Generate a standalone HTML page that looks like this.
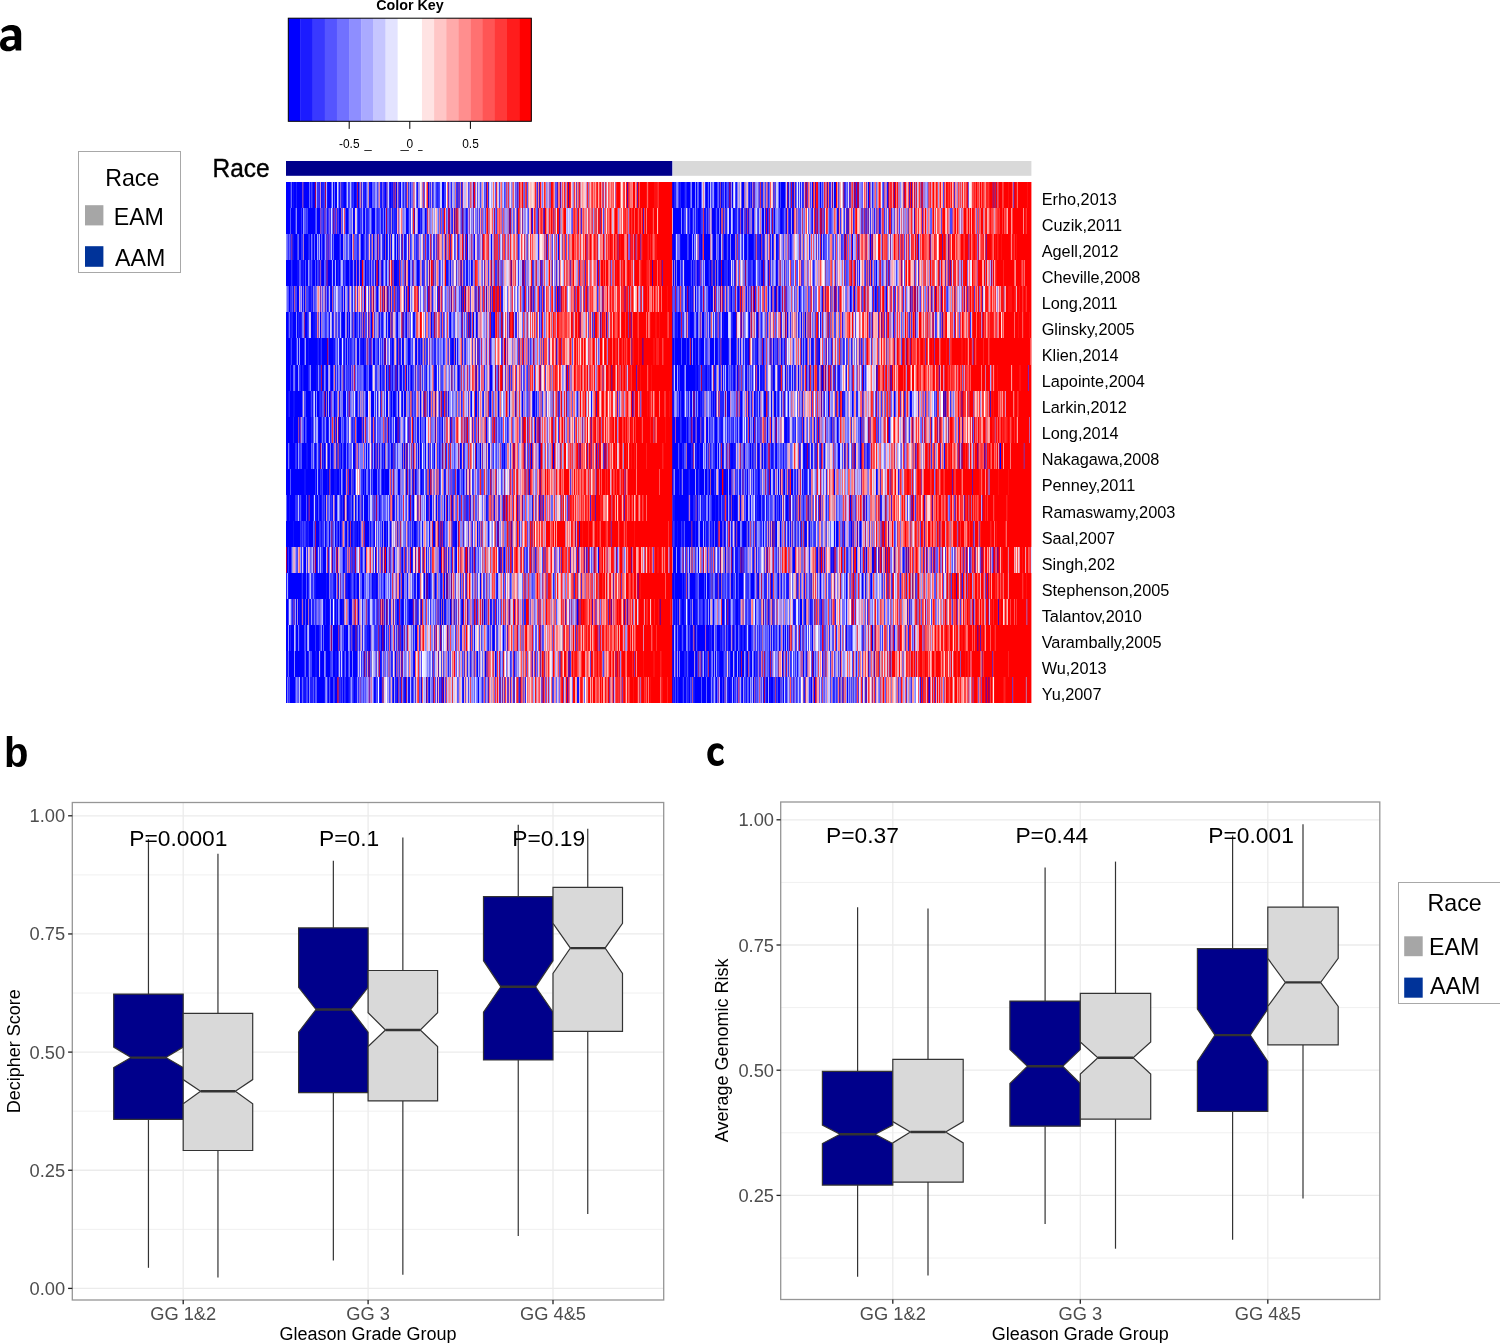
<!DOCTYPE html>
<html><head><meta charset="utf-8"><title>Figure</title>
<style>html,body{margin:0;padding:0;background:#fff;}body{width:1500px;height:1343px;overflow:hidden;}svg{display:block;will-change:transform;}</style>
</head><body>
<svg width="1500" height="1343" viewBox="0 0 1500 1343" font-family='"Liberation Sans", sans-serif'>
<rect width="1500" height="1343" fill="#fff"/>
<path fill-rule="evenodd" d="M1.3 29.6C4 26.5 7.5 25 11 25C17.5 25 21.2 27.5 21.2 33.5L21.2 50.4L15.7 50.4L15.3 48.2C13.6 50.2 11 51.3 8 51.3C3 51.3 0 48.5 0 44.2C0 38.6 5 36.3 11 36.3L14.6 36.3L14.6 35.2C14.6 31.7 13 30.3 10 30.3C7.2 30.3 4.6 31.3 2.4 32.9ZM14.6 40.1L11.3 40.1C7.9 40.1 6.1 41.5 6.1 43.6C6.1 45.6 7.4 46.7 9.5 46.7C12.1 46.7 14.6 45.2 14.6 42.9Z"/>
<text transform="translate(4.1 766.6) scale(0.94 1)" font-size="42.6" font-weight="bold">b</text>
<path d="M723.8 747.2C722 744.5 720 743.2 717.3 743.2C711 743.2 707.3 748 707.3 754.5C707.3 761.5 711 765.9 717 765.9C720.3 765.9 722.6 764.6 724 762.5L722.8 758.6C721.5 760 719.8 760.9 717.8 760.9C715 760.9 713.1 758.5 713.1 754.5C713.1 750.5 715 748.2 717.6 748.2C719.7 748.2 721.3 749 722.5 750.2Z"/>
<text x="410" y="9.8" font-size="14.3" text-anchor="middle" font-weight="bold" fill="#000">Color Key</text>
<rect x="288.30" y="18.20" width="12.45" height="103.10" fill="#0000ff"/>
<rect x="300.45" y="18.20" width="12.45" height="103.10" fill="#1c1cff"/>
<rect x="312.60" y="18.20" width="12.45" height="103.10" fill="#3939ff"/>
<rect x="324.75" y="18.20" width="12.45" height="103.10" fill="#5555ff"/>
<rect x="336.90" y="18.20" width="12.45" height="103.10" fill="#7171ff"/>
<rect x="349.05" y="18.20" width="12.45" height="103.10" fill="#8e8eff"/>
<rect x="361.20" y="18.20" width="12.45" height="103.10" fill="#aaaaff"/>
<rect x="373.35" y="18.20" width="12.45" height="103.10" fill="#c6c6ff"/>
<rect x="385.50" y="18.20" width="12.45" height="103.10" fill="#e3e3ff"/>
<rect x="397.65" y="18.20" width="12.45" height="103.10" fill="#ffffff"/>
<rect x="409.80" y="18.20" width="12.45" height="103.10" fill="#ffffff"/>
<rect x="421.95" y="18.20" width="12.45" height="103.10" fill="#ffe3e3"/>
<rect x="434.10" y="18.20" width="12.45" height="103.10" fill="#ffc6c6"/>
<rect x="446.25" y="18.20" width="12.45" height="103.10" fill="#ffaaaa"/>
<rect x="458.40" y="18.20" width="12.45" height="103.10" fill="#ff8e8e"/>
<rect x="470.55" y="18.20" width="12.45" height="103.10" fill="#ff7171"/>
<rect x="482.70" y="18.20" width="12.45" height="103.10" fill="#ff5555"/>
<rect x="494.85" y="18.20" width="12.45" height="103.10" fill="#ff3939"/>
<rect x="507.00" y="18.20" width="12.45" height="103.10" fill="#ff1c1c"/>
<rect x="519.15" y="18.20" width="12.45" height="103.10" fill="#ff0000"/>
<rect x="288.30" y="18.20" width="243.00" height="103.10" fill="none" stroke="#000" stroke-width="1"/>
<line x1="349.2" y1="121.3" x2="349.2" y2="128.9" stroke="#000" stroke-width="1"/>
<line x1="409.8" y1="121.3" x2="409.8" y2="128.9" stroke="#000" stroke-width="1"/>
<line x1="470.4" y1="121.3" x2="470.4" y2="128.9" stroke="#000" stroke-width="1"/>
<text x="349.3" y="147.6" font-size="11.9" text-anchor="middle" font-weight="normal" fill="#000">-0.5</text>
<text x="409.8" y="147.6" font-size="11.9" text-anchor="middle" font-weight="normal" fill="#000">0</text>
<text x="470.5" y="147.6" font-size="11.9" text-anchor="middle" font-weight="normal" fill="#000">0.5</text>
<line x1="364.3" y1="150.5" x2="371.8" y2="150.5" stroke="#000" stroke-width="0.8"/>
<line x1="400.4" y1="150.5" x2="408.9" y2="150.5" stroke="#000" stroke-width="0.8"/>
<line x1="418" y1="150.5" x2="422.6" y2="150.5" stroke="#000" stroke-width="0.8"/>
<rect x="78.5" y="151.5" width="102" height="121" fill="#fff" stroke="#a8a8a8" stroke-width="1"/>
<text x="105.2" y="186.1" font-size="23.2" text-anchor="start" font-weight="normal" fill="#000">Race</text>
<rect x="85" y="205.2" width="18.4" height="20.2" fill="#a6a6a6"/>
<text x="113.7" y="224.5" font-size="23.2" text-anchor="start" font-weight="normal" fill="#000">EAM</text>
<rect x="85" y="246.2" width="18.4" height="20.6" fill="#003399"/>
<text x="115.0" y="265.7" font-size="23.2" text-anchor="start" font-weight="normal" fill="#000">AAM</text>
<text transform="translate(212.6 177) scale(0.93 1)" font-size="26.3" stroke="#000" stroke-width="0.4">Race</text>
<rect x="286" y="161" width="386.3" height="14.8" fill="#00008b"/>
<rect x="673.0" y="161" width="358.4" height="14.8" fill="#d9d9d9"/>
<g shape-rendering="crispEdges"><path fill="#00f" d="M286 182.0h4v26.07h-4zM292 182.0h1v26.07h-1zM294 182.0h2v26.07h-2zM297 182.0h5v26.07h-5zM304 182.0h5v26.07h-5zM313 182.0h1v26.07h-1zM328 182.0h3v26.07h-3zM333 182.0h1v26.07h-1zM335 182.0h2v26.07h-2zM344 182.0h2v26.07h-2zM354 182.0h2v26.07h-2zM358 182.0h1v26.07h-1zM371 182.0h1v26.07h-1zM385 182.0h1v26.07h-1zM390 182.0h1v26.07h-1zM396 182.0h1v26.07h-1zM400 182.0h1v26.07h-1zM442 182.0h2v26.07h-2zM673 182.0h1v26.07h-1zM681 182.0h3v26.07h-3zM687 182.0h3v26.07h-3zM692 182.0h3v26.07h-3zM696 182.0h1v26.07h-1zM699 182.0h2v26.07h-2zM706 182.0h1v26.07h-1zM709 182.0h1v26.07h-1zM715 182.0h2v26.07h-2zM721 182.0h1v26.07h-1zM725 182.0h1v26.07h-1zM732 182.0h1v26.07h-1zM742 182.0h2v26.07h-2zM779 182.0h1v26.07h-1zM781 182.0h4v26.07h-4zM812 182.0h1v26.07h-1zM820 182.0h1v26.07h-1zM834 182.0h1v26.07h-1zM868 182.0h1v26.07h-1zM286 208.07h4v26.07h-4zM291 208.07h4v26.07h-4zM297 208.07h4v26.07h-4zM302 208.07h1v26.07h-1zM308 208.07h7v26.07h-7zM317 208.07h3v26.07h-3zM339 208.07h2v26.07h-2zM346 208.07h2v26.07h-2zM353 208.07h1v26.07h-1zM364 208.07h1v26.07h-1zM372 208.07h3v26.07h-3zM384 208.07h1v26.07h-1zM406 208.07h2v26.07h-2zM418 208.07h2v26.07h-2zM425 208.07h1v26.07h-1zM673 208.07h8v26.07h-8zM682 208.07h1v26.07h-1zM691 208.07h1v26.07h-1zM698 208.07h2v26.07h-2zM712 208.07h3v26.07h-3zM718 208.07h1v26.07h-1zM720 208.07h1v26.07h-1zM729 208.07h1v26.07h-1zM733 208.07h1v26.07h-1zM742 208.07h1v26.07h-1zM753 208.07h1v26.07h-1zM762 208.07h2v26.07h-2zM767 208.07h1v26.07h-1zM774 208.07h1v26.07h-1zM781 208.07h1v26.07h-1zM792 208.07h1v26.07h-1zM294 234.15h3v26.07h-3zM299 234.15h2v26.07h-2zM304 234.15h4v26.07h-4zM310 234.15h1v26.07h-1zM313 234.15h1v26.07h-1zM315 234.15h2v26.07h-2zM320 234.15h1v26.07h-1zM323 234.15h1v26.07h-1zM334 234.15h5v26.07h-5zM341 234.15h2v26.07h-2zM351 234.15h1v26.07h-1zM361 234.15h2v26.07h-2zM373 234.15h1v26.07h-1zM384 234.15h1v26.07h-1zM386 234.15h1v26.07h-1zM391 234.15h1v26.07h-1zM395 234.15h1v26.07h-1zM397 234.15h1v26.07h-1zM467 234.15h1v26.07h-1zM491 234.15h1v26.07h-1zM558 234.15h1v26.07h-1zM673 234.15h2v26.07h-2zM681 234.15h6v26.07h-6zM689 234.15h3v26.07h-3zM693 234.15h1v26.07h-1zM701 234.15h1v26.07h-1zM704 234.15h6v26.07h-6zM713 234.15h3v26.07h-3zM719 234.15h2v26.07h-2zM724 234.15h2v26.07h-2zM729 234.15h1v26.07h-1zM731 234.15h4v26.07h-4zM745 234.15h2v26.07h-2zM749 234.15h4v26.07h-4zM760 234.15h1v26.07h-1zM772 234.15h1v26.07h-1zM776 234.15h1v26.07h-1zM852 234.15h1v26.07h-1zM870 234.15h1v26.07h-1zM286 260.23h5v26.07h-5zM293 260.23h4v26.07h-4zM304 260.23h1v26.07h-1zM306 260.23h2v26.07h-2zM313 260.23h2v26.07h-2zM316 260.23h1v26.07h-1zM322 260.23h2v26.07h-2zM328 260.23h3v26.07h-3zM333 260.23h1v26.07h-1zM336 260.23h1v26.07h-1zM339 260.23h1v26.07h-1zM346 260.23h3v26.07h-3zM351 260.23h1v26.07h-1zM355 260.23h1v26.07h-1zM357 260.23h1v26.07h-1zM360 260.23h1v26.07h-1zM365 260.23h1v26.07h-1zM375 260.23h1v26.07h-1zM378 260.23h1v26.07h-1zM382 260.23h1v26.07h-1zM394 260.23h3v26.07h-3zM409 260.23h1v26.07h-1zM417 260.23h2v26.07h-2zM471 260.23h1v26.07h-1zM673 260.23h1v26.07h-1zM675 260.23h1v26.07h-1zM677 260.23h3v26.07h-3zM685 260.23h5v26.07h-5zM692 260.23h1v26.07h-1zM697 260.23h1v26.07h-1zM705 260.23h3v26.07h-3zM710 260.23h1v26.07h-1zM716 260.23h1v26.07h-1zM719 260.23h2v26.07h-2zM722 260.23h2v26.07h-2zM728 260.23h1v26.07h-1zM753 260.23h1v26.07h-1zM762 260.23h1v26.07h-1zM776 260.23h1v26.07h-1zM876 260.23h1v26.07h-1zM289 286.3h1v26.07h-1zM297 286.3h2v26.07h-2zM304 286.3h1v26.07h-1zM331 286.3h1v26.07h-1zM344 286.3h1v26.07h-1zM364 286.3h1v26.07h-1zM377 286.3h1v26.07h-1zM409 286.3h1v26.07h-1zM557 286.3h1v26.07h-1zM685 286.3h1v26.07h-1zM695 286.3h1v26.07h-1zM709 286.3h1v26.07h-1zM711 286.3h1v26.07h-1zM731 286.3h1v26.07h-1zM738 286.3h1v26.07h-1zM754 286.3h1v26.07h-1zM771 286.3h1v26.07h-1zM775 286.3h1v26.07h-1zM779 286.3h1v26.07h-1zM799 286.3h1v26.07h-1zM850 286.3h1v26.07h-1zM854 286.3h1v26.07h-1zM875 286.3h1v26.07h-1zM886 286.3h1v26.07h-1zM286 312.38h2v26.07h-2zM293 312.38h3v26.07h-3zM297 312.38h1v26.07h-1zM305 312.38h2v26.07h-2zM311 312.38h2v26.07h-2zM320 312.38h1v26.07h-1zM342 312.38h3v26.07h-3zM347 312.38h1v26.07h-1zM349 312.38h1v26.07h-1zM355 312.38h1v26.07h-1zM371 312.38h1v26.07h-1zM389 312.38h1v26.07h-1zM397 312.38h1v26.07h-1zM406 312.38h1v26.07h-1zM431 312.38h1v26.07h-1zM450 312.38h1v26.07h-1zM473 312.38h1v26.07h-1zM476 312.38h1v26.07h-1zM678 312.38h2v26.07h-2zM690 312.38h3v26.07h-3zM697 312.38h1v26.07h-1zM702 312.38h2v26.07h-2zM722 312.38h1v26.07h-1zM724 312.38h4v26.07h-4zM733 312.38h3v26.07h-3zM749 312.38h1v26.07h-1zM757 312.38h1v26.07h-1zM787 312.38h1v26.07h-1zM801 312.38h1v26.07h-1zM805 312.38h1v26.07h-1zM286 338.45h4v26.07h-4zM292 338.45h4v26.07h-4zM298 338.45h1v26.07h-1zM300 338.45h4v26.07h-4zM306 338.45h2v26.07h-2zM309 338.45h8v26.07h-8zM319 338.45h1v26.07h-1zM322 338.45h5v26.07h-5zM329 338.45h4v26.07h-4zM340 338.45h1v26.07h-1zM346 338.45h1v26.07h-1zM357 338.45h2v26.07h-2zM363 338.45h1v26.07h-1zM373 338.45h2v26.07h-2zM392 338.45h1v26.07h-1zM397 338.45h1v26.07h-1zM402 338.45h1v26.07h-1zM408 338.45h2v26.07h-2zM416 338.45h1v26.07h-1zM452 338.45h1v26.07h-1zM455 338.45h1v26.07h-1zM673 338.45h1v26.07h-1zM675 338.45h6v26.07h-6zM682 338.45h4v26.07h-4zM687 338.45h2v26.07h-2zM691 338.45h1v26.07h-1zM693 338.45h2v26.07h-2zM696 338.45h2v26.07h-2zM701 338.45h3v26.07h-3zM710 338.45h4v26.07h-4zM715 338.45h2v26.07h-2zM722 338.45h6v26.07h-6zM731 338.45h5v26.07h-5zM748 338.45h1v26.07h-1zM757 338.45h1v26.07h-1zM763 338.45h1v26.07h-1zM773 338.45h1v26.07h-1zM781 338.45h1v26.07h-1zM806 338.45h1v26.07h-1zM819 338.45h1v26.07h-1zM286 364.52h4v26.07h-4zM291 364.52h2v26.07h-2zM296 364.52h2v26.07h-2zM301 364.52h1v26.07h-1zM304 364.52h4v26.07h-4zM311 364.52h5v26.07h-5zM322 364.52h1v26.07h-1zM326 364.52h2v26.07h-2zM331 364.52h2v26.07h-2zM364 364.52h2v26.07h-2zM369 364.52h3v26.07h-3zM380 364.52h1v26.07h-1zM386 364.52h1v26.07h-1zM397 364.52h1v26.07h-1zM400 364.52h1v26.07h-1zM406 364.52h1v26.07h-1zM411 364.52h1v26.07h-1zM435 364.52h1v26.07h-1zM458 364.52h1v26.07h-1zM490 364.52h2v26.07h-2zM675 364.52h2v26.07h-2zM680 364.52h4v26.07h-4zM686 364.52h9v26.07h-9zM697 364.52h1v26.07h-1zM706 364.52h1v26.07h-1zM710 364.52h1v26.07h-1zM722 364.52h1v26.07h-1zM727 364.52h1v26.07h-1zM734 364.52h1v26.07h-1zM737 364.52h1v26.07h-1zM746 364.52h1v26.07h-1zM758 364.52h1v26.07h-1zM773 364.52h1v26.07h-1zM785 364.52h1v26.07h-1zM798 364.52h1v26.07h-1zM822 364.52h1v26.07h-1zM863 364.52h1v26.07h-1zM286 390.6h2v26.07h-2zM290 390.6h3v26.07h-3zM295 390.6h7v26.07h-7zM306 390.6h4v26.07h-4zM315 390.6h1v26.07h-1zM317 390.6h2v26.07h-2zM325 390.6h1v26.07h-1zM327 390.6h1v26.07h-1zM329 390.6h1v26.07h-1zM334 390.6h1v26.07h-1zM343 390.6h3v26.07h-3zM356 390.6h1v26.07h-1zM366 390.6h2v26.07h-2zM371 390.6h3v26.07h-3zM386 390.6h2v26.07h-2zM391 390.6h1v26.07h-1zM393 390.6h2v26.07h-2zM398 390.6h1v26.07h-1zM402 390.6h1v26.07h-1zM404 390.6h2v26.07h-2zM420 390.6h1v26.07h-1zM429 390.6h1v26.07h-1zM471 390.6h1v26.07h-1zM475 390.6h2v26.07h-2zM490 390.6h1v26.07h-1zM498 390.6h1v26.07h-1zM522 390.6h1v26.07h-1zM533 390.6h2v26.07h-2zM679 390.6h1v26.07h-1zM682 390.6h2v26.07h-2zM691 390.6h1v26.07h-1zM699 390.6h1v26.07h-1zM713 390.6h1v26.07h-1zM715 390.6h1v26.07h-1zM727 390.6h1v26.07h-1zM729 390.6h1v26.07h-1zM741 390.6h1v26.07h-1zM754 390.6h1v26.07h-1zM764 390.6h2v26.07h-2zM771 390.6h1v26.07h-1zM774 390.6h2v26.07h-2zM828 390.6h1v26.07h-1zM852 390.6h1v26.07h-1zM894 390.6h1v26.07h-1zM910 390.6h1v26.07h-1zM286 416.67h7v26.07h-7zM294 416.67h4v26.07h-4zM304 416.67h1v26.07h-1zM307 416.67h4v26.07h-4zM319 416.67h2v26.07h-2zM327 416.67h1v26.07h-1zM339 416.67h2v26.07h-2zM357 416.67h4v26.07h-4zM395 416.67h2v26.07h-2zM420 416.67h1v26.07h-1zM425 416.67h1v26.07h-1zM442 416.67h1v26.07h-1zM486 416.67h1v26.07h-1zM535 416.67h1v26.07h-1zM673 416.67h1v26.07h-1zM676 416.67h4v26.07h-4zM682 416.67h4v26.07h-4zM687 416.67h1v26.07h-1zM693 416.67h2v26.07h-2zM697 416.67h3v26.07h-3zM707 416.67h1v26.07h-1zM715 416.67h2v26.07h-2zM740 416.67h2v26.07h-2zM749 416.67h1v26.07h-1zM753 416.67h1v26.07h-1zM767 416.67h1v26.07h-1zM771 416.67h1v26.07h-1zM785 416.67h2v26.07h-2zM803 416.67h1v26.07h-1zM837 416.67h1v26.07h-1zM860 416.67h1v26.07h-1zM286 442.75h2v26.07h-2zM290 442.75h5v26.07h-5zM297 442.75h1v26.07h-1zM302 442.75h4v26.07h-4zM308 442.75h3v26.07h-3zM315 442.75h1v26.07h-1zM324 442.75h1v26.07h-1zM328 442.75h1v26.07h-1zM331 442.75h1v26.07h-1zM341 442.75h1v26.07h-1zM344 442.75h2v26.07h-2zM353 442.75h2v26.07h-2zM366 442.75h1v26.07h-1zM374 442.75h1v26.07h-1zM384 442.75h1v26.07h-1zM391 442.75h1v26.07h-1zM404 442.75h1v26.07h-1zM418 442.75h1v26.07h-1zM420 442.75h1v26.07h-1zM425 442.75h1v26.07h-1zM434 442.75h1v26.07h-1zM460 442.75h1v26.07h-1zM476 442.75h1v26.07h-1zM480 442.75h1v26.07h-1zM504 442.75h1v26.07h-1zM531 442.75h1v26.07h-1zM539 442.75h1v26.07h-1zM553 442.75h1v26.07h-1zM673 442.75h5v26.07h-5zM680 442.75h2v26.07h-2zM687 442.75h4v26.07h-4zM697 442.75h2v26.07h-2zM700 442.75h3v26.07h-3zM715 442.75h2v26.07h-2zM718 442.75h1v26.07h-1zM722 442.75h1v26.07h-1zM731 442.75h2v26.07h-2zM744 442.75h1v26.07h-1zM750 442.75h1v26.07h-1zM758 442.75h1v26.07h-1zM762 442.75h1v26.07h-1zM776 442.75h1v26.07h-1zM804 442.75h1v26.07h-1zM838 442.75h2v26.07h-2zM860 442.75h1v26.07h-1zM1000 442.75h1v26.07h-1zM286 468.82h4v26.07h-4zM291 468.82h13v26.07h-13zM306 468.82h9v26.07h-9zM316 468.82h1v26.07h-1zM319 468.82h1v26.07h-1zM323 468.82h4v26.07h-4zM328 468.82h1v26.07h-1zM331 468.82h3v26.07h-3zM337 468.82h2v26.07h-2zM340 468.82h1v26.07h-1zM343 468.82h2v26.07h-2zM349 468.82h2v26.07h-2zM354 468.82h1v26.07h-1zM363 468.82h1v26.07h-1zM365 468.82h1v26.07h-1zM373 468.82h4v26.07h-4zM382 468.82h2v26.07h-2zM385 468.82h4v26.07h-4zM398 468.82h2v26.07h-2zM406 468.82h1v26.07h-1zM415 468.82h1v26.07h-1zM421 468.82h1v26.07h-1zM457 468.82h2v26.07h-2zM463 468.82h1v26.07h-1zM675 468.82h4v26.07h-4zM680 468.82h1v26.07h-1zM683 468.82h5v26.07h-5zM690 468.82h5v26.07h-5zM696 468.82h2v26.07h-2zM700 468.82h4v26.07h-4zM705 468.82h2v26.07h-2zM709 468.82h1v26.07h-1zM711 468.82h3v26.07h-3zM719 468.82h2v26.07h-2zM724 468.82h2v26.07h-2zM727 468.82h1v26.07h-1zM729 468.82h2v26.07h-2zM747 468.82h1v26.07h-1zM758 468.82h1v26.07h-1zM770 468.82h1v26.07h-1zM778 468.82h1v26.07h-1zM784 468.82h1v26.07h-1zM791 468.82h2v26.07h-2zM834 468.82h1v26.07h-1zM876 468.82h1v26.07h-1zM287 494.9h2v26.07h-2zM290 494.9h5v26.07h-5zM302 494.9h4v26.07h-4zM307 494.9h1v26.07h-1zM310 494.9h3v26.07h-3zM317 494.9h1v26.07h-1zM320 494.9h1v26.07h-1zM325 494.9h1v26.07h-1zM335 494.9h2v26.07h-2zM343 494.9h1v26.07h-1zM347 494.9h1v26.07h-1zM352 494.9h1v26.07h-1zM355 494.9h1v26.07h-1zM358 494.9h1v26.07h-1zM364 494.9h4v26.07h-4zM393 494.9h1v26.07h-1zM409 494.9h1v26.07h-1zM413 494.9h1v26.07h-1zM426 494.9h1v26.07h-1zM430 494.9h2v26.07h-2zM436 494.9h1v26.07h-1zM444 494.9h1v26.07h-1zM447 494.9h1v26.07h-1zM675 494.9h13v26.07h-13zM691 494.9h2v26.07h-2zM697 494.9h1v26.07h-1zM708 494.9h1v26.07h-1zM712 494.9h3v26.07h-3zM716 494.9h2v26.07h-2zM720 494.9h1v26.07h-1zM727 494.9h1v26.07h-1zM732 494.9h1v26.07h-1zM734 494.9h3v26.07h-3zM740 494.9h1v26.07h-1zM746 494.9h2v26.07h-2zM759 494.9h2v26.07h-2zM775 494.9h1v26.07h-1zM779 494.9h1v26.07h-1zM786 494.9h2v26.07h-2zM850 494.9h1v26.07h-1zM286 520.97h7v26.07h-7zM294 520.97h6v26.07h-6zM309 520.97h4v26.07h-4zM316 520.97h3v26.07h-3zM325 520.97h1v26.07h-1zM329 520.97h1v26.07h-1zM335 520.97h1v26.07h-1zM338 520.97h1v26.07h-1zM340 520.97h1v26.07h-1zM346 520.97h1v26.07h-1zM349 520.97h1v26.07h-1zM351 520.97h1v26.07h-1zM357 520.97h1v26.07h-1zM359 520.97h1v26.07h-1zM365 520.97h4v26.07h-4zM382 520.97h1v26.07h-1zM384 520.97h2v26.07h-2zM387 520.97h1v26.07h-1zM414 520.97h2v26.07h-2zM433 520.97h2v26.07h-2zM455 520.97h2v26.07h-2zM477 520.97h1v26.07h-1zM675 520.97h2v26.07h-2zM678 520.97h3v26.07h-3zM685 520.97h6v26.07h-6zM693 520.97h2v26.07h-2zM696 520.97h2v26.07h-2zM700 520.97h3v26.07h-3zM704 520.97h1v26.07h-1zM713 520.97h1v26.07h-1zM715 520.97h2v26.07h-2zM720 520.97h2v26.07h-2zM724 520.97h1v26.07h-1zM735 520.97h1v26.07h-1zM738 520.97h2v26.07h-2zM743 520.97h3v26.07h-3zM763 520.97h1v26.07h-1zM776 520.97h1v26.07h-1zM780 520.97h1v26.07h-1zM805 520.97h1v26.07h-1zM809 520.97h1v26.07h-1zM834 520.97h1v26.07h-1zM836 520.97h2v26.07h-2zM851 520.97h1v26.07h-1zM860 520.97h1v26.07h-1zM287 547.05h1v26.07h-1zM289 547.05h2v26.07h-2zM304 547.05h2v26.07h-2zM316 547.05h1v26.07h-1zM323 547.05h3v26.07h-3zM343 547.05h1v26.07h-1zM365 547.05h1v26.07h-1zM375 547.05h1v26.07h-1zM386 547.05h1v26.07h-1zM402 547.05h1v26.07h-1zM411 547.05h1v26.07h-1zM440 547.05h1v26.07h-1zM456 547.05h1v26.07h-1zM504 547.05h1v26.07h-1zM598 547.05h1v26.07h-1zM673 547.05h3v26.07h-3zM677 547.05h3v26.07h-3zM698 547.05h1v26.07h-1zM725 547.05h1v26.07h-1zM732 547.05h1v26.07h-1zM793 547.05h2v26.07h-2zM817 547.05h1v26.07h-1zM856 547.05h1v26.07h-1zM866 547.05h1v26.07h-1zM872 547.05h1v26.07h-1zM289 573.12h12v26.07h-12zM303 573.12h3v26.07h-3zM307 573.12h1v26.07h-1zM316 573.12h10v26.07h-10zM327 573.12h2v26.07h-2zM335 573.12h1v26.07h-1zM348 573.12h2v26.07h-2zM354 573.12h1v26.07h-1zM357 573.12h2v26.07h-2zM362 573.12h2v26.07h-2zM372 573.12h1v26.07h-1zM376 573.12h1v26.07h-1zM384 573.12h1v26.07h-1zM402 573.12h2v26.07h-2zM417 573.12h2v26.07h-2zM424 573.12h1v26.07h-1zM429 573.12h1v26.07h-1zM435 573.12h1v26.07h-1zM444 573.12h1v26.07h-1zM480 573.12h1v26.07h-1zM673 573.12h1v26.07h-1zM675 573.12h7v26.07h-7zM683 573.12h1v26.07h-1zM690 573.12h5v26.07h-5zM699 573.12h5v26.07h-5zM705 573.12h1v26.07h-1zM707 573.12h2v26.07h-2zM720 573.12h1v26.07h-1zM731 573.12h2v26.07h-2zM736 573.12h1v26.07h-1zM739 573.12h4v26.07h-4zM751 573.12h3v26.07h-3zM758 573.12h1v26.07h-1zM771 573.12h1v26.07h-1zM778 573.12h1v26.07h-1zM820 573.12h1v26.07h-1zM846 573.12h1v26.07h-1zM862 573.12h1v26.07h-1zM871 573.12h1v26.07h-1zM286 599.2h2v26.07h-2zM296 599.2h1v26.07h-1zM298 599.2h1v26.07h-1zM300 599.2h1v26.07h-1zM304 599.2h1v26.07h-1zM306 599.2h2v26.07h-2zM324 599.2h1v26.07h-1zM326 599.2h3v26.07h-3zM331 599.2h1v26.07h-1zM335 599.2h1v26.07h-1zM337 599.2h1v26.07h-1zM340 599.2h2v26.07h-2zM349 599.2h2v26.07h-2zM358 599.2h1v26.07h-1zM397 599.2h1v26.07h-1zM402 599.2h1v26.07h-1zM409 599.2h3v26.07h-3zM440 599.2h1v26.07h-1zM442 599.2h1v26.07h-1zM450 599.2h1v26.07h-1zM462 599.2h1v26.07h-1zM484 599.2h1v26.07h-1zM577 599.2h1v26.07h-1zM676 599.2h1v26.07h-1zM678 599.2h1v26.07h-1zM682 599.2h2v26.07h-2zM688 599.2h2v26.07h-2zM693 599.2h2v26.07h-2zM703 599.2h1v26.07h-1zM709 599.2h1v26.07h-1zM713 599.2h1v26.07h-1zM722 599.2h2v26.07h-2zM729 599.2h1v26.07h-1zM736 599.2h2v26.07h-2zM800 599.2h2v26.07h-2zM805 599.2h1v26.07h-1zM286 625.27h2v26.07h-2zM289 625.27h1v26.07h-1zM291 625.27h3v26.07h-3zM296 625.27h2v26.07h-2zM300 625.27h4v26.07h-4zM306 625.27h1v26.07h-1zM310 625.27h5v26.07h-5zM316 625.27h3v26.07h-3zM322 625.27h1v26.07h-1zM324 625.27h5v26.07h-5zM333 625.27h5v26.07h-5zM344 625.27h1v26.07h-1zM346 625.27h2v26.07h-2zM353 625.27h2v26.07h-2zM369 625.27h1v26.07h-1zM381 625.27h1v26.07h-1zM384 625.27h1v26.07h-1zM402 625.27h1v26.07h-1zM415 625.27h2v26.07h-2zM493 625.27h1v26.07h-1zM503 625.27h1v26.07h-1zM673 625.27h1v26.07h-1zM676 625.27h1v26.07h-1zM680 625.27h1v26.07h-1zM684 625.27h2v26.07h-2zM691 625.27h1v26.07h-1zM695 625.27h1v26.07h-1zM698 625.27h7v26.07h-7zM707 625.27h2v26.07h-2zM712 625.27h2v26.07h-2zM717 625.27h3v26.07h-3zM729 625.27h1v26.07h-1zM733 625.27h1v26.07h-1zM736 625.27h2v26.07h-2zM741 625.27h1v26.07h-1zM744 625.27h1v26.07h-1zM749 625.27h2v26.07h-2zM779 625.27h1v26.07h-1zM783 625.27h1v26.07h-1zM785 625.27h1v26.07h-1zM812 625.27h1v26.07h-1zM846 625.27h1v26.07h-1zM872 625.27h1v26.07h-1zM289 651.35h5v26.07h-5zM295 651.35h9v26.07h-9zM306 651.35h2v26.07h-2zM312 651.35h3v26.07h-3zM317 651.35h2v26.07h-2zM321 651.35h3v26.07h-3zM326 651.35h4v26.07h-4zM333 651.35h2v26.07h-2zM337 651.35h1v26.07h-1zM343 651.35h1v26.07h-1zM346 651.35h2v26.07h-2zM350 651.35h2v26.07h-2zM353 651.35h4v26.07h-4zM395 651.35h1v26.07h-1zM477 651.35h1v26.07h-1zM485 651.35h1v26.07h-1zM495 651.35h1v26.07h-1zM673 651.35h1v26.07h-1zM678 651.35h1v26.07h-1zM680 651.35h4v26.07h-4zM689 651.35h5v26.07h-5zM696 651.35h1v26.07h-1zM704 651.35h1v26.07h-1zM709 651.35h1v26.07h-1zM713 651.35h1v26.07h-1zM715 651.35h1v26.07h-1zM720 651.35h3v26.07h-3zM731 651.35h2v26.07h-2zM735 651.35h2v26.07h-2zM738 651.35h1v26.07h-1zM740 651.35h1v26.07h-1zM742 651.35h2v26.07h-2zM747 651.35h1v26.07h-1zM751 651.35h1v26.07h-1zM754 651.35h1v26.07h-1zM782 651.35h1v26.07h-1zM803 651.35h1v26.07h-1zM286 677.42h1v26.07h-1zM290 677.42h5v26.07h-5zM300 677.42h1v26.07h-1zM308 677.42h1v26.07h-1zM317 677.42h7v26.07h-7zM328 677.42h1v26.07h-1zM331 677.42h2v26.07h-2zM335 677.42h2v26.07h-2zM343 677.42h1v26.07h-1zM346 677.42h2v26.07h-2zM354 677.42h1v26.07h-1zM374 677.42h1v26.07h-1zM380 677.42h1v26.07h-1zM393 677.42h1v26.07h-1zM397 677.42h1v26.07h-1zM405 677.42h1v26.07h-1zM429 677.42h1v26.07h-1zM478 677.42h1v26.07h-1zM676 677.42h1v26.07h-1zM679 677.42h3v26.07h-3zM684 677.42h2v26.07h-2zM689 677.42h1v26.07h-1zM695 677.42h6v26.07h-6zM702 677.42h4v26.07h-4zM707 677.42h3v26.07h-3zM716 677.42h1v26.07h-1zM720 677.42h2v26.07h-2zM723 677.42h1v26.07h-1zM729 677.42h1v26.07h-1zM733 677.42h1v26.07h-1zM742 677.42h1v26.07h-1zM749 677.42h1v26.07h-1zM753 677.42h1v26.07h-1zM767 677.42h1v26.07h-1zM769 677.42h1v26.07h-1zM771 677.42h2v26.07h-2zM778 677.42h2v26.07h-2zM783 677.42h1v26.07h-1zM811 677.42h1v26.07h-1zM814 677.42h1v26.07h-1zM847 677.42h1v26.07h-1z"/><path fill="#22f" d="M290 182.0h1v26.07h-1zM296 182.0h1v26.07h-1zM312 182.0h1v26.07h-1zM322 182.0h2v26.07h-2zM342 182.0h1v26.07h-1zM352 182.0h1v26.07h-1zM356 182.0h1v26.07h-1zM363 182.0h2v26.07h-2zM380 182.0h1v26.07h-1zM384 182.0h1v26.07h-1zM389 182.0h1v26.07h-1zM391 182.0h1v26.07h-1zM399 182.0h1v26.07h-1zM403 182.0h1v26.07h-1zM410 182.0h1v26.07h-1zM437 182.0h1v26.07h-1zM451 182.0h1v26.07h-1zM461 182.0h1v26.07h-1zM674 182.0h2v26.07h-2zM680 182.0h1v26.07h-1zM686 182.0h1v26.07h-1zM705 182.0h1v26.07h-1zM723 182.0h1v26.07h-1zM761 182.0h2v26.07h-2zM768 182.0h1v26.07h-1zM795 182.0h1v26.07h-1zM800 182.0h1v26.07h-1zM802 182.0h1v26.07h-1zM829 182.0h1v26.07h-1zM856 182.0h1v26.07h-1zM872 182.0h1v26.07h-1zM323 208.07h1v26.07h-1zM337 208.07h1v26.07h-1zM366 208.07h2v26.07h-2zM377 208.07h1v26.07h-1zM382 208.07h1v26.07h-1zM394 208.07h2v26.07h-2zM408 208.07h1v26.07h-1zM452 208.07h1v26.07h-1zM692 208.07h1v26.07h-1zM694 208.07h1v26.07h-1zM697 208.07h1v26.07h-1zM723 208.07h1v26.07h-1zM726 208.07h1v26.07h-1zM735 208.07h2v26.07h-2zM783 208.07h1v26.07h-1zM874 208.07h1v26.07h-1zM308 234.15h1v26.07h-1zM322 234.15h1v26.07h-1zM332 234.15h1v26.07h-1zM339 234.15h1v26.07h-1zM357 234.15h1v26.07h-1zM366 234.15h1v26.07h-1zM370 234.15h1v26.07h-1zM379 234.15h1v26.07h-1zM383 234.15h1v26.07h-1zM387 234.15h1v26.07h-1zM416 234.15h1v26.07h-1zM427 234.15h2v26.07h-2zM458 234.15h1v26.07h-1zM465 234.15h1v26.07h-1zM518 234.15h1v26.07h-1zM538 234.15h1v26.07h-1zM675 234.15h1v26.07h-1zM742 234.15h1v26.07h-1zM748 234.15h1v26.07h-1zM757 234.15h3v26.07h-3zM770 234.15h1v26.07h-1zM809 234.15h1v26.07h-1zM823 234.15h1v26.07h-1zM303 260.23h1v26.07h-1zM310 260.23h1v26.07h-1zM338 260.23h1v26.07h-1zM343 260.23h1v26.07h-1zM367 260.23h2v26.07h-2zM422 260.23h1v26.07h-1zM439 260.23h1v26.07h-1zM472 260.23h1v26.07h-1zM681 260.23h1v26.07h-1zM694 260.23h1v26.07h-1zM724 260.23h3v26.07h-3zM734 260.23h1v26.07h-1zM748 260.23h3v26.07h-3zM813 260.23h1v26.07h-1zM352 286.3h1v26.07h-1zM376 286.3h1v26.07h-1zM397 286.3h1v26.07h-1zM427 286.3h1v26.07h-1zM432 286.3h1v26.07h-1zM437 286.3h1v26.07h-1zM502 286.3h1v26.07h-1zM533 286.3h1v26.07h-1zM686 286.3h1v26.07h-1zM691 286.3h1v26.07h-1zM701 286.3h1v26.07h-1zM723 286.3h1v26.07h-1zM737 286.3h1v26.07h-1zM774 286.3h1v26.07h-1zM876 286.3h1v26.07h-1zM288 312.38h1v26.07h-1zM291 312.38h2v26.07h-2zM298 312.38h1v26.07h-1zM301 312.38h1v26.07h-1zM307 312.38h1v26.07h-1zM315 312.38h2v26.07h-2zM341 312.38h1v26.07h-1zM381 312.38h1v26.07h-1zM396 312.38h1v26.07h-1zM449 312.38h1v26.07h-1zM492 312.38h1v26.07h-1zM515 312.38h2v26.07h-2zM677 312.38h1v26.07h-1zM688 312.38h2v26.07h-2zM696 312.38h1v26.07h-1zM715 312.38h1v26.07h-1zM719 312.38h1v26.07h-1zM732 312.38h1v26.07h-1zM756 312.38h1v26.07h-1zM761 312.38h1v26.07h-1zM767 312.38h1v26.07h-1zM781 312.38h1v26.07h-1zM798 312.38h1v26.07h-1zM318 338.45h1v26.07h-1zM341 338.45h1v26.07h-1zM350 338.45h1v26.07h-1zM354 338.45h1v26.07h-1zM360 338.45h1v26.07h-1zM364 338.45h2v26.07h-2zM369 338.45h1v26.07h-1zM382 338.45h1v26.07h-1zM390 338.45h1v26.07h-1zM393 338.45h1v26.07h-1zM400 338.45h1v26.07h-1zM418 338.45h1v26.07h-1zM434 338.45h2v26.07h-2zM443 338.45h1v26.07h-1zM450 338.45h1v26.07h-1zM462 338.45h1v26.07h-1zM465 338.45h1v26.07h-1zM695 338.45h1v26.07h-1zM699 338.45h1v26.07h-1zM719 338.45h1v26.07h-1zM728 338.45h1v26.07h-1zM738 338.45h1v26.07h-1zM743 338.45h1v26.07h-1zM747 338.45h1v26.07h-1zM755 338.45h2v26.07h-2zM813 338.45h1v26.07h-1zM831 338.45h1v26.07h-1zM843 338.45h1v26.07h-1zM851 338.45h1v26.07h-1zM861 338.45h1v26.07h-1zM300 364.52h1v26.07h-1zM302 364.52h1v26.07h-1zM308 364.52h1v26.07h-1zM319 364.52h2v26.07h-2zM330 364.52h1v26.07h-1zM335 364.52h1v26.07h-1zM337 364.52h1v26.07h-1zM383 364.52h1v26.07h-1zM388 364.52h1v26.07h-1zM436 364.52h1v26.07h-1zM479 364.52h1v26.07h-1zM484 364.52h1v26.07h-1zM509 364.52h1v26.07h-1zM698 364.52h2v26.07h-2zM702 364.52h3v26.07h-3zM708 364.52h1v26.07h-1zM731 364.52h1v26.07h-1zM752 364.52h1v26.07h-1zM762 364.52h1v26.07h-1zM789 364.52h2v26.07h-2zM794 364.52h1v26.07h-1zM818 364.52h1v26.07h-1zM835 364.52h1v26.07h-1zM289 390.6h1v26.07h-1zM319 390.6h1v26.07h-1zM321 390.6h1v26.07h-1zM335 390.6h2v26.07h-2zM380 390.6h1v26.07h-1zM412 390.6h1v26.07h-1zM442 390.6h1v26.07h-1zM483 390.6h1v26.07h-1zM489 390.6h1v26.07h-1zM577 390.6h1v26.07h-1zM688 390.6h1v26.07h-1zM696 390.6h1v26.07h-1zM700 390.6h1v26.07h-1zM720 390.6h4v26.07h-4zM751 390.6h1v26.07h-1zM755 390.6h1v26.07h-1zM757 390.6h1v26.07h-1zM781 390.6h1v26.07h-1zM824 390.6h1v26.07h-1zM843 390.6h2v26.07h-2zM856 390.6h2v26.07h-2zM293 416.67h1v26.07h-1zM311 416.67h1v26.07h-1zM321 416.67h1v26.07h-1zM323 416.67h1v26.07h-1zM328 416.67h1v26.07h-1zM330 416.67h1v26.07h-1zM352 416.67h1v26.07h-1zM371 416.67h1v26.07h-1zM390 416.67h1v26.07h-1zM399 416.67h1v26.07h-1zM404 416.67h1v26.07h-1zM413 416.67h1v26.07h-1zM439 416.67h1v26.07h-1zM507 416.67h1v26.07h-1zM681 416.67h1v26.07h-1zM709 416.67h1v26.07h-1zM720 416.67h1v26.07h-1zM727 416.67h1v26.07h-1zM733 416.67h1v26.07h-1zM746 416.67h1v26.07h-1zM787 416.67h1v26.07h-1zM795 416.67h1v26.07h-1zM289 442.75h1v26.07h-1zM314 442.75h1v26.07h-1zM336 442.75h1v26.07h-1zM339 442.75h1v26.07h-1zM343 442.75h1v26.07h-1zM372 442.75h1v26.07h-1zM388 442.75h1v26.07h-1zM421 442.75h1v26.07h-1zM446 442.75h1v26.07h-1zM461 442.75h1v26.07h-1zM682 442.75h1v26.07h-1zM691 442.75h1v26.07h-1zM696 442.75h1v26.07h-1zM699 442.75h1v26.07h-1zM710 442.75h1v26.07h-1zM723 442.75h1v26.07h-1zM735 442.75h1v26.07h-1zM759 442.75h1v26.07h-1zM799 442.75h1v26.07h-1zM812 442.75h1v26.07h-1zM816 442.75h1v26.07h-1zM820 442.75h1v26.07h-1zM848 442.75h1v26.07h-1zM868 442.75h1v26.07h-1zM321 468.82h1v26.07h-1zM368 468.82h1v26.07h-1zM371 468.82h1v26.07h-1zM378 468.82h1v26.07h-1zM409 468.82h1v26.07h-1zM412 468.82h1v26.07h-1zM422 468.82h2v26.07h-2zM445 468.82h1v26.07h-1zM679 468.82h1v26.07h-1zM681 468.82h1v26.07h-1zM689 468.82h1v26.07h-1zM739 468.82h1v26.07h-1zM745 468.82h1v26.07h-1zM773 468.82h1v26.07h-1zM783 468.82h1v26.07h-1zM795 468.82h1v26.07h-1zM809 468.82h2v26.07h-2zM299 494.9h1v26.07h-1zM313 494.9h1v26.07h-1zM323 494.9h1v26.07h-1zM330 494.9h1v26.07h-1zM340 494.9h1v26.07h-1zM349 494.9h1v26.07h-1zM394 494.9h1v26.07h-1zM412 494.9h1v26.07h-1zM438 494.9h1v26.07h-1zM459 494.9h1v26.07h-1zM466 494.9h2v26.07h-2zM487 494.9h1v26.07h-1zM543 494.9h1v26.07h-1zM693 494.9h2v26.07h-2zM703 494.9h2v26.07h-2zM722 494.9h2v26.07h-2zM737 494.9h1v26.07h-1zM762 494.9h1v26.07h-1zM777 494.9h1v26.07h-1zM788 494.9h1v26.07h-1zM795 494.9h1v26.07h-1zM803 494.9h1v26.07h-1zM826 494.9h1v26.07h-1zM881 494.9h1v26.07h-1zM301 520.97h1v26.07h-1zM303 520.97h1v26.07h-1zM308 520.97h1v26.07h-1zM341 520.97h1v26.07h-1zM354 520.97h1v26.07h-1zM358 520.97h1v26.07h-1zM373 520.97h1v26.07h-1zM416 520.97h1v26.07h-1zM472 520.97h1v26.07h-1zM674 520.97h1v26.07h-1zM695 520.97h1v26.07h-1zM712 520.97h1v26.07h-1zM725 520.97h1v26.07h-1zM785 520.97h1v26.07h-1zM800 520.97h1v26.07h-1zM317 547.05h1v26.07h-1zM381 547.05h1v26.07h-1zM405 547.05h1v26.07h-1zM412 547.05h1v26.07h-1zM448 547.05h1v26.07h-1zM451 547.05h1v26.07h-1zM475 547.05h1v26.07h-1zM535 547.05h1v26.07h-1zM707 547.05h1v26.07h-1zM809 547.05h1v26.07h-1zM816 547.05h1v26.07h-1zM832 547.05h1v26.07h-1zM847 547.05h1v26.07h-1zM860 547.05h1v26.07h-1zM286 573.12h1v26.07h-1zM308 573.12h1v26.07h-1zM314 573.12h1v26.07h-1zM333 573.12h1v26.07h-1zM419 573.12h1v26.07h-1zM428 573.12h1v26.07h-1zM430 573.12h1v26.07h-1zM440 573.12h1v26.07h-1zM460 573.12h1v26.07h-1zM496 573.12h1v26.07h-1zM553 573.12h1v26.07h-1zM674 573.12h1v26.07h-1zM682 573.12h1v26.07h-1zM684 573.12h2v26.07h-2zM695 573.12h1v26.07h-1zM709 573.12h1v26.07h-1zM728 573.12h1v26.07h-1zM764 573.12h2v26.07h-2zM772 573.12h1v26.07h-1zM786 573.12h1v26.07h-1zM797 573.12h1v26.07h-1zM900 573.12h1v26.07h-1zM962 573.12h1v26.07h-1zM292 599.2h1v26.07h-1zM312 599.2h2v26.07h-2zM325 599.2h1v26.07h-1zM332 599.2h1v26.07h-1zM362 599.2h1v26.07h-1zM384 599.2h1v26.07h-1zM389 599.2h1v26.07h-1zM408 599.2h1v26.07h-1zM417 599.2h1v26.07h-1zM461 599.2h1v26.07h-1zM476 599.2h1v26.07h-1zM491 599.2h1v26.07h-1zM496 599.2h1v26.07h-1zM524 599.2h2v26.07h-2zM675 599.2h1v26.07h-1zM684 599.2h2v26.07h-2zM691 599.2h1v26.07h-1zM699 599.2h1v26.07h-1zM704 599.2h1v26.07h-1zM735 599.2h1v26.07h-1zM738 599.2h1v26.07h-1zM795 599.2h1v26.07h-1zM804 599.2h1v26.07h-1zM811 599.2h1v26.07h-1zM835 599.2h1v26.07h-1zM846 599.2h1v26.07h-1zM909 599.2h1v26.07h-1zM290 625.27h1v26.07h-1zM319 625.27h1v26.07h-1zM329 625.27h1v26.07h-1zM350 625.27h1v26.07h-1zM359 625.27h1v26.07h-1zM362 625.27h1v26.07h-1zM386 625.27h1v26.07h-1zM401 625.27h1v26.07h-1zM413 625.27h1v26.07h-1zM460 625.27h2v26.07h-2zM488 625.27h1v26.07h-1zM492 625.27h1v26.07h-1zM720 625.27h1v26.07h-1zM724 625.27h1v26.07h-1zM742 625.27h2v26.07h-2zM748 625.27h1v26.07h-1zM759 625.27h1v26.07h-1zM776 625.27h1v26.07h-1zM800 625.27h1v26.07h-1zM829 625.27h1v26.07h-1zM836 625.27h1v26.07h-1zM851 625.27h1v26.07h-1zM889 625.27h1v26.07h-1zM908 625.27h1v26.07h-1zM308 651.35h1v26.07h-1zM340 651.35h1v26.07h-1zM381 651.35h1v26.07h-1zM391 651.35h1v26.07h-1zM448 651.35h1v26.07h-1zM467 651.35h1v26.07h-1zM470 651.35h1v26.07h-1zM535 651.35h1v26.07h-1zM684 651.35h2v26.07h-2zM706 651.35h1v26.07h-1zM717 651.35h1v26.07h-1zM723 651.35h1v26.07h-1zM756 651.35h1v26.07h-1zM856 651.35h1v26.07h-1zM303 677.42h1v26.07h-1zM310 677.42h3v26.07h-3zM345 677.42h1v26.07h-1zM349 677.42h1v26.07h-1zM353 677.42h1v26.07h-1zM379 677.42h1v26.07h-1zM395 677.42h2v26.07h-2zM400 677.42h1v26.07h-1zM439 677.42h1v26.07h-1zM462 677.42h1v26.07h-1zM482 677.42h1v26.07h-1zM519 677.42h1v26.07h-1zM525 677.42h1v26.07h-1zM673 677.42h1v26.07h-1zM687 677.42h2v26.07h-2zM693 677.42h1v26.07h-1zM712 677.42h1v26.07h-1zM727 677.42h1v26.07h-1zM737 677.42h1v26.07h-1zM741 677.42h1v26.07h-1zM776 677.42h1v26.07h-1zM786 677.42h1v26.07h-1zM804 677.42h1v26.07h-1zM833 677.42h1v26.07h-1z"/><path fill="#66f" d="M291 182.0h1v26.07h-1zM309 182.0h1v26.07h-1zM334 182.0h1v26.07h-1zM372 182.0h2v26.07h-2zM402 182.0h1v26.07h-1zM485 182.0h1v26.07h-1zM505 182.0h1v26.07h-1zM697 182.0h1v26.07h-1zM708 182.0h1v26.07h-1zM718 182.0h1v26.07h-1zM769 182.0h1v26.07h-1zM818 182.0h2v26.07h-2zM876 182.0h1v26.07h-1zM882 182.0h1v26.07h-1zM316 208.07h1v26.07h-1zM326 208.07h1v26.07h-1zM332 208.07h1v26.07h-1zM351 208.07h1v26.07h-1zM369 208.07h1v26.07h-1zM388 208.07h1v26.07h-1zM438 208.07h1v26.07h-1zM502 208.07h1v26.07h-1zM536 208.07h1v26.07h-1zM778 208.07h1v26.07h-1zM784 208.07h1v26.07h-1zM818 208.07h1v26.07h-1zM930 208.07h1v26.07h-1zM287 234.15h1v26.07h-1zM289 234.15h1v26.07h-1zM314 234.15h1v26.07h-1zM321 234.15h1v26.07h-1zM333 234.15h1v26.07h-1zM411 234.15h1v26.07h-1zM415 234.15h1v26.07h-1zM426 234.15h1v26.07h-1zM479 234.15h1v26.07h-1zM677 234.15h3v26.07h-3zM718 234.15h1v26.07h-1zM741 234.15h1v26.07h-1zM747 234.15h1v26.07h-1zM789 234.15h1v26.07h-1zM843 234.15h1v26.07h-1zM324 260.23h1v26.07h-1zM364 260.23h1v26.07h-1zM369 260.23h1v26.07h-1zM383 260.23h1v26.07h-1zM403 260.23h1v26.07h-1zM440 260.23h1v26.07h-1zM744 260.23h1v26.07h-1zM792 260.23h1v26.07h-1zM829 260.23h1v26.07h-1zM875 260.23h1v26.07h-1zM887 260.23h1v26.07h-1zM287 286.3h1v26.07h-1zM339 286.3h1v26.07h-1zM347 286.3h1v26.07h-1zM351 286.3h1v26.07h-1zM378 286.3h1v26.07h-1zM420 286.3h1v26.07h-1zM507 286.3h1v26.07h-1zM522 286.3h1v26.07h-1zM540 286.3h1v26.07h-1zM677 286.3h1v26.07h-1zM698 286.3h1v26.07h-1zM704 286.3h1v26.07h-1zM706 286.3h2v26.07h-2zM732 286.3h1v26.07h-1zM745 286.3h1v26.07h-1zM756 286.3h1v26.07h-1zM809 286.3h1v26.07h-1zM815 286.3h2v26.07h-2zM821 286.3h1v26.07h-1zM846 286.3h1v26.07h-1zM289 312.38h1v26.07h-1zM324 312.38h1v26.07h-1zM328 312.38h1v26.07h-1zM383 312.38h1v26.07h-1zM522 312.38h1v26.07h-1zM544 312.38h1v26.07h-1zM673 312.38h1v26.07h-1zM704 312.38h2v26.07h-2zM720 312.38h1v26.07h-1zM760 312.38h1v26.07h-1zM774 312.38h1v26.07h-1zM776 312.38h1v26.07h-1zM799 312.38h1v26.07h-1zM812 312.38h1v26.07h-1zM871 312.38h1v26.07h-1zM895 312.38h1v26.07h-1zM345 338.45h1v26.07h-1zM353 338.45h1v26.07h-1zM375 338.45h1v26.07h-1zM387 338.45h1v26.07h-1zM406 338.45h1v26.07h-1zM433 338.45h1v26.07h-1zM437 338.45h1v26.07h-1zM440 338.45h1v26.07h-1zM517 338.45h1v26.07h-1zM539 338.45h1v26.07h-1zM698 338.45h1v26.07h-1zM754 338.45h1v26.07h-1zM765 338.45h1v26.07h-1zM779 338.45h1v26.07h-1zM783 338.45h1v26.07h-1zM824 338.45h1v26.07h-1zM865 338.45h1v26.07h-1zM293 364.52h1v26.07h-1zM333 364.52h1v26.07h-1zM358 364.52h2v26.07h-2zM361 364.52h1v26.07h-1zM393 364.52h1v26.07h-1zM449 364.52h1v26.07h-1zM492 364.52h1v26.07h-1zM526 364.52h1v26.07h-1zM728 364.52h1v26.07h-1zM730 364.52h1v26.07h-1zM807 364.52h1v26.07h-1zM812 364.52h1v26.07h-1zM851 364.52h1v26.07h-1zM861 364.52h1v26.07h-1zM350 390.6h1v26.07h-1zM353 390.6h1v26.07h-1zM413 390.6h1v26.07h-1zM452 390.6h1v26.07h-1zM458 390.6h1v26.07h-1zM462 390.6h1v26.07h-1zM567 390.6h2v26.07h-2zM678 390.6h1v26.07h-1zM687 390.6h1v26.07h-1zM706 390.6h1v26.07h-1zM709 390.6h1v26.07h-1zM734 390.6h1v26.07h-1zM763 390.6h1v26.07h-1zM816 390.6h1v26.07h-1zM838 390.6h1v26.07h-1zM891 390.6h1v26.07h-1zM302 416.67h1v26.07h-1zM343 416.67h1v26.07h-1zM346 416.67h1v26.07h-1zM367 416.67h1v26.07h-1zM378 416.67h1v26.07h-1zM386 416.67h1v26.07h-1zM389 416.67h1v26.07h-1zM403 416.67h1v26.07h-1zM407 416.67h1v26.07h-1zM421 416.67h1v26.07h-1zM423 416.67h1v26.07h-1zM431 416.67h1v26.07h-1zM438 416.67h1v26.07h-1zM453 416.67h1v26.07h-1zM728 416.67h1v26.07h-1zM736 416.67h1v26.07h-1zM744 416.67h1v26.07h-1zM747 416.67h1v26.07h-1zM798 416.67h1v26.07h-1zM810 416.67h1v26.07h-1zM827 416.67h1v26.07h-1zM848 416.67h1v26.07h-1zM859 416.67h1v26.07h-1zM880 416.67h1v26.07h-1zM921 416.67h1v26.07h-1zM311 442.75h1v26.07h-1zM351 442.75h1v26.07h-1zM381 442.75h1v26.07h-1zM412 442.75h1v26.07h-1zM438 442.75h1v26.07h-1zM478 442.75h2v26.07h-2zM492 442.75h1v26.07h-1zM498 442.75h1v26.07h-1zM501 442.75h1v26.07h-1zM518 442.75h1v26.07h-1zM704 442.75h1v26.07h-1zM707 442.75h1v26.07h-1zM748 442.75h1v26.07h-1zM777 442.75h1v26.07h-1zM782 442.75h1v26.07h-1zM784 442.75h1v26.07h-1zM790 442.75h2v26.07h-2zM823 442.75h1v26.07h-1zM859 442.75h1v26.07h-1zM394 468.82h1v26.07h-1zM417 468.82h1v26.07h-1zM425 468.82h1v26.07h-1zM464 468.82h1v26.07h-1zM718 468.82h1v26.07h-1zM746 468.82h1v26.07h-1zM760 468.82h1v26.07h-1zM823 468.82h1v26.07h-1zM286 494.9h1v26.07h-1zM372 494.9h1v26.07h-1zM378 494.9h1v26.07h-1zM385 494.9h1v26.07h-1zM482 494.9h1v26.07h-1zM524 494.9h1v26.07h-1zM551 494.9h1v26.07h-1zM698 494.9h1v26.07h-1zM721 494.9h1v26.07h-1zM745 494.9h1v26.07h-1zM761 494.9h1v26.07h-1zM772 494.9h1v26.07h-1zM792 494.9h1v26.07h-1zM801 494.9h1v26.07h-1zM805 494.9h1v26.07h-1zM313 520.97h1v26.07h-1zM327 520.97h1v26.07h-1zM399 520.97h1v26.07h-1zM409 520.97h1v26.07h-1zM505 520.97h1v26.07h-1zM714 520.97h1v26.07h-1zM749 520.97h1v26.07h-1zM751 520.97h1v26.07h-1zM781 520.97h1v26.07h-1zM810 520.97h1v26.07h-1zM822 520.97h1v26.07h-1zM830 520.97h1v26.07h-1zM895 520.97h1v26.07h-1zM310 547.05h1v26.07h-1zM333 547.05h1v26.07h-1zM342 547.05h1v26.07h-1zM464 547.05h1v26.07h-1zM505 547.05h1v26.07h-1zM509 547.05h1v26.07h-1zM702 547.05h1v26.07h-1zM745 547.05h1v26.07h-1zM759 547.05h1v26.07h-1zM843 547.05h1v26.07h-1zM902 547.05h1v26.07h-1zM342 573.12h1v26.07h-1zM360 573.12h2v26.07h-2zM364 573.12h1v26.07h-1zM370 573.12h1v26.07h-1zM379 573.12h1v26.07h-1zM388 573.12h1v26.07h-1zM400 573.12h1v26.07h-1zM413 573.12h1v26.07h-1zM423 573.12h1v26.07h-1zM462 573.12h1v26.07h-1zM489 573.12h1v26.07h-1zM522 573.12h1v26.07h-1zM533 573.12h2v26.07h-2zM689 573.12h1v26.07h-1zM698 573.12h1v26.07h-1zM780 573.12h1v26.07h-1zM783 573.12h1v26.07h-1zM792 573.12h1v26.07h-1zM844 573.12h1v26.07h-1zM339 599.2h1v26.07h-1zM348 599.2h1v26.07h-1zM428 599.2h1v26.07h-1zM433 599.2h1v26.07h-1zM446 599.2h1v26.07h-1zM448 599.2h1v26.07h-1zM705 599.2h1v26.07h-1zM789 599.2h1v26.07h-1zM803 599.2h1v26.07h-1zM809 599.2h1v26.07h-1zM826 599.2h1v26.07h-1zM829 599.2h1v26.07h-1zM854 599.2h1v26.07h-1zM888 599.2h1v26.07h-1zM323 625.27h1v26.07h-1zM364 625.27h1v26.07h-1zM406 625.27h1v26.07h-1zM504 625.27h2v26.07h-2zM513 625.27h1v26.07h-1zM735 625.27h1v26.07h-1zM738 625.27h1v26.07h-1zM766 625.27h1v26.07h-1zM788 625.27h1v26.07h-1zM798 625.27h1v26.07h-1zM811 625.27h1v26.07h-1zM847 625.27h1v26.07h-1zM865 625.27h1v26.07h-1zM288 651.35h1v26.07h-1zM305 651.35h1v26.07h-1zM325 651.35h1v26.07h-1zM345 651.35h1v26.07h-1zM370 651.35h1v26.07h-1zM385 651.35h1v26.07h-1zM387 651.35h1v26.07h-1zM429 651.35h1v26.07h-1zM482 651.35h1v26.07h-1zM502 651.35h1v26.07h-1zM711 651.35h1v26.07h-1zM729 651.35h1v26.07h-1zM753 651.35h1v26.07h-1zM763 651.35h1v26.07h-1zM768 651.35h1v26.07h-1zM805 651.35h1v26.07h-1zM869 651.35h1v26.07h-1zM297 677.42h1v26.07h-1zM302 677.42h1v26.07h-1zM361 677.42h1v26.07h-1zM373 677.42h1v26.07h-1zM432 677.42h1v26.07h-1zM458 677.42h1v26.07h-1zM474 677.42h1v26.07h-1zM477 677.42h1v26.07h-1zM556 677.42h1v26.07h-1zM584 677.42h1v26.07h-1zM706 677.42h1v26.07h-1zM717 677.42h1v26.07h-1zM747 677.42h1v26.07h-1zM782 677.42h1v26.07h-1zM800 677.42h1v26.07h-1zM879 677.42h1v26.07h-1z"/><path fill="#11f" d="M293 182.0h1v26.07h-1zM310 182.0h1v26.07h-1zM321 182.0h1v26.07h-1zM327 182.0h1v26.07h-1zM339 182.0h1v26.07h-1zM343 182.0h1v26.07h-1zM365 182.0h1v26.07h-1zM369 182.0h2v26.07h-2zM381 182.0h1v26.07h-1zM392 182.0h1v26.07h-1zM417 182.0h1v26.07h-1zM679 182.0h1v26.07h-1zM684 182.0h1v26.07h-1zM707 182.0h1v26.07h-1zM714 182.0h1v26.07h-1zM736 182.0h1v26.07h-1zM749 182.0h1v26.07h-1zM751 182.0h1v26.07h-1zM788 182.0h1v26.07h-1zM792 182.0h1v26.07h-1zM887 182.0h1v26.07h-1zM327 208.07h1v26.07h-1zM358 208.07h2v26.07h-2zM363 208.07h1v26.07h-1zM381 208.07h1v26.07h-1zM392 208.07h1v26.07h-1zM396 208.07h1v26.07h-1zM421 208.07h1v26.07h-1zM466 208.07h1v26.07h-1zM683 208.07h1v26.07h-1zM688 208.07h1v26.07h-1zM690 208.07h1v26.07h-1zM696 208.07h1v26.07h-1zM700 208.07h1v26.07h-1zM704 208.07h2v26.07h-2zM707 208.07h1v26.07h-1zM715 208.07h1v26.07h-1zM717 208.07h1v26.07h-1zM730 208.07h1v26.07h-1zM734 208.07h1v26.07h-1zM741 208.07h1v26.07h-1zM746 208.07h1v26.07h-1zM752 208.07h1v26.07h-1zM765 208.07h1v26.07h-1zM780 208.07h1v26.07h-1zM782 208.07h1v26.07h-1zM789 208.07h2v26.07h-2zM812 208.07h1v26.07h-1zM837 208.07h1v26.07h-1zM879 208.07h1v26.07h-1zM293 234.15h1v26.07h-1zM363 234.15h1v26.07h-1zM389 234.15h1v26.07h-1zM404 234.15h2v26.07h-2zM680 234.15h1v26.07h-1zM699 234.15h2v26.07h-2zM726 234.15h1v26.07h-1zM728 234.15h1v26.07h-1zM744 234.15h1v26.07h-1zM753 234.15h1v26.07h-1zM763 234.15h1v26.07h-1zM777 234.15h1v26.07h-1zM790 234.15h1v26.07h-1zM821 234.15h1v26.07h-1zM292 260.23h1v26.07h-1zM297 260.23h2v26.07h-2zM301 260.23h2v26.07h-2zM312 260.23h1v26.07h-1zM321 260.23h1v26.07h-1zM331 260.23h1v26.07h-1zM334 260.23h1v26.07h-1zM337 260.23h1v26.07h-1zM350 260.23h1v26.07h-1zM354 260.23h1v26.07h-1zM358 260.23h1v26.07h-1zM370 260.23h1v26.07h-1zM386 260.23h1v26.07h-1zM397 260.23h2v26.07h-2zM408 260.23h1v26.07h-1zM446 260.23h2v26.07h-2zM450 260.23h1v26.07h-1zM466 260.23h2v26.07h-2zM684 260.23h1v26.07h-1zM690 260.23h1v26.07h-1zM698 260.23h1v26.07h-1zM708 260.23h1v26.07h-1zM713 260.23h2v26.07h-2zM729 260.23h2v26.07h-2zM754 260.23h1v26.07h-1zM761 260.23h1v26.07h-1zM859 260.23h1v26.07h-1zM293 286.3h1v26.07h-1zM302 286.3h1v26.07h-1zM309 286.3h2v26.07h-2zM312 286.3h1v26.07h-1zM327 286.3h1v26.07h-1zM330 286.3h1v26.07h-1zM342 286.3h1v26.07h-1zM348 286.3h1v26.07h-1zM404 286.3h1v26.07h-1zM406 286.3h1v26.07h-1zM690 286.3h1v26.07h-1zM692 286.3h1v26.07h-1zM708 286.3h1v26.07h-1zM710 286.3h1v26.07h-1zM712 286.3h1v26.07h-1zM746 286.3h1v26.07h-1zM768 286.3h1v26.07h-1zM290 312.38h1v26.07h-1zM299 312.38h2v26.07h-2zM313 312.38h2v26.07h-2zM329 312.38h1v26.07h-1zM332 312.38h1v26.07h-1zM359 312.38h1v26.07h-1zM379 312.38h1v26.07h-1zM382 312.38h1v26.07h-1zM386 312.38h1v26.07h-1zM388 312.38h1v26.07h-1zM413 312.38h2v26.07h-2zM491 312.38h1v26.07h-1zM493 312.38h1v26.07h-1zM675 312.38h2v26.07h-2zM693 312.38h1v26.07h-1zM709 312.38h1v26.07h-1zM723 312.38h1v26.07h-1zM820 312.38h1v26.07h-1zM290 338.45h1v26.07h-1zM308 338.45h1v26.07h-1zM317 338.45h1v26.07h-1zM320 338.45h1v26.07h-1zM333 338.45h2v26.07h-2zM339 338.45h1v26.07h-1zM344 338.45h1v26.07h-1zM348 338.45h1v26.07h-1zM361 338.45h2v26.07h-2zM378 338.45h1v26.07h-1zM403 338.45h1v26.07h-1zM415 338.45h1v26.07h-1zM419 338.45h1v26.07h-1zM421 338.45h1v26.07h-1zM451 338.45h1v26.07h-1zM453 338.45h1v26.07h-1zM457 338.45h1v26.07h-1zM700 338.45h1v26.07h-1zM717 338.45h1v26.07h-1zM740 338.45h1v26.07h-1zM745 338.45h2v26.07h-2zM784 338.45h1v26.07h-1zM801 338.45h1v26.07h-1zM803 338.45h1v26.07h-1zM811 338.45h2v26.07h-2zM818 338.45h1v26.07h-1zM295 364.52h1v26.07h-1zM303 364.52h1v26.07h-1zM316 364.52h2v26.07h-2zM323 364.52h1v26.07h-1zM340 364.52h1v26.07h-1zM344 364.52h1v26.07h-1zM350 364.52h1v26.07h-1zM392 364.52h1v26.07h-1zM401 364.52h1v26.07h-1zM403 364.52h1v26.07h-1zM408 364.52h1v26.07h-1zM426 364.52h1v26.07h-1zM434 364.52h1v26.07h-1zM678 364.52h1v26.07h-1zM695 364.52h2v26.07h-2zM705 364.52h1v26.07h-1zM714 364.52h2v26.07h-2zM719 364.52h1v26.07h-1zM726 364.52h1v26.07h-1zM733 364.52h1v26.07h-1zM745 364.52h1v26.07h-1zM757 364.52h1v26.07h-1zM760 364.52h2v26.07h-2zM763 364.52h1v26.07h-1zM774 364.52h1v26.07h-1zM778 364.52h2v26.07h-2zM792 364.52h1v26.07h-1zM838 364.52h2v26.07h-2zM846 364.52h1v26.07h-1zM288 390.6h1v26.07h-1zM293 390.6h2v26.07h-2zM310 390.6h1v26.07h-1zM312 390.6h1v26.07h-1zM377 390.6h1v26.07h-1zM395 390.6h1v26.07h-1zM448 390.6h1v26.07h-1zM509 390.6h1v26.07h-1zM536 390.6h1v26.07h-1zM591 390.6h1v26.07h-1zM673 390.6h1v26.07h-1zM681 390.6h1v26.07h-1zM690 390.6h1v26.07h-1zM698 390.6h1v26.07h-1zM701 390.6h1v26.07h-1zM711 390.6h1v26.07h-1zM728 390.6h1v26.07h-1zM740 390.6h1v26.07h-1zM759 390.6h1v26.07h-1zM778 390.6h1v26.07h-1zM788 390.6h1v26.07h-1zM839 390.6h1v26.07h-1zM911 390.6h1v26.07h-1zM312 416.67h1v26.07h-1zM318 416.67h1v26.07h-1zM326 416.67h1v26.07h-1zM334 416.67h1v26.07h-1zM336 416.67h1v26.07h-1zM344 416.67h2v26.07h-2zM363 416.67h1v26.07h-1zM417 416.67h2v26.07h-2zM702 416.67h2v26.07h-2zM721 416.67h2v26.07h-2zM737 416.67h1v26.07h-1zM788 416.67h1v26.07h-1zM814 416.67h1v26.07h-1zM818 416.67h1v26.07h-1zM831 416.67h1v26.07h-1zM889 416.67h1v26.07h-1zM306 442.75h2v26.07h-2zM319 442.75h1v26.07h-1zM322 442.75h1v26.07h-1zM329 442.75h1v26.07h-1zM332 442.75h1v26.07h-1zM347 442.75h1v26.07h-1zM368 442.75h1v26.07h-1zM377 442.75h1v26.07h-1zM382 442.75h1v26.07h-1zM392 442.75h1v26.07h-1zM402 442.75h1v26.07h-1zM428 442.75h1v26.07h-1zM439 442.75h1v26.07h-1zM488 442.75h2v26.07h-2zM502 442.75h1v26.07h-1zM679 442.75h1v26.07h-1zM683 442.75h1v26.07h-1zM695 442.75h1v26.07h-1zM706 442.75h1v26.07h-1zM730 442.75h1v26.07h-1zM733 442.75h2v26.07h-2zM752 442.75h1v26.07h-1zM764 442.75h2v26.07h-2zM771 442.75h2v26.07h-2zM775 442.75h1v26.07h-1zM783 442.75h1v26.07h-1zM803 442.75h1v26.07h-1zM805 442.75h1v26.07h-1zM808 442.75h1v26.07h-1zM811 442.75h1v26.07h-1zM824 442.75h1v26.07h-1zM855 442.75h1v26.07h-1zM867 442.75h1v26.07h-1zM944 442.75h1v26.07h-1zM304 468.82h2v26.07h-2zM318 468.82h1v26.07h-1zM327 468.82h1v26.07h-1zM334 468.82h3v26.07h-3zM345 468.82h1v26.07h-1zM369 468.82h1v26.07h-1zM384 468.82h1v26.07h-1zM429 468.82h1v26.07h-1zM444 468.82h1v26.07h-1zM529 468.82h1v26.07h-1zM688 468.82h1v26.07h-1zM699 468.82h1v26.07h-1zM715 468.82h1v26.07h-1zM726 468.82h1v26.07h-1zM740 468.82h1v26.07h-1zM753 468.82h1v26.07h-1zM759 468.82h1v26.07h-1zM774 468.82h1v26.07h-1zM797 468.82h1v26.07h-1zM802 468.82h1v26.07h-1zM804 468.82h3v26.07h-3zM289 494.9h1v26.07h-1zM301 494.9h1v26.07h-1zM315 494.9h2v26.07h-2zM319 494.9h1v26.07h-1zM321 494.9h1v26.07h-1zM332 494.9h1v26.07h-1zM341 494.9h1v26.07h-1zM348 494.9h1v26.07h-1zM362 494.9h1v26.07h-1zM379 494.9h1v26.07h-1zM427 494.9h1v26.07h-1zM452 494.9h1v26.07h-1zM486 494.9h1v26.07h-1zM494 494.9h1v26.07h-1zM673 494.9h2v26.07h-2zM690 494.9h1v26.07h-1zM701 494.9h1v26.07h-1zM705 494.9h1v26.07h-1zM715 494.9h1v26.07h-1zM719 494.9h1v26.07h-1zM733 494.9h1v26.07h-1zM750 494.9h1v26.07h-1zM755 494.9h1v26.07h-1zM757 494.9h2v26.07h-2zM763 494.9h1v26.07h-1zM766 494.9h1v26.07h-1zM781 494.9h1v26.07h-1zM866 494.9h1v26.07h-1zM293 520.97h1v26.07h-1zM306 520.97h2v26.07h-2zM321 520.97h1v26.07h-1zM345 520.97h1v26.07h-1zM352 520.97h1v26.07h-1zM355 520.97h2v26.07h-2zM370 520.97h1v26.07h-1zM390 520.97h1v26.07h-1zM412 520.97h1v26.07h-1zM422 520.97h1v26.07h-1zM429 520.97h1v26.07h-1zM443 520.97h1v26.07h-1zM453 520.97h2v26.07h-2zM488 520.97h1v26.07h-1zM677 520.97h1v26.07h-1zM682 520.97h2v26.07h-2zM706 520.97h2v26.07h-2zM710 520.97h1v26.07h-1zM717 520.97h1v26.07h-1zM731 520.97h1v26.07h-1zM742 520.97h1v26.07h-1zM748 520.97h1v26.07h-1zM775 520.97h1v26.07h-1zM788 520.97h1v26.07h-1zM790 520.97h1v26.07h-1zM806 520.97h1v26.07h-1zM844 520.97h1v26.07h-1zM344 547.05h1v26.07h-1zM361 547.05h1v26.07h-1zM394 547.05h1v26.07h-1zM426 547.05h1v26.07h-1zM455 547.05h1v26.07h-1zM689 547.05h1v26.07h-1zM735 547.05h3v26.07h-3zM753 547.05h1v26.07h-1zM756 547.05h1v26.07h-1zM831 547.05h1v26.07h-1zM903 547.05h1v26.07h-1zM288 573.12h1v26.07h-1zM301 573.12h1v26.07h-1zM315 573.12h1v26.07h-1zM326 573.12h1v26.07h-1zM334 573.12h1v26.07h-1zM338 573.12h1v26.07h-1zM346 573.12h2v26.07h-2zM350 573.12h1v26.07h-1zM373 573.12h3v26.07h-3zM377 573.12h1v26.07h-1zM407 573.12h1v26.07h-1zM414 573.12h2v26.07h-2zM441 573.12h1v26.07h-1zM497 573.12h1v26.07h-1zM687 573.12h1v26.07h-1zM715 573.12h2v26.07h-2zM719 573.12h1v26.07h-1zM737 573.12h1v26.07h-1zM781 573.12h1v26.07h-1zM787 573.12h1v26.07h-1zM865 573.12h1v26.07h-1zM299 599.2h1v26.07h-1zM303 599.2h1v26.07h-1zM309 599.2h2v26.07h-2zM323 599.2h1v26.07h-1zM329 599.2h1v26.07h-1zM342 599.2h1v26.07h-1zM351 599.2h1v26.07h-1zM368 599.2h1v26.07h-1zM398 599.2h1v26.07h-1zM401 599.2h1v26.07h-1zM403 599.2h1v26.07h-1zM444 599.2h2v26.07h-2zM490 599.2h1v26.07h-1zM673 599.2h2v26.07h-2zM681 599.2h1v26.07h-1zM695 599.2h2v26.07h-2zM707 599.2h1v26.07h-1zM726 599.2h1v26.07h-1zM739 599.2h1v26.07h-1zM755 599.2h1v26.07h-1zM768 599.2h1v26.07h-1zM794 599.2h1v26.07h-1zM810 599.2h1v26.07h-1zM821 599.2h1v26.07h-1zM299 625.27h1v26.07h-1zM309 625.27h1v26.07h-1zM345 625.27h1v26.07h-1zM367 625.27h2v26.07h-2zM474 625.27h1v26.07h-1zM494 625.27h1v26.07h-1zM678 625.27h2v26.07h-2zM681 625.27h1v26.07h-1zM683 625.27h1v26.07h-1zM688 625.27h1v26.07h-1zM690 625.27h1v26.07h-1zM692 625.27h1v26.07h-1zM697 625.27h1v26.07h-1zM709 625.27h2v26.07h-2zM721 625.27h1v26.07h-1zM726 625.27h1v26.07h-1zM728 625.27h1v26.07h-1zM730 625.27h1v26.07h-1zM740 625.27h1v26.07h-1zM745 625.27h1v26.07h-1zM769 625.27h1v26.07h-1zM771 625.27h1v26.07h-1zM773 625.27h1v26.07h-1zM787 625.27h1v26.07h-1zM894 625.27h1v26.07h-1zM286 651.35h2v26.07h-2zM315 651.35h2v26.07h-2zM320 651.35h1v26.07h-1zM335 651.35h2v26.07h-2zM380 651.35h1v26.07h-1zM413 651.35h1v26.07h-1zM514 651.35h1v26.07h-1zM676 651.35h1v26.07h-1zM686 651.35h1v26.07h-1zM688 651.35h1v26.07h-1zM695 651.35h1v26.07h-1zM710 651.35h1v26.07h-1zM719 651.35h1v26.07h-1zM730 651.35h1v26.07h-1zM746 651.35h1v26.07h-1zM750 651.35h1v26.07h-1zM769 651.35h1v26.07h-1zM797 651.35h1v26.07h-1zM806 651.35h1v26.07h-1zM301 677.42h1v26.07h-1zM304 677.42h2v26.07h-2zM314 677.42h1v26.07h-1zM324 677.42h1v26.07h-1zM330 677.42h1v26.07h-1zM341 677.42h1v26.07h-1zM348 677.42h1v26.07h-1zM355 677.42h2v26.07h-2zM375 677.42h1v26.07h-1zM381 677.42h1v26.07h-1zM404 677.42h1v26.07h-1zM408 677.42h2v26.07h-2zM412 677.42h1v26.07h-1zM463 677.42h1v26.07h-1zM577 677.42h2v26.07h-2zM674 677.42h1v26.07h-1zM678 677.42h1v26.07h-1zM682 677.42h1v26.07h-1zM694 677.42h1v26.07h-1zM710 677.42h1v26.07h-1zM728 677.42h1v26.07h-1zM730 677.42h2v26.07h-2zM746 677.42h1v26.07h-1zM763 677.42h1v26.07h-1zM766 677.42h1v26.07h-1zM770 677.42h1v26.07h-1z"/><path fill="#74c" d="M302 182.0h1v26.07h-1zM774 182.0h1v26.07h-1zM325 208.07h1v26.07h-1zM709 208.07h1v26.07h-1zM431 234.15h1v26.07h-1zM482 286.3h1v26.07h-1zM693 286.3h1v26.07h-1zM794 286.3h1v26.07h-1zM911 286.3h1v26.07h-1zM743 312.38h1v26.07h-1zM878 338.45h1v26.07h-1zM348 390.6h1v26.07h-1zM823 390.6h1v26.07h-1zM495 416.67h1v26.07h-1zM512 416.67h1v26.07h-1zM700 416.67h1v26.07h-1zM376 442.75h1v26.07h-1zM486 442.75h1v26.07h-1zM373 494.9h1v26.07h-1zM488 494.9h1v26.07h-1zM406 547.05h1v26.07h-1zM954 547.05h1v26.07h-1zM396 573.12h1v26.07h-1zM798 573.12h1v26.07h-1zM351 625.27h1v26.07h-1zM796 625.27h1v26.07h-1zM825 625.27h1v26.07h-1zM590 651.35h1v26.07h-1zM360 677.42h1v26.07h-1zM725 677.42h1v26.07h-1zM803 677.42h1v26.07h-1z"/><path fill="#42d" d="M303 182.0h1v26.07h-1zM361 182.0h1v26.07h-1zM457 182.0h1v26.07h-1zM517 182.0h1v26.07h-1zM537 182.0h1v26.07h-1zM581 208.07h1v26.07h-1zM846 208.07h1v26.07h-1zM891 208.07h1v26.07h-1zM401 234.15h1v26.07h-1zM532 260.23h1v26.07h-1zM784 260.23h1v26.07h-1zM869 260.23h1v26.07h-1zM492 286.3h1v26.07h-1zM441 312.38h1v26.07h-1zM461 312.38h1v26.07h-1zM477 312.38h1v26.07h-1zM541 312.38h1v26.07h-1zM869 312.38h1v26.07h-1zM721 338.45h1v26.07h-1zM343 364.52h1v26.07h-1zM833 364.52h1v26.07h-1zM936 390.6h1v26.07h-1zM374 416.67h1v26.07h-1zM708 442.75h1v26.07h-1zM726 442.75h1v26.07h-1zM452 520.97h1v26.07h-1zM463 520.97h1v26.07h-1zM768 520.97h1v26.07h-1zM842 520.97h1v26.07h-1zM352 547.05h1v26.07h-1zM501 547.05h1v26.07h-1zM811 573.12h1v26.07h-1zM377 599.2h1v26.07h-1zM399 625.27h1v26.07h-1zM470 625.27h1v26.07h-1zM732 625.27h1v26.07h-1zM842 677.42h1v26.07h-1z"/><path fill="#44f" d="M311 182.0h1v26.07h-1zM324 182.0h1v26.07h-1zM349 182.0h1v26.07h-1zM377 182.0h1v26.07h-1zM439 182.0h1v26.07h-1zM444 182.0h2v26.07h-2zM480 182.0h1v26.07h-1zM499 182.0h1v26.07h-1zM504 182.0h1v26.07h-1zM678 182.0h1v26.07h-1zM711 182.0h1v26.07h-1zM717 182.0h1v26.07h-1zM735 182.0h1v26.07h-1zM748 182.0h1v26.07h-1zM750 182.0h1v26.07h-1zM765 182.0h1v26.07h-1zM775 182.0h1v26.07h-1zM780 182.0h1v26.07h-1zM790 182.0h1v26.07h-1zM810 182.0h1v26.07h-1zM943 182.0h1v26.07h-1zM307 208.07h1v26.07h-1zM315 208.07h1v26.07h-1zM322 208.07h1v26.07h-1zM338 208.07h1v26.07h-1zM345 208.07h1v26.07h-1zM357 208.07h1v26.07h-1zM360 208.07h1v26.07h-1zM371 208.07h1v26.07h-1zM379 208.07h1v26.07h-1zM393 208.07h1v26.07h-1zM410 208.07h1v26.07h-1zM440 208.07h1v26.07h-1zM451 208.07h1v26.07h-1zM485 208.07h1v26.07h-1zM528 208.07h1v26.07h-1zM537 208.07h1v26.07h-1zM603 208.07h1v26.07h-1zM684 208.07h2v26.07h-2zM702 208.07h1v26.07h-1zM771 208.07h1v26.07h-1zM785 208.07h1v26.07h-1zM811 208.07h1v26.07h-1zM829 208.07h1v26.07h-1zM899 208.07h1v26.07h-1zM950 208.07h2v26.07h-2zM297 234.15h1v26.07h-1zM318 234.15h1v26.07h-1zM346 234.15h1v26.07h-1zM349 234.15h1v26.07h-1zM364 234.15h1v26.07h-1zM406 234.15h1v26.07h-1zM414 234.15h1v26.07h-1zM454 234.15h1v26.07h-1zM687 234.15h1v26.07h-1zM736 234.15h1v26.07h-1zM738 234.15h2v26.07h-2zM754 234.15h1v26.07h-1zM783 234.15h1v26.07h-1zM803 234.15h1v26.07h-1zM818 234.15h1v26.07h-1zM824 234.15h1v26.07h-1zM833 234.15h1v26.07h-1zM842 234.15h1v26.07h-1zM317 260.23h1v26.07h-1zM344 260.23h1v26.07h-1zM349 260.23h1v26.07h-1zM400 260.23h1v26.07h-1zM427 260.23h1v26.07h-1zM448 260.23h1v26.07h-1zM469 260.23h1v26.07h-1zM525 260.23h1v26.07h-1zM533 260.23h1v26.07h-1zM682 260.23h1v26.07h-1zM693 260.23h1v26.07h-1zM751 260.23h2v26.07h-2zM797 260.23h1v26.07h-1zM802 260.23h2v26.07h-2zM846 260.23h1v26.07h-1zM874 260.23h1v26.07h-1zM882 260.23h1v26.07h-1zM896 260.23h1v26.07h-1zM295 286.3h2v26.07h-2zM306 286.3h2v26.07h-2zM314 286.3h1v26.07h-1zM333 286.3h1v26.07h-1zM368 286.3h1v26.07h-1zM459 286.3h1v26.07h-1zM682 286.3h1v26.07h-1zM716 286.3h1v26.07h-1zM729 286.3h1v26.07h-1zM733 286.3h2v26.07h-2zM803 286.3h1v26.07h-1zM808 286.3h1v26.07h-1zM862 286.3h1v26.07h-1zM879 286.3h1v26.07h-1zM308 312.38h1v26.07h-1zM326 312.38h1v26.07h-1zM365 312.38h2v26.07h-2zM433 312.38h1v26.07h-1zM454 312.38h1v26.07h-1zM682 312.38h1v26.07h-1zM707 312.38h1v26.07h-1zM803 312.38h1v26.07h-1zM829 312.38h1v26.07h-1zM834 312.38h1v26.07h-1zM936 312.38h1v26.07h-1zM940 312.38h1v26.07h-1zM291 338.45h1v26.07h-1zM304 338.45h1v26.07h-1zM337 338.45h1v26.07h-1zM349 338.45h1v26.07h-1zM377 338.45h1v26.07h-1zM412 338.45h1v26.07h-1zM420 338.45h1v26.07h-1zM438 338.45h1v26.07h-1zM444 338.45h1v26.07h-1zM464 338.45h1v26.07h-1zM689 338.45h1v26.07h-1zM705 338.45h1v26.07h-1zM736 338.45h1v26.07h-1zM753 338.45h1v26.07h-1zM775 338.45h2v26.07h-2zM782 338.45h1v26.07h-1zM793 338.45h1v26.07h-1zM844 338.45h1v26.07h-1zM309 364.52h1v26.07h-1zM347 364.52h1v26.07h-1zM349 364.52h1v26.07h-1zM357 364.52h1v26.07h-1zM363 364.52h1v26.07h-1zM366 364.52h2v26.07h-2zM384 364.52h1v26.07h-1zM391 364.52h1v26.07h-1zM413 364.52h1v26.07h-1zM418 364.52h1v26.07h-1zM424 364.52h2v26.07h-2zM441 364.52h2v26.07h-2zM454 364.52h1v26.07h-1zM457 364.52h1v26.07h-1zM469 364.52h1v26.07h-1zM523 364.52h1v26.07h-1zM729 364.52h1v26.07h-1zM742 364.52h1v26.07h-1zM750 364.52h1v26.07h-1zM837 364.52h1v26.07h-1zM304 390.6h2v26.07h-2zM311 390.6h1v26.07h-1zM365 390.6h1v26.07h-1zM384 390.6h1v26.07h-1zM409 390.6h1v26.07h-1zM414 390.6h1v26.07h-1zM427 390.6h1v26.07h-1zM482 390.6h1v26.07h-1zM527 390.6h1v26.07h-1zM677 390.6h1v26.07h-1zM680 390.6h1v26.07h-1zM702 390.6h1v26.07h-1zM712 390.6h1v26.07h-1zM749 390.6h1v26.07h-1zM756 390.6h1v26.07h-1zM768 390.6h1v26.07h-1zM853 390.6h1v26.07h-1zM934 390.6h1v26.07h-1zM324 416.67h1v26.07h-1zM342 416.67h1v26.07h-1zM348 416.67h1v26.07h-1zM351 416.67h1v26.07h-1zM353 416.67h1v26.07h-1zM377 416.67h1v26.07h-1zM410 416.67h1v26.07h-1zM415 416.67h1v26.07h-1zM440 416.67h1v26.07h-1zM474 416.67h2v26.07h-2zM499 416.67h1v26.07h-1zM712 416.67h1v26.07h-1zM732 416.67h1v26.07h-1zM735 416.67h1v26.07h-1zM811 416.67h1v26.07h-1zM830 416.67h1v26.07h-1zM876 416.67h1v26.07h-1zM300 442.75h1v26.07h-1zM312 442.75h1v26.07h-1zM333 442.75h1v26.07h-1zM348 442.75h1v26.07h-1zM358 442.75h1v26.07h-1zM364 442.75h1v26.07h-1zM383 442.75h1v26.07h-1zM389 442.75h1v26.07h-1zM397 442.75h1v26.07h-1zM432 442.75h1v26.07h-1zM440 442.75h1v26.07h-1zM449 442.75h1v26.07h-1zM454 442.75h1v26.07h-1zM496 442.75h1v26.07h-1zM510 442.75h1v26.07h-1zM527 442.75h1v26.07h-1zM720 442.75h1v26.07h-1zM749 442.75h1v26.07h-1zM766 442.75h1v26.07h-1zM780 442.75h2v26.07h-2zM785 442.75h2v26.07h-2zM842 442.75h1v26.07h-1zM322 468.82h1v26.07h-1zM347 468.82h1v26.07h-1zM379 468.82h1v26.07h-1zM391 468.82h1v26.07h-1zM440 468.82h1v26.07h-1zM452 468.82h1v26.07h-1zM461 468.82h1v26.07h-1zM473 468.82h1v26.07h-1zM478 468.82h1v26.07h-1zM482 468.82h1v26.07h-1zM501 468.82h1v26.07h-1zM673 468.82h1v26.07h-1zM707 468.82h1v26.07h-1zM751 468.82h1v26.07h-1zM767 468.82h1v26.07h-1zM322 494.9h1v26.07h-1zM324 494.9h1v26.07h-1zM327 494.9h1v26.07h-1zM406 494.9h1v26.07h-1zM460 494.9h1v26.07h-1zM468 494.9h1v26.07h-1zM502 494.9h1v26.07h-1zM567 494.9h1v26.07h-1zM699 494.9h1v26.07h-1zM744 494.9h1v26.07h-1zM767 494.9h1v26.07h-1zM770 494.9h2v26.07h-2zM778 494.9h1v26.07h-1zM785 494.9h1v26.07h-1zM828 494.9h1v26.07h-1zM836 494.9h1v26.07h-1zM907 494.9h1v26.07h-1zM302 520.97h1v26.07h-1zM304 520.97h1v26.07h-1zM314 520.97h1v26.07h-1zM336 520.97h1v26.07h-1zM348 520.97h1v26.07h-1zM378 520.97h1v26.07h-1zM380 520.97h1v26.07h-1zM413 520.97h1v26.07h-1zM417 520.97h1v26.07h-1zM727 520.97h1v26.07h-1zM787 520.97h1v26.07h-1zM811 520.97h1v26.07h-1zM813 520.97h1v26.07h-1zM850 520.97h1v26.07h-1zM861 520.97h1v26.07h-1zM291 547.05h1v26.07h-1zM297 547.05h1v26.07h-1zM303 547.05h1v26.07h-1zM322 547.05h1v26.07h-1zM334 547.05h1v26.07h-1zM345 547.05h1v26.07h-1zM360 547.05h1v26.07h-1zM362 547.05h1v26.07h-1zM373 547.05h1v26.07h-1zM378 547.05h1v26.07h-1zM420 547.05h1v26.07h-1zM428 547.05h1v26.07h-1zM478 547.05h1v26.07h-1zM542 547.05h1v26.07h-1zM680 547.05h1v26.07h-1zM738 547.05h1v26.07h-1zM744 547.05h1v26.07h-1zM746 547.05h1v26.07h-1zM752 547.05h1v26.07h-1zM758 547.05h1v26.07h-1zM792 547.05h1v26.07h-1zM850 547.05h1v26.07h-1zM904 547.05h1v26.07h-1zM330 573.12h2v26.07h-2zM343 573.12h1v26.07h-1zM383 573.12h1v26.07h-1zM412 573.12h1v26.07h-1zM436 573.12h1v26.07h-1zM472 573.12h1v26.07h-1zM477 573.12h1v26.07h-1zM484 573.12h1v26.07h-1zM505 573.12h1v26.07h-1zM532 573.12h1v26.07h-1zM697 573.12h1v26.07h-1zM704 573.12h1v26.07h-1zM710 573.12h1v26.07h-1zM723 573.12h1v26.07h-1zM738 573.12h1v26.07h-1zM750 573.12h1v26.07h-1zM754 573.12h1v26.07h-1zM784 573.12h1v26.07h-1zM829 573.12h1v26.07h-1zM854 573.12h1v26.07h-1zM884 573.12h1v26.07h-1zM891 573.12h1v26.07h-1zM916 573.12h1v26.07h-1zM288 599.2h1v26.07h-1zM334 599.2h1v26.07h-1zM376 599.2h1v26.07h-1zM395 599.2h2v26.07h-2zM400 599.2h1v26.07h-1zM405 599.2h1v26.07h-1zM418 599.2h1v26.07h-1zM473 599.2h1v26.07h-1zM498 599.2h1v26.07h-1zM522 599.2h1v26.07h-1zM690 599.2h1v26.07h-1zM701 599.2h1v26.07h-1zM706 599.2h1v26.07h-1zM724 599.2h1v26.07h-1zM730 599.2h1v26.07h-1zM734 599.2h1v26.07h-1zM745 599.2h1v26.07h-1zM748 599.2h1v26.07h-1zM759 599.2h2v26.07h-2zM798 599.2h1v26.07h-1zM884 599.2h1v26.07h-1zM931 599.2h1v26.07h-1zM304 625.27h2v26.07h-2zM320 625.27h1v26.07h-1zM342 625.27h1v26.07h-1zM374 625.27h1v26.07h-1zM377 625.27h1v26.07h-1zM380 625.27h1v26.07h-1zM487 625.27h1v26.07h-1zM497 625.27h1v26.07h-1zM542 625.27h1v26.07h-1zM675 625.27h1v26.07h-1zM689 625.27h1v26.07h-1zM715 625.27h1v26.07h-1zM722 625.27h1v26.07h-1zM727 625.27h1v26.07h-1zM752 625.27h1v26.07h-1zM761 625.27h1v26.07h-1zM808 625.27h1v26.07h-1zM820 625.27h1v26.07h-1zM824 625.27h1v26.07h-1zM849 625.27h2v26.07h-2zM310 651.35h2v26.07h-2zM331 651.35h1v26.07h-1zM338 651.35h1v26.07h-1zM348 651.35h1v26.07h-1zM357 651.35h1v26.07h-1zM363 651.35h1v26.07h-1zM462 651.35h1v26.07h-1zM476 651.35h1v26.07h-1zM496 651.35h1v26.07h-1zM603 651.35h1v26.07h-1zM675 651.35h1v26.07h-1zM707 651.35h1v26.07h-1zM725 651.35h2v26.07h-2zM785 651.35h1v26.07h-1zM791 651.35h1v26.07h-1zM793 651.35h1v26.07h-1zM815 651.35h1v26.07h-1zM834 651.35h1v26.07h-1zM852 651.35h1v26.07h-1zM289 677.42h1v26.07h-1zM295 677.42h1v26.07h-1zM306 677.42h2v26.07h-2zM333 677.42h1v26.07h-1zM342 677.42h1v26.07h-1zM352 677.42h1v26.07h-1zM363 677.42h1v26.07h-1zM377 677.42h1v26.07h-1zM389 677.42h1v26.07h-1zM440 677.42h1v26.07h-1zM445 677.42h1v26.07h-1zM468 677.42h1v26.07h-1zM485 677.42h1v26.07h-1zM553 677.42h1v26.07h-1zM675 677.42h1v26.07h-1zM683 677.42h1v26.07h-1zM686 677.42h1v26.07h-1zM734 677.42h1v26.07h-1zM745 677.42h1v26.07h-1zM757 677.42h1v26.07h-1zM765 677.42h1v26.07h-1zM777 677.42h1v26.07h-1zM799 677.42h1v26.07h-1zM810 677.42h1v26.07h-1zM830 677.42h1v26.07h-1zM849 677.42h1v26.07h-1zM851 677.42h1v26.07h-1z"/><path fill="#10e" d="M314 182.0h1v26.07h-1zM428 182.0h1v26.07h-1zM835 182.0h1v26.07h-1zM768 260.23h1v26.07h-1zM688 286.3h1v26.07h-1zM388 416.67h1v26.07h-1zM721 468.82h1v26.07h-1zM873 547.05h1v26.07h-1zM443 677.42h1v26.07h-1z"/><path fill="#a05" d="M315 182.0h1v26.07h-1zM325 182.0h1v26.07h-1zM806 182.0h1v26.07h-1zM857 182.0h1v26.07h-1zM386 208.07h1v26.07h-1zM510 208.07h1v26.07h-1zM772 208.07h1v26.07h-1zM466 234.15h1v26.07h-1zM546 234.15h1v26.07h-1zM844 234.15h1v26.07h-1zM858 234.15h1v26.07h-1zM991 260.23h1v26.07h-1zM365 286.3h1v26.07h-1zM428 286.3h1v26.07h-1zM914 286.3h2v26.07h-2zM495 364.52h1v26.07h-1zM701 364.52h1v26.07h-1zM828 364.52h1v26.07h-1zM862 364.52h1v26.07h-1zM566 390.6h1v26.07h-1zM876 390.6h1v26.07h-1zM962 390.6h1v26.07h-1zM605 442.75h1v26.07h-1zM962 442.75h1v26.07h-1zM376 494.9h1v26.07h-1zM410 494.9h1v26.07h-1zM503 494.9h1v26.07h-1zM819 494.9h1v26.07h-1zM575 520.97h1v26.07h-1zM286 547.05h1v26.07h-1zM315 547.05h1v26.07h-1zM355 547.05h1v26.07h-1zM465 547.05h1v26.07h-1zM474 547.05h1v26.07h-1zM616 547.05h1v26.07h-1zM875 547.05h1v26.07h-1zM934 547.05h1v26.07h-1zM981 547.05h2v26.07h-2zM799 625.27h1v26.07h-1zM914 625.27h1v26.07h-1zM764 677.42h1v26.07h-1z"/><path fill="#aaf" d="M316 182.0h1v26.07h-1zM326 182.0h1v26.07h-1zM362 182.0h1v26.07h-1zM434 182.0h1v26.07h-1zM453 182.0h1v26.07h-1zM472 182.0h1v26.07h-1zM479 182.0h1v26.07h-1zM491 182.0h1v26.07h-1zM757 182.0h1v26.07h-1zM833 182.0h1v26.07h-1zM926 182.0h1v26.07h-1zM437 208.07h1v26.07h-1zM567 208.07h1v26.07h-1zM727 208.07h1v26.07h-1zM755 208.07h1v26.07h-1zM770 208.07h1v26.07h-1zM317 234.15h1v26.07h-1zM319 234.15h1v26.07h-1zM348 234.15h1v26.07h-1zM429 234.15h1v26.07h-1zM490 234.15h1v26.07h-1zM500 234.15h1v26.07h-1zM814 234.15h1v26.07h-1zM819 234.15h1v26.07h-1zM854 234.15h1v26.07h-1zM919 234.15h1v26.07h-1zM332 260.23h1v26.07h-1zM335 260.23h1v26.07h-1zM342 260.23h1v26.07h-1zM387 260.23h1v26.07h-1zM457 260.23h1v26.07h-1zM470 260.23h1v26.07h-1zM520 260.23h1v26.07h-1zM547 260.23h1v26.07h-1zM704 260.23h1v26.07h-1zM740 260.23h1v26.07h-1zM781 260.23h1v26.07h-1zM841 260.23h1v26.07h-1zM877 260.23h1v26.07h-1zM990 260.23h1v26.07h-1zM286 286.3h1v26.07h-1zM334 286.3h1v26.07h-1zM345 286.3h1v26.07h-1zM426 286.3h1v26.07h-1zM435 286.3h1v26.07h-1zM458 286.3h1v26.07h-1zM485 286.3h1v26.07h-1zM639 286.3h1v26.07h-1zM684 286.3h1v26.07h-1zM699 286.3h1v26.07h-1zM769 286.3h1v26.07h-1zM790 286.3h1v26.07h-1zM933 286.3h1v26.07h-1zM331 312.38h1v26.07h-1zM412 312.38h1v26.07h-1zM459 312.38h1v26.07h-1zM463 312.38h1v26.07h-1zM483 312.38h1v26.07h-1zM514 312.38h1v26.07h-1zM525 312.38h1v26.07h-1zM545 312.38h1v26.07h-1zM684 312.38h1v26.07h-1zM708 312.38h1v26.07h-1zM405 338.45h1v26.07h-1zM430 338.45h1v26.07h-1zM456 338.45h1v26.07h-1zM482 338.45h1v26.07h-1zM484 338.45h1v26.07h-1zM704 338.45h1v26.07h-1zM739 338.45h1v26.07h-1zM742 338.45h1v26.07h-1zM794 338.45h1v26.07h-1zM814 338.45h1v26.07h-1zM864 338.45h1v26.07h-1zM356 364.52h1v26.07h-1zM455 364.52h1v26.07h-1zM462 364.52h1v26.07h-1zM485 364.52h1v26.07h-1zM533 364.52h1v26.07h-1zM563 364.52h1v26.07h-1zM595 364.52h1v26.07h-1zM677 364.52h1v26.07h-1zM723 364.52h1v26.07h-1zM759 364.52h1v26.07h-1zM791 364.52h1v26.07h-1zM832 364.52h1v26.07h-1zM990 364.52h1v26.07h-1zM328 390.6h1v26.07h-1zM374 390.6h1v26.07h-1zM454 390.6h1v26.07h-1zM675 390.6h1v26.07h-1zM692 390.6h1v26.07h-1zM772 390.6h1v26.07h-1zM830 390.6h1v26.07h-1zM939 390.6h1v26.07h-1zM316 416.67h2v26.07h-2zM402 416.67h1v26.07h-1zM419 416.67h1v26.07h-1zM490 416.67h1v26.07h-1zM704 416.67h1v26.07h-1zM723 416.67h1v26.07h-1zM726 416.67h1v26.07h-1zM756 416.67h1v26.07h-1zM772 416.67h1v26.07h-1zM823 416.67h1v26.07h-1zM839 416.67h1v26.07h-1zM857 416.67h1v26.07h-1zM867 416.67h1v26.07h-1zM879 416.67h1v26.07h-1zM900 416.67h1v26.07h-1zM923 416.67h1v26.07h-1zM932 416.67h1v26.07h-1zM396 442.75h1v26.07h-1zM398 442.75h2v26.07h-2zM456 442.75h1v26.07h-1zM549 442.75h1v26.07h-1zM562 442.75h1v26.07h-1zM705 442.75h1v26.07h-1zM719 442.75h1v26.07h-1zM738 442.75h1v26.07h-1zM827 442.75h1v26.07h-1zM832 442.75h1v26.07h-1zM836 442.75h1v26.07h-1zM878 442.75h1v26.07h-1zM972 442.75h1v26.07h-1zM317 468.82h1v26.07h-1zM370 468.82h1v26.07h-1zM395 468.82h1v26.07h-1zM447 468.82h1v26.07h-1zM465 468.82h1v26.07h-1zM474 468.82h1v26.07h-1zM505 468.82h1v26.07h-1zM716 468.82h1v26.07h-1zM728 468.82h1v26.07h-1zM738 468.82h1v26.07h-1zM772 468.82h1v26.07h-1zM779 468.82h1v26.07h-1zM841 468.82h1v26.07h-1zM855 468.82h1v26.07h-1zM363 494.9h1v26.07h-1zM386 494.9h1v26.07h-1zM395 494.9h1v26.07h-1zM421 494.9h1v26.07h-1zM432 494.9h1v26.07h-1zM555 494.9h1v26.07h-1zM700 494.9h1v26.07h-1zM728 494.9h1v26.07h-1zM981 494.9h1v26.07h-1zM464 520.97h1v26.07h-1zM499 520.97h1v26.07h-1zM703 520.97h1v26.07h-1zM730 520.97h1v26.07h-1zM764 520.97h1v26.07h-1zM799 520.97h1v26.07h-1zM835 520.97h1v26.07h-1zM320 547.05h1v26.07h-1zM326 547.05h1v26.07h-1zM363 547.05h1v26.07h-1zM395 547.05h1v26.07h-1zM427 547.05h1v26.07h-1zM615 547.05h1v26.07h-1zM697 547.05h1v26.07h-1zM287 573.12h1v26.07h-1zM366 573.12h1v26.07h-1zM408 573.12h1v26.07h-1zM485 573.12h1v26.07h-1zM518 573.12h1v26.07h-1zM593 573.12h1v26.07h-1zM706 573.12h1v26.07h-1zM760 573.12h1v26.07h-1zM785 573.12h1v26.07h-1zM842 573.12h1v26.07h-1zM875 573.12h1v26.07h-1zM877 573.12h1v26.07h-1zM895 573.12h1v26.07h-1zM330 599.2h1v26.07h-1zM427 599.2h1v26.07h-1zM432 599.2h1v26.07h-1zM434 599.2h1v26.07h-1zM464 599.2h1v26.07h-1zM502 599.2h1v26.07h-1zM542 599.2h1v26.07h-1zM570 599.2h1v26.07h-1zM716 599.2h1v26.07h-1zM731 599.2h1v26.07h-1zM764 599.2h1v26.07h-1zM813 599.2h1v26.07h-1zM871 599.2h1v26.07h-1zM885 599.2h1v26.07h-1zM348 625.27h1v26.07h-1zM373 625.27h1v26.07h-1zM385 625.27h1v26.07h-1zM395 625.27h1v26.07h-1zM405 625.27h1v26.07h-1zM473 625.27h1v26.07h-1zM483 625.27h1v26.07h-1zM498 625.27h1v26.07h-1zM756 625.27h1v26.07h-1zM786 625.27h1v26.07h-1zM794 625.27h1v26.07h-1zM819 625.27h1v26.07h-1zM895 625.27h2v26.07h-2zM915 625.27h1v26.07h-1zM374 651.35h1v26.07h-1zM386 651.35h1v26.07h-1zM428 651.35h1v26.07h-1zM458 651.35h1v26.07h-1zM460 651.35h1v26.07h-1zM478 651.35h1v26.07h-1zM501 651.35h1v26.07h-1zM517 651.35h1v26.07h-1zM555 651.35h1v26.07h-1zM703 651.35h1v26.07h-1zM737 651.35h1v26.07h-1zM752 651.35h1v26.07h-1zM773 651.35h1v26.07h-1zM799 651.35h1v26.07h-1zM414 677.42h1v26.07h-1zM424 677.42h1v26.07h-1zM473 677.42h1v26.07h-1zM479 677.42h2v26.07h-2zM501 677.42h1v26.07h-1zM512 677.42h1v26.07h-1zM714 677.42h1v26.07h-1zM726 677.42h1v26.07h-1zM732 677.42h1v26.07h-1zM740 677.42h1v26.07h-1zM762 677.42h1v26.07h-1zM768 677.42h1v26.07h-1zM808 677.42h1v26.07h-1zM914 677.42h1v26.07h-1zM919 677.42h1v26.07h-1z"/><path fill="#33f" d="M317 182.0h2v26.07h-2zM348 182.0h1v26.07h-1zM353 182.0h1v26.07h-1zM405 182.0h1v26.07h-1zM430 182.0h1v26.07h-1zM436 182.0h1v26.07h-1zM438 182.0h1v26.07h-1zM456 182.0h1v26.07h-1zM685 182.0h1v26.07h-1zM722 182.0h1v26.07h-1zM726 182.0h1v26.07h-1zM728 182.0h1v26.07h-1zM798 182.0h1v26.07h-1zM803 182.0h1v26.07h-1zM822 182.0h1v26.07h-1zM830 182.0h1v26.07h-1zM845 182.0h1v26.07h-1zM883 182.0h1v26.07h-1zM295 208.07h1v26.07h-1zM301 208.07h1v26.07h-1zM306 208.07h1v26.07h-1zM330 208.07h1v26.07h-1zM335 208.07h1v26.07h-1zM348 208.07h1v26.07h-1zM361 208.07h1v26.07h-1zM368 208.07h1v26.07h-1zM378 208.07h1v26.07h-1zM389 208.07h1v26.07h-1zM420 208.07h1v26.07h-1zM426 208.07h1v26.07h-1zM467 208.07h1v26.07h-1zM496 208.07h1v26.07h-1zM701 208.07h1v26.07h-1zM725 208.07h1v26.07h-1zM738 208.07h1v26.07h-1zM758 208.07h1v26.07h-1zM824 208.07h1v26.07h-1zM830 208.07h1v26.07h-1zM840 208.07h1v26.07h-1zM844 208.07h1v26.07h-1zM870 208.07h1v26.07h-1zM884 208.07h1v26.07h-1zM288 234.15h1v26.07h-1zM290 234.15h1v26.07h-1zM301 234.15h2v26.07h-2zM309 234.15h1v26.07h-1zM312 234.15h1v26.07h-1zM324 234.15h1v26.07h-1zM350 234.15h1v26.07h-1zM358 234.15h1v26.07h-1zM367 234.15h1v26.07h-1zM382 234.15h1v26.07h-1zM410 234.15h1v26.07h-1zM433 234.15h2v26.07h-2zM547 234.15h1v26.07h-1zM688 234.15h1v26.07h-1zM723 234.15h1v26.07h-1zM762 234.15h1v26.07h-1zM778 234.15h1v26.07h-1zM791 234.15h1v26.07h-1zM841 234.15h1v26.07h-1zM291 260.23h1v26.07h-1zM318 260.23h1v26.07h-1zM345 260.23h1v26.07h-1zM366 260.23h1v26.07h-1zM373 260.23h1v26.07h-1zM419 260.23h1v26.07h-1zM423 260.23h1v26.07h-1zM463 260.23h2v26.07h-2zM488 260.23h1v26.07h-1zM495 260.23h2v26.07h-2zM518 260.23h1v26.07h-1zM709 260.23h1v26.07h-1zM718 260.23h1v26.07h-1zM727 260.23h1v26.07h-1zM755 260.23h1v26.07h-1zM759 260.23h1v26.07h-1zM770 260.23h1v26.07h-1zM857 260.23h1v26.07h-1zM865 260.23h1v26.07h-1zM290 286.3h2v26.07h-2zM308 286.3h1v26.07h-1zM311 286.3h1v26.07h-1zM392 286.3h1v26.07h-1zM398 286.3h1v26.07h-1zM523 286.3h1v26.07h-1zM597 286.3h1v26.07h-1zM676 286.3h1v26.07h-1zM689 286.3h1v26.07h-1zM697 286.3h1v26.07h-1zM700 286.3h1v26.07h-1zM730 286.3h1v26.07h-1zM778 286.3h1v26.07h-1zM780 286.3h1v26.07h-1zM800 286.3h1v26.07h-1zM838 286.3h1v26.07h-1zM851 286.3h1v26.07h-1zM872 286.3h1v26.07h-1zM895 286.3h1v26.07h-1zM903 286.3h1v26.07h-1zM947 286.3h1v26.07h-1zM325 312.38h1v26.07h-1zM333 312.38h1v26.07h-1zM338 312.38h2v26.07h-2zM354 312.38h1v26.07h-1zM356 312.38h2v26.07h-2zM405 312.38h1v26.07h-1zM680 312.38h1v26.07h-1zM683 312.38h1v26.07h-1zM713 312.38h1v26.07h-1zM716 312.38h1v26.07h-1zM731 312.38h1v26.07h-1zM748 312.38h1v26.07h-1zM790 312.38h1v26.07h-1zM935 312.38h1v26.07h-1zM970 312.38h1v26.07h-1zM296 338.45h1v26.07h-1zM321 338.45h1v26.07h-1zM343 338.45h1v26.07h-1zM351 338.45h1v26.07h-1zM380 338.45h1v26.07h-1zM391 338.45h1v26.07h-1zM410 338.45h1v26.07h-1zM424 338.45h1v26.07h-1zM426 338.45h2v26.07h-2zM479 338.45h1v26.07h-1zM501 338.45h1v26.07h-1zM530 338.45h1v26.07h-1zM674 338.45h1v26.07h-1zM686 338.45h1v26.07h-1zM706 338.45h1v26.07h-1zM805 338.45h1v26.07h-1zM290 364.52h1v26.07h-1zM299 364.52h1v26.07h-1zM346 364.52h1v26.07h-1zM348 364.52h1v26.07h-1zM375 364.52h2v26.07h-2zM382 364.52h1v26.07h-1zM404 364.52h1v26.07h-1zM410 364.52h1v26.07h-1zM412 364.52h1v26.07h-1zM422 364.52h1v26.07h-1zM429 364.52h1v26.07h-1zM438 364.52h1v26.07h-1zM511 364.52h1v26.07h-1zM527 364.52h1v26.07h-1zM673 364.52h1v26.07h-1zM679 364.52h1v26.07h-1zM707 364.52h1v26.07h-1zM709 364.52h1v26.07h-1zM720 364.52h1v26.07h-1zM724 364.52h1v26.07h-1zM787 364.52h1v26.07h-1zM803 364.52h1v26.07h-1zM865 364.52h1v26.07h-1zM320 390.6h1v26.07h-1zM347 390.6h1v26.07h-1zM355 390.6h1v26.07h-1zM357 390.6h1v26.07h-1zM359 390.6h1v26.07h-1zM375 390.6h1v26.07h-1zM390 390.6h1v26.07h-1zM401 390.6h1v26.07h-1zM415 390.6h1v26.07h-1zM478 390.6h1v26.07h-1zM532 390.6h1v26.07h-1zM542 390.6h1v26.07h-1zM559 390.6h1v26.07h-1zM703 390.6h1v26.07h-1zM714 390.6h1v26.07h-1zM777 390.6h1v26.07h-1zM835 390.6h1v26.07h-1zM881 390.6h1v26.07h-1zM925 390.6h1v26.07h-1zM950 390.6h1v26.07h-1zM306 416.67h1v26.07h-1zM375 416.67h1v26.07h-1zM391 416.67h1v26.07h-1zM393 416.67h1v26.07h-1zM501 416.67h1v26.07h-1zM558 416.67h1v26.07h-1zM680 416.67h1v26.07h-1zM686 416.67h1v26.07h-1zM688 416.67h1v26.07h-1zM690 416.67h1v26.07h-1zM714 416.67h1v26.07h-1zM719 416.67h1v26.07h-1zM729 416.67h1v26.07h-1zM731 416.67h1v26.07h-1zM739 416.67h1v26.07h-1zM757 416.67h1v26.07h-1zM793 416.67h1v26.07h-1zM801 416.67h1v26.07h-1zM838 416.67h1v26.07h-1zM878 416.67h1v26.07h-1zM909 416.67h1v26.07h-1zM295 442.75h2v26.07h-2zM299 442.75h1v26.07h-1zM316 442.75h1v26.07h-1zM318 442.75h1v26.07h-1zM323 442.75h1v26.07h-1zM325 442.75h1v26.07h-1zM340 442.75h1v26.07h-1zM416 442.75h1v26.07h-1zM437 442.75h1v26.07h-1zM464 442.75h1v26.07h-1zM493 442.75h1v26.07h-1zM503 442.75h1v26.07h-1zM713 442.75h2v26.07h-2zM755 442.75h1v26.07h-1zM773 442.75h1v26.07h-1zM809 442.75h1v26.07h-1zM315 468.82h1v26.07h-1zM320 468.82h1v26.07h-1zM339 468.82h1v26.07h-1zM353 468.82h1v26.07h-1zM361 468.82h2v26.07h-2zM364 468.82h1v26.07h-1zM381 468.82h1v26.07h-1zM416 468.82h1v26.07h-1zM420 468.82h1v26.07h-1zM426 468.82h1v26.07h-1zM453 468.82h1v26.07h-1zM459 468.82h1v26.07h-1zM472 468.82h1v26.07h-1zM488 468.82h1v26.07h-1zM698 468.82h1v26.07h-1zM708 468.82h1v26.07h-1zM714 468.82h1v26.07h-1zM735 468.82h1v26.07h-1zM737 468.82h1v26.07h-1zM755 468.82h3v26.07h-3zM794 468.82h1v26.07h-1zM877 468.82h1v26.07h-1zM295 494.9h3v26.07h-3zM331 494.9h1v26.07h-1zM342 494.9h1v26.07h-1zM350 494.9h1v26.07h-1zM359 494.9h1v26.07h-1zM369 494.9h1v26.07h-1zM380 494.9h1v26.07h-1zM389 494.9h1v26.07h-1zM396 494.9h1v26.07h-1zM399 494.9h1v26.07h-1zM439 494.9h1v26.07h-1zM499 494.9h1v26.07h-1zM702 494.9h1v26.07h-1zM711 494.9h1v26.07h-1zM718 494.9h1v26.07h-1zM729 494.9h1v26.07h-1zM756 494.9h1v26.07h-1zM764 494.9h1v26.07h-1zM768 494.9h1v26.07h-1zM793 494.9h1v26.07h-1zM818 494.9h1v26.07h-1zM915 494.9h1v26.07h-1zM300 520.97h1v26.07h-1zM305 520.97h1v26.07h-1zM319 520.97h2v26.07h-2zM322 520.97h2v26.07h-2zM326 520.97h1v26.07h-1zM337 520.97h1v26.07h-1zM353 520.97h1v26.07h-1zM360 520.97h1v26.07h-1zM386 520.97h1v26.07h-1zM408 520.97h1v26.07h-1zM410 520.97h1v26.07h-1zM419 520.97h1v26.07h-1zM439 520.97h1v26.07h-1zM444 520.97h1v26.07h-1zM479 520.97h1v26.07h-1zM673 520.97h1v26.07h-1zM681 520.97h1v26.07h-1zM708 520.97h1v26.07h-1zM711 520.97h1v26.07h-1zM753 520.97h1v26.07h-1zM756 520.97h1v26.07h-1zM760 520.97h2v26.07h-2zM766 520.97h1v26.07h-1zM798 520.97h1v26.07h-1zM814 520.97h2v26.07h-2zM849 520.97h1v26.07h-1zM859 520.97h1v26.07h-1zM894 520.97h1v26.07h-1zM288 547.05h1v26.07h-1zM301 547.05h1v26.07h-1zM307 547.05h1v26.07h-1zM319 547.05h1v26.07h-1zM321 547.05h1v26.07h-1zM346 547.05h1v26.07h-1zM350 547.05h1v26.07h-1zM353 547.05h1v26.07h-1zM401 547.05h1v26.07h-1zM470 547.05h1v26.07h-1zM524 547.05h1v26.07h-1zM526 547.05h2v26.07h-2zM685 547.05h1v26.07h-1zM695 547.05h1v26.07h-1zM718 547.05h1v26.07h-1zM739 547.05h1v26.07h-1zM776 547.05h1v26.07h-1zM846 547.05h1v26.07h-1zM969 547.05h1v26.07h-1zM302 573.12h1v26.07h-1zM311 573.12h2v26.07h-2zM351 573.12h1v26.07h-1zM353 573.12h1v26.07h-1zM355 573.12h2v26.07h-2zM369 573.12h1v26.07h-1zM381 573.12h1v26.07h-1zM390 573.12h1v26.07h-1zM510 573.12h1v26.07h-1zM696 573.12h1v26.07h-1zM722 573.12h1v26.07h-1zM725 573.12h1v26.07h-1zM727 573.12h1v26.07h-1zM733 573.12h2v26.07h-2zM746 573.12h3v26.07h-3zM777 573.12h1v26.07h-1zM800 573.12h1v26.07h-1zM870 573.12h1v26.07h-1zM315 599.2h1v26.07h-1zM336 599.2h1v26.07h-1zM369 599.2h1v26.07h-1zM373 599.2h2v26.07h-2zM407 599.2h1v26.07h-1zM430 599.2h1v26.07h-1zM493 599.2h1v26.07h-1zM677 599.2h1v26.07h-1zM680 599.2h1v26.07h-1zM697 599.2h1v26.07h-1zM700 599.2h1v26.07h-1zM702 599.2h1v26.07h-1zM733 599.2h1v26.07h-1zM746 599.2h1v26.07h-1zM749 599.2h1v26.07h-1zM765 599.2h1v26.07h-1zM812 599.2h1v26.07h-1zM820 599.2h1v26.07h-1zM867 599.2h1v26.07h-1zM315 625.27h1v26.07h-1zM357 625.27h1v26.07h-1zM365 625.27h2v26.07h-2zM375 625.27h2v26.07h-2zM388 625.27h1v26.07h-1zM396 625.27h1v26.07h-1zM419 625.27h1v26.07h-1zM455 625.27h1v26.07h-1zM711 625.27h1v26.07h-1zM723 625.27h1v26.07h-1zM734 625.27h1v26.07h-1zM739 625.27h1v26.07h-1zM746 625.27h1v26.07h-1zM751 625.27h1v26.07h-1zM757 625.27h1v26.07h-1zM774 625.27h1v26.07h-1zM795 625.27h1v26.07h-1zM806 625.27h1v26.07h-1zM862 625.27h1v26.07h-1zM882 625.27h1v26.07h-1zM304 651.35h1v26.07h-1zM330 651.35h1v26.07h-1zM342 651.35h1v26.07h-1zM344 651.35h1v26.07h-1zM361 651.35h1v26.07h-1zM366 651.35h1v26.07h-1zM392 651.35h1v26.07h-1zM510 651.35h1v26.07h-1zM697 651.35h1v26.07h-1zM705 651.35h1v26.07h-1zM718 651.35h1v26.07h-1zM734 651.35h1v26.07h-1zM739 651.35h1v26.07h-1zM755 651.35h1v26.07h-1zM757 651.35h1v26.07h-1zM760 651.35h1v26.07h-1zM771 651.35h1v26.07h-1zM788 651.35h1v26.07h-1zM790 651.35h1v26.07h-1zM795 651.35h1v26.07h-1zM830 651.35h1v26.07h-1zM288 677.42h1v26.07h-1zM327 677.42h1v26.07h-1zM334 677.42h1v26.07h-1zM340 677.42h1v26.07h-1zM344 677.42h1v26.07h-1zM358 677.42h1v26.07h-1zM392 677.42h1v26.07h-1zM411 677.42h1v26.07h-1zM428 677.42h1v26.07h-1zM677 677.42h1v26.07h-1zM691 677.42h1v26.07h-1zM715 677.42h1v26.07h-1zM722 677.42h1v26.07h-1zM735 677.42h1v26.07h-1zM744 677.42h1v26.07h-1zM773 677.42h2v26.07h-2zM785 677.42h1v26.07h-1zM796 677.42h1v26.07h-1zM809 677.42h1v26.07h-1zM834 677.42h1v26.07h-1zM836 677.42h1v26.07h-1z"/><path fill="#32e" d="M319 182.0h1v26.07h-1zM341 182.0h1v26.07h-1zM432 182.0h1v26.07h-1zM488 182.0h1v26.07h-1zM390 208.07h1v26.07h-1zM853 208.07h1v26.07h-1zM880 208.07h1v26.07h-1zM412 260.23h1v26.07h-1zM764 260.23h1v26.07h-1zM726 286.3h1v26.07h-1zM748 286.3h1v26.07h-1zM352 312.38h1v26.07h-1zM594 312.38h1v26.07h-1zM459 364.52h1v26.07h-1zM534 364.52h1v26.07h-1zM795 364.52h1v26.07h-1zM701 416.67h1v26.07h-1zM815 442.75h1v26.07h-1zM768 468.82h1v26.07h-1zM826 468.82h1v26.07h-1zM688 494.9h1v26.07h-1zM519 520.97h1v26.07h-1zM746 520.97h1v26.07h-1zM354 547.05h1v26.07h-1zM766 573.12h1v26.07h-1zM390 599.2h1v26.07h-1zM494 599.2h1v26.07h-1zM339 625.27h1v26.07h-1zM352 625.27h1v26.07h-1zM370 625.27h1v26.07h-1zM379 625.27h1v26.07h-1zM840 625.27h1v26.07h-1zM339 677.42h1v26.07h-1z"/><path fill="#c8c" d="M320 182.0h1v26.07h-1zM586 182.0h1v26.07h-1zM881 208.07h1v26.07h-1zM962 208.07h1v26.07h-1zM480 234.15h1v26.07h-1zM596 260.23h1v26.07h-1zM730 390.6h1v26.07h-1zM820 416.67h1v26.07h-1zM335 442.75h1v26.07h-1zM459 442.75h1v26.07h-1zM535 442.75h1v26.07h-1zM520 468.82h1v26.07h-1zM799 468.82h1v26.07h-1zM430 520.97h1v26.07h-1zM991 547.05h1v26.07h-1zM395 573.12h1v26.07h-1zM352 599.2h1v26.07h-1zM471 599.2h1v26.07h-1zM898 599.2h1v26.07h-1zM891 625.27h1v26.07h-1zM496 677.42h1v26.07h-1z"/><path fill="#55f" d="M331 182.0h1v26.07h-1zM346 182.0h1v26.07h-1zM351 182.0h1v26.07h-1zM359 182.0h1v26.07h-1zM366 182.0h1v26.07h-1zM374 182.0h1v26.07h-1zM416 182.0h1v26.07h-1zM433 182.0h1v26.07h-1zM477 182.0h1v26.07h-1zM484 182.0h1v26.07h-1zM495 182.0h1v26.07h-1zM527 182.0h1v26.07h-1zM555 182.0h2v26.07h-2zM690 182.0h1v26.07h-1zM698 182.0h1v26.07h-1zM701 182.0h1v26.07h-1zM727 182.0h1v26.07h-1zM785 182.0h1v26.07h-1zM847 182.0h1v26.07h-1zM290 208.07h1v26.07h-1zM304 208.07h2v26.07h-2zM342 208.07h1v26.07h-1zM376 208.07h1v26.07h-1zM387 208.07h1v26.07h-1zM442 208.07h1v26.07h-1zM446 208.07h1v26.07h-1zM465 208.07h1v26.07h-1zM513 208.07h1v26.07h-1zM687 208.07h1v26.07h-1zM689 208.07h1v26.07h-1zM706 208.07h1v26.07h-1zM708 208.07h1v26.07h-1zM716 208.07h1v26.07h-1zM757 208.07h1v26.07h-1zM779 208.07h1v26.07h-1zM798 208.07h2v26.07h-2zM808 208.07h1v26.07h-1zM831 208.07h1v26.07h-1zM330 234.15h1v26.07h-1zM340 234.15h1v26.07h-1zM347 234.15h1v26.07h-1zM354 234.15h3v26.07h-3zM374 234.15h1v26.07h-1zM394 234.15h1v26.07h-1zM424 234.15h1v26.07h-1zM442 234.15h1v26.07h-1zM473 234.15h1v26.07h-1zM695 234.15h1v26.07h-1zM717 234.15h1v26.07h-1zM727 234.15h1v26.07h-1zM767 234.15h1v26.07h-1zM825 234.15h2v26.07h-2zM828 234.15h1v26.07h-1zM847 234.15h1v26.07h-1zM299 260.23h2v26.07h-2zM305 260.23h1v26.07h-1zM309 260.23h1v26.07h-1zM311 260.23h1v26.07h-1zM315 260.23h1v26.07h-1zM325 260.23h1v26.07h-1zM340 260.23h1v26.07h-1zM385 260.23h1v26.07h-1zM416 260.23h1v26.07h-1zM442 260.23h1v26.07h-1zM691 260.23h1v26.07h-1zM701 260.23h1v26.07h-1zM732 260.23h1v26.07h-1zM738 260.23h1v26.07h-1zM758 260.23h1v26.07h-1zM760 260.23h1v26.07h-1zM786 260.23h1v26.07h-1zM788 260.23h1v26.07h-1zM793 260.23h1v26.07h-1zM796 260.23h1v26.07h-1zM814 260.23h1v26.07h-1zM847 260.23h1v26.07h-1zM904 260.23h1v26.07h-1zM915 260.23h1v26.07h-1zM288 286.3h1v26.07h-1zM292 286.3h1v26.07h-1zM315 286.3h1v26.07h-1zM322 286.3h1v26.07h-1zM341 286.3h1v26.07h-1zM445 286.3h1v26.07h-1zM517 286.3h1v26.07h-1zM673 286.3h1v26.07h-1zM724 286.3h1v26.07h-1zM760 286.3h1v26.07h-1zM874 286.3h1v26.07h-1zM885 286.3h1v26.07h-1zM946 286.3h1v26.07h-1zM348 312.38h1v26.07h-1zM370 312.38h1v26.07h-1zM410 312.38h1v26.07h-1zM425 312.38h1v26.07h-1zM432 312.38h1v26.07h-1zM453 312.38h1v26.07h-1zM464 312.38h1v26.07h-1zM466 312.38h1v26.07h-1zM500 312.38h1v26.07h-1zM674 312.38h1v26.07h-1zM765 312.38h1v26.07h-1zM839 312.38h1v26.07h-1zM901 312.38h1v26.07h-1zM959 312.38h1v26.07h-1zM335 338.45h1v26.07h-1zM352 338.45h1v26.07h-1zM376 338.45h1v26.07h-1zM396 338.45h1v26.07h-1zM407 338.45h1v26.07h-1zM572 338.45h1v26.07h-1zM598 338.45h1v26.07h-1zM681 338.45h1v26.07h-1zM707 338.45h1v26.07h-1zM718 338.45h1v26.07h-1zM764 338.45h1v26.07h-1zM774 338.45h1v26.07h-1zM809 338.45h1v26.07h-1zM847 338.45h1v26.07h-1zM901 338.45h1v26.07h-1zM325 364.52h1v26.07h-1zM355 364.52h1v26.07h-1zM360 364.52h1v26.07h-1zM381 364.52h1v26.07h-1zM387 364.52h1v26.07h-1zM394 364.52h1v26.07h-1zM399 364.52h1v26.07h-1zM417 364.52h1v26.07h-1zM464 364.52h1v26.07h-1zM497 364.52h1v26.07h-1zM684 364.52h1v26.07h-1zM700 364.52h1v26.07h-1zM711 364.52h1v26.07h-1zM732 364.52h1v26.07h-1zM740 364.52h1v26.07h-1zM302 390.6h1v26.07h-1zM322 390.6h1v26.07h-1zM392 390.6h1v26.07h-1zM396 390.6h1v26.07h-1zM470 390.6h1v26.07h-1zM493 390.6h1v26.07h-1zM535 390.6h1v26.07h-1zM538 390.6h1v26.07h-1zM684 390.6h1v26.07h-1zM686 390.6h1v26.07h-1zM742 390.6h1v26.07h-1zM797 390.6h1v26.07h-1zM895 390.6h1v26.07h-1zM303 416.67h1v26.07h-1zM305 416.67h1v26.07h-1zM315 416.67h1v26.07h-1zM356 416.67h1v26.07h-1zM366 416.67h1v26.07h-1zM379 416.67h2v26.07h-2zM422 416.67h1v26.07h-1zM424 416.67h1v26.07h-1zM437 416.67h1v26.07h-1zM441 416.67h1v26.07h-1zM454 416.67h1v26.07h-1zM498 416.67h1v26.07h-1zM505 416.67h1v26.07h-1zM508 416.67h1v26.07h-1zM689 416.67h1v26.07h-1zM710 416.67h2v26.07h-2zM717 416.67h1v26.07h-1zM725 416.67h1v26.07h-1zM742 416.67h1v26.07h-1zM751 416.67h1v26.07h-1zM758 416.67h2v26.07h-2zM792 416.67h1v26.07h-1zM794 416.67h1v26.07h-1zM799 416.67h2v26.07h-2zM807 416.67h1v26.07h-1zM816 416.67h1v26.07h-1zM858 416.67h1v26.07h-1zM973 416.67h1v26.07h-1zM301 442.75h1v26.07h-1zM342 442.75h1v26.07h-1zM350 442.75h1v26.07h-1zM395 442.75h1v26.07h-1zM409 442.75h1v26.07h-1zM423 442.75h1v26.07h-1zM433 442.75h1v26.07h-1zM505 442.75h2v26.07h-2zM529 442.75h1v26.07h-1zM678 442.75h1v26.07h-1zM684 442.75h2v26.07h-2zM711 442.75h1v26.07h-1zM751 442.75h1v26.07h-1zM767 442.75h1v26.07h-1zM770 442.75h1v26.07h-1zM778 442.75h1v26.07h-1zM819 442.75h1v26.07h-1zM851 442.75h1v26.07h-1zM290 468.82h1v26.07h-1zM342 468.82h1v26.07h-1zM355 468.82h1v26.07h-1zM372 468.82h1v26.07h-1zM462 468.82h1v26.07h-1zM477 468.82h1v26.07h-1zM736 468.82h1v26.07h-1zM761 468.82h1v26.07h-1zM803 468.82h1v26.07h-1zM807 468.82h1v26.07h-1zM300 494.9h1v26.07h-1zM306 494.9h1v26.07h-1zM318 494.9h1v26.07h-1zM328 494.9h1v26.07h-1zM351 494.9h1v26.07h-1zM356 494.9h1v26.07h-1zM375 494.9h1v26.07h-1zM381 494.9h1v26.07h-1zM383 494.9h2v26.07h-2zM387 494.9h1v26.07h-1zM401 494.9h1v26.07h-1zM411 494.9h1v26.07h-1zM449 494.9h1v26.07h-1zM456 494.9h1v26.07h-1zM463 494.9h1v26.07h-1zM475 494.9h2v26.07h-2zM710 494.9h1v26.07h-1zM776 494.9h1v26.07h-1zM780 494.9h1v26.07h-1zM802 494.9h1v26.07h-1zM804 494.9h1v26.07h-1zM813 494.9h1v26.07h-1zM839 494.9h1v26.07h-1zM333 520.97h1v26.07h-1zM339 520.97h1v26.07h-1zM369 520.97h1v26.07h-1zM371 520.97h2v26.07h-2zM405 520.97h1v26.07h-1zM446 520.97h1v26.07h-1zM684 520.97h1v26.07h-1zM705 520.97h1v26.07h-1zM732 520.97h1v26.07h-1zM765 520.97h1v26.07h-1zM794 520.97h1v26.07h-1zM797 520.97h1v26.07h-1zM818 520.97h1v26.07h-1zM296 547.05h1v26.07h-1zM498 547.05h1v26.07h-1zM591 547.05h1v26.07h-1zM687 547.05h1v26.07h-1zM712 547.05h1v26.07h-1zM717 547.05h1v26.07h-1zM733 547.05h1v26.07h-1zM775 547.05h1v26.07h-1zM876 547.05h1v26.07h-1zM937 547.05h1v26.07h-1zM952 547.05h1v26.07h-1zM992 547.05h1v26.07h-1zM306 573.12h1v26.07h-1zM332 573.12h1v26.07h-1zM352 573.12h1v26.07h-1zM365 573.12h1v26.07h-1zM371 573.12h1v26.07h-1zM431 573.12h1v26.07h-1zM724 573.12h1v26.07h-1zM729 573.12h1v26.07h-1zM743 573.12h1v26.07h-1zM828 573.12h1v26.07h-1zM830 573.12h1v26.07h-1zM847 573.12h1v26.07h-1zM850 573.12h1v26.07h-1zM863 573.12h1v26.07h-1zM934 573.12h2v26.07h-2zM291 599.2h1v26.07h-1zM305 599.2h1v26.07h-1zM316 599.2h1v26.07h-1zM319 599.2h1v26.07h-1zM367 599.2h1v26.07h-1zM379 599.2h1v26.07h-1zM425 599.2h1v26.07h-1zM435 599.2h1v26.07h-1zM439 599.2h1v26.07h-1zM468 599.2h1v26.07h-1zM472 599.2h1v26.07h-1zM485 599.2h1v26.07h-1zM500 599.2h1v26.07h-1zM556 599.2h1v26.07h-1zM687 599.2h1v26.07h-1zM877 599.2h1v26.07h-1zM343 625.27h1v26.07h-1zM535 625.27h2v26.07h-2zM543 625.27h1v26.07h-1zM682 625.27h1v26.07h-1zM696 625.27h1v26.07h-1zM716 625.27h1v26.07h-1zM760 625.27h1v26.07h-1zM765 625.27h1v26.07h-1zM767 625.27h1v26.07h-1zM775 625.27h1v26.07h-1zM780 625.27h1v26.07h-1zM810 625.27h1v26.07h-1zM821 625.27h1v26.07h-1zM832 625.27h1v26.07h-1zM848 625.27h1v26.07h-1zM880 625.27h1v26.07h-1zM912 625.27h1v26.07h-1zM332 651.35h1v26.07h-1zM359 651.35h1v26.07h-1zM383 651.35h1v26.07h-1zM397 651.35h1v26.07h-1zM434 651.35h1v26.07h-1zM500 651.35h1v26.07h-1zM511 651.35h1v26.07h-1zM687 651.35h1v26.07h-1zM702 651.35h1v26.07h-1zM724 651.35h1v26.07h-1zM745 651.35h1v26.07h-1zM749 651.35h1v26.07h-1zM765 651.35h1v26.07h-1zM767 651.35h1v26.07h-1zM811 651.35h1v26.07h-1zM298 677.42h1v26.07h-1zM313 677.42h1v26.07h-1zM315 677.42h2v26.07h-2zM329 677.42h1v26.07h-1zM350 677.42h1v26.07h-1zM365 677.42h1v26.07h-1zM376 677.42h1v26.07h-1zM413 677.42h1v26.07h-1zM435 677.42h1v26.07h-1zM457 677.42h1v26.07h-1zM690 677.42h1v26.07h-1zM701 677.42h1v26.07h-1zM713 677.42h1v26.07h-1zM748 677.42h1v26.07h-1zM751 677.42h1v26.07h-1zM756 677.42h1v26.07h-1zM797 677.42h1v26.07h-1zM821 677.42h1v26.07h-1zM837 677.42h1v26.07h-1zM855 677.42h1v26.07h-1zM885 677.42h1v26.07h-1z"/><path fill="#bbf" d="M332 182.0h1v26.07h-1zM347 182.0h1v26.07h-1zM350 182.0h1v26.07h-1zM401 182.0h1v26.07h-1zM464 182.0h2v26.07h-2zM710 182.0h1v26.07h-1zM733 182.0h1v26.07h-1zM801 182.0h1v26.07h-1zM917 182.0h1v26.07h-1zM566 208.07h1v26.07h-1zM569 208.07h1v26.07h-1zM331 234.15h1v26.07h-1zM388 234.15h1v26.07h-1zM489 234.15h1v26.07h-1zM561 234.15h1v26.07h-1zM598 234.15h1v26.07h-1zM797 234.15h1v26.07h-1zM815 234.15h1v26.07h-1zM834 234.15h1v26.07h-1zM853 234.15h1v26.07h-1zM341 260.23h1v26.07h-1zM384 260.23h1v26.07h-1zM521 260.23h1v26.07h-1zM733 260.23h1v26.07h-1zM774 260.23h1v26.07h-1zM783 260.23h1v26.07h-1zM884 260.23h1v26.07h-1zM444 286.3h1v26.07h-1zM457 286.3h1v26.07h-1zM536 286.3h1v26.07h-1zM642 286.3h1v26.07h-1zM717 286.3h1v26.07h-1zM319 312.38h1v26.07h-1zM340 312.38h1v26.07h-1zM350 312.38h1v26.07h-1zM385 312.38h1v26.07h-1zM474 312.38h1v26.07h-1zM488 312.38h1v26.07h-1zM584 312.38h1v26.07h-1zM685 312.38h1v26.07h-1zM730 312.38h1v26.07h-1zM892 312.38h1v26.07h-1zM379 338.45h1v26.07h-1zM488 338.45h1v26.07h-1zM492 338.45h2v26.07h-2zM768 338.45h1v26.07h-1zM834 338.45h1v26.07h-1zM873 338.45h1v26.07h-1zM428 364.52h1v26.07h-1zM431 364.52h1v26.07h-1zM627 364.52h1v26.07h-1zM725 364.52h1v26.07h-1zM744 364.52h1v26.07h-1zM770 364.52h1v26.07h-1zM775 364.52h1v26.07h-1zM784 364.52h1v26.07h-1zM346 390.6h1v26.07h-1zM428 390.6h1v26.07h-1zM543 390.6h1v26.07h-1zM708 390.6h1v26.07h-1zM743 390.6h1v26.07h-1zM769 390.6h1v26.07h-1zM858 390.6h1v26.07h-1zM867 390.6h1v26.07h-1zM883 390.6h1v26.07h-1zM932 390.6h1v26.07h-1zM329 416.67h1v26.07h-1zM443 416.67h1v26.07h-1zM514 416.67h1v26.07h-1zM526 416.67h1v26.07h-1zM577 416.67h1v26.07h-1zM777 416.67h1v26.07h-1zM435 442.75h1v26.07h-1zM457 442.75h1v26.07h-1zM483 442.75h1v26.07h-1zM543 442.75h1v26.07h-1zM694 442.75h1v26.07h-1zM703 442.75h1v26.07h-1zM724 442.75h1v26.07h-1zM802 442.75h1v26.07h-1zM813 442.75h1v26.07h-1zM849 442.75h1v26.07h-1zM881 442.75h1v26.07h-1zM476 468.82h1v26.07h-1zM771 468.82h1v26.07h-1zM777 468.82h1v26.07h-1zM801 468.82h1v26.07h-1zM814 468.82h1v26.07h-1zM846 468.82h1v26.07h-1zM856 468.82h1v26.07h-1zM860 468.82h1v26.07h-1zM298 494.9h1v26.07h-1zM388 494.9h1v26.07h-1zM423 494.9h1v26.07h-1zM527 494.9h1v26.07h-1zM738 494.9h1v26.07h-1zM748 494.9h1v26.07h-1zM751 494.9h1v26.07h-1zM377 520.97h1v26.07h-1zM388 520.97h1v26.07h-1zM421 520.97h1v26.07h-1zM428 520.97h1v26.07h-1zM483 520.97h1v26.07h-1zM520 520.97h1v26.07h-1zM726 520.97h1v26.07h-1zM312 547.05h1v26.07h-1zM318 547.05h1v26.07h-1zM339 547.05h1v26.07h-1zM357 547.05h1v26.07h-1zM479 547.05h1v26.07h-1zM597 547.05h1v26.07h-1zM618 547.05h1v26.07h-1zM688 547.05h1v26.07h-1zM734 547.05h1v26.07h-1zM763 547.05h1v26.07h-1zM810 547.05h1v26.07h-1zM310 573.12h1v26.07h-1zM387 573.12h1v26.07h-1zM389 573.12h1v26.07h-1zM479 573.12h1v26.07h-1zM541 573.12h1v26.07h-1zM552 573.12h1v26.07h-1zM818 573.12h1v26.07h-1zM290 599.2h1v26.07h-1zM322 599.2h1v26.07h-1zM345 599.2h1v26.07h-1zM388 599.2h1v26.07h-1zM404 599.2h1v26.07h-1zM497 599.2h1v26.07h-1zM499 599.2h1v26.07h-1zM536 599.2h1v26.07h-1zM557 599.2h1v26.07h-1zM574 599.2h1v26.07h-1zM753 599.2h1v26.07h-1zM847 599.2h1v26.07h-1zM912 599.2h1v26.07h-1zM942 599.2h1v26.07h-1zM294 625.27h1v26.07h-1zM308 625.27h1v26.07h-1zM372 625.27h1v26.07h-1zM410 625.27h1v26.07h-1zM674 625.27h1v26.07h-1zM830 625.27h2v26.07h-2zM837 625.27h1v26.07h-1zM841 625.27h1v26.07h-1zM855 625.27h1v26.07h-1zM867 625.27h1v26.07h-1zM881 625.27h1v26.07h-1zM339 651.35h1v26.07h-1zM373 651.35h1v26.07h-1zM403 651.35h1v26.07h-1zM426 651.35h1v26.07h-1zM435 651.35h1v26.07h-1zM837 651.35h1v26.07h-1zM842 651.35h1v26.07h-1zM848 651.35h1v26.07h-1zM299 677.42h1v26.07h-1zM372 677.42h1v26.07h-1zM410 677.42h1v26.07h-1zM425 677.42h1v26.07h-1zM447 677.42h1v26.07h-1zM451 677.42h1v26.07h-1zM547 677.42h1v26.07h-1zM752 677.42h1v26.07h-1zM788 677.42h1v26.07h-1zM798 677.42h1v26.07h-1zM907 677.42h1v26.07h-1z"/><path fill="#ddf" d="M337 182.0h1v26.07h-1zM331 208.07h1v26.07h-1zM470 208.07h1v26.07h-1zM526 208.07h1v26.07h-1zM568 208.07h1v26.07h-1zM728 208.07h1v26.07h-1zM756 208.07h1v26.07h-1zM400 234.15h1v26.07h-1zM421 234.15h1v26.07h-1zM501 234.15h1v26.07h-1zM805 234.15h1v26.07h-1zM838 234.15h1v26.07h-1zM507 260.23h1v26.07h-1zM516 260.23h1v26.07h-1zM562 260.23h1v26.07h-1zM756 260.23h1v26.07h-1zM860 260.23h1v26.07h-1zM970 260.23h1v26.07h-1zM336 286.3h1v26.07h-1zM419 286.3h1v26.07h-1zM421 286.3h2v26.07h-2zM870 286.3h1v26.07h-1zM424 312.38h1v26.07h-1zM456 312.38h1v26.07h-1zM482 312.38h1v26.07h-1zM521 312.38h1v26.07h-1zM531 312.38h1v26.07h-1zM729 312.38h1v26.07h-1zM777 312.38h1v26.07h-1zM389 338.45h1v26.07h-1zM587 338.45h1v26.07h-1zM789 338.45h1v26.07h-1zM821 338.45h1v26.07h-1zM437 364.52h1v26.07h-1zM536 364.52h1v26.07h-1zM860 364.52h1v26.07h-1zM872 364.52h1v26.07h-1zM875 364.52h1v26.07h-1zM379 390.6h1v26.07h-1zM400 390.6h1v26.07h-1zM451 390.6h1v26.07h-1zM473 390.6h1v26.07h-1zM549 390.6h1v26.07h-1zM590 390.6h1v26.07h-1zM685 390.6h1v26.07h-1zM825 390.6h1v26.07h-1zM874 390.6h1v26.07h-1zM915 390.6h1v26.07h-1zM426 416.67h2v26.07h-2zM504 416.67h1v26.07h-1zM557 416.67h1v26.07h-1zM743 416.67h1v26.07h-1zM808 416.67h1v26.07h-1zM886 416.67h1v26.07h-1zM899 416.67h1v26.07h-1zM944 416.67h1v26.07h-1zM352 442.75h1v26.07h-1zM431 442.75h1v26.07h-1zM796 442.75h1v26.07h-1zM441 468.82h1v26.07h-1zM497 468.82h1v26.07h-1zM499 468.82h1v26.07h-1zM813 468.82h1v26.07h-1zM819 468.82h1v26.07h-1zM843 468.82h1v26.07h-1zM872 468.82h1v26.07h-1zM480 494.9h1v26.07h-1zM559 494.9h1v26.07h-1zM754 494.9h1v26.07h-1zM831 520.97h2v26.07h-2zM374 547.05h1v26.07h-1zM377 547.05h1v26.07h-1zM421 547.05h1v26.07h-1zM481 547.05h1v26.07h-1zM489 547.05h1v26.07h-1zM684 547.05h1v26.07h-1zM699 547.05h1v26.07h-1zM704 547.05h1v26.07h-1zM892 547.05h1v26.07h-1zM953 547.05h1v26.07h-1zM1031 547.05h1v26.07h-1zM478 573.12h1v26.07h-1zM519 573.12h1v26.07h-1zM521 573.12h1v26.07h-1zM843 573.12h1v26.07h-1zM860 573.12h1v26.07h-1zM945 573.12h1v26.07h-1zM289 599.2h1v26.07h-1zM567 599.2h1v26.07h-1zM637 599.2h1v26.07h-1zM725 599.2h1v26.07h-1zM791 599.2h1v26.07h-1zM796 599.2h1v26.07h-1zM838 599.2h1v26.07h-1zM873 599.2h1v26.07h-1zM445 625.27h1v26.07h-1zM534 625.27h1v26.07h-1zM546 625.27h1v26.07h-1zM853 625.27h2v26.07h-2zM858 625.27h1v26.07h-1zM860 625.27h1v26.07h-1zM360 651.35h1v26.07h-1zM425 651.35h1v26.07h-1zM431 651.35h1v26.07h-1zM481 651.35h1v26.07h-1zM774 651.35h1v26.07h-1zM829 651.35h1v26.07h-1zM851 651.35h1v26.07h-1zM883 651.35h1v26.07h-1zM385 677.42h1v26.07h-1zM475 677.42h1v26.07h-1zM571 677.42h1v26.07h-1z"/><path fill="#77f" d="M338 182.0h1v26.07h-1zM404 182.0h1v26.07h-1zM411 182.0h1v26.07h-1zM435 182.0h1v26.07h-1zM542 182.0h1v26.07h-1zM676 182.0h1v26.07h-1zM712 182.0h1v26.07h-1zM724 182.0h1v26.07h-1zM737 182.0h1v26.07h-1zM778 182.0h1v26.07h-1zM796 182.0h1v26.07h-1zM821 182.0h1v26.07h-1zM846 182.0h1v26.07h-1zM861 182.0h1v26.07h-1zM873 182.0h1v26.07h-1zM927 182.0h1v26.07h-1zM350 208.07h1v26.07h-1zM380 208.07h1v26.07h-1zM383 208.07h1v26.07h-1zM385 208.07h1v26.07h-1zM403 208.07h1v26.07h-1zM409 208.07h1v26.07h-1zM422 208.07h1v26.07h-1zM424 208.07h1v26.07h-1zM464 208.07h1v26.07h-1zM475 208.07h1v26.07h-1zM483 208.07h1v26.07h-1zM495 208.07h1v26.07h-1zM514 208.07h1v26.07h-1zM571 208.07h1v26.07h-1zM693 208.07h1v26.07h-1zM695 208.07h1v26.07h-1zM719 208.07h1v26.07h-1zM775 208.07h1v26.07h-1zM832 208.07h1v26.07h-1zM311 234.15h1v26.07h-1zM344 234.15h1v26.07h-1zM360 234.15h1v26.07h-1zM365 234.15h1v26.07h-1zM459 234.15h1v26.07h-1zM519 234.15h1v26.07h-1zM792 234.15h1v26.07h-1zM837 234.15h1v26.07h-1zM849 234.15h1v26.07h-1zM379 260.23h1v26.07h-1zM426 260.23h1v26.07h-1zM449 260.23h1v26.07h-1zM611 260.23h1v26.07h-1zM676 260.23h1v26.07h-1zM680 260.23h1v26.07h-1zM717 260.23h1v26.07h-1zM747 260.23h1v26.07h-1zM757 260.23h1v26.07h-1zM782 260.23h1v26.07h-1zM826 260.23h1v26.07h-1zM828 260.23h1v26.07h-1zM848 260.23h1v26.07h-1zM872 260.23h1v26.07h-1zM300 286.3h1v26.07h-1zM303 286.3h1v26.07h-1zM316 286.3h1v26.07h-1zM326 286.3h1v26.07h-1zM335 286.3h1v26.07h-1zM340 286.3h1v26.07h-1zM362 286.3h1v26.07h-1zM411 286.3h1v26.07h-1zM460 286.3h1v26.07h-1zM526 286.3h1v26.07h-1zM554 286.3h1v26.07h-1zM678 286.3h1v26.07h-1zM702 286.3h1v26.07h-1zM727 286.3h1v26.07h-1zM749 286.3h1v26.07h-1zM781 286.3h1v26.07h-1zM801 286.3h1v26.07h-1zM804 286.3h1v26.07h-1zM845 286.3h1v26.07h-1zM906 286.3h1v26.07h-1zM925 286.3h1v26.07h-1zM302 312.38h1v26.07h-1zM322 312.38h2v26.07h-2zM351 312.38h1v26.07h-1zM380 312.38h1v26.07h-1zM404 312.38h1v26.07h-1zM415 312.38h1v26.07h-1zM440 312.38h1v26.07h-1zM451 312.38h1v26.07h-1zM471 312.38h1v26.07h-1zM540 312.38h1v26.07h-1zM694 312.38h1v26.07h-1zM744 312.38h1v26.07h-1zM762 312.38h1v26.07h-1zM903 312.38h1v26.07h-1zM908 312.38h1v26.07h-1zM336 338.45h1v26.07h-1zM347 338.45h1v26.07h-1zM383 338.45h1v26.07h-1zM388 338.45h1v26.07h-1zM411 338.45h1v26.07h-1zM531 338.45h1v26.07h-1zM823 338.45h1v26.07h-1zM829 338.45h2v26.07h-2zM842 338.45h1v26.07h-1zM294 364.52h1v26.07h-1zM339 364.52h1v26.07h-1zM341 364.52h1v26.07h-1zM345 364.52h1v26.07h-1zM362 364.52h1v26.07h-1zM368 364.52h1v26.07h-1zM372 364.52h1v26.07h-1zM377 364.52h1v26.07h-1zM379 364.52h1v26.07h-1zM409 364.52h1v26.07h-1zM486 364.52h1v26.07h-1zM496 364.52h1v26.07h-1zM716 364.52h1v26.07h-1zM743 364.52h1v26.07h-1zM751 364.52h1v26.07h-1zM808 364.52h1v26.07h-1zM840 364.52h1v26.07h-1zM856 364.52h1v26.07h-1zM864 364.52h1v26.07h-1zM333 390.6h1v26.07h-1zM341 390.6h1v26.07h-1zM491 390.6h1v26.07h-1zM521 390.6h1v26.07h-1zM524 390.6h1v26.07h-1zM526 390.6h1v26.07h-1zM576 390.6h1v26.07h-1zM710 390.6h1v26.07h-1zM735 390.6h1v26.07h-1zM776 390.6h1v26.07h-1zM779 390.6h1v26.07h-1zM785 390.6h1v26.07h-1zM801 390.6h1v26.07h-1zM847 390.6h1v26.07h-1zM935 390.6h1v26.07h-1zM953 390.6h1v26.07h-1zM322 416.67h1v26.07h-1zM341 416.67h1v26.07h-1zM382 416.67h1v26.07h-1zM414 416.67h1v26.07h-1zM432 416.67h1v26.07h-1zM500 416.67h1v26.07h-1zM502 416.67h1v26.07h-1zM513 416.67h1v26.07h-1zM532 416.67h1v26.07h-1zM566 416.67h1v26.07h-1zM730 416.67h1v26.07h-1zM774 416.67h1v26.07h-1zM778 416.67h1v26.07h-1zM826 416.67h1v26.07h-1zM829 416.67h1v26.07h-1zM845 416.67h1v26.07h-1zM847 416.67h1v26.07h-1zM920 416.67h1v26.07h-1zM955 416.67h1v26.07h-1zM288 442.75h1v26.07h-1zM330 442.75h1v26.07h-1zM346 442.75h1v26.07h-1zM349 442.75h1v26.07h-1zM360 442.75h3v26.07h-3zM369 442.75h1v26.07h-1zM390 442.75h1v26.07h-1zM441 442.75h1v26.07h-1zM452 442.75h1v26.07h-1zM467 442.75h1v26.07h-1zM473 442.75h1v26.07h-1zM477 442.75h1v26.07h-1zM495 442.75h1v26.07h-1zM712 442.75h1v26.07h-1zM737 442.75h1v26.07h-1zM741 442.75h1v26.07h-1zM746 442.75h1v26.07h-1zM837 442.75h1v26.07h-1zM858 442.75h1v26.07h-1zM884 442.75h1v26.07h-1zM366 468.82h2v26.07h-2zM377 468.82h1v26.07h-1zM397 468.82h1v26.07h-1zM402 468.82h1v26.07h-1zM434 468.82h1v26.07h-1zM449 468.82h1v26.07h-1zM456 468.82h1v26.07h-1zM487 468.82h1v26.07h-1zM489 468.82h1v26.07h-1zM536 468.82h1v26.07h-1zM744 468.82h1v26.07h-1zM763 468.82h1v26.07h-1zM868 468.82h1v26.07h-1zM934 468.82h1v26.07h-1zM339 494.9h1v26.07h-1zM368 494.9h1v26.07h-1zM405 494.9h1v26.07h-1zM424 494.9h1v26.07h-1zM440 494.9h1v26.07h-1zM442 494.9h1v26.07h-1zM455 494.9h1v26.07h-1zM526 494.9h1v26.07h-1zM529 494.9h1v26.07h-1zM709 494.9h1v26.07h-1zM752 494.9h1v26.07h-1zM840 494.9h2v26.07h-2zM869 494.9h1v26.07h-1zM328 520.97h1v26.07h-1zM330 520.97h1v26.07h-1zM344 520.97h1v26.07h-1zM381 520.97h1v26.07h-1zM389 520.97h1v26.07h-1zM403 520.97h2v26.07h-2zM426 520.97h1v26.07h-1zM447 520.97h1v26.07h-1zM496 520.97h1v26.07h-1zM504 520.97h1v26.07h-1zM698 520.97h1v26.07h-1zM741 520.97h1v26.07h-1zM759 520.97h1v26.07h-1zM817 520.97h1v26.07h-1zM841 520.97h1v26.07h-1zM329 547.05h1v26.07h-1zM364 547.05h1v26.07h-1zM471 547.05h1v26.07h-1zM525 547.05h1v26.07h-1zM624 547.05h1v26.07h-1zM693 547.05h1v26.07h-1zM709 547.05h1v26.07h-1zM760 547.05h1v26.07h-1zM774 547.05h1v26.07h-1zM848 547.05h1v26.07h-1zM309 573.12h1v26.07h-1zM313 573.12h1v26.07h-1zM382 573.12h1v26.07h-1zM385 573.12h1v26.07h-1zM438 573.12h1v26.07h-1zM511 573.12h1v26.07h-1zM531 573.12h1v26.07h-1zM713 573.12h2v26.07h-2zM726 573.12h1v26.07h-1zM749 573.12h1v26.07h-1zM803 573.12h1v26.07h-1zM819 573.12h1v26.07h-1zM823 573.12h1v26.07h-1zM841 573.12h1v26.07h-1zM856 573.12h1v26.07h-1zM861 573.12h1v26.07h-1zM876 573.12h1v26.07h-1zM881 573.12h1v26.07h-1zM314 599.2h1v26.07h-1zM372 599.2h1v26.07h-1zM460 599.2h1v26.07h-1zM469 599.2h1v26.07h-1zM600 599.2h1v26.07h-1zM712 599.2h1v26.07h-1zM714 599.2h1v26.07h-1zM718 599.2h1v26.07h-1zM747 599.2h1v26.07h-1zM758 599.2h1v26.07h-1zM783 599.2h1v26.07h-1zM785 599.2h1v26.07h-1zM799 599.2h1v26.07h-1zM825 599.2h1v26.07h-1zM843 599.2h2v26.07h-2zM872 599.2h1v26.07h-1zM295 625.27h1v26.07h-1zM298 625.27h1v26.07h-1zM332 625.27h1v26.07h-1zM387 625.27h1v26.07h-1zM391 625.27h1v26.07h-1zM449 625.27h1v26.07h-1zM533 625.27h1v26.07h-1zM677 625.27h1v26.07h-1zM687 625.27h1v26.07h-1zM758 625.27h1v26.07h-1zM763 625.27h1v26.07h-1zM768 625.27h1v26.07h-1zM777 625.27h1v26.07h-1zM784 625.27h1v26.07h-1zM792 625.27h1v26.07h-1zM804 625.27h2v26.07h-2zM827 625.27h1v26.07h-1zM852 625.27h1v26.07h-1zM349 651.35h1v26.07h-1zM352 651.35h1v26.07h-1zM404 651.35h2v26.07h-2zM408 651.35h1v26.07h-1zM411 651.35h1v26.07h-1zM463 651.35h1v26.07h-1zM506 651.35h1v26.07h-1zM679 651.35h1v26.07h-1zM712 651.35h1v26.07h-1zM766 651.35h1v26.07h-1zM775 651.35h1v26.07h-1zM798 651.35h1v26.07h-1zM287 677.42h1v26.07h-1zM325 677.42h1v26.07h-1zM362 677.42h1v26.07h-1zM364 677.42h1v26.07h-1zM420 677.42h1v26.07h-1zM431 677.42h1v26.07h-1zM481 677.42h1v26.07h-1zM736 677.42h1v26.07h-1zM758 677.42h1v26.07h-1zM787 677.42h1v26.07h-1zM792 677.42h1v26.07h-1zM823 677.42h1v26.07h-1zM832 677.42h1v26.07h-1zM835 677.42h1v26.07h-1zM943 677.42h1v26.07h-1z"/><path fill="#86d" d="M340 182.0h1v26.07h-1zM387 182.0h1v26.07h-1zM429 182.0h1v26.07h-1zM863 208.07h1v26.07h-1zM872 208.07h1v26.07h-1zM976 208.07h1v26.07h-1zM628 234.15h1v26.07h-1zM899 234.15h1v26.07h-1zM977 234.15h1v26.07h-1zM474 260.23h1v26.07h-1zM852 260.23h1v26.07h-1zM967 260.23h1v26.07h-1zM442 286.3h1v26.07h-1zM718 286.3h1v26.07h-1zM832 286.3h1v26.07h-1zM512 338.45h1v26.07h-1zM837 338.45h1v26.07h-1zM747 364.52h1v26.07h-1zM459 390.6h1v26.07h-1zM813 390.6h1v26.07h-1zM928 390.6h1v26.07h-1zM538 442.75h1v26.07h-1zM400 468.82h1v26.07h-1zM360 494.9h1v26.07h-1zM853 494.9h1v26.07h-1zM521 520.97h1v26.07h-1zM825 520.97h1v26.07h-1zM900 520.97h1v26.07h-1zM862 547.05h1v26.07h-1zM455 599.2h1v26.07h-1zM534 599.2h1v26.07h-1zM766 599.2h1v26.07h-1zM824 599.2h1v26.07h-1zM891 599.2h1v26.07h-1zM902 651.35h1v26.07h-1zM572 677.42h1v26.07h-1zM789 677.42h1v26.07h-1z"/><path fill="#a16" d="M357 182.0h1v26.07h-1zM921 182.0h1v26.07h-1zM993 182.0h1v26.07h-1zM769 208.07h1v26.07h-1zM721 260.23h1v26.07h-1zM888 260.23h1v26.07h-1zM496 286.3h1v26.07h-1zM675 286.3h1v26.07h-1zM780 312.38h1v26.07h-1zM828 312.38h1v26.07h-1zM762 338.45h1v26.07h-1zM973 338.45h1v26.07h-1zM321 364.52h1v26.07h-1zM633 390.6h1v26.07h-1zM527 416.67h1v26.07h-1zM538 416.67h1v26.07h-1zM564 416.67h1v26.07h-1zM924 416.67h1v26.07h-1zM475 442.75h1v26.07h-1zM446 494.9h1v26.07h-1zM911 494.9h1v26.07h-1zM955 494.9h1v26.07h-1zM982 494.9h1v26.07h-1zM315 520.97h1v26.07h-1zM418 547.05h1v26.07h-1zM961 573.12h1v26.07h-1zM988 599.2h1v26.07h-1zM407 625.27h1v26.07h-1zM436 625.27h1v26.07h-1zM741 651.35h1v26.07h-1zM337 677.42h1v26.07h-1zM406 677.42h1v26.07h-1z"/><path fill="#c7a" d="M360 182.0h1v26.07h-1zM512 182.0h1v26.07h-1zM763 182.0h1v26.07h-1zM458 208.07h1v26.07h-1zM906 208.07h1v26.07h-1zM912 208.07h1v26.07h-1zM983 208.07h1v26.07h-1zM545 234.15h1v26.07h-1zM710 234.15h1v26.07h-1zM614 260.23h1v26.07h-1zM902 260.23h1v26.07h-1zM931 260.23h1v26.07h-1zM992 260.23h1v26.07h-1zM386 286.3h1v26.07h-1zM630 286.3h1v26.07h-1zM1004 286.3h1v26.07h-1zM526 312.38h1v26.07h-1zM868 312.38h1v26.07h-1zM887 338.45h1v26.07h-1zM445 364.52h1v26.07h-1zM721 364.52h1v26.07h-1zM985 364.52h1v26.07h-1zM486 390.6h1v26.07h-1zM780 416.67h1v26.07h-1zM359 468.82h1v26.07h-1zM555 468.82h1v26.07h-1zM836 468.82h1v26.07h-1zM437 494.9h1v26.07h-1zM496 494.9h1v26.07h-1zM821 494.9h1v26.07h-1zM480 520.97h1v26.07h-1zM502 520.97h1v26.07h-1zM565 520.97h1v26.07h-1zM537 547.05h1v26.07h-1zM790 547.05h1v26.07h-1zM867 547.05h1v26.07h-1zM584 573.12h1v26.07h-1zM344 599.2h1v26.07h-1zM806 599.2h1v26.07h-1zM941 599.2h1v26.07h-1zM971 599.2h1v26.07h-1zM524 677.42h1v26.07h-1zM536 677.42h1v26.07h-1zM831 677.42h1v26.07h-1zM844 677.42h1v26.07h-1zM940 677.42h1v26.07h-1z"/><path fill="#99f" d="M367 182.0h1v26.07h-1zM375 182.0h2v26.07h-2zM419 182.0h1v26.07h-1zM502 182.0h1v26.07h-1zM509 182.0h1v26.07h-1zM713 182.0h1v26.07h-1zM756 182.0h1v26.07h-1zM859 182.0h1v26.07h-1zM925 182.0h1v26.07h-1zM303 208.07h1v26.07h-1zM362 208.07h1v26.07h-1zM370 208.07h1v26.07h-1zM404 208.07h2v26.07h-2zM423 208.07h1v26.07h-1zM431 208.07h1v26.07h-1zM434 208.07h1v26.07h-1zM472 208.07h1v26.07h-1zM484 208.07h1v26.07h-1zM493 208.07h1v26.07h-1zM506 208.07h1v26.07h-1zM593 208.07h1v26.07h-1zM732 208.07h1v26.07h-1zM777 208.07h1v26.07h-1zM860 208.07h1v26.07h-1zM875 208.07h1v26.07h-1zM892 208.07h2v26.07h-2zM325 234.15h1v26.07h-1zM345 234.15h1v26.07h-1zM396 234.15h1v26.07h-1zM403 234.15h1v26.07h-1zM509 234.15h1v26.07h-1zM692 234.15h1v26.07h-1zM694 234.15h1v26.07h-1zM771 234.15h1v26.07h-1zM798 234.15h1v26.07h-1zM810 234.15h1v26.07h-1zM850 234.15h1v26.07h-1zM888 234.15h1v26.07h-1zM308 260.23h1v26.07h-1zM374 260.23h1v26.07h-1zM411 260.23h1v26.07h-1zM465 260.23h1v26.07h-1zM468 260.23h1v26.07h-1zM538 260.23h1v26.07h-1zM546 260.23h1v26.07h-1zM557 260.23h1v26.07h-1zM765 260.23h1v26.07h-1zM836 260.23h1v26.07h-1zM878 260.23h1v26.07h-1zM897 260.23h1v26.07h-1zM959 260.23h1v26.07h-1zM962 260.23h1v26.07h-1zM433 286.3h1v26.07h-1zM518 286.3h1v26.07h-1zM567 286.3h1v26.07h-1zM683 286.3h1v26.07h-1zM696 286.3h1v26.07h-1zM783 286.3h1v26.07h-1zM789 286.3h1v26.07h-1zM798 286.3h1v26.07h-1zM820 286.3h1v26.07h-1zM852 286.3h1v26.07h-1zM959 286.3h1v26.07h-1zM345 312.38h1v26.07h-1zM375 312.38h1v26.07h-1zM452 312.38h1v26.07h-1zM460 312.38h1v26.07h-1zM503 312.38h1v26.07h-1zM508 312.38h1v26.07h-1zM745 312.38h1v26.07h-1zM844 312.38h1v26.07h-1zM297 338.45h1v26.07h-1zM299 338.45h1v26.07h-1zM305 338.45h1v26.07h-1zM439 338.45h1v26.07h-1zM442 338.45h1v26.07h-1zM445 338.45h1v26.07h-1zM469 338.45h1v26.07h-1zM480 338.45h1v26.07h-1zM535 338.45h2v26.07h-2zM714 338.45h1v26.07h-1zM744 338.45h1v26.07h-1zM298 364.52h1v26.07h-1zM328 364.52h1v26.07h-1zM407 364.52h1v26.07h-1zM430 364.52h1v26.07h-1zM685 364.52h1v26.07h-1zM753 364.52h1v26.07h-1zM788 364.52h1v26.07h-1zM819 364.52h1v26.07h-1zM827 364.52h1v26.07h-1zM850 364.52h1v26.07h-1zM866 364.52h1v26.07h-1zM364 390.6h1v26.07h-1zM397 390.6h1v26.07h-1zM450 390.6h1v26.07h-1zM466 390.6h1v26.07h-1zM504 390.6h1v26.07h-1zM562 390.6h1v26.07h-1zM689 390.6h1v26.07h-1zM724 390.6h1v26.07h-1zM731 390.6h1v26.07h-1zM744 390.6h1v26.07h-1zM758 390.6h1v26.07h-1zM790 390.6h1v26.07h-1zM794 390.6h1v26.07h-1zM827 390.6h1v26.07h-1zM850 390.6h2v26.07h-2zM913 390.6h1v26.07h-1zM392 416.67h1v26.07h-1zM488 416.67h1v26.07h-1zM497 416.67h1v26.07h-1zM708 416.67h1v26.07h-1zM713 416.67h1v26.07h-1zM734 416.67h1v26.07h-1zM738 416.67h1v26.07h-1zM750 416.67h1v26.07h-1zM752 416.67h1v26.07h-1zM846 416.67h1v26.07h-1zM298 442.75h1v26.07h-1zM313 442.75h1v26.07h-1zM317 442.75h1v26.07h-1zM365 442.75h1v26.07h-1zM367 442.75h1v26.07h-1zM373 442.75h1v26.07h-1zM400 442.75h2v26.07h-2zM417 442.75h1v26.07h-1zM447 442.75h1v26.07h-1zM453 442.75h1v26.07h-1zM465 442.75h2v26.07h-2zM497 442.75h1v26.07h-1zM725 442.75h1v26.07h-1zM792 442.75h1v26.07h-1zM341 468.82h1v26.07h-1zM380 468.82h1v26.07h-1zM498 468.82h1v26.07h-1zM741 468.82h1v26.07h-1zM850 468.82h1v26.07h-1zM859 468.82h1v26.07h-1zM357 494.9h1v26.07h-1zM382 494.9h1v26.07h-1zM398 494.9h1v26.07h-1zM402 494.9h1v26.07h-1zM435 494.9h1v26.07h-1zM445 494.9h1v26.07h-1zM448 494.9h1v26.07h-1zM472 494.9h1v26.07h-1zM531 494.9h1v26.07h-1zM753 494.9h1v26.07h-1zM838 494.9h1v26.07h-1zM867 494.9h2v26.07h-2zM334 520.97h1v26.07h-1zM379 520.97h1v26.07h-1zM457 520.97h1v26.07h-1zM699 520.97h1v26.07h-1zM752 520.97h1v26.07h-1zM757 520.97h1v26.07h-1zM762 520.97h1v26.07h-1zM783 520.97h1v26.07h-1zM789 520.97h1v26.07h-1zM793 520.97h1v26.07h-1zM845 520.97h1v26.07h-1zM848 520.97h1v26.07h-1zM295 547.05h1v26.07h-1zM300 547.05h1v26.07h-1zM387 547.05h1v26.07h-1zM676 547.05h1v26.07h-1zM715 547.05h1v26.07h-1zM719 547.05h1v26.07h-1zM749 547.05h1v26.07h-1zM777 547.05h1v26.07h-1zM787 547.05h1v26.07h-1zM849 547.05h1v26.07h-1zM857 547.05h1v26.07h-1zM861 547.05h1v26.07h-1zM951 547.05h1v26.07h-1zM368 573.12h1v26.07h-1zM445 573.12h1v26.07h-1zM473 573.12h1v26.07h-1zM495 573.12h1v26.07h-1zM564 573.12h1v26.07h-1zM688 573.12h1v26.07h-1zM755 573.12h1v26.07h-1zM769 573.12h1v26.07h-1zM808 573.12h1v26.07h-1zM845 573.12h1v26.07h-1zM857 573.12h1v26.07h-1zM867 573.12h1v26.07h-1zM879 573.12h1v26.07h-1zM972 573.12h1v26.07h-1zM295 599.2h1v26.07h-1zM311 599.2h1v26.07h-1zM321 599.2h1v26.07h-1zM363 599.2h1v26.07h-1zM375 599.2h1v26.07h-1zM406 599.2h1v26.07h-1zM424 599.2h1v26.07h-1zM535 599.2h1v26.07h-1zM708 599.2h1v26.07h-1zM715 599.2h1v26.07h-1zM719 599.2h1v26.07h-1zM757 599.2h1v26.07h-1zM787 599.2h1v26.07h-1zM830 599.2h1v26.07h-1zM863 599.2h1v26.07h-1zM870 599.2h1v26.07h-1zM892 599.2h1v26.07h-1zM926 599.2h1v26.07h-1zM288 625.27h1v26.07h-1zM307 625.27h1v26.07h-1zM341 625.27h1v26.07h-1zM443 625.27h1v26.07h-1zM452 625.27h2v26.07h-2zM486 625.27h1v26.07h-1zM626 625.27h1v26.07h-1zM772 625.27h1v26.07h-1zM801 625.27h1v26.07h-1zM469 651.35h1v26.07h-1zM716 651.35h1v26.07h-1zM744 651.35h1v26.07h-1zM787 651.35h1v26.07h-1zM816 651.35h1v26.07h-1zM844 651.35h1v26.07h-1zM857 651.35h1v26.07h-1zM326 677.42h1v26.07h-1zM351 677.42h1v26.07h-1zM367 677.42h1v26.07h-1zM387 677.42h1v26.07h-1zM407 677.42h1v26.07h-1zM430 677.42h1v26.07h-1zM471 677.42h1v26.07h-1zM486 677.42h1v26.07h-1zM533 677.42h1v26.07h-1zM549 677.42h1v26.07h-1zM750 677.42h1v26.07h-1zM846 677.42h1v26.07h-1zM848 677.42h1v26.07h-1z"/><path fill="#c8a" d="M368 182.0h1v26.07h-1zM432 208.07h1v26.07h-1zM930 312.38h1v26.07h-1zM406 390.6h1v26.07h-1zM880 390.6h1v26.07h-1zM563 442.75h1v26.07h-1zM840 468.82h1v26.07h-1zM441 494.9h1v26.07h-1zM871 547.05h1v26.07h-1zM510 599.2h1v26.07h-1zM466 651.35h1v26.07h-1z"/><path fill="#97d" d="M378 182.0h1v26.07h-1zM422 182.0h1v26.07h-1zM460 208.07h1v26.07h-1zM504 208.07h1v26.07h-1zM711 208.07h1v26.07h-1zM697 234.15h1v26.07h-1zM785 234.15h1v26.07h-1zM453 260.23h1v26.07h-1zM527 260.23h1v26.07h-1zM827 260.23h1v26.07h-1zM883 260.23h1v26.07h-1zM929 260.23h1v26.07h-1zM488 286.3h1v26.07h-1zM805 286.3h2v26.07h-2zM407 312.38h1v26.07h-1zM431 338.45h1v26.07h-1zM351 364.52h1v26.07h-1zM378 364.52h1v26.07h-1zM552 364.52h1v26.07h-1zM570 364.52h1v26.07h-1zM845 364.52h1v26.07h-1zM554 416.67h1v26.07h-1zM806 416.67h1v26.07h-1zM728 442.75h1v26.07h-1zM745 442.75h1v26.07h-1zM885 442.75h1v26.07h-1zM418 468.82h1v26.07h-1zM443 468.82h1v26.07h-1zM766 468.82h1v26.07h-1zM478 520.97h1v26.07h-1zM796 520.97h1v26.07h-1zM871 520.97h1v26.07h-1zM438 547.05h1v26.07h-1zM579 547.05h1v26.07h-1zM487 573.12h1v26.07h-1zM527 573.12h1v26.07h-1zM447 599.2h1v26.07h-1zM633 599.2h1v26.07h-1zM974 599.2h1v26.07h-1zM725 625.27h1v26.07h-1zM864 625.27h1v26.07h-1zM484 651.35h1v26.07h-1zM402 677.42h1v26.07h-1zM487 677.42h1v26.07h-1z"/><path fill="#d8a" d="M379 182.0h1v26.07h-1zM414 182.0h1v26.07h-1zM566 182.0h1v26.07h-1zM585 208.07h1v26.07h-1zM841 208.07h1v26.07h-1zM804 260.23h1v26.07h-1zM818 260.23h1v26.07h-1zM833 286.3h1v26.07h-1zM866 286.3h1v26.07h-1zM795 312.38h1v26.07h-1zM485 338.45h1v26.07h-1zM514 338.45h1v26.07h-1zM896 338.45h1v26.07h-1zM436 390.6h1v26.07h-1zM505 390.6h1v26.07h-1zM866 390.6h1v26.07h-1zM868 390.6h1v26.07h-1zM870 390.6h1v26.07h-1zM893 390.6h1v26.07h-1zM469 416.67h1v26.07h-1zM482 416.67h1v26.07h-1zM533 442.75h1v26.07h-1zM574 442.75h1v26.07h-1zM470 468.82h1v26.07h-1zM518 468.82h1v26.07h-1zM571 468.82h1v26.07h-1zM495 494.9h1v26.07h-1zM510 494.9h1v26.07h-1zM742 494.9h1v26.07h-1zM799 547.05h1v26.07h-1zM1019 547.05h1v26.07h-1zM458 573.12h1v26.07h-1zM513 573.12h1v26.07h-1zM535 573.12h1v26.07h-1zM589 573.12h1v26.07h-1zM520 599.2h1v26.07h-1zM643 625.27h1v26.07h-1zM879 625.27h1v26.07h-1zM545 651.35h1v26.07h-1zM969 677.42h1v26.07h-1z"/><path fill="#76e" d="M382 182.0h1v26.07h-1zM412 182.0h1v26.07h-1zM516 182.0h1v26.07h-1zM758 182.0h1v26.07h-1zM329 208.07h1v26.07h-1zM749 208.07h1v26.07h-1zM804 208.07h1v26.07h-1zM455 234.15h1v26.07h-1zM452 260.23h1v26.07h-1zM514 286.3h1v26.07h-1zM550 286.3h1v26.07h-1zM796 286.3h1v26.07h-1zM368 338.45h1v26.07h-1zM491 338.45h1v26.07h-1zM760 338.45h1v26.07h-1zM389 390.6h1v26.07h-1zM491 416.67h1v26.07h-1zM835 442.75h1v26.07h-1zM410 468.82h1v26.07h-1zM794 494.9h1v26.07h-1zM840 520.97h1v26.07h-1zM403 547.05h1v26.07h-1zM431 547.05h1v26.07h-1zM801 547.05h1v26.07h-1zM442 573.12h1v26.07h-1zM907 573.12h1v26.07h-1zM740 599.2h1v26.07h-1zM403 625.27h1v26.07h-1zM515 651.35h2v26.07h-2zM859 651.35h1v26.07h-1zM483 677.42h1v26.07h-1zM494 677.42h1v26.07h-1z"/><path fill="#43f" d="M383 182.0h1v26.07h-1zM328 208.07h1v26.07h-1zM788 208.07h1v26.07h-1zM372 260.23h1v26.07h-1zM328 286.3h1v26.07h-1zM443 312.38h1v26.07h-1zM750 599.2h1v26.07h-1zM755 625.27h1v26.07h-1z"/><path fill="#53d" d="M386 182.0h1v26.07h-1zM459 182.0h1v26.07h-1zM773 182.0h1v26.07h-1zM862 208.07h1v26.07h-1zM326 234.15h1v26.07h-1zM423 234.15h1v26.07h-1zM436 234.15h1v26.07h-1zM764 234.15h1v26.07h-1zM800 234.15h1v26.07h-1zM857 234.15h1v26.07h-1zM456 260.23h1v26.07h-1zM395 286.3h1v26.07h-1zM479 286.3h1v26.07h-1zM528 286.3h1v26.07h-1zM555 286.3h1v26.07h-1zM739 286.3h1v26.07h-1zM974 286.3h1v26.07h-1zM815 312.38h1v26.07h-1zM448 338.45h1v26.07h-1zM472 338.45h1v26.07h-1zM475 338.45h1v26.07h-1zM486 338.45h1v26.07h-1zM771 338.45h1v26.07h-1zM828 338.45h1v26.07h-1zM505 364.52h1v26.07h-1zM516 364.52h1v26.07h-1zM521 364.52h1v26.07h-1zM545 364.52h1v26.07h-1zM771 364.52h1v26.07h-1zM430 390.6h1v26.07h-1zM468 390.6h1v26.07h-1zM385 416.67h1v26.07h-1zM574 416.67h1v26.07h-1zM695 416.67h1v26.07h-1zM603 442.75h1v26.07h-1zM743 442.75h1v26.07h-1zM800 442.75h1v26.07h-1zM570 468.82h1v26.07h-1zM695 494.9h1v26.07h-1zM468 520.97h1v26.07h-1zM869 520.97h1v26.07h-1zM390 547.05h1v26.07h-1zM576 547.05h1v26.07h-1zM842 547.05h1v26.07h-1zM945 547.05h1v26.07h-1zM809 573.12h1v26.07h-1zM294 599.2h1v26.07h-1zM456 599.2h1v26.07h-1zM486 599.2h1v26.07h-1zM952 599.2h1v26.07h-1zM960 599.2h1v26.07h-1zM802 625.27h1v26.07h-1zM415 677.42h1v26.07h-1zM875 677.42h1v26.07h-1z"/><path fill="#ccf" d="M388 182.0h1v26.07h-1zM440 182.0h2v26.07h-2zM478 182.0h1v26.07h-1zM483 182.0h1v26.07h-1zM489 182.0h1v26.07h-1zM498 182.0h1v26.07h-1zM503 182.0h1v26.07h-1zM514 182.0h1v26.07h-1zM604 182.0h1v26.07h-1zM702 182.0h1v26.07h-1zM704 182.0h1v26.07h-1zM777 182.0h1v26.07h-1zM799 182.0h1v26.07h-1zM901 182.0h1v26.07h-1zM356 208.07h1v26.07h-1zM416 208.07h1v26.07h-1zM433 208.07h1v26.07h-1zM731 208.07h1v26.07h-1zM869 208.07h1v26.07h-1zM902 208.07h1v26.07h-1zM913 208.07h1v26.07h-1zM392 234.15h1v26.07h-1zM468 234.15h1v26.07h-1zM536 234.15h1v26.07h-1zM676 234.15h1v26.07h-1zM740 234.15h1v26.07h-1zM743 234.15h1v26.07h-1zM812 234.15h1v26.07h-1zM827 234.15h1v26.07h-1zM891 234.15h1v26.07h-1zM441 260.23h1v26.07h-1zM517 260.23h1v26.07h-1zM519 260.23h1v26.07h-1zM633 260.23h1v26.07h-1zM737 260.23h1v26.07h-1zM794 260.23h1v26.07h-1zM840 260.23h1v26.07h-1zM843 260.23h1v26.07h-1zM895 260.23h1v26.07h-1zM952 260.23h1v26.07h-1zM353 286.3h1v26.07h-1zM366 286.3h1v26.07h-1zM503 286.3h1v26.07h-1zM527 286.3h1v26.07h-1zM761 286.3h1v26.07h-1zM802 286.3h1v26.07h-1zM960 286.3h1v26.07h-1zM309 312.38h1v26.07h-1zM400 312.38h1v26.07h-1zM712 312.38h1v26.07h-1zM728 312.38h1v26.07h-1zM747 312.38h1v26.07h-1zM755 312.38h1v26.07h-1zM763 312.38h1v26.07h-1zM338 338.45h1v26.07h-1zM413 338.45h1v26.07h-1zM468 338.45h1v26.07h-1zM509 338.45h2v26.07h-2zM595 338.45h1v26.07h-1zM799 338.45h1v26.07h-1zM870 338.45h1v26.07h-1zM447 364.52h1v26.07h-1zM480 364.52h1v26.07h-1zM493 364.52h1v26.07h-1zM503 364.52h1v26.07h-1zM522 364.52h1v26.07h-1zM674 364.52h1v26.07h-1zM783 364.52h1v26.07h-1zM855 364.52h1v26.07h-1zM314 390.6h1v26.07h-1zM376 390.6h1v26.07h-1zM385 390.6h1v26.07h-1zM467 390.6h1v26.07h-1zM472 390.6h1v26.07h-1zM479 390.6h1v26.07h-1zM554 390.6h1v26.07h-1zM575 390.6h1v26.07h-1zM762 390.6h1v26.07h-1zM780 390.6h1v26.07h-1zM789 390.6h1v26.07h-1zM859 390.6h1v26.07h-1zM892 390.6h1v26.07h-1zM314 416.67h1v26.07h-1zM368 416.67h1v26.07h-1zM376 416.67h1v26.07h-1zM394 416.67h1v26.07h-1zM460 416.67h1v26.07h-1zM548 416.67h1v26.07h-1zM724 416.67h1v26.07h-1zM849 416.67h1v26.07h-1zM947 416.67h1v26.07h-1zM408 442.75h1v26.07h-1zM494 442.75h1v26.07h-1zM509 442.75h1v26.07h-1zM520 442.75h1v26.07h-1zM558 442.75h1v26.07h-1zM567 442.75h1v26.07h-1zM840 442.75h2v26.07h-2zM883 442.75h1v26.07h-1zM888 442.75h1v26.07h-1zM895 442.75h1v26.07h-1zM898 442.75h1v26.07h-1zM419 468.82h1v26.07h-1zM424 468.82h1v26.07h-1zM500 468.82h1v26.07h-1zM507 468.82h1v26.07h-1zM534 468.82h1v26.07h-1zM808 468.82h1v26.07h-1zM822 468.82h1v26.07h-1zM825 468.82h1v26.07h-1zM874 468.82h1v26.07h-1zM314 494.9h1v26.07h-1zM338 494.9h1v26.07h-1zM370 494.9h2v26.07h-2zM404 494.9h1v26.07h-1zM481 494.9h1v26.07h-1zM765 494.9h1v26.07h-1zM784 494.9h1v26.07h-1zM847 494.9h1v26.07h-1zM402 520.97h1v26.07h-1zM777 520.97h1v26.07h-1zM829 520.97h1v26.07h-1zM833 520.97h1v26.07h-1zM866 520.97h1v26.07h-1zM896 520.97h1v26.07h-1zM417 547.05h1v26.07h-1zM528 547.05h1v26.07h-1zM590 547.05h1v26.07h-1zM625 547.05h1v26.07h-1zM643 547.05h1v26.07h-1zM761 547.05h1v26.07h-1zM771 547.05h1v26.07h-1zM882 547.05h1v26.07h-1zM411 573.12h1v26.07h-1zM432 573.12h1v26.07h-1zM471 573.12h1v26.07h-1zM490 573.12h1v26.07h-1zM499 573.12h1v26.07h-1zM502 573.12h1v26.07h-1zM556 573.12h1v26.07h-1zM880 573.12h1v26.07h-1zM361 599.2h1v26.07h-1zM370 599.2h2v26.07h-2zM457 599.2h1v26.07h-1zM511 599.2h1v26.07h-1zM778 599.2h1v26.07h-1zM845 599.2h1v26.07h-1zM856 599.2h1v26.07h-1zM889 599.2h1v26.07h-1zM913 599.2h1v26.07h-1zM363 625.27h1v26.07h-1zM409 625.27h1v26.07h-1zM469 625.27h1v26.07h-1zM476 625.27h1v26.07h-1zM747 625.27h1v26.07h-1zM341 651.35h1v26.07h-1zM509 651.35h1v26.07h-1zM538 651.35h1v26.07h-1zM819 651.35h1v26.07h-1zM828 651.35h1v26.07h-1zM904 651.35h1v26.07h-1zM423 677.42h1v26.07h-1zM436 677.42h1v26.07h-1zM454 677.42h1v26.07h-1zM461 677.42h1v26.07h-1zM557 677.42h1v26.07h-1zM784 677.42h1v26.07h-1zM820 677.42h1v26.07h-1zM828 677.42h2v26.07h-2zM970 677.42h1v26.07h-1z"/><path fill="#73b" d="M393 182.0h1v26.07h-1zM576 182.0h1v26.07h-1zM291 234.15h1v26.07h-1zM320 286.3h1v26.07h-1zM560 286.3h1v26.07h-1zM686 312.38h1v26.07h-1zM720 338.45h1v26.07h-1zM718 390.6h1v26.07h-1zM569 416.67h1v26.07h-1zM598 442.75h1v26.07h-1zM491 468.82h1v26.07h-1zM464 494.9h1v26.07h-1zM796 494.9h1v26.07h-1zM481 520.97h1v26.07h-1zM351 547.05h1v26.07h-1zM340 573.12h1v26.07h-1zM621 573.12h1v26.07h-1zM985 573.12h1v26.07h-1zM420 599.2h1v26.07h-1zM569 625.27h1v26.07h-1zM599 625.27h1v26.07h-1zM803 625.27h1v26.07h-1zM563 677.42h1v26.07h-1zM1012 677.42h1v26.07h-1z"/><path fill="#52c" d="M394 182.0h1v26.07h-1zM406 182.0h1v26.07h-1zM753 182.0h1v26.07h-1zM954 182.0h1v26.07h-1zM866 208.07h1v26.07h-1zM755 234.15h1v26.07h-1zM552 260.23h1v26.07h-1zM556 260.23h1v26.07h-1zM579 260.23h1v26.07h-1zM585 260.23h1v26.07h-1zM835 260.23h1v26.07h-1zM918 260.23h1v26.07h-1zM325 286.3h1v26.07h-1zM475 286.3h1v26.07h-1zM477 338.45h1v26.07h-1zM519 338.45h1v26.07h-1zM543 338.45h1v26.07h-1zM415 364.52h1v26.07h-1zM446 390.6h1v26.07h-1zM737 390.6h1v26.07h-1zM918 390.6h1v26.07h-1zM496 416.67h1v26.07h-1zM958 416.67h1v26.07h-1zM355 442.75h1v26.07h-1zM375 442.75h1v26.07h-1zM742 468.82h1v26.07h-1zM880 468.82h1v26.07h-1zM392 494.9h1v26.07h-1zM672 494.9h1v26.07h-1zM724 494.9h1v26.07h-1zM773 520.97h1v26.07h-1zM853 520.97h1v26.07h-1zM446 547.05h1v26.07h-1zM683 547.05h1v26.07h-1zM714 547.05h1v26.07h-1zM742 547.05h2v26.07h-2zM766 547.05h1v26.07h-1zM933 547.05h1v26.07h-1zM345 573.12h1v26.07h-1zM581 573.12h1v26.07h-1zM416 599.2h1v26.07h-1zM434 625.27h1v26.07h-1zM575 625.27h1v26.07h-1zM510 677.42h1v26.07h-1zM514 677.42h1v26.07h-1z"/><path fill="#a38" d="M395 182.0h1v26.07h-1zM747 208.07h1v26.07h-1zM471 234.15h1v26.07h-1zM761 234.15h1v26.07h-1zM799 234.15h1v26.07h-1zM364 312.38h1v26.07h-1zM741 364.52h1v26.07h-1zM765 416.67h1v26.07h-1zM411 442.75h1v26.07h-1zM693 442.75h1v26.07h-1zM624 468.82h1v26.07h-1zM854 468.82h1v26.07h-1zM350 520.97h1v26.07h-1zM536 547.05h1v26.07h-1zM686 547.05h1v26.07h-1zM486 573.12h1v26.07h-1zM525 573.12h1v26.07h-1zM542 573.12h1v26.07h-1zM546 573.12h1v26.07h-1zM366 599.2h1v26.07h-1zM762 651.35h1v26.07h-1zM775 677.42h1v26.07h-1zM805 677.42h1v26.07h-1z"/><path fill="#b9d" d="M397 182.0h1v26.07h-1zM449 182.0h1v26.07h-1zM547 182.0h1v26.07h-1zM789 182.0h1v26.07h-1zM877 182.0h1v26.07h-1zM833 208.07h1v26.07h-1zM343 234.15h1v26.07h-1zM892 234.15h1v26.07h-1zM414 260.23h1v26.07h-1zM421 260.23h1v26.07h-1zM451 260.23h1v26.07h-1zM534 260.23h1v26.07h-1zM890 260.23h1v26.07h-1zM323 286.3h1v26.07h-1zM346 286.3h1v26.07h-1zM916 286.3h1v26.07h-1zM939 286.3h1v26.07h-1zM957 286.3h1v26.07h-1zM377 312.38h1v26.07h-1zM752 312.38h1v26.07h-1zM764 312.38h1v26.07h-1zM532 338.45h1v26.07h-1zM448 364.52h1v26.07h-1zM468 364.52h1v26.07h-1zM565 364.52h1v26.07h-1zM508 390.6h1v26.07h-1zM514 390.6h1v26.07h-1zM583 416.67h1v26.07h-1zM881 416.67h1v26.07h-1zM787 442.75h1v26.07h-1zM578 573.12h1v26.07h-1zM824 573.12h1v26.07h-1zM904 625.27h1v26.07h-1zM491 677.42h1v26.07h-1zM825 677.42h1v26.07h-1z"/><path fill="#63c" d="M398 182.0h1v26.07h-1zM458 182.0h1v26.07h-1zM807 182.0h1v26.07h-1zM850 182.0h1v26.07h-1zM324 208.07h1v26.07h-1zM473 208.07h1v26.07h-1zM865 208.07h1v26.07h-1zM327 234.15h1v26.07h-1zM702 234.15h1v26.07h-1zM424 260.23h1v26.07h-1zM476 286.3h1v26.07h-1zM584 286.3h1v26.07h-1zM672 286.3h1v26.07h-1zM830 286.3h1v26.07h-1zM392 312.38h1v26.07h-1zM840 338.45h1v26.07h-1zM445 390.6h1v26.07h-1zM760 416.67h1v26.07h-1zM393 442.75h1v26.07h-1zM845 442.75h1v26.07h-1zM731 468.82h1v26.07h-1zM743 468.82h1v26.07h-1zM465 494.9h1v26.07h-1zM498 494.9h1v26.07h-1zM696 494.9h1v26.07h-1zM293 599.2h1v26.07h-1zM378 599.2h1v26.07h-1zM415 599.2h1v26.07h-1zM438 599.2h1v26.07h-1zM769 599.2h1v26.07h-1zM831 599.2h1v26.07h-1zM905 625.27h1v26.07h-1zM474 651.35h1v26.07h-1zM504 677.42h1v26.07h-1zM508 677.42h1v26.07h-1z"/><path fill="#f77" d="M407 182.0h1v26.07h-1zM521 182.0h1v26.07h-1zM558 182.0h1v26.07h-1zM589 182.0h1v26.07h-1zM609 182.0h1v26.07h-1zM612 182.0h1v26.07h-1zM630 182.0h2v26.07h-2zM878 182.0h1v26.07h-1zM896 182.0h1v26.07h-1zM939 182.0h1v26.07h-1zM979 182.0h1v26.07h-1zM401 208.07h1v26.07h-1zM498 208.07h1v26.07h-1zM546 208.07h1v26.07h-1zM586 208.07h1v26.07h-1zM608 208.07h1v26.07h-1zM646 208.07h1v26.07h-1zM787 208.07h1v26.07h-1zM928 208.07h1v26.07h-1zM939 208.07h1v26.07h-1zM953 208.07h1v26.07h-1zM967 208.07h1v26.07h-1zM969 208.07h1v26.07h-1zM439 234.15h1v26.07h-1zM444 234.15h1v26.07h-1zM447 234.15h1v26.07h-1zM513 234.15h1v26.07h-1zM563 234.15h1v26.07h-1zM588 234.15h1v26.07h-1zM600 234.15h1v26.07h-1zM607 234.15h1v26.07h-1zM626 234.15h1v26.07h-1zM831 234.15h1v26.07h-1zM864 234.15h1v26.07h-1zM880 234.15h1v26.07h-1zM897 234.15h1v26.07h-1zM927 234.15h1v26.07h-1zM959 234.15h1v26.07h-1zM971 234.15h1v26.07h-1zM437 260.23h1v26.07h-1zM591 260.23h1v26.07h-1zM626 260.23h1v26.07h-1zM810 260.23h1v26.07h-1zM834 260.23h1v26.07h-1zM862 260.23h1v26.07h-1zM900 260.23h1v26.07h-1zM919 260.23h1v26.07h-1zM942 260.23h1v26.07h-1zM391 286.3h1v26.07h-1zM480 286.3h1v26.07h-1zM537 286.3h1v26.07h-1zM564 286.3h1v26.07h-1zM572 286.3h1v26.07h-1zM589 286.3h1v26.07h-1zM596 286.3h1v26.07h-1zM605 286.3h1v26.07h-1zM615 286.3h1v26.07h-1zM649 286.3h2v26.07h-2zM653 286.3h1v26.07h-1zM656 286.3h1v26.07h-1zM765 286.3h1v26.07h-1zM807 286.3h1v26.07h-1zM930 286.3h1v26.07h-1zM937 286.3h1v26.07h-1zM956 286.3h1v26.07h-1zM994 286.3h1v26.07h-1zM426 312.38h1v26.07h-1zM567 312.38h1v26.07h-1zM569 312.38h1v26.07h-1zM648 312.38h1v26.07h-1zM769 312.38h1v26.07h-1zM832 312.38h1v26.07h-1zM957 312.38h1v26.07h-1zM1003 312.38h1v26.07h-1zM520 338.45h1v26.07h-1zM524 338.45h1v26.07h-1zM540 338.45h1v26.07h-1zM542 338.45h1v26.07h-1zM602 338.45h1v26.07h-1zM916 338.45h1v26.07h-1zM531 364.52h1v26.07h-1zM576 364.52h1v26.07h-1zM880 364.52h2v26.07h-2zM893 364.52h1v26.07h-1zM922 364.52h1v26.07h-1zM931 364.52h1v26.07h-1zM981 364.52h1v26.07h-1zM417 390.6h1v26.07h-1zM431 390.6h1v26.07h-1zM480 390.6h1v26.07h-1zM513 390.6h1v26.07h-1zM555 390.6h1v26.07h-1zM560 390.6h1v26.07h-1zM582 390.6h1v26.07h-1zM605 390.6h1v26.07h-1zM618 390.6h1v26.07h-1zM628 390.6h1v26.07h-1zM659 390.6h1v26.07h-1zM747 390.6h1v26.07h-1zM906 390.6h1v26.07h-1zM921 390.6h1v26.07h-1zM924 390.6h1v26.07h-1zM927 390.6h1v26.07h-1zM956 390.6h2v26.07h-2zM1000 390.6h1v26.07h-1zM1013 390.6h1v26.07h-1zM545 416.67h1v26.07h-1zM572 416.67h1v26.07h-1zM629 416.67h1v26.07h-1zM656 416.67h1v26.07h-1zM934 416.67h1v26.07h-1zM987 416.67h1v26.07h-1zM471 442.75h1v26.07h-1zM583 442.75h1v26.07h-1zM872 442.75h1v26.07h-1zM879 442.75h1v26.07h-1zM889 442.75h1v26.07h-1zM908 442.75h1v26.07h-1zM914 442.75h1v26.07h-1zM955 442.75h1v26.07h-1zM996 442.75h1v26.07h-1zM1010 442.75h1v26.07h-1zM522 468.82h1v26.07h-1zM537 468.82h1v26.07h-1zM546 468.82h1v26.07h-1zM563 468.82h1v26.07h-1zM577 468.82h1v26.07h-1zM580 468.82h1v26.07h-1zM636 468.82h1v26.07h-1zM787 468.82h1v26.07h-1zM832 468.82h1v26.07h-1zM844 468.82h1v26.07h-1zM852 468.82h1v26.07h-1zM862 468.82h1v26.07h-1zM923 468.82h1v26.07h-1zM939 468.82h1v26.07h-1zM962 468.82h1v26.07h-1zM391 494.9h1v26.07h-1zM511 494.9h1v26.07h-1zM544 494.9h1v26.07h-1zM580 494.9h1v26.07h-1zM605 494.9h2v26.07h-2zM627 494.9h1v26.07h-1zM892 494.9h1v26.07h-1zM922 494.9h1v26.07h-1zM930 494.9h1v26.07h-1zM956 494.9h1v26.07h-1zM362 520.97h1v26.07h-1zM449 520.97h1v26.07h-1zM494 520.97h1v26.07h-1zM522 520.97h1v26.07h-1zM544 520.97h1v26.07h-1zM550 520.97h1v26.07h-1zM573 520.97h2v26.07h-2zM819 520.97h1v26.07h-1zM908 520.97h1v26.07h-1zM914 520.97h1v26.07h-1zM919 520.97h1v26.07h-1zM933 520.97h1v26.07h-1zM964 520.97h1v26.07h-1zM582 547.05h1v26.07h-1zM605 547.05h1v26.07h-1zM642 547.05h1v26.07h-1zM664 547.05h1v26.07h-1zM700 547.05h1v26.07h-1zM914 547.05h1v26.07h-1zM948 547.05h1v26.07h-1zM1015 547.05h1v26.07h-1zM538 573.12h1v26.07h-1zM582 573.12h1v26.07h-1zM908 573.12h1v26.07h-1zM929 573.12h1v26.07h-1zM346 599.2h1v26.07h-1zM381 599.2h1v26.07h-1zM603 599.2h1v26.07h-1zM621 599.2h1v26.07h-1zM752 599.2h1v26.07h-1zM818 599.2h1v26.07h-1zM895 599.2h1v26.07h-1zM940 599.2h1v26.07h-1zM959 599.2h1v26.07h-1zM393 625.27h1v26.07h-1zM556 625.27h2v26.07h-2zM612 625.27h2v26.07h-2zM634 625.27h1v26.07h-1zM878 625.27h1v26.07h-1zM966 625.27h1v26.07h-1zM409 651.35h1v26.07h-1zM490 651.35h1v26.07h-1zM539 651.35h1v26.07h-1zM586 651.35h1v26.07h-1zM588 651.35h1v26.07h-1zM608 651.35h1v26.07h-1zM611 651.35h1v26.07h-1zM626 651.35h1v26.07h-1zM841 651.35h1v26.07h-1zM895 651.35h1v26.07h-1zM928 651.35h1v26.07h-1zM493 677.42h1v26.07h-1zM511 677.42h1v26.07h-1zM531 677.42h1v26.07h-1zM538 677.42h1v26.07h-1zM551 677.42h1v26.07h-1zM648 677.42h1v26.07h-1zM838 677.42h1v26.07h-1zM869 677.42h1v26.07h-1zM882 677.42h1v26.07h-1zM890 677.42h1v26.07h-1zM902 677.42h1v26.07h-1zM979 677.42h1v26.07h-1z"/><path fill="#33e" d="M408 182.0h1v26.07h-1zM878 286.3h1v26.07h-1zM748 364.52h1v26.07h-1zM354 416.67h1v26.07h-1zM931 442.75h1v26.07h-1zM454 468.82h1v26.07h-1zM574 573.12h1v26.07h-1zM728 651.35h1v26.07h-1z"/><path fill="#88f" d="M409 182.0h1v26.07h-1zM450 182.0h1v26.07h-1zM454 182.0h1v26.07h-1zM511 182.0h1v26.07h-1zM546 182.0h1v26.07h-1zM677 182.0h1v26.07h-1zM691 182.0h1v26.07h-1zM695 182.0h1v26.07h-1zM755 182.0h1v26.07h-1zM823 182.0h1v26.07h-1zM860 182.0h1v26.07h-1zM900 182.0h1v26.07h-1zM296 208.07h1v26.07h-1zM349 208.07h1v26.07h-1zM365 208.07h1v26.07h-1zM375 208.07h1v26.07h-1zM447 208.07h1v26.07h-1zM476 208.07h1v26.07h-1zM524 208.07h1v26.07h-1zM527 208.07h1v26.07h-1zM681 208.07h1v26.07h-1zM737 208.07h1v26.07h-1zM743 208.07h1v26.07h-1zM761 208.07h1v26.07h-1zM776 208.07h1v26.07h-1zM803 208.07h1v26.07h-1zM810 208.07h1v26.07h-1zM843 208.07h1v26.07h-1zM905 208.07h1v26.07h-1zM286 234.15h1v26.07h-1zM376 234.15h1v26.07h-1zM420 234.15h1v26.07h-1zM555 234.15h1v26.07h-1zM730 234.15h1v26.07h-1zM782 234.15h1v26.07h-1zM786 234.15h1v26.07h-1zM881 234.15h1v26.07h-1zM388 260.23h1v26.07h-1zM402 260.23h1v26.07h-1zM410 260.23h1v26.07h-1zM478 260.23h1v26.07h-1zM481 260.23h1v26.07h-1zM503 260.23h1v26.07h-1zM528 260.23h1v26.07h-1zM554 260.23h1v26.07h-1zM773 260.23h1v26.07h-1zM775 260.23h1v26.07h-1zM787 260.23h1v26.07h-1zM881 260.23h1v26.07h-1zM446 286.3h1v26.07h-1zM535 286.3h1v26.07h-1zM767 286.3h1v26.07h-1zM770 286.3h1v26.07h-1zM788 286.3h1v26.07h-1zM792 286.3h1v26.07h-1zM795 286.3h1v26.07h-1zM856 286.3h1v26.07h-1zM919 286.3h1v26.07h-1zM948 286.3h1v26.07h-1zM296 312.38h1v26.07h-1zM327 312.38h1v26.07h-1zM358 312.38h1v26.07h-1zM376 312.38h1v26.07h-1zM395 312.38h1v26.07h-1zM398 312.38h2v26.07h-2zM429 312.38h1v26.07h-1zM695 312.38h1v26.07h-1zM698 312.38h1v26.07h-1zM788 312.38h1v26.07h-1zM821 312.38h1v26.07h-1zM823 312.38h1v26.07h-1zM916 312.38h2v26.07h-2zM359 338.45h1v26.07h-1zM372 338.45h1v26.07h-1zM381 338.45h1v26.07h-1zM441 338.45h1v26.07h-1zM458 338.45h1v26.07h-1zM467 338.45h1v26.07h-1zM692 338.45h1v26.07h-1zM729 338.45h1v26.07h-1zM767 338.45h1v26.07h-1zM802 338.45h1v26.07h-1zM804 338.45h1v26.07h-1zM310 364.52h1v26.07h-1zM318 364.52h1v26.07h-1zM324 364.52h1v26.07h-1zM336 364.52h1v26.07h-1zM338 364.52h1v26.07h-1zM402 364.52h1v26.07h-1zM443 364.52h1v26.07h-1zM446 364.52h1v26.07h-1zM562 364.52h1v26.07h-1zM767 364.52h1v26.07h-1zM841 364.52h1v26.07h-1zM313 390.6h1v26.07h-1zM316 390.6h1v26.07h-1zM332 390.6h1v26.07h-1zM337 390.6h1v26.07h-1zM340 390.6h1v26.07h-1zM351 390.6h1v26.07h-1zM407 390.6h2v26.07h-2zM438 390.6h1v26.07h-1zM449 390.6h1v26.07h-1zM497 390.6h1v26.07h-1zM503 390.6h1v26.07h-1zM537 390.6h1v26.07h-1zM674 390.6h1v26.07h-1zM676 390.6h1v26.07h-1zM695 390.6h1v26.07h-1zM697 390.6h1v26.07h-1zM707 390.6h1v26.07h-1zM732 390.6h2v26.07h-2zM750 390.6h1v26.07h-1zM787 390.6h1v26.07h-1zM800 390.6h1v26.07h-1zM804 390.6h1v26.07h-1zM826 390.6h1v26.07h-1zM831 390.6h2v26.07h-2zM845 390.6h1v26.07h-1zM909 390.6h1v26.07h-1zM325 416.67h1v26.07h-1zM347 416.67h1v26.07h-1zM381 416.67h1v26.07h-1zM400 416.67h1v26.07h-1zM433 416.67h1v26.07h-1zM477 416.67h1v26.07h-1zM506 416.67h1v26.07h-1zM520 416.67h1v26.07h-1zM718 416.67h1v26.07h-1zM766 416.67h1v26.07h-1zM768 416.67h1v26.07h-1zM804 416.67h1v26.07h-1zM822 416.67h1v26.07h-1zM836 416.67h1v26.07h-1zM856 416.67h1v26.07h-1zM890 416.67h1v26.07h-1zM943 416.67h1v26.07h-1zM380 442.75h1v26.07h-1zM424 442.75h1v26.07h-1zM455 442.75h1v26.07h-1zM717 442.75h1v26.07h-1zM747 442.75h1v26.07h-1zM774 442.75h1v26.07h-1zM779 442.75h1v26.07h-1zM900 442.75h1v26.07h-1zM905 442.75h1v26.07h-1zM360 468.82h1v26.07h-1zM389 468.82h1v26.07h-1zM403 468.82h1v26.07h-1zM460 468.82h1v26.07h-1zM674 468.82h1v26.07h-1zM704 468.82h1v26.07h-1zM733 468.82h1v26.07h-1zM748 468.82h1v26.07h-1zM752 468.82h1v26.07h-1zM754 468.82h1v26.07h-1zM764 468.82h1v26.07h-1zM785 468.82h1v26.07h-1zM793 468.82h1v26.07h-1zM815 468.82h1v26.07h-1zM839 468.82h1v26.07h-1zM329 494.9h1v26.07h-1zM337 494.9h1v26.07h-1zM422 494.9h1v26.07h-1zM462 494.9h1v26.07h-1zM523 494.9h1v26.07h-1zM530 494.9h1v26.07h-1zM546 494.9h1v26.07h-1zM706 494.9h2v26.07h-2zM749 494.9h1v26.07h-1zM769 494.9h1v26.07h-1zM825 494.9h1v26.07h-1zM827 494.9h1v26.07h-1zM837 494.9h1v26.07h-1zM948 494.9h1v26.07h-1zM324 520.97h1v26.07h-1zM427 520.97h1v26.07h-1zM445 520.97h1v26.07h-1zM460 520.97h2v26.07h-2zM474 520.97h1v26.07h-1zM487 520.97h1v26.07h-1zM489 520.97h1v26.07h-1zM492 520.97h1v26.07h-1zM500 520.97h1v26.07h-1zM740 520.97h1v26.07h-1zM758 520.97h1v26.07h-1zM855 520.97h1v26.07h-1zM311 547.05h1v26.07h-1zM335 547.05h1v26.07h-1zM340 547.05h2v26.07h-2zM356 547.05h1v26.07h-1zM388 547.05h1v26.07h-1zM391 547.05h1v26.07h-1zM396 547.05h1v26.07h-1zM476 547.05h2v26.07h-2zM480 547.05h1v26.07h-1zM681 547.05h1v26.07h-1zM696 547.05h1v26.07h-1zM336 573.12h1v26.07h-1zM341 573.12h1v26.07h-1zM367 573.12h1v26.07h-1zM380 573.12h1v26.07h-1zM386 573.12h1v26.07h-1zM391 573.12h1v26.07h-1zM406 573.12h1v26.07h-1zM439 573.12h1v26.07h-1zM566 573.12h1v26.07h-1zM735 573.12h1v26.07h-1zM762 573.12h1v26.07h-1zM774 573.12h2v26.07h-2zM807 573.12h1v26.07h-1zM872 573.12h1v26.07h-1zM926 573.12h1v26.07h-1zM338 599.2h1v26.07h-1zM364 599.2h1v26.07h-1zM385 599.2h1v26.07h-1zM449 599.2h1v26.07h-1zM478 599.2h1v26.07h-1zM698 599.2h1v26.07h-1zM732 599.2h1v26.07h-1zM756 599.2h1v26.07h-1zM786 599.2h1v26.07h-1zM878 599.2h1v26.07h-1zM936 599.2h1v26.07h-1zM321 625.27h1v26.07h-1zM349 625.27h1v26.07h-1zM358 625.27h1v26.07h-1zM414 625.27h1v26.07h-1zM425 625.27h1v26.07h-1zM431 625.27h2v26.07h-2zM451 625.27h1v26.07h-1zM482 625.27h1v26.07h-1zM489 625.27h1v26.07h-1zM502 625.27h1v26.07h-1zM518 625.27h1v26.07h-1zM686 625.27h1v26.07h-1zM753 625.27h1v26.07h-1zM764 625.27h1v26.07h-1zM778 625.27h1v26.07h-1zM861 625.27h1v26.07h-1zM294 651.35h1v26.07h-1zM309 651.35h1v26.07h-1zM324 651.35h1v26.07h-1zM362 651.35h1v26.07h-1zM412 651.35h1v26.07h-1zM427 651.35h1v26.07h-1zM430 651.35h1v26.07h-1zM447 651.35h1v26.07h-1zM776 651.35h2v26.07h-2zM794 651.35h1v26.07h-1zM796 651.35h1v26.07h-1zM804 651.35h1v26.07h-1zM814 651.35h1v26.07h-1zM835 651.35h1v26.07h-1zM843 651.35h1v26.07h-1zM296 677.42h1v26.07h-1zM309 677.42h1v26.07h-1zM357 677.42h1v26.07h-1zM366 677.42h1v26.07h-1zM472 677.42h1v26.07h-1zM476 677.42h1v26.07h-1zM711 677.42h1v26.07h-1zM795 677.42h1v26.07h-1zM812 677.42h1v26.07h-1zM826 677.42h1v26.07h-1zM854 677.42h1v26.07h-1zM878 677.42h1v26.07h-1zM915 677.42h1v26.07h-1z"/><path fill="#c69" d="M413 182.0h1v26.07h-1zM560 208.07h1v26.07h-1zM604 208.07h1v26.07h-1zM378 234.15h1v26.07h-1zM947 260.23h1v26.07h-1zM511 286.3h1v26.07h-1zM581 286.3h1v26.07h-1zM792 312.38h1v26.07h-1zM912 312.38h1v26.07h-1zM928 312.38h1v26.07h-1zM512 364.52h1v26.07h-1zM477 390.6h1v26.07h-1zM791 390.6h1v26.07h-1zM484 416.67h1v26.07h-1zM584 416.67h1v26.07h-1zM813 416.67h1v26.07h-1zM834 494.9h1v26.07h-1zM754 520.97h1v26.07h-1zM782 520.97h1v26.07h-1zM872 520.97h1v26.07h-1zM917 520.97h1v26.07h-1zM573 547.05h1v26.07h-1zM632 547.05h1v26.07h-1zM798 547.05h1v26.07h-1zM461 573.12h1v26.07h-1zM481 573.12h1v26.07h-1zM517 573.12h1v26.07h-1zM594 573.12h1v26.07h-1zM353 599.2h1v26.07h-1zM874 599.2h1v26.07h-1zM870 625.27h1v26.07h-1zM536 651.35h1v26.07h-1zM873 651.35h1v26.07h-1zM950 651.35h1v26.07h-1z"/><path fill="#eef" d="M415 182.0h1v26.07h-1zM490 182.0h1v26.07h-1zM607 182.0h1v26.07h-1zM734 182.0h1v26.07h-1zM797 182.0h1v26.07h-1zM881 182.0h1v26.07h-1zM453 234.15h1v26.07h-1zM529 234.15h1v26.07h-1zM553 234.15h1v26.07h-1zM795 234.15h1v26.07h-1zM876 234.15h2v26.07h-2zM798 260.23h1v26.07h-1zM917 260.23h1v26.07h-1zM360 286.3h1v26.07h-1zM505 286.3h2v26.07h-2zM984 286.3h1v26.07h-1zM739 312.38h1v26.07h-1zM746 312.38h1v26.07h-1zM857 312.38h1v26.07h-1zM861 312.38h1v26.07h-1zM342 338.45h1v26.07h-1zM496 338.45h1v26.07h-1zM500 338.45h1v26.07h-1zM855 338.45h1v26.07h-1zM769 364.52h1v26.07h-1zM354 390.6h1v26.07h-1zM368 390.6h1v26.07h-1zM589 390.6h1v26.07h-1zM786 390.6h1v26.07h-1zM914 390.6h1v26.07h-1zM933 390.6h1v26.07h-1zM745 416.67h1v26.07h-1zM933 416.67h1v26.07h-1zM422 442.75h1v26.07h-1zM472 442.75h1v26.07h-1zM850 442.75h1v26.07h-1zM471 468.82h1v26.07h-1zM883 468.82h1v26.07h-1zM564 494.9h1v26.07h-1zM791 494.9h1v26.07h-1zM908 494.9h1v26.07h-1zM465 520.97h1v26.07h-1zM490 520.97h1v26.07h-1zM330 547.05h1v26.07h-1zM358 547.05h1v26.07h-1zM497 547.05h1v26.07h-1zM716 547.05h1v26.07h-1zM506 573.12h1v26.07h-1zM894 573.12h1v26.07h-1zM429 599.2h1v26.07h-1zM686 599.2h1v26.07h-1zM754 599.2h1v26.07h-1zM797 599.2h1v26.07h-1zM857 599.2h1v26.07h-1zM930 599.2h1v26.07h-1zM442 625.27h1v26.07h-1zM444 625.27h1v26.07h-1zM501 625.27h1v26.07h-1zM807 625.27h1v26.07h-1zM816 625.27h1v26.07h-1zM423 651.35h2v26.07h-2zM792 651.35h1v26.07h-1zM515 677.42h1v26.07h-1zM526 677.42h1v26.07h-1z"/><path fill="#a8d" d="M418 182.0h1v26.07h-1zM839 182.0h1v26.07h-1zM402 208.07h1v26.07h-1zM450 208.07h1v26.07h-1zM507 208.07h1v26.07h-1zM525 208.07h1v26.07h-1zM375 234.15h1v26.07h-1zM499 260.23h1v26.07h-1zM526 260.23h1v26.07h-1zM577 260.23h1v26.07h-1zM589 260.23h1v26.07h-1zM477 286.3h1v26.07h-1zM997 286.3h1v26.07h-1zM701 312.38h1v26.07h-1zM355 338.45h1v26.07h-1zM466 338.45h1v26.07h-1zM525 338.45h1v26.07h-1zM792 338.45h1v26.07h-1zM353 364.52h1v26.07h-1zM906 364.52h1v26.07h-1zM358 390.6h1v26.07h-1zM485 390.6h1v26.07h-1zM782 390.6h1v26.07h-1zM818 390.6h1v26.07h-1zM980 390.6h1v26.07h-1zM434 416.67h1v26.07h-1zM481 416.67h1v26.07h-1zM853 416.67h1v26.07h-1zM864 416.67h1v26.07h-1zM906 416.67h1v26.07h-1zM929 416.67h1v26.07h-1zM419 442.75h1v26.07h-1zM829 442.75h1v26.07h-1zM533 468.82h1v26.07h-1zM821 468.82h1v26.07h-1zM485 494.9h1v26.07h-1zM361 520.97h1v26.07h-1zM383 520.97h1v26.07h-1zM436 547.05h1v26.07h-1zM491 547.05h1v26.07h-1zM378 573.12h1v26.07h-1zM393 573.12h1v26.07h-1zM425 573.12h1v26.07h-1zM509 573.12h1v26.07h-1zM297 599.2h1v26.07h-1zM365 599.2h1v26.07h-1zM692 599.2h1v26.07h-1zM770 599.2h1v26.07h-1zM780 599.2h2v26.07h-2zM371 625.27h1v26.07h-1zM770 625.27h1v26.07h-1zM826 625.27h1v26.07h-1zM552 651.35h1v26.07h-1zM694 651.35h1v26.07h-1zM855 651.35h1v26.07h-1zM370 677.42h1v26.07h-1zM899 677.42h1v26.07h-1z"/><path fill="#fee" d="M420 182.0h1v26.07h-1zM425 182.0h1v26.07h-1zM614 182.0h1v26.07h-1zM621 182.0h1v26.07h-1zM969 182.0h2v26.07h-2zM411 208.07h1v26.07h-1zM622 208.07h1v26.07h-1zM523 234.15h1v26.07h-1zM540 234.15h2v26.07h-2zM696 234.15h1v26.07h-1zM454 260.23h1v26.07h-1zM561 260.23h1v26.07h-1zM741 260.23h1v26.07h-1zM811 260.23h1v26.07h-1zM822 260.23h1v26.07h-1zM935 260.23h1v26.07h-1zM971 260.23h1v26.07h-1zM402 286.3h1v26.07h-1zM436 286.3h1v26.07h-1zM443 286.3h1v26.07h-1zM513 286.3h1v26.07h-1zM516 286.3h1v26.07h-1zM504 312.38h1v26.07h-1zM529 312.38h1v26.07h-1zM819 312.38h1v26.07h-1zM586 338.45h1v26.07h-1zM603 338.45h1v26.07h-1zM751 338.45h1v26.07h-1zM787 338.45h1v26.07h-1zM845 338.45h1v26.07h-1zM542 364.52h1v26.07h-1zM844 364.52h1v26.07h-1zM867 364.52h1v26.07h-1zM869 364.52h1v26.07h-1zM547 390.6h1v26.07h-1zM608 390.6h1v26.07h-1zM349 416.67h1v26.07h-1zM459 416.67h1v26.07h-1zM470 416.67h1v26.07h-1zM588 416.67h1v26.07h-1zM782 416.67h1v26.07h-1zM370 442.75h1v26.07h-1zM566 442.75h1v26.07h-1zM506 468.82h1v26.07h-1zM914 468.82h1v26.07h-1zM479 494.9h1v26.07h-1zM607 494.9h1v26.07h-1zM535 520.97h1v26.07h-1zM762 547.05h1v26.07h-1zM877 547.05h1v26.07h-1zM978 547.05h1v26.07h-1zM468 625.27h1v26.07h-1zM477 625.27h1v26.07h-1zM809 625.27h1v26.07h-1zM844 625.27h1v26.07h-1zM529 651.35h1v26.07h-1zM550 651.35h1v26.07h-1zM810 651.35h1v26.07h-1zM550 677.42h1v26.07h-1zM870 677.42h1v26.07h-1zM993 677.42h1v26.07h-1z"/><path fill="#fcc" d="M421 182.0h1v26.07h-1zM533 182.0h1v26.07h-1zM571 182.0h1v26.07h-1zM584 182.0h1v26.07h-1zM622 182.0h1v26.07h-1zM971 182.0h1v26.07h-1zM355 208.07h1v26.07h-1zM490 208.07h1v26.07h-1zM515 208.07h1v26.07h-1zM825 208.07h1v26.07h-1zM858 208.07h1v26.07h-1zM887 208.07h1v26.07h-1zM946 208.07h1v26.07h-1zM475 234.15h1v26.07h-1zM542 234.15h1v26.07h-1zM582 234.15h1v26.07h-1zM809 260.23h1v26.07h-1zM861 260.23h1v26.07h-1zM893 260.23h1v26.07h-1zM907 260.23h1v26.07h-1zM911 260.23h1v26.07h-1zM920 260.23h1v26.07h-1zM968 260.23h1v26.07h-1zM471 286.3h1v26.07h-1zM519 286.3h1v26.07h-1zM569 286.3h1v26.07h-1zM620 286.3h1v26.07h-1zM635 286.3h1v26.07h-1zM896 286.3h1v26.07h-1zM900 286.3h1v26.07h-1zM998 286.3h1v26.07h-1zM506 312.38h1v26.07h-1zM520 312.38h1v26.07h-1zM620 312.38h1v26.07h-1zM771 312.38h1v26.07h-1zM793 312.38h1v26.07h-1zM386 338.45h1v26.07h-1zM547 338.45h1v26.07h-1zM550 338.45h1v26.07h-1zM836 338.45h1v26.07h-1zM880 338.45h1v26.07h-1zM488 364.52h1v26.07h-1zM514 364.52h1v26.07h-1zM546 364.52h1v26.07h-1zM561 364.52h1v26.07h-1zM564 364.52h1v26.07h-1zM847 364.52h1v26.07h-1zM895 364.52h1v26.07h-1zM902 390.6h1v26.07h-1zM917 390.6h1v26.07h-1zM931 390.6h1v26.07h-1zM975 390.6h1v26.07h-1zM479 416.67h1v26.07h-1zM571 416.67h1v26.07h-1zM573 416.67h1v26.07h-1zM896 416.67h1v26.07h-1zM901 416.67h1v26.07h-1zM971 416.67h1v26.07h-1zM534 442.75h1v26.07h-1zM818 442.75h1v26.07h-1zM830 442.75h2v26.07h-2zM404 468.82h1v26.07h-1zM896 468.82h1v26.07h-1zM416 494.9h1v26.07h-1zM434 494.9h1v26.07h-1zM557 494.9h2v26.07h-2zM617 494.9h1v26.07h-1zM921 494.9h1v26.07h-1zM927 494.9h1v26.07h-1zM501 520.97h1v26.07h-1zM514 520.97h1v26.07h-1zM807 520.97h1v26.07h-1zM827 520.97h1v26.07h-1zM413 547.05h1v26.07h-1zM457 547.05h1v26.07h-1zM552 547.05h2v26.07h-2zM646 547.05h1v26.07h-1zM722 547.05h1v26.07h-1zM797 547.05h1v26.07h-1zM828 547.05h1v26.07h-1zM859 547.05h1v26.07h-1zM1018 547.05h1v26.07h-1zM421 573.12h1v26.07h-1zM515 573.12h1v26.07h-1zM848 573.12h1v26.07h-1zM941 573.12h1v26.07h-1zM622 599.2h1v26.07h-1zM836 599.2h1v26.07h-1zM849 599.2h1v26.07h-1zM906 599.2h1v26.07h-1zM924 599.2h1v26.07h-1zM510 625.27h1v26.07h-1zM537 625.27h1v26.07h-1zM888 625.27h1v26.07h-1zM902 625.27h1v26.07h-1zM437 651.35h1v26.07h-1zM563 651.35h1v26.07h-1zM727 651.35h1v26.07h-1zM781 651.35h1v26.07h-1zM861 651.35h1v26.07h-1zM900 651.35h1v26.07h-1zM905 651.35h1v26.07h-1zM944 651.35h1v26.07h-1zM948 651.35h1v26.07h-1zM384 677.42h1v26.07h-1zM530 677.42h1v26.07h-1zM877 677.42h1v26.07h-1z"/><path fill="#b37" d="M423 182.0h1v26.07h-1zM802 208.07h1v26.07h-1zM737 234.15h1v26.07h-1zM534 286.3h1v26.07h-1zM640 286.3h1v26.07h-1zM839 286.3h1v26.07h-1zM467 312.38h1v26.07h-1zM527 312.38h1v26.07h-1zM800 338.45h1v26.07h-1zM602 364.52h1v26.07h-1zM381 390.6h1v26.07h-1zM335 416.67h1v26.07h-1zM802 416.67h1v26.07h-1zM819 416.67h1v26.07h-1zM528 442.75h1v26.07h-1zM833 442.75h1v26.07h-1zM852 442.75h1v26.07h-1zM910 520.97h1v26.07h-1zM460 547.05h1v26.07h-1zM520 547.05h1v26.07h-1zM529 547.05h1v26.07h-1zM337 573.12h1v26.07h-1zM852 573.12h1v26.07h-1zM910 573.12h1v26.07h-1zM458 599.2h1v26.07h-1zM540 599.2h1v26.07h-1zM822 599.2h1v26.07h-1zM420 625.27h1v26.07h-1zM924 625.27h1v26.07h-1z"/><path fill="#64e" d="M424 182.0h1v26.07h-1zM572 208.07h1v26.07h-1zM477 234.15h1v26.07h-1zM501 260.23h1v26.07h-1zM696 260.23h1v26.07h-1zM544 286.3h1v26.07h-1zM524 364.52h1v26.07h-1zM789 416.67h1v26.07h-1zM450 468.82h1v26.07h-1zM527 520.97h1v26.07h-1zM722 520.97h1v26.07h-1zM559 651.35h1v26.07h-1z"/><path fill="#f88" d="M426 182.0h1v26.07h-1zM538 182.0h1v26.07h-1zM577 182.0h1v26.07h-1zM593 182.0h1v26.07h-1zM632 182.0h1v26.07h-1zM934 182.0h2v26.07h-2zM945 182.0h1v26.07h-1zM955 182.0h1v26.07h-1zM985 182.0h1v26.07h-1zM539 208.07h1v26.07h-1zM562 208.07h1v26.07h-1zM584 208.07h1v26.07h-1zM835 208.07h1v26.07h-1zM839 208.07h1v26.07h-1zM909 208.07h2v26.07h-2zM975 208.07h1v26.07h-1zM984 208.07h1v26.07h-1zM1023 208.07h1v26.07h-1zM409 234.15h1v26.07h-1zM460 234.15h1v26.07h-1zM570 234.15h1v26.07h-1zM576 234.15h1v26.07h-1zM601 234.15h2v26.07h-2zM613 234.15h1v26.07h-1zM625 234.15h1v26.07h-1zM807 234.15h1v26.07h-1zM830 234.15h1v26.07h-1zM875 234.15h1v26.07h-1zM893 234.15h1v26.07h-1zM921 234.15h1v26.07h-1zM932 234.15h1v26.07h-1zM955 234.15h1v26.07h-1zM958 234.15h1v26.07h-1zM1011 234.15h1v26.07h-1zM407 260.23h1v26.07h-1zM485 260.23h1v26.07h-1zM487 260.23h1v26.07h-1zM514 260.23h1v26.07h-1zM548 260.23h1v26.07h-1zM560 260.23h1v26.07h-1zM609 260.23h1v26.07h-1zM899 260.23h1v26.07h-1zM921 260.23h1v26.07h-1zM928 260.23h1v26.07h-1zM937 260.23h1v26.07h-1zM946 260.23h1v26.07h-1zM1015 260.23h1v26.07h-1zM318 286.3h1v26.07h-1zM359 286.3h1v26.07h-1zM372 286.3h1v26.07h-1zM400 286.3h1v26.07h-1zM430 286.3h1v26.07h-1zM606 286.3h1v26.07h-1zM651 286.3h1v26.07h-1zM721 286.3h1v26.07h-1zM725 286.3h1v26.07h-1zM797 286.3h1v26.07h-1zM899 286.3h1v26.07h-1zM921 286.3h1v26.07h-1zM950 286.3h1v26.07h-1zM977 286.3h1v26.07h-1zM373 312.38h1v26.07h-1zM427 312.38h1v26.07h-1zM535 312.38h1v26.07h-1zM581 312.38h1v26.07h-1zM687 312.38h1v26.07h-1zM779 312.38h1v26.07h-1zM794 312.38h1v26.07h-1zM841 312.38h1v26.07h-1zM865 312.38h1v26.07h-1zM906 312.38h1v26.07h-1zM964 312.38h1v26.07h-1zM994 312.38h1v26.07h-1zM998 312.38h1v26.07h-1zM446 338.45h1v26.07h-1zM566 338.45h1v26.07h-1zM750 338.45h1v26.07h-1zM790 338.45h1v26.07h-1zM890 338.45h1v26.07h-1zM892 338.45h1v26.07h-1zM968 338.45h1v26.07h-1zM432 364.52h1v26.07h-1zM513 364.52h1v26.07h-1zM801 364.52h1v26.07h-1zM921 364.52h1v26.07h-1zM993 364.52h1v26.07h-1zM433 390.6h1v26.07h-1zM457 390.6h1v26.07h-1zM573 390.6h1v26.07h-1zM593 390.6h1v26.07h-1zM803 390.6h1v26.07h-1zM809 390.6h1v26.07h-1zM854 390.6h1v26.07h-1zM901 390.6h1v26.07h-1zM919 390.6h1v26.07h-1zM985 390.6h1v26.07h-1zM516 416.67h1v26.07h-1zM563 416.67h1v26.07h-1zM580 416.67h1v26.07h-1zM596 416.67h1v26.07h-1zM614 416.67h1v26.07h-1zM762 416.67h1v26.07h-1zM872 416.67h1v26.07h-1zM960 416.67h2v26.07h-2zM964 416.67h2v26.07h-2zM436 442.75h1v26.07h-1zM507 442.75h1v26.07h-1zM515 442.75h1v26.07h-1zM610 442.75h1v26.07h-1zM893 442.75h1v26.07h-1zM896 442.75h1v26.07h-1zM935 442.75h1v26.07h-1zM952 442.75h1v26.07h-1zM971 442.75h1v26.07h-1zM523 468.82h1v26.07h-1zM532 468.82h1v26.07h-1zM543 468.82h1v26.07h-1zM557 468.82h1v26.07h-1zM569 468.82h1v26.07h-1zM575 468.82h1v26.07h-1zM586 468.82h1v26.07h-1zM592 468.82h1v26.07h-1zM626 468.82h1v26.07h-1zM864 468.82h1v26.07h-1zM985 468.82h1v26.07h-1zM521 494.9h1v26.07h-1zM584 494.9h1v26.07h-1zM603 494.9h1v26.07h-1zM890 494.9h1v26.07h-1zM933 494.9h1v26.07h-1zM343 520.97h1v26.07h-1zM424 520.97h1v26.07h-1zM475 520.97h1v26.07h-1zM524 520.97h1v26.07h-1zM593 520.97h1v26.07h-1zM901 520.97h1v26.07h-1zM966 520.97h1v26.07h-1zM369 547.05h1v26.07h-1zM462 547.05h1v26.07h-1zM495 547.05h1v26.07h-1zM627 547.05h1v26.07h-1zM662 547.05h1v26.07h-1zM705 547.05h1v26.07h-1zM783 547.05h1v26.07h-1zM800 547.05h1v26.07h-1zM812 547.05h1v26.07h-1zM870 547.05h1v26.07h-1zM918 547.05h1v26.07h-1zM946 547.05h1v26.07h-1zM959 547.05h1v26.07h-1zM398 573.12h1v26.07h-1zM470 573.12h1v26.07h-1zM514 573.12h1v26.07h-1zM583 573.12h1v26.07h-1zM636 573.12h1v26.07h-1zM799 573.12h1v26.07h-1zM507 599.2h1v26.07h-1zM553 599.2h1v26.07h-1zM588 599.2h1v26.07h-1zM593 599.2h1v26.07h-1zM604 599.2h1v26.07h-1zM631 599.2h1v26.07h-1zM771 599.2h1v26.07h-1zM882 599.2h2v26.07h-2zM932 599.2h1v26.07h-1zM979 599.2h1v26.07h-1zM1004 599.2h1v26.07h-1zM509 625.27h1v26.07h-1zM545 625.27h1v26.07h-1zM551 625.27h1v26.07h-1zM609 625.27h1v26.07h-1zM838 625.27h2v26.07h-2zM876 625.27h1v26.07h-1zM453 651.35h1v26.07h-1zM567 651.35h1v26.07h-1zM580 651.35h1v26.07h-1zM593 651.35h1v26.07h-1zM636 651.35h1v26.07h-1zM780 651.35h1v26.07h-1zM820 651.35h1v26.07h-1zM863 651.35h1v26.07h-1zM931 651.35h1v26.07h-1zM941 651.35h1v26.07h-1zM529 677.42h1v26.07h-1zM586 677.42h1v26.07h-1zM599 677.42h1v26.07h-1zM638 677.42h1v26.07h-1zM892 677.42h1v26.07h-1zM942 677.42h1v26.07h-1zM945 677.42h1v26.07h-1zM957 677.42h1v26.07h-1zM961 677.42h1v26.07h-1z"/><path fill="#f22" d="M427 182.0h1v26.07h-1zM535 182.0h1v26.07h-1zM544 182.0h1v26.07h-1zM564 182.0h1v26.07h-1zM570 182.0h1v26.07h-1zM587 182.0h1v26.07h-1zM616 182.0h1v26.07h-1zM657 182.0h1v26.07h-1zM890 182.0h1v26.07h-1zM930 182.0h1v26.07h-1zM962 182.0h1v26.07h-1zM974 182.0h1v26.07h-1zM986 182.0h2v26.07h-2zM413 208.07h1v26.07h-1zM534 208.07h1v26.07h-1zM541 208.07h1v26.07h-1zM549 208.07h1v26.07h-1zM574 208.07h1v26.07h-1zM625 208.07h1v26.07h-1zM814 208.07h1v26.07h-1zM826 208.07h1v26.07h-1zM890 208.07h1v26.07h-1zM911 208.07h1v26.07h-1zM974 208.07h1v26.07h-1zM985 208.07h1v26.07h-1zM998 208.07h1v26.07h-1zM608 234.15h1v26.07h-1zM612 234.15h1v26.07h-1zM631 234.15h1v26.07h-1zM637 234.15h1v26.07h-1zM648 234.15h1v26.07h-1zM650 234.15h1v26.07h-1zM934 234.15h1v26.07h-1zM945 234.15h1v26.07h-1zM963 234.15h1v26.07h-1zM975 234.15h2v26.07h-2zM983 234.15h1v26.07h-1zM997 234.15h1v26.07h-1zM391 260.23h1v26.07h-1zM531 260.23h1v26.07h-1zM647 260.23h2v26.07h-2zM660 260.23h1v26.07h-1zM951 260.23h1v26.07h-1zM954 260.23h2v26.07h-2zM1003 260.23h1v26.07h-1zM1023 260.23h1v26.07h-1zM417 286.3h1v26.07h-1zM464 286.3h1v26.07h-1zM500 286.3h1v26.07h-1zM525 286.3h1v26.07h-1zM575 286.3h1v26.07h-1zM612 286.3h2v26.07h-2zM617 286.3h3v26.07h-3zM621 286.3h1v26.07h-1zM623 286.3h1v26.07h-1zM626 286.3h1v26.07h-1zM641 286.3h1v26.07h-1zM827 286.3h2v26.07h-2zM858 286.3h1v26.07h-1zM882 286.3h1v26.07h-1zM934 286.3h1v26.07h-1zM944 286.3h1v26.07h-1zM966 286.3h1v26.07h-1zM972 286.3h1v26.07h-1zM981 286.3h1v26.07h-1zM985 286.3h1v26.07h-1zM1015 286.3h1v26.07h-1zM421 312.38h1v26.07h-1zM511 312.38h1v26.07h-1zM603 312.38h1v26.07h-1zM610 312.38h2v26.07h-2zM614 312.38h1v26.07h-1zM637 312.38h1v26.07h-1zM816 312.38h1v26.07h-1zM863 312.38h1v26.07h-1zM972 312.38h1v26.07h-1zM985 312.38h1v26.07h-1zM988 312.38h1v26.07h-1zM993 312.38h1v26.07h-1zM522 338.45h1v26.07h-1zM552 338.45h1v26.07h-1zM574 338.45h1v26.07h-1zM594 338.45h1v26.07h-1zM615 338.45h2v26.07h-2zM638 338.45h1v26.07h-1zM656 338.45h3v26.07h-3zM663 338.45h1v26.07h-1zM839 338.45h1v26.07h-1zM898 338.45h1v26.07h-1zM904 338.45h1v26.07h-1zM923 338.45h2v26.07h-2zM929 338.45h1v26.07h-1zM951 338.45h1v26.07h-1zM967 338.45h1v26.07h-1zM983 338.45h1v26.07h-1zM989 338.45h1v26.07h-1zM532 364.52h1v26.07h-1zM556 364.52h1v26.07h-1zM575 364.52h1v26.07h-1zM590 364.52h1v26.07h-1zM608 364.52h1v26.07h-1zM623 364.52h1v26.07h-1zM781 364.52h1v26.07h-1zM805 364.52h1v26.07h-1zM810 364.52h1v26.07h-1zM815 364.52h1v26.07h-1zM829 364.52h1v26.07h-1zM853 364.52h1v26.07h-1zM885 364.52h1v26.07h-1zM894 364.52h1v26.07h-1zM918 364.52h1v26.07h-1zM920 364.52h1v26.07h-1zM937 364.52h1v26.07h-1zM951 364.52h1v26.07h-1zM956 364.52h1v26.07h-1zM961 364.52h1v26.07h-1zM444 390.6h1v26.07h-1zM564 390.6h1v26.07h-1zM611 390.6h2v26.07h-2zM650 390.6h1v26.07h-1zM871 390.6h1v26.07h-1zM887 390.6h1v26.07h-1zM899 390.6h1v26.07h-1zM907 390.6h1v26.07h-1zM967 390.6h1v26.07h-1zM1004 390.6h1v26.07h-1zM1014 390.6h1v26.07h-1zM1018 390.6h1v26.07h-1zM457 416.67h1v26.07h-1zM551 416.67h1v26.07h-1zM555 416.67h1v26.07h-1zM576 416.67h1v26.07h-1zM593 416.67h1v26.07h-1zM603 416.67h1v26.07h-1zM610 416.67h2v26.07h-2zM623 416.67h1v26.07h-1zM650 416.67h1v26.07h-1zM840 416.67h1v26.07h-1zM874 416.67h1v26.07h-1zM952 416.67h1v26.07h-1zM1002 416.67h1v26.07h-1zM1004 416.67h1v26.07h-1zM1006 416.67h1v26.07h-1zM1011 416.67h1v26.07h-1zM1014 416.67h1v26.07h-1zM1016 416.67h1v26.07h-1zM576 442.75h1v26.07h-1zM608 442.75h1v26.07h-1zM615 442.75h1v26.07h-1zM619 442.75h1v26.07h-1zM646 442.75h1v26.07h-1zM662 442.75h1v26.07h-1zM876 442.75h1v26.07h-1zM918 442.75h1v26.07h-1zM948 442.75h1v26.07h-1zM950 442.75h1v26.07h-1zM965 442.75h1v26.07h-1zM967 442.75h1v26.07h-1zM988 442.75h1v26.07h-1zM480 468.82h1v26.07h-1zM578 468.82h1v26.07h-1zM581 468.82h1v26.07h-1zM588 468.82h1v26.07h-1zM605 468.82h1v26.07h-1zM607 468.82h1v26.07h-1zM790 468.82h1v26.07h-1zM817 468.82h1v26.07h-1zM900 468.82h1v26.07h-1zM905 468.82h2v26.07h-2zM909 468.82h2v26.07h-2zM931 468.82h1v26.07h-1zM937 468.82h2v26.07h-2zM943 468.82h1v26.07h-1zM509 494.9h1v26.07h-1zM571 494.9h1v26.07h-1zM575 494.9h1v26.07h-1zM581 494.9h1v26.07h-1zM600 494.9h2v26.07h-2zM618 494.9h1v26.07h-1zM621 494.9h1v26.07h-1zM631 494.9h1v26.07h-1zM640 494.9h1v26.07h-1zM643 494.9h1v26.07h-1zM917 494.9h1v26.07h-1zM919 494.9h2v26.07h-2zM943 494.9h1v26.07h-1zM958 494.9h1v26.07h-1zM960 494.9h1v26.07h-1zM966 494.9h1v26.07h-1zM976 494.9h1v26.07h-1zM985 494.9h1v26.07h-1zM1006 494.9h1v26.07h-1zM525 520.97h1v26.07h-1zM539 520.97h1v26.07h-1zM572 520.97h1v26.07h-1zM588 520.97h1v26.07h-1zM599 520.97h1v26.07h-1zM885 520.97h1v26.07h-1zM967 520.97h1v26.07h-1zM980 520.97h1v26.07h-1zM990 520.97h1v26.07h-1zM1005 520.97h1v26.07h-1zM458 547.05h1v26.07h-1zM494 547.05h1v26.07h-1zM496 547.05h1v26.07h-1zM521 547.05h1v26.07h-1zM563 547.05h1v26.07h-1zM566 547.05h1v26.07h-1zM569 547.05h1v26.07h-1zM613 547.05h1v26.07h-1zM645 547.05h1v26.07h-1zM647 547.05h1v26.07h-1zM651 547.05h1v26.07h-1zM661 547.05h1v26.07h-1zM782 547.05h1v26.07h-1zM910 547.05h1v26.07h-1zM912 547.05h1v26.07h-1zM924 547.05h1v26.07h-1zM972 547.05h1v26.07h-1zM550 573.12h1v26.07h-1zM561 573.12h1v26.07h-1zM602 573.12h1v26.07h-1zM609 573.12h1v26.07h-1zM628 573.12h1v26.07h-1zM858 573.12h1v26.07h-1zM886 573.12h1v26.07h-1zM953 573.12h1v26.07h-1zM958 573.12h1v26.07h-1zM969 573.12h1v26.07h-1zM978 573.12h1v26.07h-1zM995 573.12h1v26.07h-1zM1002 573.12h1v26.07h-1zM355 599.2h1v26.07h-1zM480 599.2h1v26.07h-1zM561 599.2h1v26.07h-1zM585 599.2h1v26.07h-1zM618 599.2h1v26.07h-1zM625 599.2h1v26.07h-1zM646 599.2h2v26.07h-2zM654 599.2h1v26.07h-1zM670 599.2h1v26.07h-1zM897 599.2h1v26.07h-1zM950 599.2h1v26.07h-1zM968 599.2h1v26.07h-1zM978 599.2h1v26.07h-1zM982 599.2h1v26.07h-1zM993 599.2h1v26.07h-1zM553 625.27h1v26.07h-1zM576 625.27h1v26.07h-1zM579 625.27h1v26.07h-1zM594 625.27h1v26.07h-1zM622 625.27h1v26.07h-1zM633 625.27h1v26.07h-1zM652 625.27h1v26.07h-1zM901 625.27h1v26.07h-1zM910 625.27h1v26.07h-1zM947 625.27h1v26.07h-1zM548 651.35h1v26.07h-1zM574 651.35h1v26.07h-1zM595 651.35h2v26.07h-2zM599 651.35h1v26.07h-1zM601 651.35h1v26.07h-1zM609 651.35h1v26.07h-1zM632 651.35h1v26.07h-1zM660 651.35h1v26.07h-1zM878 651.35h1v26.07h-1zM906 651.35h1v26.07h-1zM918 651.35h1v26.07h-1zM923 651.35h2v26.07h-2zM940 651.35h1v26.07h-1zM942 651.35h1v26.07h-1zM947 651.35h1v26.07h-1zM957 651.35h1v26.07h-1zM968 651.35h1v26.07h-1zM993 651.35h1v26.07h-1zM1008 651.35h1v26.07h-1zM517 677.42h1v26.07h-1zM561 677.42h1v26.07h-1zM580 677.42h1v26.07h-1zM591 677.42h1v26.07h-1zM616 677.42h2v26.07h-2zM637 677.42h1v26.07h-1zM645 677.42h1v26.07h-1zM661 677.42h1v26.07h-1zM667 677.42h1v26.07h-1zM861 677.42h1v26.07h-1zM923 677.42h1v26.07h-1zM948 677.42h1v26.07h-1zM960 677.42h1v26.07h-1zM1004 677.42h1v26.07h-1z"/><path fill="#cad" d="M431 182.0h1v26.07h-1zM452 182.0h1v26.07h-1zM738 182.0h1v26.07h-1zM746 182.0h1v26.07h-1zM710 208.07h1v26.07h-1zM352 234.15h1v26.07h-1zM464 234.15h1v26.07h-1zM766 234.15h1v26.07h-1zM801 234.15h1v26.07h-1zM905 234.15h1v26.07h-1zM489 260.23h1v26.07h-1zM550 260.23h1v26.07h-1zM742 260.23h1v26.07h-1zM805 260.23h1v26.07h-1zM936 260.23h1v26.07h-1zM949 286.3h1v26.07h-1zM515 338.45h1v26.07h-1zM874 338.45h1v26.07h-1zM329 364.52h1v26.07h-1zM423 364.52h1v26.07h-1zM453 364.52h1v26.07h-1zM465 364.52h2v26.07h-2zM797 364.52h1v26.07h-1zM525 390.6h1v26.07h-1zM541 416.67h1v26.07h-1zM581 416.67h1v26.07h-1zM410 442.75h1v26.07h-1zM484 442.75h1v26.07h-1zM519 442.75h1v26.07h-1zM890 442.75h1v26.07h-1zM431 520.97h1v26.07h-1zM466 520.97h1v26.07h-1zM779 520.97h1v26.07h-1zM864 520.97h1v26.07h-1zM306 547.05h1v26.07h-1zM539 547.05h1v26.07h-1zM491 573.12h1v26.07h-1zM838 573.12h1v26.07h-1zM519 599.2h1v26.07h-1zM521 599.2h1v26.07h-1zM792 599.2h1v26.07h-1zM879 599.2h1v26.07h-1zM491 625.27h1v26.07h-1zM813 625.27h1v26.07h-1zM480 651.35h1v26.07h-1zM494 651.35h1v26.07h-1zM528 651.35h1v26.07h-1zM872 651.35h1v26.07h-1z"/><path fill="#fff" d="M446 182.0h1v26.07h-1zM841 182.0h1v26.07h-1zM807 208.07h1v26.07h-1zM937 234.15h1v26.07h-1zM553 260.23h1v26.07h-1zM823 260.23h1v26.07h-1zM903 260.23h1v26.07h-1zM367 286.3h1v26.07h-1zM568 286.3h1v26.07h-1zM634 286.3h1v26.07h-1zM411 312.38h1v26.07h-1zM422 312.38h1v26.07h-1zM754 364.52h1v26.07h-1zM502 390.6h1v26.07h-1zM796 390.6h1v26.07h-1zM814 390.6h1v26.07h-1zM941 390.6h2v26.07h-2zM984 390.6h1v26.07h-1zM406 416.67h1v26.07h-1zM489 416.67h1v26.07h-1zM892 416.67h1v26.07h-1zM899 442.75h1v26.07h-1zM356 468.82h1v26.07h-1zM358 468.82h1v26.07h-1zM415 494.9h1v26.07h-1zM814 494.9h1v26.07h-1zM899 494.9h1v26.07h-1zM493 520.97h1v26.07h-1zM944 547.05h1v26.07h-1zM968 547.05h1v26.07h-1zM422 573.12h1v26.07h-1zM791 573.12h1v26.07h-1zM333 599.2h1v26.07h-1zM850 599.2h1v26.07h-1zM817 625.27h1v26.07h-1zM422 651.35h1v26.07h-1zM505 651.35h1v26.07h-1zM378 677.42h1v26.07h-1zM386 677.42h1v26.07h-1zM585 677.42h1v26.07h-1zM801 677.42h1v26.07h-1zM916 677.42h2v26.07h-2z"/><path fill="#f66" d="M447 182.0h1v26.07h-1zM493 182.0h1v26.07h-1zM501 182.0h1v26.07h-1zM520 182.0h1v26.07h-1zM545 182.0h1v26.07h-1zM559 182.0h1v26.07h-1zM620 182.0h1v26.07h-1zM647 182.0h1v26.07h-1zM808 182.0h1v26.07h-1zM814 182.0h1v26.07h-1zM828 182.0h1v26.07h-1zM875 182.0h1v26.07h-1zM950 182.0h1v26.07h-1zM953 182.0h1v26.07h-1zM965 182.0h1v26.07h-1zM981 182.0h1v26.07h-1zM984 182.0h1v26.07h-1zM1017 182.0h1v26.07h-1zM550 208.07h1v26.07h-1zM611 208.07h1v26.07h-1zM621 208.07h1v26.07h-1zM794 208.07h1v26.07h-1zM958 208.07h1v26.07h-1zM980 208.07h1v26.07h-1zM993 208.07h1v26.07h-1zM995 208.07h1v26.07h-1zM1006 208.07h1v26.07h-1zM486 234.15h1v26.07h-1zM516 234.15h1v26.07h-1zM593 234.15h1v26.07h-1zM624 234.15h1v26.07h-1zM653 234.15h1v26.07h-1zM836 234.15h1v26.07h-1zM848 234.15h1v26.07h-1zM883 234.15h1v26.07h-1zM896 234.15h1v26.07h-1zM928 234.15h1v26.07h-1zM957 234.15h1v26.07h-1zM980 234.15h1v26.07h-1zM993 234.15h1v26.07h-1zM490 260.23h1v26.07h-1zM513 260.23h1v26.07h-1zM595 260.23h1v26.07h-1zM600 260.23h1v26.07h-1zM605 260.23h1v26.07h-1zM608 260.23h1v26.07h-1zM639 260.23h1v26.07h-1zM657 260.23h1v26.07h-1zM830 260.23h1v26.07h-1zM910 260.23h1v26.07h-1zM975 260.23h1v26.07h-1zM1014 260.23h1v26.07h-1zM1024 260.23h1v26.07h-1zM416 286.3h1v26.07h-1zM547 286.3h1v26.07h-1zM573 286.3h1v26.07h-1zM579 286.3h1v26.07h-1zM611 286.3h1v26.07h-1zM633 286.3h1v26.07h-1zM661 286.3h1v26.07h-1zM818 286.3h1v26.07h-1zM841 286.3h1v26.07h-1zM926 286.3h1v26.07h-1zM971 286.3h1v26.07h-1zM975 286.3h1v26.07h-1zM980 286.3h1v26.07h-1zM988 286.3h1v26.07h-1zM442 312.38h1v26.07h-1zM546 312.38h1v26.07h-1zM548 312.38h1v26.07h-1zM563 312.38h1v26.07h-1zM589 312.38h1v26.07h-1zM598 312.38h1v26.07h-1zM646 312.38h1v26.07h-1zM649 312.38h1v26.07h-1zM910 312.38h1v26.07h-1zM921 312.38h1v26.07h-1zM976 312.38h1v26.07h-1zM987 312.38h1v26.07h-1zM1014 312.38h1v26.07h-1zM526 338.45h1v26.07h-1zM537 338.45h1v26.07h-1zM576 338.45h1v26.07h-1zM612 338.45h1v26.07h-1zM630 338.45h1v26.07h-1zM796 338.45h1v26.07h-1zM883 338.45h1v26.07h-1zM580 364.52h1v26.07h-1zM586 364.52h1v26.07h-1zM591 364.52h1v26.07h-1zM597 364.52h1v26.07h-1zM601 364.52h1v26.07h-1zM615 364.52h1v26.07h-1zM765 364.52h1v26.07h-1zM814 364.52h1v26.07h-1zM871 364.52h1v26.07h-1zM896 364.52h1v26.07h-1zM910 364.52h1v26.07h-1zM500 390.6h1v26.07h-1zM571 390.6h1v26.07h-1zM574 390.6h1v26.07h-1zM594 390.6h1v26.07h-1zM609 390.6h1v26.07h-1zM615 390.6h1v26.07h-1zM625 390.6h1v26.07h-1zM651 390.6h1v26.07h-1zM861 390.6h1v26.07h-1zM955 390.6h1v26.07h-1zM977 390.6h1v26.07h-1zM986 390.6h1v26.07h-1zM373 416.67h1v26.07h-1zM428 416.67h1v26.07h-1zM473 416.67h1v26.07h-1zM567 416.67h2v26.07h-2zM575 416.67h1v26.07h-1zM592 416.67h1v26.07h-1zM633 416.67h1v26.07h-1zM850 416.67h1v26.07h-1zM893 416.67h1v26.07h-1zM949 416.67h1v26.07h-1zM414 442.75h1v26.07h-1zM512 442.75h1v26.07h-1zM522 442.75h1v26.07h-1zM551 442.75h1v26.07h-1zM575 442.75h1v26.07h-1zM592 442.75h1v26.07h-1zM622 442.75h1v26.07h-1zM636 442.75h1v26.07h-1zM892 442.75h1v26.07h-1zM919 442.75h1v26.07h-1zM932 442.75h1v26.07h-1zM947 442.75h1v26.07h-1zM953 442.75h1v26.07h-1zM979 442.75h1v26.07h-1zM991 442.75h1v26.07h-1zM994 442.75h1v26.07h-1zM551 468.82h1v26.07h-1zM561 468.82h1v26.07h-1zM582 468.82h1v26.07h-1zM599 468.82h1v26.07h-1zM611 468.82h1v26.07h-1zM837 468.82h1v26.07h-1zM849 468.82h1v26.07h-1zM881 468.82h2v26.07h-2zM894 468.82h1v26.07h-1zM981 468.82h1v26.07h-1zM489 494.9h1v26.07h-1zM547 494.9h1v26.07h-1zM577 494.9h1v26.07h-1zM589 494.9h1v26.07h-1zM646 494.9h1v26.07h-1zM798 494.9h1v26.07h-1zM871 494.9h1v26.07h-1zM896 494.9h1v26.07h-1zM901 494.9h1v26.07h-1zM903 494.9h1v26.07h-1zM926 494.9h1v26.07h-1zM935 494.9h1v26.07h-1zM941 494.9h1v26.07h-1zM944 494.9h1v26.07h-1zM437 520.97h1v26.07h-1zM567 520.97h1v26.07h-1zM898 520.97h1v26.07h-1zM903 520.97h1v26.07h-1zM923 520.97h1v26.07h-1zM931 520.97h1v26.07h-1zM934 520.97h1v26.07h-1zM951 520.97h1v26.07h-1zM965 520.97h1v26.07h-1zM994 520.97h1v26.07h-1zM1006 520.97h1v26.07h-1zM538 547.05h1v26.07h-1zM638 547.05h1v26.07h-1zM713 547.05h1v26.07h-1zM823 547.05h1v26.07h-1zM932 547.05h1v26.07h-1zM950 547.05h1v26.07h-1zM467 573.12h1v26.07h-1zM493 573.12h1v26.07h-1zM501 573.12h1v26.07h-1zM536 573.12h1v26.07h-1zM567 573.12h2v26.07h-2zM580 573.12h1v26.07h-1zM587 573.12h1v26.07h-1zM619 573.12h1v26.07h-1zM623 573.12h1v26.07h-1zM805 573.12h1v26.07h-1zM825 573.12h1v26.07h-1zM932 573.12h1v26.07h-1zM940 573.12h1v26.07h-1zM964 573.12h1v26.07h-1zM974 573.12h1v26.07h-1zM1003 573.12h1v26.07h-1zM504 599.2h1v26.07h-1zM543 599.2h1v26.07h-1zM590 599.2h1v26.07h-1zM929 599.2h1v26.07h-1zM953 599.2h1v26.07h-1zM961 599.2h1v26.07h-1zM981 599.2h1v26.07h-1zM1006 599.2h1v26.07h-1zM458 625.27h1v26.07h-1zM484 625.27h1v26.07h-1zM515 625.27h1v26.07h-1zM549 625.27h1v26.07h-1zM604 625.27h1v26.07h-1zM630 625.27h1v26.07h-1zM906 625.27h1v26.07h-1zM934 625.27h1v26.07h-1zM936 625.27h1v26.07h-1zM939 625.27h1v26.07h-1zM949 625.27h1v26.07h-1zM967 625.27h1v26.07h-1zM492 651.35h1v26.07h-1zM546 651.35h1v26.07h-1zM562 651.35h1v26.07h-1zM578 651.35h1v26.07h-1zM606 651.35h1v26.07h-1zM871 651.35h1v26.07h-1zM943 651.35h1v26.07h-1zM422 677.42h1v26.07h-1zM489 677.42h1v26.07h-1zM527 677.42h1v26.07h-1zM595 677.42h1v26.07h-1zM607 677.42h1v26.07h-1zM660 677.42h1v26.07h-1zM845 677.42h1v26.07h-1zM888 677.42h1v26.07h-1zM897 677.42h1v26.07h-1zM905 677.42h1v26.07h-1zM959 677.42h1v26.07h-1z"/><path fill="#52d" d="M448 182.0h1v26.07h-1zM849 182.0h1v26.07h-1zM889 260.23h1v26.07h-1zM357 286.3h1v26.07h-1zM786 286.3h1v26.07h-1zM592 312.38h1v26.07h-1zM884 312.38h1v26.07h-1zM568 364.52h1v26.07h-1zM811 390.6h1v26.07h-1zM862 390.6h1v26.07h-1zM770 520.97h1v26.07h-1zM822 547.05h1v26.07h-1zM931 547.05h1v26.07h-1zM499 677.42h1v26.07h-1zM862 677.42h1v26.07h-1z"/><path fill="#d78" d="M455 182.0h1v26.07h-1zM948 573.12h1v26.07h-1zM761 599.2h1v26.07h-1zM881 651.35h1v26.07h-1z"/><path fill="#d89" d="M460 182.0h1v26.07h-1zM372 234.15h1v26.07h-1zM802 234.15h1v26.07h-1zM496 390.6h1v26.07h-1zM486 547.05h1v26.07h-1zM814 547.05h1v26.07h-1z"/><path fill="#72a" d="M462 182.0h1v26.07h-1zM868 208.07h1v26.07h-1zM570 260.23h1v26.07h-1zM948 260.23h1v26.07h-1zM574 286.3h1v26.07h-1zM391 312.38h1v26.07h-1zM758 312.38h1v26.07h-1zM502 338.45h1v26.07h-1zM738 364.52h1v26.07h-1zM466 416.67h1v26.07h-1zM934 442.75h1v26.07h-1zM496 468.82h1v26.07h-1zM309 494.9h1v26.07h-1zM691 520.97h1v26.07h-1zM774 520.97h1v26.07h-1zM973 520.97h1v26.07h-1zM561 547.05h1v26.07h-1zM963 547.05h1v26.07h-1zM887 573.12h1v26.07h-1zM608 599.2h1v26.07h-1zM863 625.27h1v26.07h-1zM464 651.35h1v26.07h-1zM992 651.35h1v26.07h-1zM502 677.42h1v26.07h-1zM922 677.42h1v26.07h-1z"/><path fill="#ebd" d="M463 182.0h1v26.07h-1zM443 260.23h1v26.07h-1zM414 338.45h1v26.07h-1zM508 338.45h1v26.07h-1zM824 416.67h1v26.07h-1zM459 599.2h1v26.07h-1zM833 651.35h1v26.07h-1z"/><path fill="#fbb" d="M466 182.0h1v26.07h-1zM497 182.0h1v26.07h-1zM530 182.0h1v26.07h-1zM575 182.0h1v26.07h-1zM583 182.0h1v26.07h-1zM590 182.0h1v26.07h-1zM747 182.0h1v26.07h-1zM902 182.0h1v26.07h-1zM907 182.0h1v26.07h-1zM913 182.0h1v26.07h-1zM941 182.0h1v26.07h-1zM952 182.0h1v26.07h-1zM963 182.0h1v26.07h-1zM491 208.07h1v26.07h-1zM529 208.07h1v26.07h-1zM597 208.07h1v26.07h-1zM602 208.07h1v26.07h-1zM613 208.07h1v26.07h-1zM657 208.07h1v26.07h-1zM850 208.07h1v26.07h-1zM895 208.07h1v26.07h-1zM919 208.07h1v26.07h-1zM369 234.15h1v26.07h-1zM413 234.15h1v26.07h-1zM422 234.15h1v26.07h-1zM592 234.15h1v26.07h-1zM938 234.15h1v26.07h-1zM951 234.15h1v26.07h-1zM979 234.15h1v26.07h-1zM984 234.15h1v26.07h-1zM390 260.23h1v26.07h-1zM480 260.23h1v26.07h-1zM505 260.23h1v26.07h-1zM530 260.23h1v26.07h-1zM574 260.23h1v26.07h-1zM863 260.23h1v26.07h-1zM912 260.23h1v26.07h-1zM956 260.23h1v26.07h-1zM987 260.23h1v26.07h-1zM401 286.3h1v26.07h-1zM473 286.3h1v26.07h-1zM595 286.3h1v26.07h-1zM616 286.3h1v26.07h-1zM860 286.3h1v26.07h-1zM943 286.3h1v26.07h-1zM437 312.38h1v26.07h-1zM547 312.38h1v26.07h-1zM570 312.38h1v26.07h-1zM609 312.38h1v26.07h-1zM864 312.38h1v26.07h-1zM874 312.38h1v26.07h-1zM918 312.38h1v26.07h-1zM931 312.38h1v26.07h-1zM395 338.45h1v26.07h-1zM473 338.45h1v26.07h-1zM511 338.45h1v26.07h-1zM554 338.45h1v26.07h-1zM567 338.45h1v26.07h-1zM573 338.45h1v26.07h-1zM876 338.45h1v26.07h-1zM882 338.45h1v26.07h-1zM891 338.45h1v26.07h-1zM517 364.52h2v26.07h-2zM870 364.52h1v26.07h-1zM422 390.6h1v26.07h-1zM484 390.6h1v26.07h-1zM978 390.6h1v26.07h-1zM981 390.6h1v26.07h-1zM530 416.67h1v26.07h-1zM550 416.67h1v26.07h-1zM805 416.67h1v26.07h-1zM917 416.67h1v26.07h-1zM919 416.67h1v26.07h-1zM969 416.67h1v26.07h-1zM487 442.75h1v26.07h-1zM601 442.75h1v26.07h-1zM612 442.75h1v26.07h-1zM618 442.75h1v26.07h-1zM856 442.75h1v26.07h-1zM886 442.75h1v26.07h-1zM937 442.75h1v26.07h-1zM468 468.82h1v26.07h-1zM521 468.82h1v26.07h-1zM550 468.82h1v26.07h-1zM893 468.82h1v26.07h-1zM897 468.82h1v26.07h-1zM345 494.9h1v26.07h-1zM514 494.9h2v26.07h-2zM622 494.9h1v26.07h-1zM634 494.9h1v26.07h-1zM782 494.9h1v26.07h-1zM906 494.9h1v26.07h-1zM425 520.97h1v26.07h-1zM469 520.97h1v26.07h-1zM476 520.97h1v26.07h-1zM540 520.97h1v26.07h-1zM568 520.97h1v26.07h-1zM887 520.97h1v26.07h-1zM367 547.05h1v26.07h-1zM513 547.05h1v26.07h-1zM522 547.05h1v26.07h-1zM540 547.05h1v26.07h-1zM574 547.05h2v26.07h-2zM580 547.05h1v26.07h-1zM641 547.05h1v26.07h-1zM721 547.05h1v26.07h-1zM811 547.05h1v26.07h-1zM858 547.05h1v26.07h-1zM901 547.05h1v26.07h-1zM976 547.05h1v26.07h-1zM989 547.05h1v26.07h-1zM468 573.12h1v26.07h-1zM595 573.12h1v26.07h-1zM608 573.12h1v26.07h-1zM767 573.12h1v26.07h-1zM794 573.12h1v26.07h-1zM833 573.12h1v26.07h-1zM839 573.12h1v26.07h-1zM914 573.12h1v26.07h-1zM516 599.2h1v26.07h-1zM560 599.2h1v26.07h-1zM650 599.2h1v26.07h-1zM904 599.2h1v26.07h-1zM962 599.2h1v26.07h-1zM1007 599.2h1v26.07h-1zM438 625.27h1v26.07h-1zM478 625.27h1v26.07h-1zM544 625.27h1v26.07h-1zM555 625.27h1v26.07h-1zM558 625.27h1v26.07h-1zM565 625.27h1v26.07h-1zM834 625.27h1v26.07h-1zM883 625.27h1v26.07h-1zM933 625.27h1v26.07h-1zM442 651.35h1v26.07h-1zM504 651.35h1v26.07h-1zM556 651.35h1v26.07h-1zM589 651.35h1v26.07h-1zM607 651.35h1v26.07h-1zM930 651.35h1v26.07h-1zM460 677.42h1v26.07h-1zM466 677.42h1v26.07h-1zM490 677.42h1v26.07h-1zM506 677.42h1v26.07h-1zM564 677.42h1v26.07h-1zM626 677.42h1v26.07h-1zM806 677.42h1v26.07h-1zM889 677.42h1v26.07h-1zM893 677.42h1v26.07h-1zM963 677.42h1v26.07h-1z"/><path fill="#ede" d="M467 182.0h1v26.07h-1zM510 182.0h1v26.07h-1zM848 182.0h1v26.07h-1zM343 208.07h1v26.07h-1zM556 208.07h1v26.07h-1zM587 208.07h1v26.07h-1zM686 208.07h1v26.07h-1zM393 234.15h1v26.07h-1zM407 234.15h1v26.07h-1zM520 234.15h1v26.07h-1zM780 234.15h1v26.07h-1zM483 260.23h1v26.07h-1zM731 260.23h1v26.07h-1zM413 286.3h1v26.07h-1zM545 286.3h1v26.07h-1zM793 286.3h1v26.07h-1zM812 286.3h1v26.07h-1zM842 286.3h1v26.07h-1zM888 286.3h1v26.07h-1zM908 286.3h1v26.07h-1zM922 286.3h1v26.07h-1zM445 312.38h1v26.07h-1zM519 312.38h1v26.07h-1zM587 312.38h1v26.07h-1zM856 312.38h1v26.07h-1zM842 364.52h1v26.07h-1zM613 390.6h1v26.07h-1zM448 416.67h1v26.07h-1zM865 416.67h2v26.07h-2zM556 442.75h1v26.07h-1zM875 442.75h1v26.07h-1zM882 442.75h1v26.07h-1zM828 468.82h1v26.07h-1zM392 520.97h1v26.07h-1zM473 520.97h1v26.07h-1zM827 547.05h1v26.07h-1zM559 573.12h1v26.07h-1zM569 573.12h1v26.07h-1zM437 625.27h1v26.07h-1zM407 651.35h1v26.07h-1zM491 651.35h1v26.07h-1zM519 651.35h1v26.07h-1zM551 651.35h1v26.07h-1zM846 651.35h1v26.07h-1zM953 677.42h1v26.07h-1z"/><path fill="#54f" d="M468 182.0h1v26.07h-1zM703 260.23h1v26.07h-1zM791 260.23h1v26.07h-1zM674 286.3h1v26.07h-1zM782 364.52h1v26.07h-1zM875 390.6h1v26.07h-1zM878 390.6h1v26.07h-1zM617 547.05h1v26.07h-1zM768 573.12h1v26.07h-1zM421 651.35h1v26.07h-1zM862 651.35h1v26.07h-1zM791 677.42h1v26.07h-1z"/><path fill="#87e" d="M469 182.0h1v26.07h-1zM430 208.07h1v26.07h-1zM471 208.07h1v26.07h-1zM750 208.07h1v26.07h-1zM907 208.07h1v26.07h-1zM380 234.15h1v26.07h-1zM767 260.23h1v26.07h-1zM812 260.23h1v26.07h-1zM832 260.23h1v26.07h-1zM313 286.3h1v26.07h-1zM787 286.3h1v26.07h-1zM360 312.38h1v26.07h-1zM499 312.38h1v26.07h-1zM608 312.38h1v26.07h-1zM709 338.45h1v26.07h-1zM849 338.45h1v26.07h-1zM736 364.52h1v26.07h-1zM342 390.6h1v26.07h-1zM361 390.6h1v26.07h-1zM387 442.75h1v26.07h-1zM408 468.82h1v26.07h-1zM502 468.82h1v26.07h-1zM682 468.82h1v26.07h-1zM400 494.9h1v26.07h-1zM411 520.97h1v26.07h-1zM418 520.97h1v26.07h-1zM709 520.97h1v26.07h-1zM873 520.97h1v26.07h-1zM825 547.05h1v26.07h-1zM890 547.05h1v26.07h-1zM329 573.12h1v26.07h-1zM405 573.12h1v26.07h-1zM837 573.12h1v26.07h-1zM320 599.2h1v26.07h-1zM938 599.2h1v26.07h-1zM340 625.27h1v26.07h-1zM465 625.27h1v26.07h-1zM887 625.27h1v26.07h-1zM375 651.35h1v26.07h-1zM390 651.35h1v26.07h-1zM419 651.35h1v26.07h-1zM390 677.42h1v26.07h-1zM760 677.42h1v26.07h-1zM910 677.42h1v26.07h-1z"/><path fill="#d56" d="M470 182.0h1v26.07h-1zM594 208.07h1v26.07h-1zM416 312.38h1v26.07h-1zM911 520.97h1v26.07h-1z"/><path fill="#d7a" d="M471 182.0h1v26.07h-1zM520 364.52h1v26.07h-1zM511 468.82h1v26.07h-1zM907 625.27h1v26.07h-1zM371 677.42h1v26.07h-1z"/><path fill="#609" d="M473 182.0h1v26.07h-1zM627 182.0h1v26.07h-1zM827 182.0h1v26.07h-1zM894 182.0h1v26.07h-1zM544 208.07h1v26.07h-1zM845 234.15h1v26.07h-1zM950 260.23h1v26.07h-1zM384 286.3h1v26.07h-1zM387 286.3h1v26.07h-1zM524 286.3h1v26.07h-1zM935 286.3h1v26.07h-1zM941 286.3h1v26.07h-1zM384 338.45h1v26.07h-1zM821 364.52h1v26.07h-1zM693 390.6h1v26.07h-1zM821 390.6h1v26.07h-1zM338 416.67h1v26.07h-1zM888 416.67h1v26.07h-1zM413 442.75h1v26.07h-1zM524 442.75h1v26.07h-1zM984 442.75h1v26.07h-1zM413 468.82h1v26.07h-1zM504 494.9h1v26.07h-1zM912 494.9h1v26.07h-1zM932 494.9h1v26.07h-1zM438 520.97h1v26.07h-1zM498 520.97h1v26.07h-1zM888 520.97h1v26.07h-1zM384 547.05h1v26.07h-1zM467 547.05h1v26.07h-1zM578 547.05h1v26.07h-1zM894 547.05h1v26.07h-1zM906 547.05h1v26.07h-1zM427 573.12h1v26.07h-1zM447 573.12h1v26.07h-1zM467 599.2h1v26.07h-1zM624 599.2h1v26.07h-1zM627 599.2h1v26.07h-1zM763 599.2h1v26.07h-1zM973 599.2h1v26.07h-1zM447 625.27h1v26.07h-1zM789 625.27h1v26.07h-1zM364 651.35h1v26.07h-1zM868 651.35h1v26.07h-1zM874 651.35h1v26.07h-1zM433 677.42h1v26.07h-1zM567 677.42h1v26.07h-1z"/><path fill="#f01" d="M474 182.0h1v26.07h-1zM817 182.0h1v26.07h-1zM989 364.52h1v26.07h-1zM494 416.67h1v26.07h-1zM454 651.35h1v26.07h-1zM916 651.35h1v26.07h-1z"/><path fill="#87d" d="M475 182.0h1v26.07h-1zM526 234.15h1v26.07h-1zM829 234.15h1v26.07h-1zM743 260.23h1v26.07h-1zM746 260.23h1v26.07h-1zM742 442.75h1v26.07h-1zM852 677.42h1v26.07h-1z"/><path fill="#fdd" d="M476 182.0h1v26.07h-1zM529 182.0h1v26.07h-1zM532 182.0h1v26.07h-1zM625 182.0h1v26.07h-1zM740 182.0h1v26.07h-1zM771 182.0h1v26.07h-1zM863 182.0h1v26.07h-1zM400 208.07h1v26.07h-1zM435 208.07h1v26.07h-1zM474 208.07h1v26.07h-1zM521 208.07h1v26.07h-1zM606 208.07h1v26.07h-1zM842 208.07h1v26.07h-1zM936 208.07h1v26.07h-1zM599 234.15h1v26.07h-1zM889 234.15h1v26.07h-1zM455 260.23h1v26.07h-1zM588 260.23h1v26.07h-1zM789 260.23h1v26.07h-1zM838 260.23h1v26.07h-1zM509 286.3h1v26.07h-1zM582 286.3h1v26.07h-1zM829 286.3h1v26.07h-1zM538 312.38h1v26.07h-1zM738 312.38h1v26.07h-1zM854 312.38h1v26.07h-1zM938 312.38h1v26.07h-1zM947 312.38h1v26.07h-1zM949 312.38h1v26.07h-1zM956 312.38h1v26.07h-1zM1001 312.38h1v26.07h-1zM470 338.45h1v26.07h-1zM476 338.45h1v26.07h-1zM551 338.45h1v26.07h-1zM580 338.45h1v26.07h-1zM827 338.45h1v26.07h-1zM373 364.52h1v26.07h-1zM543 364.52h1v26.07h-1zM558 364.52h1v26.07h-1zM768 364.52h1v26.07h-1zM776 364.52h1v26.07h-1zM868 364.52h1v26.07h-1zM911 364.52h1v26.07h-1zM914 364.52h1v26.07h-1zM437 390.6h1v26.07h-1zM587 390.6h1v26.07h-1zM600 390.6h1v26.07h-1zM717 390.6h1v26.07h-1zM833 390.6h1v26.07h-1zM966 390.6h1v26.07h-1zM783 416.67h1v26.07h-1zM796 416.67h1v26.07h-1zM891 416.67h1v26.07h-1zM966 416.67h1v26.07h-1zM968 416.67h1v26.07h-1zM326 442.75h1v26.07h-1zM546 442.75h1v26.07h-1zM585 442.75h1v26.07h-1zM801 442.75h1v26.07h-1zM826 442.75h1v26.07h-1zM910 442.75h1v26.07h-1zM922 442.75h1v26.07h-1zM508 468.82h1v26.07h-1zM591 468.82h1v26.07h-1zM928 494.9h2v26.07h-2zM375 520.97h1v26.07h-1zM414 547.05h1v26.07h-1zM943 547.05h1v26.07h-1zM1016 547.05h1v26.07h-1zM464 573.12h1v26.07h-1zM508 573.12h1v26.07h-1zM579 573.12h1v26.07h-1zM617 573.12h1v26.07h-1zM832 573.12h1v26.07h-1zM836 573.12h1v26.07h-1zM878 573.12h1v26.07h-1zM559 599.2h1v26.07h-1zM568 599.2h1v26.07h-1zM841 599.2h1v26.07h-1zM866 599.2h1v26.07h-1zM894 599.2h1v26.07h-1zM939 599.2h1v26.07h-1zM948 599.2h1v26.07h-1zM1003 599.2h1v26.07h-1zM561 625.27h1v26.07h-1zM797 625.27h1v26.07h-1zM953 625.27h1v26.07h-1zM393 651.35h1v26.07h-1zM416 651.35h1v26.07h-1zM821 651.35h1v26.07h-1zM455 677.42h1v26.07h-1zM570 677.42h1v26.07h-1zM802 677.42h1v26.07h-1zM859 677.42h1v26.07h-1zM863 677.42h1v26.07h-1zM894 677.42h1v26.07h-1z"/><path fill="#a9d" d="M481 182.0h1v26.07h-1zM561 208.07h1v26.07h-1zM457 312.38h1v26.07h-1zM797 338.45h1v26.07h-1zM501 494.9h1v26.07h-1zM828 520.97h1v26.07h-1zM565 677.42h1v26.07h-1z"/><path fill="#f99" d="M482 182.0h1v26.07h-1zM534 182.0h1v26.07h-1zM582 182.0h1v26.07h-1zM595 182.0h1v26.07h-1zM601 182.0h1v26.07h-1zM610 182.0h1v26.07h-1zM635 182.0h1v26.07h-1zM837 182.0h1v26.07h-1zM865 182.0h1v26.07h-1zM918 182.0h1v26.07h-1zM942 182.0h1v26.07h-1zM1031 182.0h1v26.07h-1zM453 208.07h1v26.07h-1zM480 208.07h1v26.07h-1zM530 208.07h1v26.07h-1zM590 208.07h1v26.07h-1zM795 208.07h1v26.07h-1zM805 208.07h1v26.07h-1zM852 208.07h1v26.07h-1zM926 208.07h1v26.07h-1zM956 208.07h1v26.07h-1zM988 208.07h1v26.07h-1zM1011 208.07h1v26.07h-1zM1031 208.07h1v26.07h-1zM584 234.15h1v26.07h-1zM863 234.15h1v26.07h-1zM867 234.15h1v26.07h-1zM933 234.15h1v26.07h-1zM1031 234.15h1v26.07h-1zM593 260.23h1v26.07h-1zM800 260.23h1v26.07h-1zM944 260.23h1v26.07h-1zM1031 260.23h1v26.07h-1zM487 286.3h1v26.07h-1zM489 286.3h1v26.07h-1zM593 286.3h1v26.07h-1zM889 286.3h1v26.07h-1zM953 286.3h1v26.07h-1zM992 286.3h1v26.07h-1zM1031 286.3h1v26.07h-1zM423 312.38h1v26.07h-1zM487 312.38h1v26.07h-1zM582 312.38h1v26.07h-1zM585 312.38h1v26.07h-1zM753 312.38h1v26.07h-1zM836 312.38h1v26.07h-1zM846 312.38h1v26.07h-1zM850 312.38h1v26.07h-1zM860 312.38h1v26.07h-1zM873 312.38h1v26.07h-1zM961 312.38h1v26.07h-1zM1031 312.38h1v26.07h-1zM460 338.45h1v26.07h-1zM471 338.45h1v26.07h-1zM497 338.45h1v26.07h-1zM506 338.45h1v26.07h-1zM583 338.45h1v26.07h-1zM591 338.45h1v26.07h-1zM808 338.45h1v26.07h-1zM1031 338.45h1v26.07h-1zM444 364.52h1v26.07h-1zM477 364.52h1v26.07h-1zM506 364.52h1v26.07h-1zM525 364.52h1v26.07h-1zM547 364.52h1v26.07h-1zM573 364.52h1v26.07h-1zM583 364.52h1v26.07h-1zM593 364.52h1v26.07h-1zM843 364.52h1v26.07h-1zM915 364.52h1v26.07h-1zM927 364.52h1v26.07h-1zM940 364.52h1v26.07h-1zM955 364.52h1v26.07h-1zM1011 364.52h1v26.07h-1zM1031 364.52h1v26.07h-1zM460 390.6h1v26.07h-1zM517 390.6h1v26.07h-1zM599 390.6h1v26.07h-1zM604 390.6h1v26.07h-1zM610 390.6h1v26.07h-1zM630 390.6h1v26.07h-1zM638 390.6h1v26.07h-1zM653 390.6h1v26.07h-1zM745 390.6h1v26.07h-1zM834 390.6h1v26.07h-1zM865 390.6h1v26.07h-1zM879 390.6h1v26.07h-1zM930 390.6h1v26.07h-1zM1002 390.6h1v26.07h-1zM1031 390.6h1v26.07h-1zM411 416.67h1v26.07h-1zM458 416.67h1v26.07h-1zM483 416.67h1v26.07h-1zM515 416.67h1v26.07h-1zM556 416.67h1v26.07h-1zM606 416.67h1v26.07h-1zM854 416.67h1v26.07h-1zM871 416.67h1v26.07h-1zM897 416.67h1v26.07h-1zM942 416.67h1v26.07h-1zM957 416.67h1v26.07h-1zM981 416.67h2v26.07h-2zM989 416.67h1v26.07h-1zM1017 416.67h1v26.07h-1zM1031 416.67h1v26.07h-1zM521 442.75h1v26.07h-1zM602 442.75h1v26.07h-1zM911 442.75h1v26.07h-1zM1003 442.75h1v26.07h-1zM1031 442.75h1v26.07h-1zM442 468.82h1v26.07h-1zM552 468.82h1v26.07h-1zM573 468.82h1v26.07h-1zM781 468.82h1v26.07h-1zM865 468.82h1v26.07h-1zM879 468.82h1v26.07h-1zM1031 468.82h1v26.07h-1zM520 494.9h1v26.07h-1zM528 494.9h1v26.07h-1zM574 494.9h1v26.07h-1zM576 494.9h1v26.07h-1zM604 494.9h1v26.07h-1zM615 494.9h1v26.07h-1zM639 494.9h1v26.07h-1zM823 494.9h1v26.07h-1zM830 494.9h1v26.07h-1zM873 494.9h1v26.07h-1zM877 494.9h1v26.07h-1zM897 494.9h1v26.07h-1zM952 494.9h1v26.07h-1zM959 494.9h1v26.07h-1zM1031 494.9h1v26.07h-1zM485 520.97h1v26.07h-1zM515 520.97h1v26.07h-1zM538 520.97h1v26.07h-1zM556 520.97h1v26.07h-1zM863 520.97h1v26.07h-1zM868 520.97h1v26.07h-1zM952 520.97h1v26.07h-1zM1031 520.97h1v26.07h-1zM338 547.05h1v26.07h-1zM434 547.05h1v26.07h-1zM442 547.05h1v26.07h-1zM603 547.05h1v26.07h-1zM609 547.05h1v26.07h-1zM765 547.05h1v26.07h-1zM796 547.05h1v26.07h-1zM911 547.05h1v26.07h-1zM958 547.05h1v26.07h-1zM984 547.05h1v26.07h-1zM987 547.05h1v26.07h-1zM397 573.12h1v26.07h-1zM605 573.12h1v26.07h-1zM624 573.12h1v26.07h-1zM802 573.12h1v26.07h-1zM903 573.12h1v26.07h-1zM921 573.12h1v26.07h-1zM925 573.12h1v26.07h-1zM933 573.12h1v26.07h-1zM991 573.12h1v26.07h-1zM1031 573.12h1v26.07h-1zM391 599.2h1v26.07h-1zM544 599.2h1v26.07h-1zM564 599.2h1v26.07h-1zM602 599.2h1v26.07h-1zM741 599.2h1v26.07h-1zM751 599.2h1v26.07h-1zM807 599.2h1v26.07h-1zM886 599.2h1v26.07h-1zM896 599.2h1v26.07h-1zM984 599.2h1v26.07h-1zM1031 599.2h1v26.07h-1zM408 625.27h1v26.07h-1zM462 625.27h1v26.07h-1zM527 625.27h1v26.07h-1zM617 625.27h1v26.07h-1zM828 625.27h1v26.07h-1zM877 625.27h1v26.07h-1zM943 625.27h1v26.07h-1zM985 625.27h1v26.07h-1zM1031 625.27h1v26.07h-1zM524 651.35h1v26.07h-1zM547 651.35h1v26.07h-1zM549 651.35h1v26.07h-1zM605 651.35h1v26.07h-1zM614 651.35h1v26.07h-1zM779 651.35h1v26.07h-1zM827 651.35h1v26.07h-1zM867 651.35h1v26.07h-1zM901 651.35h1v26.07h-1zM1031 651.35h1v26.07h-1zM576 677.42h1v26.07h-1zM592 677.42h1v26.07h-1zM604 677.42h1v26.07h-1zM611 677.42h1v26.07h-1zM887 677.42h1v26.07h-1zM912 677.42h2v26.07h-2zM962 677.42h1v26.07h-1zM1031 677.42h1v26.07h-1z"/><path fill="#50a" d="M486 182.0h1v26.07h-1zM568 182.0h1v26.07h-1zM911 182.0h1v26.07h-1zM838 208.07h1v26.07h-1zM914 208.07h1v26.07h-1zM445 234.15h1v26.07h-1zM405 260.23h1v26.07h-1zM523 260.23h1v26.07h-1zM652 260.23h1v26.07h-1zM465 286.3h1v26.07h-1zM486 286.3h1v26.07h-1zM714 286.3h1v26.07h-1zM606 312.38h1v26.07h-1zM915 312.38h1v26.07h-1zM942 312.38h1v26.07h-1zM385 338.45h1v26.07h-1zM505 338.45h1v26.07h-1zM556 338.45h1v26.07h-1zM476 364.52h1v26.07h-1zM566 364.52h1v26.07h-1zM780 364.52h1v26.07h-1zM809 364.52h1v26.07h-1zM876 364.52h1v26.07h-1zM435 390.6h1v26.07h-1zM515 390.6h1v26.07h-1zM632 390.6h1v26.07h-1zM694 390.6h1v26.07h-1zM943 390.6h1v26.07h-1zM435 416.67h1v26.07h-1zM539 416.67h1v26.07h-1zM962 416.67h1v26.07h-1zM596 442.75h1v26.07h-1zM723 468.82h1v26.07h-1zM780 468.82h1v26.07h-1zM517 494.9h1v26.07h-1zM790 494.9h1v26.07h-1zM799 494.9h1v26.07h-1zM924 494.9h1v26.07h-1zM579 520.97h1v26.07h-1zM772 520.97h1v26.07h-1zM857 520.97h1v26.07h-1zM337 547.05h1v26.07h-1zM885 547.05h1v26.07h-1zM426 573.12h1v26.07h-1zM446 573.12h1v26.07h-1zM956 573.12h1v26.07h-1zM386 599.2h1v26.07h-1zM426 677.42h1v26.07h-1z"/><path fill="#f33" d="M487 182.0h1v26.07h-1zM574 182.0h1v26.07h-1zM592 182.0h1v26.07h-1zM596 182.0h1v26.07h-1zM624 182.0h1v26.07h-1zM658 182.0h1v26.07h-1zM852 182.0h1v26.07h-1zM912 182.0h1v26.07h-1zM919 182.0h1v26.07h-1zM948 182.0h1v26.07h-1zM966 182.0h1v26.07h-1zM978 182.0h1v26.07h-1zM983 182.0h1v26.07h-1zM988 182.0h1v26.07h-1zM1003 182.0h1v26.07h-1zM563 208.07h1v26.07h-1zM623 208.07h2v26.07h-2zM629 208.07h1v26.07h-1zM631 208.07h1v26.07h-1zM851 208.07h1v26.07h-1zM855 208.07h1v26.07h-1zM918 208.07h1v26.07h-1zM942 208.07h1v26.07h-1zM954 208.07h1v26.07h-1zM997 208.07h1v26.07h-1zM999 208.07h1v26.07h-1zM1002 208.07h1v26.07h-1zM1005 208.07h1v26.07h-1zM1026 208.07h1v26.07h-1zM451 234.15h1v26.07h-1zM497 234.15h1v26.07h-1zM504 234.15h1v26.07h-1zM530 234.15h1v26.07h-1zM566 234.15h1v26.07h-1zM577 234.15h1v26.07h-1zM580 234.15h1v26.07h-1zM595 234.15h1v26.07h-1zM606 234.15h1v26.07h-1zM609 234.15h1v26.07h-1zM652 234.15h1v26.07h-1zM703 234.15h1v26.07h-1zM886 234.15h1v26.07h-1zM908 234.15h1v26.07h-1zM912 234.15h2v26.07h-2zM935 234.15h1v26.07h-1zM950 234.15h1v26.07h-1zM956 234.15h1v26.07h-1zM964 234.15h1v26.07h-1zM972 234.15h1v26.07h-1zM981 234.15h2v26.07h-2zM1014 234.15h1v26.07h-1zM476 260.23h1v26.07h-1zM564 260.23h1v26.07h-1zM578 260.23h1v26.07h-1zM584 260.23h1v26.07h-1zM586 260.23h2v26.07h-2zM603 260.23h1v26.07h-1zM619 260.23h1v26.07h-1zM632 260.23h1v26.07h-1zM640 260.23h1v26.07h-1zM850 260.23h1v26.07h-1zM908 260.23h1v26.07h-1zM932 260.23h2v26.07h-2zM995 260.23h1v26.07h-1zM1021 260.23h1v26.07h-1zM380 286.3h1v26.07h-1zM415 286.3h1v26.07h-1zM483 286.3h1v26.07h-1zM520 286.3h1v26.07h-1zM538 286.3h1v26.07h-1zM546 286.3h1v26.07h-1zM556 286.3h1v26.07h-1zM563 286.3h1v26.07h-1zM585 286.3h1v26.07h-1zM590 286.3h1v26.07h-1zM592 286.3h1v26.07h-1zM622 286.3h1v26.07h-1zM631 286.3h1v26.07h-1zM647 286.3h1v26.07h-1zM657 286.3h1v26.07h-1zM823 286.3h1v26.07h-1zM962 286.3h1v26.07h-1zM976 286.3h1v26.07h-1zM995 286.3h1v26.07h-1zM1022 286.3h1v26.07h-1zM1026 286.3h1v26.07h-1zM495 312.38h1v26.07h-1zM534 312.38h1v26.07h-1zM561 312.38h1v26.07h-1zM565 312.38h2v26.07h-2zM607 312.38h1v26.07h-1zM617 312.38h1v26.07h-1zM619 312.38h1v26.07h-1zM625 312.38h1v26.07h-1zM667 312.38h1v26.07h-1zM862 312.38h1v26.07h-1zM883 312.38h1v26.07h-1zM897 312.38h1v26.07h-1zM950 312.38h1v26.07h-1zM963 312.38h1v26.07h-1zM968 312.38h1v26.07h-1zM553 338.45h1v26.07h-1zM563 338.45h2v26.07h-2zM581 338.45h1v26.07h-1zM606 338.45h1v26.07h-1zM622 338.45h1v26.07h-1zM624 338.45h1v26.07h-1zM884 338.45h1v26.07h-1zM908 338.45h1v26.07h-1zM913 338.45h2v26.07h-2zM927 338.45h1v26.07h-1zM940 338.45h1v26.07h-1zM950 338.45h1v26.07h-1zM472 364.52h1v26.07h-1zM515 364.52h1v26.07h-1zM530 364.52h1v26.07h-1zM553 364.52h1v26.07h-1zM577 364.52h3v26.07h-3zM585 364.52h1v26.07h-1zM625 364.52h1v26.07h-1zM631 364.52h1v26.07h-1zM816 364.52h1v26.07h-1zM903 364.52h1v26.07h-1zM905 364.52h1v26.07h-1zM923 364.52h1v26.07h-1zM925 364.52h1v26.07h-1zM928 364.52h1v26.07h-1zM948 364.52h1v26.07h-1zM952 364.52h2v26.07h-2zM963 364.52h1v26.07h-1zM966 364.52h1v26.07h-1zM556 390.6h1v26.07h-1zM583 390.6h1v26.07h-1zM607 390.6h1v26.07h-1zM626 390.6h1v26.07h-1zM639 390.6h1v26.07h-1zM664 390.6h2v26.07h-2zM812 390.6h1v26.07h-1zM841 390.6h1v26.07h-1zM872 390.6h1v26.07h-1zM903 390.6h1v26.07h-1zM937 390.6h1v26.07h-1zM964 390.6h2v26.07h-2zM979 390.6h1v26.07h-1zM982 390.6h1v26.07h-1zM999 390.6h1v26.07h-1zM1017 390.6h1v26.07h-1zM332 416.67h1v26.07h-1zM625 416.67h1v26.07h-1zM635 416.67h1v26.07h-1zM873 416.67h1v26.07h-1zM916 416.67h1v26.07h-1zM918 416.67h1v26.07h-1zM930 416.67h1v26.07h-1zM936 416.67h1v26.07h-1zM970 416.67h1v26.07h-1zM980 416.67h1v26.07h-1zM1005 416.67h1v26.07h-1zM570 442.75h1v26.07h-1zM794 442.75h1v26.07h-1zM862 442.75h1v26.07h-1zM903 442.75h1v26.07h-1zM933 442.75h1v26.07h-1zM954 442.75h1v26.07h-1zM981 442.75h1v26.07h-1zM990 442.75h1v26.07h-1zM995 442.75h1v26.07h-1zM484 468.82h1v26.07h-1zM514 468.82h1v26.07h-1zM541 468.82h1v26.07h-1zM559 468.82h1v26.07h-1zM576 468.82h1v26.07h-1zM614 468.82h1v26.07h-1zM616 468.82h1v26.07h-1zM619 468.82h1v26.07h-1zM622 468.82h1v26.07h-1zM871 468.82h1v26.07h-1zM892 468.82h1v26.07h-1zM930 468.82h1v26.07h-1zM940 468.82h1v26.07h-1zM944 468.82h1v26.07h-1zM954 468.82h2v26.07h-2zM961 468.82h1v26.07h-1zM554 494.9h1v26.07h-1zM583 494.9h1v26.07h-1zM586 494.9h1v26.07h-1zM591 494.9h1v26.07h-1zM608 494.9h1v26.07h-1zM628 494.9h1v26.07h-1zM725 494.9h1v26.07h-1zM950 494.9h1v26.07h-1zM961 494.9h2v26.07h-2zM978 494.9h1v26.07h-1zM987 494.9h1v26.07h-1zM541 520.97h2v26.07h-2zM592 520.97h1v26.07h-1zM606 520.97h1v26.07h-1zM626 520.97h1v26.07h-1zM668 520.97h1v26.07h-1zM916 520.97h1v26.07h-1zM938 520.97h1v26.07h-1zM946 520.97h1v26.07h-1zM948 520.97h1v26.07h-1zM960 520.97h1v26.07h-1zM969 520.97h1v26.07h-1zM424 547.05h1v26.07h-1zM432 547.05h1v26.07h-1zM485 547.05h1v26.07h-1zM493 547.05h1v26.07h-1zM515 547.05h1v26.07h-1zM517 547.05h1v26.07h-1zM565 547.05h1v26.07h-1zM568 547.05h1v26.07h-1zM600 547.05h2v26.07h-2zM626 547.05h1v26.07h-1zM654 547.05h1v26.07h-1zM917 547.05h1v26.07h-1zM964 547.05h1v26.07h-1zM988 547.05h1v26.07h-1zM528 573.12h1v26.07h-1zM597 573.12h1v26.07h-1zM616 573.12h1v26.07h-1zM630 573.12h1v26.07h-1zM632 573.12h1v26.07h-1zM898 573.12h1v26.07h-1zM998 573.12h1v26.07h-1zM1022 573.12h1v26.07h-1zM422 599.2h1v26.07h-1zM586 599.2h1v26.07h-1zM591 599.2h1v26.07h-1zM606 599.2h1v26.07h-1zM616 599.2h1v26.07h-1zM630 599.2h1v26.07h-1zM816 599.2h1v26.07h-1zM833 599.2h1v26.07h-1zM915 599.2h1v26.07h-1zM922 599.2h1v26.07h-1zM949 599.2h1v26.07h-1zM954 599.2h1v26.07h-1zM975 599.2h1v26.07h-1zM1016 599.2h1v26.07h-1zM511 625.27h1v26.07h-1zM585 625.27h1v26.07h-1zM608 625.27h1v26.07h-1zM610 625.27h2v26.07h-2zM656 625.27h1v26.07h-1zM884 625.27h1v26.07h-1zM944 625.27h1v26.07h-1zM952 625.27h1v26.07h-1zM965 625.27h1v26.07h-1zM984 625.27h1v26.07h-1zM995 625.27h1v26.07h-1zM418 651.35h1v26.07h-1zM581 651.35h1v26.07h-1zM594 651.35h1v26.07h-1zM621 651.35h1v26.07h-1zM907 651.35h1v26.07h-1zM922 651.35h1v26.07h-1zM929 651.35h1v26.07h-1zM946 651.35h1v26.07h-1zM983 651.35h1v26.07h-1zM418 677.42h1v26.07h-1zM495 677.42h1v26.07h-1zM505 677.42h1v26.07h-1zM582 677.42h1v26.07h-1zM597 677.42h1v26.07h-1zM618 677.42h1v26.07h-1zM629 677.42h1v26.07h-1zM644 677.42h1v26.07h-1zM868 677.42h1v26.07h-1zM874 677.42h1v26.07h-1zM924 677.42h1v26.07h-1zM958 677.42h1v26.07h-1zM977 677.42h1v26.07h-1zM990 677.42h1v26.07h-1z"/><path fill="#dce" d="M492 182.0h1v26.07h-1zM494 182.0h1v26.07h-1zM432 234.15h1v26.07h-1zM456 234.15h1v26.07h-1zM476 234.15h1v26.07h-1zM512 234.15h1v26.07h-1zM808 234.15h1v26.07h-1zM910 234.15h1v26.07h-1zM506 260.23h1v26.07h-1zM545 260.23h1v26.07h-1zM683 260.23h1v26.07h-1zM824 260.23h1v26.07h-1zM833 260.23h1v26.07h-1zM410 286.3h1v26.07h-1zM549 286.3h1v26.07h-1zM869 286.3h1v26.07h-1zM871 286.3h1v26.07h-1zM958 286.3h1v26.07h-1zM330 312.38h1v26.07h-1zM384 312.38h1v26.07h-1zM714 312.38h1v26.07h-1zM782 312.38h1v26.07h-1zM494 364.52h1v26.07h-1zM712 364.52h1v26.07h-1zM795 390.6h1v26.07h-1zM370 416.67h1v26.07h-1zM533 416.67h1v26.07h-1zM790 416.67h1v26.07h-1zM914 416.67h1v26.07h-1zM474 442.75h1v26.07h-1zM490 442.75h1v26.07h-1zM526 442.75h1v26.07h-1zM617 442.75h1v26.07h-1zM515 468.82h1v26.07h-1zM750 468.82h1v26.07h-1zM818 468.82h1v26.07h-1zM824 468.82h1v26.07h-1zM425 494.9h1v26.07h-1zM484 520.97h1v26.07h-1zM302 547.05h1v26.07h-1zM549 547.05h1v26.07h-1zM919 547.05h1v26.07h-1zM456 573.12h2v26.07h-2zM459 573.12h1v26.07h-1zM896 573.12h1v26.07h-1zM944 573.12h1v26.07h-1zM959 573.12h1v26.07h-1zM744 599.2h1v26.07h-1zM775 599.2h1v26.07h-1zM858 599.2h1v26.07h-1zM905 599.2h1v26.07h-1zM429 625.27h1v26.07h-1zM454 625.27h1v26.07h-1zM869 625.27h1v26.07h-1zM420 651.35h1v26.07h-1zM845 651.35h1v26.07h-1zM453 677.42h1v26.07h-1zM467 677.42h1v26.07h-1z"/><path fill="#c25" d="M496 182.0h1v26.07h-1zM526 182.0h1v26.07h-1zM425 234.15h1v26.07h-1zM430 234.15h1v26.07h-1zM457 234.15h1v26.07h-1zM494 234.15h1v26.07h-1zM851 234.15h1v26.07h-1zM866 234.15h1v26.07h-1zM536 260.23h1v26.07h-1zM610 260.23h1v26.07h-1zM953 260.23h1v26.07h-1zM530 286.3h1v26.07h-1zM784 286.3h1v26.07h-1zM853 286.3h1v26.07h-1zM365 416.67h1v26.07h-1zM606 442.75h1v26.07h-1zM721 442.75h1v26.07h-1zM978 442.75h1v26.07h-1zM455 468.82h1v26.07h-1zM525 468.82h1v26.07h-1zM800 468.82h1v26.07h-1zM461 494.9h1v26.07h-1zM532 520.97h1v26.07h-1zM543 547.05h1v26.07h-1zM804 547.05h1v26.07h-1zM495 599.2h1v26.07h-1zM610 599.2h1v26.07h-1zM791 625.27h1v26.07h-1zM898 625.27h1v26.07h-1zM853 651.35h1v26.07h-1zM889 651.35h1v26.07h-1zM548 677.42h1v26.07h-1zM972 677.42h1v26.07h-1z"/><path fill="#e9a" d="M500 182.0h1v26.07h-1zM554 182.0h1v26.07h-1zM804 182.0h1v26.07h-1zM892 182.0h1v26.07h-1zM906 182.0h1v26.07h-1zM512 208.07h1v26.07h-1zM579 208.07h1v26.07h-1zM940 208.07h1v26.07h-1zM539 234.15h1v26.07h-1zM907 234.15h1v26.07h-1zM914 234.15h1v26.07h-1zM512 260.23h1v26.07h-1zM625 260.23h1v26.07h-1zM916 260.23h1v26.07h-1zM363 286.3h1v26.07h-1zM403 286.3h1v26.07h-1zM508 286.3h1v26.07h-1zM614 286.3h1v26.07h-1zM479 312.38h1v26.07h-1zM845 312.38h1v26.07h-1zM474 338.45h1v26.07h-1zM385 364.52h1v26.07h-1zM470 364.52h1v26.07h-1zM499 364.52h1v26.07h-1zM897 364.52h1v26.07h-1zM855 390.6h1v26.07h-1zM940 390.6h1v26.07h-1zM369 416.67h1v26.07h-1zM954 416.67h1v26.07h-1zM998 442.75h1v26.07h-1zM830 468.82h1v26.07h-1zM866 468.82h1v26.07h-1zM419 494.9h1v26.07h-1zM500 494.9h1v26.07h-1zM859 494.9h1v26.07h-1zM872 494.9h1v26.07h-1zM963 494.9h1v26.07h-1zM771 520.97h1v26.07h-1zM890 520.97h1v26.07h-1zM902 520.97h1v26.07h-1zM585 547.05h1v26.07h-1zM840 547.05h1v26.07h-1zM1025 547.05h1v26.07h-1zM500 573.12h1v26.07h-1zM507 573.12h1v26.07h-1zM612 573.12h1v26.07h-1zM614 573.12h1v26.07h-1zM890 573.12h1v26.07h-1zM927 573.12h1v26.07h-1zM612 599.2h1v26.07h-1zM802 599.2h1v26.07h-1zM862 599.2h1v26.07h-1zM914 599.2h1v26.07h-1zM418 625.27h1v26.07h-1zM500 625.27h1v26.07h-1zM512 625.27h1v26.07h-1zM574 625.27h1v26.07h-1zM461 651.35h1v26.07h-1zM579 651.35h1v26.07h-1zM585 651.35h1v26.07h-1zM875 651.35h1v26.07h-1zM503 677.42h1v26.07h-1zM528 677.42h1v26.07h-1zM554 677.42h1v26.07h-1z"/><path fill="#c47" d="M506 182.0h1v26.07h-1zM928 182.0h1v26.07h-1zM722 208.07h1v26.07h-1zM968 286.3h1v26.07h-1zM439 312.38h1v26.07h-1zM775 312.38h1v26.07h-1zM830 312.38h1v26.07h-1zM863 338.45h1v26.07h-1zM589 364.52h1v26.07h-1zM968 390.6h1v26.07h-1zM387 416.67h1v26.07h-1zM531 416.67h1v26.07h-1zM995 416.67h1v26.07h-1zM847 442.75h1v26.07h-1zM913 442.75h1v26.07h-1zM928 442.75h1v26.07h-1zM968 442.75h1v26.07h-1zM611 494.9h1v26.07h-1zM968 494.9h1v26.07h-1zM482 520.97h1v26.07h-1zM784 520.97h1v26.07h-1zM803 520.97h1v26.07h-1zM359 547.05h1v26.07h-1zM622 547.05h1v26.07h-1zM401 573.12h1v26.07h-1zM591 573.12h1v26.07h-1zM946 573.12h1v26.07h-1zM523 599.2h1v26.07h-1zM1026 599.2h1v26.07h-1zM456 625.27h1v26.07h-1zM813 677.42h1v26.07h-1zM822 677.42h1v26.07h-1zM880 677.42h1v26.07h-1zM968 677.42h1v26.07h-1z"/><path fill="#b7b" d="M507 182.0h1v26.07h-1zM752 182.0h1v26.07h-1zM874 182.0h1v26.07h-1zM899 182.0h1v26.07h-1zM915 182.0h1v26.07h-1zM785 260.23h1v26.07h-1zM447 286.3h1v26.07h-1zM888 338.45h1v26.07h-1zM545 390.6h1v26.07h-1zM821 416.67h1v26.07h-1zM334 442.75h1v26.07h-1zM607 442.75h1v26.07h-1zM923 442.75h1v26.07h-1zM493 468.82h1v26.07h-1zM798 468.82h1v26.07h-1zM556 494.9h1v26.07h-1zM925 494.9h1v26.07h-1zM878 520.97h1v26.07h-1zM437 547.05h1v26.07h-1zM476 573.12h1v26.07h-1zM551 599.2h1v26.07h-1zM575 599.2h1v26.07h-1zM951 599.2h1v26.07h-1zM884 677.42h1v26.07h-1zM896 677.42h1v26.07h-1z"/><path fill="#e34" d="M508 182.0h1v26.07h-1zM998 182.0h1v26.07h-1zM882 208.07h1v26.07h-1zM846 234.15h1v26.07h-1zM925 260.23h1v26.07h-1zM414 286.3h1v26.07h-1zM583 286.3h1v26.07h-1zM811 286.3h1v26.07h-1zM891 286.3h1v26.07h-1zM945 286.3h1v26.07h-1zM619 364.52h1v26.07h-1zM817 390.6h1v26.07h-1zM889 390.6h1v26.07h-1zM960 390.6h1v26.07h-1zM492 416.67h1v26.07h-1zM884 416.67h1v26.07h-1zM898 416.67h1v26.07h-1zM925 416.67h1v26.07h-1zM985 416.67h1v26.07h-1zM470 442.75h1v26.07h-1zM523 442.75h1v26.07h-1zM572 442.75h1v26.07h-1zM590 468.82h1v26.07h-1zM904 468.82h1v26.07h-1zM931 494.9h1v26.07h-1zM918 520.97h1v26.07h-1zM1030 547.05h1v26.07h-1zM443 573.12h1v26.07h-1zM889 573.12h1v26.07h-1zM936 573.12h1v26.07h-1zM949 573.12h1v26.07h-1zM960 573.12h1v26.07h-1zM983 573.12h1v26.07h-1zM721 599.2h1v26.07h-1zM925 677.42h1v26.07h-1z"/><path fill="#e56" d="M513 182.0h1v26.07h-1zM567 260.23h1v26.07h-1zM599 286.3h1v26.07h-1zM762 286.3h1v26.07h-1zM999 286.3h1v26.07h-1zM711 312.38h1v26.07h-1zM859 312.38h1v26.07h-1zM925 312.38h2v26.07h-2zM929 312.38h1v26.07h-1zM798 338.45h1v26.07h-1zM492 390.6h1v26.07h-1zM383 416.67h1v26.07h-1zM578 416.67h1v26.07h-1zM598 416.67h1v26.07h-1zM568 442.75h1v26.07h-1zM880 442.75h1v26.07h-1zM891 442.75h1v26.07h-1zM390 468.82h1v26.07h-1zM538 494.9h1v26.07h-1zM769 547.05h1v26.07h-1zM996 547.05h1v26.07h-1zM618 573.12h1v26.07h-1zM973 573.12h1v26.07h-1zM638 599.2h1v26.07h-1zM508 625.27h1v26.07h-1zM970 651.35h1v26.07h-1zM484 677.42h1v26.07h-1zM516 677.42h1v26.07h-1zM532 677.42h1v26.07h-1z"/><path fill="#65e" d="M515 182.0h1v26.07h-1zM524 182.0h1v26.07h-1zM741 182.0h1v26.07h-1zM888 208.07h1v26.07h-1zM368 234.15h1v26.07h-1zM498 234.15h1v26.07h-1zM568 234.15h1v26.07h-1zM712 234.15h1v26.07h-1zM335 312.38h1v26.07h-1zM444 312.38h1v26.07h-1zM478 364.52h1v26.07h-1zM777 364.52h1v26.07h-1zM800 364.52h1v26.07h-1zM323 390.6h1v26.07h-1zM432 390.6h1v26.07h-1zM572 390.6h1v26.07h-1zM619 390.6h1v26.07h-1zM468 416.67h1v26.07h-1zM327 442.75h1v26.07h-1zM547 442.75h1v26.07h-1zM754 442.75h1v26.07h-1zM865 442.75h2v26.07h-2zM949 494.9h1v26.07h-1zM363 520.97h1v26.07h-1zM821 520.97h1v26.07h-1zM836 547.05h1v26.07h-1zM865 599.2h1v26.07h-1zM921 599.2h1v26.07h-1zM456 651.35h1v26.07h-1zM399 677.42h1v26.07h-1zM545 677.42h1v26.07h-1zM819 677.42h1v26.07h-1z"/><path fill="#85c" d="M518 182.0h1v26.07h-1zM532 286.3h1v26.07h-1zM576 286.3h1v26.07h-1zM898 286.3h1v26.07h-1zM979 286.3h1v26.07h-1zM378 312.38h1v26.07h-1zM770 312.38h1v26.07h-1zM452 364.52h1v26.07h-1zM640 390.6h1v26.07h-1zM384 416.67h1v26.07h-1zM444 416.67h1v26.07h-1zM452 416.67h1v26.07h-1zM822 494.9h1v26.07h-1zM910 494.9h1v26.07h-1zM407 520.97h1v26.07h-1zM512 520.97h1v26.07h-1zM516 520.97h1v26.07h-1zM880 520.97h1v26.07h-1zM729 547.05h1v26.07h-1zM940 547.05h1v26.07h-1zM776 599.2h1v26.07h-1zM935 599.2h1v26.07h-1zM523 625.27h1v26.07h-1zM538 625.27h1v26.07h-1zM378 651.35h1v26.07h-1zM739 677.42h1v26.07h-1zM978 677.42h1v26.07h-1z"/><path fill="#e01" d="M519 182.0h1v26.07h-1zM603 234.15h1v26.07h-1zM864 286.3h1v26.07h-1zM936 286.3h1v26.07h-1zM978 286.3h1v26.07h-1zM817 312.38h1v26.07h-1zM907 364.52h1v26.07h-1zM1027 364.52h1v26.07h-1zM989 390.6h1v26.07h-1zM974 416.67h1v26.07h-1zM599 442.75h1v26.07h-1zM951 468.82h1v26.07h-1zM588 547.05h1v26.07h-1zM539 625.27h1v26.07h-1z"/><path fill="#f00" d="M522 182.0h1v26.07h-1zM551 182.0h1v26.07h-1zM569 182.0h1v26.07h-1zM617 182.0h3v26.07h-3zM633 182.0h2v26.07h-2zM638 182.0h1v26.07h-1zM640 182.0h6v26.07h-6zM649 182.0h5v26.07h-5zM659 182.0h13v26.07h-13zM836 182.0h1v26.07h-1zM895 182.0h1v26.07h-1zM933 182.0h1v26.07h-1zM946 182.0h1v26.07h-1zM976 182.0h1v26.07h-1zM980 182.0h1v26.07h-1zM990 182.0h2v26.07h-2zM996 182.0h1v26.07h-1zM999 182.0h3v26.07h-3zM1004 182.0h4v26.07h-4zM1009 182.0h3v26.07h-3zM1015 182.0h1v26.07h-1zM1018 182.0h9v26.07h-9zM1028 182.0h3v26.07h-3zM444 208.07h1v26.07h-1zM487 208.07h1v26.07h-1zM545 208.07h1v26.07h-1zM551 208.07h1v26.07h-1zM557 208.07h1v26.07h-1zM564 208.07h2v26.07h-2zM578 208.07h1v26.07h-1zM610 208.07h1v26.07h-1zM615 208.07h2v26.07h-2zM630 208.07h1v26.07h-1zM633 208.07h1v26.07h-1zM635 208.07h2v26.07h-2zM640 208.07h1v26.07h-1zM642 208.07h1v26.07h-1zM645 208.07h1v26.07h-1zM647 208.07h5v26.07h-5zM654 208.07h3v26.07h-3zM659 208.07h13v26.07h-13zM856 208.07h1v26.07h-1zM925 208.07h1v26.07h-1zM933 208.07h1v26.07h-1zM943 208.07h2v26.07h-2zM955 208.07h1v26.07h-1zM964 208.07h2v26.07h-2zM968 208.07h1v26.07h-1zM970 208.07h1v26.07h-1zM972 208.07h1v26.07h-1zM981 208.07h2v26.07h-2zM1000 208.07h2v26.07h-2zM1003 208.07h1v26.07h-1zM1008 208.07h3v26.07h-3zM1013 208.07h10v26.07h-10zM1024 208.07h1v26.07h-1zM1027 208.07h4v26.07h-4zM573 234.15h1v26.07h-1zM585 234.15h1v26.07h-1zM590 234.15h1v26.07h-1zM610 234.15h1v26.07h-1zM614 234.15h1v26.07h-1zM619 234.15h1v26.07h-1zM621 234.15h3v26.07h-3zM627 234.15h1v26.07h-1zM634 234.15h1v26.07h-1zM638 234.15h2v26.07h-2zM643 234.15h4v26.07h-4zM649 234.15h1v26.07h-1zM651 234.15h1v26.07h-1zM657 234.15h15v26.07h-15zM879 234.15h1v26.07h-1zM894 234.15h1v26.07h-1zM915 234.15h1v26.07h-1zM917 234.15h1v26.07h-1zM939 234.15h3v26.07h-3zM944 234.15h1v26.07h-1zM952 234.15h1v26.07h-1zM954 234.15h1v26.07h-1zM961 234.15h2v26.07h-2zM965 234.15h3v26.07h-3zM970 234.15h1v26.07h-1zM974 234.15h1v26.07h-1zM987 234.15h4v26.07h-4zM994 234.15h1v26.07h-1zM996 234.15h1v26.07h-1zM999 234.15h2v26.07h-2zM1002 234.15h8v26.07h-8zM1015 234.15h1v26.07h-1zM1017 234.15h14v26.07h-14zM362 260.23h1v26.07h-1zM431 260.23h1v26.07h-1zM445 260.23h1v26.07h-1zM549 260.23h1v26.07h-1zM573 260.23h1v26.07h-1zM598 260.23h1v26.07h-1zM601 260.23h2v26.07h-2zM604 260.23h1v26.07h-1zM606 260.23h2v26.07h-2zM615 260.23h1v26.07h-1zM617 260.23h2v26.07h-2zM624 260.23h1v26.07h-1zM628 260.23h1v26.07h-1zM635 260.23h4v26.07h-4zM642 260.23h4v26.07h-4zM650 260.23h2v26.07h-2zM653 260.23h4v26.07h-4zM658 260.23h1v26.07h-1zM663 260.23h9v26.07h-9zM906 260.23h1v26.07h-1zM909 260.23h1v26.07h-1zM930 260.23h1v26.07h-1zM941 260.23h1v26.07h-1zM965 260.23h2v26.07h-2zM972 260.23h1v26.07h-1zM978 260.23h4v26.07h-4zM984 260.23h1v26.07h-1zM986 260.23h1v26.07h-1zM993 260.23h1v26.07h-1zM997 260.23h6v26.07h-6zM1004 260.23h10v26.07h-10zM1016 260.23h5v26.07h-5zM1025 260.23h6v26.07h-6zM493 286.3h2v26.07h-2zM577 286.3h2v26.07h-2zM586 286.3h1v26.07h-1zM607 286.3h1v26.07h-1zM629 286.3h1v26.07h-1zM637 286.3h1v26.07h-1zM644 286.3h3v26.07h-3zM648 286.3h1v26.07h-1zM654 286.3h1v26.07h-1zM660 286.3h1v26.07h-1zM662 286.3h5v26.07h-5zM668 286.3h4v26.07h-4zM883 286.3h1v26.07h-1zM942 286.3h1v26.07h-1zM970 286.3h1v26.07h-1zM1006 286.3h2v26.07h-2zM1012 286.3h2v26.07h-2zM1017 286.3h2v26.07h-2zM1020 286.3h2v26.07h-2zM1024 286.3h1v26.07h-1zM1027 286.3h4v26.07h-4zM420 312.38h1v26.07h-1zM512 312.38h1v26.07h-1zM549 312.38h1v26.07h-1zM557 312.38h1v26.07h-1zM571 312.38h1v26.07h-1zM576 312.38h1v26.07h-1zM578 312.38h1v26.07h-1zM595 312.38h2v26.07h-2zM602 312.38h1v26.07h-1zM613 312.38h1v26.07h-1zM618 312.38h1v26.07h-1zM622 312.38h3v26.07h-3zM626 312.38h2v26.07h-2zM629 312.38h1v26.07h-1zM633 312.38h4v26.07h-4zM639 312.38h7v26.07h-7zM647 312.38h1v26.07h-1zM651 312.38h4v26.07h-4zM657 312.38h2v26.07h-2zM660 312.38h7v26.07h-7zM669 312.38h3v26.07h-3zM852 312.38h1v26.07h-1zM888 312.38h1v26.07h-1zM905 312.38h1v26.07h-1zM913 312.38h1v26.07h-1zM919 312.38h2v26.07h-2zM946 312.38h1v26.07h-1zM962 312.38h1v26.07h-1zM973 312.38h3v26.07h-3zM977 312.38h2v26.07h-2zM980 312.38h1v26.07h-1zM983 312.38h1v26.07h-1zM999 312.38h2v26.07h-2zM1004 312.38h10v26.07h-10zM1015 312.38h3v26.07h-3zM1019 312.38h3v26.07h-3zM1024 312.38h5v26.07h-5zM1030 312.38h1v26.07h-1zM504 338.45h1v26.07h-1zM560 338.45h1v26.07h-1zM575 338.45h1v26.07h-1zM584 338.45h1v26.07h-1zM593 338.45h1v26.07h-1zM600 338.45h2v26.07h-2zM605 338.45h1v26.07h-1zM610 338.45h2v26.07h-2zM613 338.45h2v26.07h-2zM617 338.45h1v26.07h-1zM620 338.45h1v26.07h-1zM623 338.45h1v26.07h-1zM628 338.45h2v26.07h-2zM634 338.45h4v26.07h-4zM639 338.45h3v26.07h-3zM644 338.45h9v26.07h-9zM655 338.45h1v26.07h-1zM659 338.45h3v26.07h-3zM664 338.45h8v26.07h-8zM867 338.45h1v26.07h-1zM897 338.45h1v26.07h-1zM903 338.45h1v26.07h-1zM907 338.45h1v26.07h-1zM911 338.45h1v26.07h-1zM917 338.45h1v26.07h-1zM921 338.45h2v26.07h-2zM926 338.45h1v26.07h-1zM930 338.45h2v26.07h-2zM933 338.45h1v26.07h-1zM935 338.45h4v26.07h-4zM941 338.45h5v26.07h-5zM947 338.45h2v26.07h-2zM952 338.45h9v26.07h-9zM963 338.45h2v26.07h-2zM966 338.45h1v26.07h-1zM969 338.45h2v26.07h-2zM974 338.45h1v26.07h-1zM977 338.45h6v26.07h-6zM984 338.45h4v26.07h-4zM990 338.45h40v26.07h-40zM501 364.52h1v26.07h-1zM567 364.52h1v26.07h-1zM574 364.52h1v26.07h-1zM581 364.52h1v26.07h-1zM587 364.52h1v26.07h-1zM599 364.52h1v26.07h-1zM606 364.52h2v26.07h-2zM610 364.52h1v26.07h-1zM613 364.52h2v26.07h-2zM617 364.52h1v26.07h-1zM621 364.52h1v26.07h-1zM624 364.52h1v26.07h-1zM632 364.52h4v26.07h-4zM638 364.52h2v26.07h-2zM641 364.52h6v26.07h-6zM649 364.52h2v26.07h-2zM652 364.52h20v26.07h-20zM883 364.52h1v26.07h-1zM886 364.52h1v26.07h-1zM892 364.52h1v26.07h-1zM899 364.52h4v26.07h-4zM904 364.52h1v26.07h-1zM908 364.52h2v26.07h-2zM912 364.52h2v26.07h-2zM917 364.52h1v26.07h-1zM924 364.52h1v26.07h-1zM933 364.52h1v26.07h-1zM941 364.52h2v26.07h-2zM945 364.52h2v26.07h-2zM959 364.52h1v26.07h-1zM971 364.52h10v26.07h-10zM982 364.52h3v26.07h-3zM986 364.52h3v26.07h-3zM995 364.52h2v26.07h-2zM998 364.52h13v26.07h-13zM1013 364.52h6v26.07h-6zM1021 364.52h6v26.07h-6zM1029 364.52h2v26.07h-2zM506 390.6h1v26.07h-1zM580 390.6h1v26.07h-1zM585 390.6h1v26.07h-1zM597 390.6h2v26.07h-2zM602 390.6h1v26.07h-1zM606 390.6h1v26.07h-1zM631 390.6h1v26.07h-1zM635 390.6h3v26.07h-3zM642 390.6h5v26.07h-5zM648 390.6h1v26.07h-1zM655 390.6h4v26.07h-4zM660 390.6h4v26.07h-4zM666 390.6h3v26.07h-3zM670 390.6h2v26.07h-2zM958 390.6h1v26.07h-1zM970 390.6h3v26.07h-3zM992 390.6h1v26.07h-1zM994 390.6h4v26.07h-4zM1006 390.6h7v26.07h-7zM1015 390.6h2v26.07h-2zM1019 390.6h12v26.07h-12zM467 416.67h1v26.07h-1zM524 416.67h1v26.07h-1zM562 416.67h1v26.07h-1zM587 416.67h1v26.07h-1zM595 416.67h1v26.07h-1zM599 416.67h1v26.07h-1zM613 416.67h1v26.07h-1zM615 416.67h2v26.07h-2zM619 416.67h3v26.07h-3zM624 416.67h1v26.07h-1zM626 416.67h1v26.07h-1zM630 416.67h1v26.07h-1zM634 416.67h1v26.07h-1zM636 416.67h5v26.07h-5zM643 416.67h7v26.07h-7zM651 416.67h2v26.07h-2zM657 416.67h8v26.07h-8zM666 416.67h6v26.07h-6zM887 416.67h1v26.07h-1zM950 416.67h2v26.07h-2zM959 416.67h1v26.07h-1zM978 416.67h1v26.07h-1zM984 416.67h1v26.07h-1zM990 416.67h2v26.07h-2zM998 416.67h1v26.07h-1zM1001 416.67h1v26.07h-1zM1008 416.67h1v26.07h-1zM1012 416.67h2v26.07h-2zM1015 416.67h1v26.07h-1zM1018 416.67h11v26.07h-11zM1030 416.67h1v26.07h-1zM541 442.75h1v26.07h-1zM564 442.75h2v26.07h-2zM577 442.75h1v26.07h-1zM589 442.75h1v26.07h-1zM600 442.75h1v26.07h-1zM614 442.75h1v26.07h-1zM616 442.75h1v26.07h-1zM620 442.75h2v26.07h-2zM624 442.75h2v26.07h-2zM627 442.75h1v26.07h-1zM630 442.75h1v26.07h-1zM632 442.75h2v26.07h-2zM635 442.75h1v26.07h-1zM637 442.75h9v26.07h-9zM647 442.75h15v26.07h-15zM664 442.75h8v26.07h-8zM917 442.75h1v26.07h-1zM926 442.75h1v26.07h-1zM929 442.75h1v26.07h-1zM939 442.75h1v26.07h-1zM951 442.75h1v26.07h-1zM963 442.75h2v26.07h-2zM966 442.75h1v26.07h-1zM970 442.75h1v26.07h-1zM975 442.75h2v26.07h-2zM989 442.75h1v26.07h-1zM992 442.75h2v26.07h-2zM997 442.75h1v26.07h-1zM1001 442.75h2v26.07h-2zM1004 442.75h6v26.07h-6zM1011 442.75h12v26.07h-12zM1025 442.75h6v26.07h-6zM545 468.82h1v26.07h-1zM547 468.82h1v26.07h-1zM560 468.82h1v26.07h-1zM564 468.82h5v26.07h-5zM574 468.82h1v26.07h-1zM597 468.82h2v26.07h-2zM600 468.82h1v26.07h-1zM602 468.82h3v26.07h-3zM606 468.82h1v26.07h-1zM608 468.82h2v26.07h-2zM612 468.82h1v26.07h-1zM615 468.82h1v26.07h-1zM617 468.82h2v26.07h-2zM623 468.82h1v26.07h-1zM628 468.82h8v26.07h-8zM637 468.82h22v26.07h-22zM660 468.82h12v26.07h-12zM722 468.82h1v26.07h-1zM888 468.82h1v26.07h-1zM895 468.82h1v26.07h-1zM907 468.82h2v26.07h-2zM918 468.82h1v26.07h-1zM924 468.82h6v26.07h-6zM932 468.82h2v26.07h-2zM936 468.82h1v26.07h-1zM941 468.82h2v26.07h-2zM945 468.82h6v26.07h-6zM953 468.82h1v26.07h-1zM956 468.82h5v26.07h-5zM963 468.82h9v26.07h-9zM973 468.82h6v26.07h-6zM983 468.82h2v26.07h-2zM986 468.82h1v26.07h-1zM990 468.82h8v26.07h-8zM999 468.82h9v26.07h-9zM1009 468.82h22v26.07h-22zM506 494.9h1v26.07h-1zM596 494.9h4v26.07h-4zM609 494.9h2v26.07h-2zM613 494.9h1v26.07h-1zM616 494.9h1v26.07h-1zM619 494.9h2v26.07h-2zM630 494.9h1v26.07h-1zM633 494.9h1v26.07h-1zM636 494.9h2v26.07h-2zM641 494.9h1v26.07h-1zM644 494.9h2v26.07h-2zM647 494.9h25v26.07h-25zM913 494.9h1v26.07h-1zM923 494.9h1v26.07h-1zM936 494.9h1v26.07h-1zM939 494.9h2v26.07h-2zM946 494.9h1v26.07h-1zM951 494.9h1v26.07h-1zM957 494.9h1v26.07h-1zM967 494.9h1v26.07h-1zM970 494.9h1v26.07h-1zM972 494.9h1v26.07h-1zM979 494.9h2v26.07h-2zM983 494.9h2v26.07h-2zM986 494.9h1v26.07h-1zM988 494.9h5v26.07h-5zM995 494.9h11v26.07h-11zM1008 494.9h23v26.07h-23zM517 520.97h1v26.07h-1zM546 520.97h4v26.07h-4zM553 520.97h1v26.07h-1zM555 520.97h1v26.07h-1zM557 520.97h8v26.07h-8zM577 520.97h2v26.07h-2zM580 520.97h2v26.07h-2zM583 520.97h5v26.07h-5zM589 520.97h3v26.07h-3zM595 520.97h2v26.07h-2zM598 520.97h1v26.07h-1zM601 520.97h4v26.07h-4zM608 520.97h2v26.07h-2zM612 520.97h6v26.07h-6zM620 520.97h3v26.07h-3zM627 520.97h7v26.07h-7zM635 520.97h33v26.07h-33zM669 520.97h3v26.07h-3zM883 520.97h1v26.07h-1zM892 520.97h1v26.07h-1zM905 520.97h1v26.07h-1zM921 520.97h1v26.07h-1zM928 520.97h2v26.07h-2zM932 520.97h1v26.07h-1zM937 520.97h1v26.07h-1zM942 520.97h3v26.07h-3zM954 520.97h2v26.07h-2zM959 520.97h1v26.07h-1zM961 520.97h3v26.07h-3zM968 520.97h1v26.07h-1zM970 520.97h2v26.07h-2zM975 520.97h3v26.07h-3zM981 520.97h9v26.07h-9zM992 520.97h2v26.07h-2zM995 520.97h1v26.07h-1zM997 520.97h8v26.07h-8zM1007 520.97h24v26.07h-24zM385 547.05h1v26.07h-1zM466 547.05h1v26.07h-1zM516 547.05h1v26.07h-1zM562 547.05h1v26.07h-1zM577 547.05h1v26.07h-1zM602 547.05h1v26.07h-1zM604 547.05h1v26.07h-1zM620 547.05h2v26.07h-2zM629 547.05h2v26.07h-2zM634 547.05h2v26.07h-2zM639 547.05h2v26.07h-2zM648 547.05h1v26.07h-1zM655 547.05h2v26.07h-2zM659 547.05h2v26.07h-2zM666 547.05h2v26.07h-2zM670 547.05h2v26.07h-2zM785 547.05h1v26.07h-1zM821 547.05h1v26.07h-1zM841 547.05h1v26.07h-1zM916 547.05h1v26.07h-1zM960 547.05h1v26.07h-1zM986 547.05h1v26.07h-1zM994 547.05h1v26.07h-1zM999 547.05h1v26.07h-1zM1003 547.05h4v26.07h-4zM1009 547.05h5v26.07h-5zM1020 547.05h2v26.07h-2zM1023 547.05h2v26.07h-2zM1027 547.05h1v26.07h-1zM469 573.12h1v26.07h-1zM537 573.12h1v26.07h-1zM600 573.12h2v26.07h-2zM604 573.12h1v26.07h-1zM606 573.12h1v26.07h-1zM626 573.12h2v26.07h-2zM631 573.12h1v26.07h-1zM634 573.12h2v26.07h-2zM639 573.12h1v26.07h-1zM641 573.12h24v26.07h-24zM666 573.12h6v26.07h-6zM906 573.12h1v26.07h-1zM909 573.12h1v26.07h-1zM918 573.12h1v26.07h-1zM947 573.12h1v26.07h-1zM952 573.12h1v26.07h-1zM954 573.12h2v26.07h-2zM957 573.12h1v26.07h-1zM963 573.12h1v26.07h-1zM966 573.12h1v26.07h-1zM970 573.12h2v26.07h-2zM975 573.12h2v26.07h-2zM981 573.12h2v26.07h-2zM986 573.12h1v26.07h-1zM988 573.12h1v26.07h-1zM990 573.12h1v26.07h-1zM992 573.12h3v26.07h-3zM999 573.12h1v26.07h-1zM1004 573.12h3v26.07h-3zM1009 573.12h13v26.07h-13zM1024 573.12h2v26.07h-2zM1027 573.12h4v26.07h-4zM526 599.2h2v26.07h-2zM546 599.2h1v26.07h-1zM581 599.2h1v26.07h-1zM583 599.2h1v26.07h-1zM609 599.2h1v26.07h-1zM617 599.2h1v26.07h-1zM619 599.2h2v26.07h-2zM636 599.2h1v26.07h-1zM639 599.2h4v26.07h-4zM645 599.2h1v26.07h-1zM648 599.2h2v26.07h-2zM652 599.2h2v26.07h-2zM655 599.2h3v26.07h-3zM661 599.2h9v26.07h-9zM671 599.2h1v26.07h-1zM945 599.2h1v26.07h-1zM963 599.2h1v26.07h-1zM967 599.2h1v26.07h-1zM976 599.2h1v26.07h-1zM980 599.2h1v26.07h-1zM986 599.2h2v26.07h-2zM992 599.2h1v26.07h-1zM994 599.2h3v26.07h-3zM1001 599.2h2v26.07h-2zM1008 599.2h2v26.07h-2zM1011 599.2h3v26.07h-3zM1015 599.2h1v26.07h-1zM1017 599.2h9v26.07h-9zM1028 599.2h3v26.07h-3zM466 625.27h1v26.07h-1zM526 625.27h1v26.07h-1zM573 625.27h1v26.07h-1zM595 625.27h2v26.07h-2zM618 625.27h1v26.07h-1zM620 625.27h2v26.07h-2zM628 625.27h2v26.07h-2zM631 625.27h1v26.07h-1zM636 625.27h7v26.07h-7zM644 625.27h7v26.07h-7zM653 625.27h3v26.07h-3zM657 625.27h15v26.07h-15zM900 625.27h1v26.07h-1zM919 625.27h3v26.07h-3zM935 625.27h1v26.07h-1zM946 625.27h1v26.07h-1zM950 625.27h2v26.07h-2zM960 625.27h1v26.07h-1zM963 625.27h1v26.07h-1zM968 625.27h4v26.07h-4zM973 625.27h1v26.07h-1zM975 625.27h2v26.07h-2zM979 625.27h1v26.07h-1zM983 625.27h1v26.07h-1zM986 625.27h4v26.07h-4zM991 625.27h3v26.07h-3zM996 625.27h35v26.07h-35zM542 651.35h1v26.07h-1zM553 651.35h1v26.07h-1zM564 651.35h2v26.07h-2zM572 651.35h1v26.07h-1zM582 651.35h3v26.07h-3zM591 651.35h1v26.07h-1zM597 651.35h1v26.07h-1zM610 651.35h1v26.07h-1zM613 651.35h1v26.07h-1zM617 651.35h1v26.07h-1zM622 651.35h3v26.07h-3zM627 651.35h5v26.07h-5zM633 651.35h1v26.07h-1zM635 651.35h1v26.07h-1zM637 651.35h6v26.07h-6zM644 651.35h9v26.07h-9zM655 651.35h5v26.07h-5zM662 651.35h10v26.07h-10zM892 651.35h3v26.07h-3zM899 651.35h1v26.07h-1zM911 651.35h1v26.07h-1zM914 651.35h1v26.07h-1zM920 651.35h2v26.07h-2zM925 651.35h1v26.07h-1zM932 651.35h2v26.07h-2zM936 651.35h4v26.07h-4zM951 651.35h1v26.07h-1zM954 651.35h2v26.07h-2zM958 651.35h2v26.07h-2zM961 651.35h4v26.07h-4zM966 651.35h1v26.07h-1zM969 651.35h1v26.07h-1zM972 651.35h8v26.07h-8zM984 651.35h8v26.07h-8zM994 651.35h14v26.07h-14zM1009 651.35h22v26.07h-22zM562 677.42h1v26.07h-1zM566 677.42h1v26.07h-1zM573 677.42h2v26.07h-2zM589 677.42h1v26.07h-1zM593 677.42h2v26.07h-2zM600 677.42h1v26.07h-1zM602 677.42h1v26.07h-1zM608 677.42h1v26.07h-1zM624 677.42h1v26.07h-1zM630 677.42h3v26.07h-3zM634 677.42h3v26.07h-3zM642 677.42h2v26.07h-2zM647 677.42h1v26.07h-1zM649 677.42h1v26.07h-1zM651 677.42h9v26.07h-9zM663 677.42h4v26.07h-4zM668 677.42h4v26.07h-4zM883 677.42h1v26.07h-1zM921 677.42h1v26.07h-1zM937 677.42h1v26.07h-1zM946 677.42h1v26.07h-1zM951 677.42h1v26.07h-1zM955 677.42h2v26.07h-2zM974 677.42h3v26.07h-3zM982 677.42h2v26.07h-2zM987 677.42h1v26.07h-1zM991 677.42h1v26.07h-1zM995 677.42h8v26.07h-8zM1006 677.42h6v26.07h-6zM1014 677.42h11v26.07h-11zM1027 677.42h4v26.07h-4z"/><path fill="#96b" d="M523 182.0h1v26.07h-1zM907 547.05h1v26.07h-1zM918 599.2h1v26.07h-1z"/><path fill="#f44" d="M525 182.0h1v26.07h-1zM599 182.0h1v26.07h-1zM623 182.0h1v26.07h-1zM629 182.0h1v26.07h-1zM937 182.0h1v26.07h-1zM958 182.0h1v26.07h-1zM964 182.0h1v26.07h-1zM972 182.0h2v26.07h-2zM975 182.0h1v26.07h-1zM977 182.0h1v26.07h-1zM1002 182.0h1v26.07h-1zM499 208.07h1v26.07h-1zM540 208.07h1v26.07h-1zM552 208.07h1v26.07h-1zM573 208.07h1v26.07h-1zM583 208.07h1v26.07h-1zM607 208.07h1v26.07h-1zM609 208.07h1v26.07h-1zM614 208.07h1v26.07h-1zM617 208.07h1v26.07h-1zM627 208.07h1v26.07h-1zM644 208.07h1v26.07h-1zM806 208.07h1v26.07h-1zM827 208.07h1v26.07h-1zM915 208.07h2v26.07h-2zM921 208.07h1v26.07h-1zM935 208.07h1v26.07h-1zM947 208.07h1v26.07h-1zM977 208.07h1v26.07h-1zM989 208.07h1v26.07h-1zM991 208.07h2v26.07h-2zM996 208.07h1v26.07h-1zM1012 208.07h1v26.07h-1zM484 234.15h1v26.07h-1zM487 234.15h1v26.07h-1zM521 234.15h1v26.07h-1zM564 234.15h1v26.07h-1zM575 234.15h1v26.07h-1zM578 234.15h1v26.07h-1zM583 234.15h1v26.07h-1zM589 234.15h1v26.07h-1zM591 234.15h1v26.07h-1zM615 234.15h2v26.07h-2zM654 234.15h1v26.07h-1zM856 234.15h1v26.07h-1zM862 234.15h1v26.07h-1zM884 234.15h2v26.07h-2zM900 234.15h1v26.07h-1zM920 234.15h1v26.07h-1zM924 234.15h2v26.07h-2zM960 234.15h1v26.07h-1zM992 234.15h1v26.07h-1zM580 260.23h1v26.07h-1zM612 260.23h2v26.07h-2zM622 260.23h1v26.07h-1zM649 260.23h1v26.07h-1zM790 260.23h1v26.07h-1zM820 260.23h1v26.07h-1zM831 260.23h1v26.07h-1zM849 260.23h1v26.07h-1zM973 260.23h2v26.07h-2zM542 286.3h1v26.07h-1zM551 286.3h1v26.07h-1zM562 286.3h1v26.07h-1zM655 286.3h1v26.07h-1zM680 286.3h1v26.07h-1zM758 286.3h1v26.07h-1zM766 286.3h1v26.07h-1zM819 286.3h1v26.07h-1zM826 286.3h1v26.07h-1zM859 286.3h1v26.07h-1zM938 286.3h1v26.07h-1zM993 286.3h1v26.07h-1zM447 312.38h1v26.07h-1zM523 312.38h1v26.07h-1zM530 312.38h1v26.07h-1zM537 312.38h1v26.07h-1zM554 312.38h2v26.07h-2zM559 312.38h2v26.07h-2zM564 312.38h1v26.07h-1zM586 312.38h1v26.07h-1zM597 312.38h1v26.07h-1zM638 312.38h1v26.07h-1zM668 312.38h1v26.07h-1zM879 312.38h1v26.07h-1zM899 312.38h1v26.07h-1zM914 312.38h1v26.07h-1zM952 312.38h1v26.07h-1zM984 312.38h1v26.07h-1zM989 312.38h1v26.07h-1zM995 312.38h1v26.07h-1zM1002 312.38h1v26.07h-1zM544 338.45h3v26.07h-3zM579 338.45h1v26.07h-1zM585 338.45h1v26.07h-1zM592 338.45h1v26.07h-1zM626 338.45h1v26.07h-1zM662 338.45h1v26.07h-1zM877 338.45h1v26.07h-1zM893 338.45h1v26.07h-1zM912 338.45h1v26.07h-1zM915 338.45h1v26.07h-1zM975 338.45h1v26.07h-1zM988 338.45h1v26.07h-1zM544 364.52h1v26.07h-1zM560 364.52h1v26.07h-1zM569 364.52h1v26.07h-1zM592 364.52h1v26.07h-1zM600 364.52h1v26.07h-1zM609 364.52h1v26.07h-1zM618 364.52h1v26.07h-1zM622 364.52h1v26.07h-1zM848 364.52h1v26.07h-1zM882 364.52h1v26.07h-1zM916 364.52h1v26.07h-1zM919 364.52h1v26.07h-1zM967 364.52h1v26.07h-1zM463 390.6h1v26.07h-1zM654 390.6h1v26.07h-1zM837 390.6h1v26.07h-1zM983 390.6h1v26.07h-1zM987 390.6h1v26.07h-1zM1001 390.6h1v26.07h-1zM456 416.67h1v26.07h-1zM529 416.67h1v26.07h-1zM585 416.67h1v26.07h-1zM622 416.67h1v26.07h-1zM627 416.67h2v26.07h-2zM655 416.67h1v26.07h-1zM763 416.67h1v26.07h-1zM941 416.67h1v26.07h-1zM953 416.67h1v26.07h-1zM963 416.67h1v26.07h-1zM967 416.67h1v26.07h-1zM979 416.67h1v26.07h-1zM999 416.67h2v26.07h-2zM545 442.75h1v26.07h-1zM561 442.75h1v26.07h-1zM582 442.75h1v26.07h-1zM593 442.75h1v26.07h-1zM595 442.75h1v26.07h-1zM609 442.75h1v26.07h-1zM611 442.75h1v26.07h-1zM873 442.75h1v26.07h-1zM907 442.75h1v26.07h-1zM980 442.75h1v26.07h-1zM982 442.75h1v26.07h-1zM495 468.82h1v26.07h-1zM513 468.82h1v26.07h-1zM531 468.82h1v26.07h-1zM549 468.82h1v26.07h-1zM562 468.82h1v26.07h-1zM593 468.82h1v26.07h-1zM613 468.82h1v26.07h-1zM863 468.82h1v26.07h-1zM870 468.82h1v26.07h-1zM457 494.9h1v26.07h-1zM490 494.9h1v26.07h-1zM533 494.9h1v26.07h-1zM572 494.9h1v26.07h-1zM629 494.9h1v26.07h-1zM642 494.9h1v26.07h-1zM829 494.9h1v26.07h-1zM843 494.9h1v26.07h-1zM876 494.9h1v26.07h-1zM889 494.9h1v26.07h-1zM893 494.9h1v26.07h-1zM938 494.9h1v26.07h-1zM942 494.9h1v26.07h-1zM945 494.9h1v26.07h-1zM975 494.9h1v26.07h-1zM993 494.9h1v26.07h-1zM459 520.97h1v26.07h-1zM526 520.97h1v26.07h-1zM551 520.97h2v26.07h-2zM594 520.97h1v26.07h-1zM607 520.97h1v26.07h-1zM886 520.97h1v26.07h-1zM904 520.97h1v26.07h-1zM906 520.97h2v26.07h-2zM935 520.97h1v26.07h-1zM433 547.05h1v26.07h-1zM490 547.05h1v26.07h-1zM506 547.05h1v26.07h-1zM514 547.05h1v26.07h-1zM546 547.05h2v26.07h-2zM564 547.05h1v26.07h-1zM649 547.05h1v26.07h-1zM788 547.05h1v26.07h-1zM868 547.05h1v26.07h-1zM915 547.05h1v26.07h-1zM973 547.05h1v26.07h-1zM1029 547.05h1v26.07h-1zM492 573.12h1v26.07h-1zM494 573.12h1v26.07h-1zM572 573.12h1v26.07h-1zM576 573.12h1v26.07h-1zM615 573.12h1v26.07h-1zM873 573.12h1v26.07h-1zM902 573.12h1v26.07h-1zM904 573.12h1v26.07h-1zM515 599.2h1v26.07h-1zM517 599.2h1v26.07h-1zM549 599.2h1v26.07h-1zM607 599.2h1v26.07h-1zM828 599.2h1v26.07h-1zM900 599.2h1v26.07h-1zM934 599.2h1v26.07h-1zM955 599.2h1v26.07h-1zM965 599.2h1v26.07h-1zM1010 599.2h1v26.07h-1zM430 625.27h1v26.07h-1zM464 625.27h1v26.07h-1zM566 625.27h2v26.07h-2zM578 625.27h1v26.07h-1zM584 625.27h1v26.07h-1zM624 625.27h1v26.07h-1zM635 625.27h1v26.07h-1zM925 625.27h1v26.07h-1zM948 625.27h1v26.07h-1zM525 651.35h1v26.07h-1zM527 651.35h1v26.07h-1zM573 651.35h1v26.07h-1zM577 651.35h1v26.07h-1zM587 651.35h1v26.07h-1zM598 651.35h1v26.07h-1zM612 651.35h1v26.07h-1zM618 651.35h1v26.07h-1zM858 651.35h1v26.07h-1zM865 651.35h1v26.07h-1zM884 651.35h1v26.07h-1zM934 651.35h2v26.07h-2zM434 677.42h1v26.07h-1zM521 677.42h1v26.07h-1zM598 677.42h1v26.07h-1zM625 677.42h1v26.07h-1zM857 677.42h1v26.07h-1zM941 677.42h1v26.07h-1zM964 677.42h2v26.07h-2zM992 677.42h1v26.07h-1z"/><path fill="#e99" d="M528 182.0h1v26.07h-1zM441 234.15h1v26.07h-1zM1000 286.3h1v26.07h-1zM812 416.67h1v26.07h-1zM512 573.12h1v26.07h-1zM908 677.42h1v26.07h-1z"/><path fill="#ecc" d="M531 182.0h1v26.07h-1zM581 182.0h1v26.07h-1zM379 286.3h1v26.07h-1zM568 338.45h1v26.07h-1zM852 416.67h1v26.07h-1zM814 573.12h1v26.07h-1zM480 625.27h1v26.07h-1zM540 677.42h1v26.07h-1z"/><path fill="#96c" d="M536 182.0h1v26.07h-1zM565 182.0h1v26.07h-1zM588 182.0h1v26.07h-1zM870 182.0h1v26.07h-1zM516 208.07h1v26.07h-1zM754 208.07h1v26.07h-1zM474 286.3h1v26.07h-1zM814 286.3h1v26.07h-1zM518 312.38h1v26.07h-1zM418 390.6h1v26.07h-1zM499 390.6h1v26.07h-1zM760 390.6h1v26.07h-1zM873 390.6h1v26.07h-1zM888 390.6h1v26.07h-1zM487 416.67h1v26.07h-1zM899 468.82h1v26.07h-1zM913 468.82h1v26.07h-1zM875 494.9h1v26.07h-1zM347 520.97h1v26.07h-1zM484 547.05h1v26.07h-1zM701 547.05h1v26.07h-1zM727 547.05h1v26.07h-1zM930 547.05h1v26.07h-1zM971 547.05h1v26.07h-1zM529 573.12h1v26.07h-1zM859 573.12h1v26.07h-1zM545 599.2h1v26.07h-1zM672 599.2h1v26.07h-1zM554 625.27h1v26.07h-1zM754 625.27h1v26.07h-1zM384 651.35h1v26.07h-1zM870 651.35h1v26.07h-1z"/><path fill="#51b" d="M539 182.0h1v26.07h-1zM557 182.0h1v26.07h-1zM730 182.0h1v26.07h-1zM559 208.07h1v26.07h-1zM643 208.07h1v26.07h-1zM815 208.07h1v26.07h-1zM847 208.07h2v26.07h-2zM450 234.15h1v26.07h-1zM461 260.23h1v26.07h-1zM735 260.23h1v26.07h-1zM855 260.23h1v26.07h-1zM741 286.3h1v26.07h-1zM931 286.3h1v26.07h-1zM395 364.52h2v26.07h-2zM406 442.75h1v26.07h-1zM466 468.82h1v26.07h-1zM864 494.9h1v26.07h-1zM441 520.97h1v26.07h-1zM586 547.05h1v26.07h-1zM864 547.05h1v26.07h-1zM878 547.05h1v26.07h-1zM466 573.12h1v26.07h-1zM907 599.2h1v26.07h-1zM694 625.27h1v26.07h-1zM368 651.35h1v26.07h-1zM488 677.42h1v26.07h-1zM839 677.42h1v26.07h-1zM866 677.42h1v26.07h-1z"/><path fill="#f11" d="M540 182.0h1v26.07h-1zM552 182.0h1v26.07h-1zM567 182.0h1v26.07h-1zM597 182.0h1v26.07h-1zM600 182.0h1v26.07h-1zM626 182.0h1v26.07h-1zM646 182.0h1v26.07h-1zM648 182.0h1v26.07h-1zM654 182.0h3v26.07h-3zM816 182.0h1v26.07h-1zM879 182.0h1v26.07h-1zM897 182.0h1v26.07h-1zM905 182.0h1v26.07h-1zM910 182.0h1v26.07h-1zM936 182.0h1v26.07h-1zM940 182.0h1v26.07h-1zM947 182.0h1v26.07h-1zM949 182.0h1v26.07h-1zM951 182.0h1v26.07h-1zM982 182.0h1v26.07h-1zM989 182.0h1v26.07h-1zM1008 182.0h1v26.07h-1zM1016 182.0h1v26.07h-1zM1027 182.0h1v26.07h-1zM518 208.07h1v26.07h-1zM558 208.07h1v26.07h-1zM598 208.07h1v26.07h-1zM601 208.07h1v26.07h-1zM632 208.07h1v26.07h-1zM637 208.07h1v26.07h-1zM639 208.07h1v26.07h-1zM652 208.07h1v26.07h-1zM658 208.07h1v26.07h-1zM957 208.07h1v26.07h-1zM973 208.07h1v26.07h-1zM986 208.07h1v26.07h-1zM990 208.07h1v26.07h-1zM1025 208.07h1v26.07h-1zM449 234.15h1v26.07h-1zM462 234.15h1v26.07h-1zM483 234.15h1v26.07h-1zM572 234.15h1v26.07h-1zM594 234.15h1v26.07h-1zM611 234.15h1v26.07h-1zM620 234.15h1v26.07h-1zM642 234.15h1v26.07h-1zM647 234.15h1v26.07h-1zM655 234.15h2v26.07h-2zM878 234.15h1v26.07h-1zM922 234.15h2v26.07h-2zM943 234.15h1v26.07h-1zM953 234.15h1v26.07h-1zM973 234.15h1v26.07h-1zM991 234.15h1v26.07h-1zM995 234.15h1v26.07h-1zM998 234.15h1v26.07h-1zM1001 234.15h1v26.07h-1zM1010 234.15h1v26.07h-1zM1012 234.15h2v26.07h-2zM1016 234.15h1v26.07h-1zM475 260.23h1v26.07h-1zM616 260.23h1v26.07h-1zM621 260.23h1v26.07h-1zM623 260.23h1v26.07h-1zM627 260.23h1v26.07h-1zM629 260.23h2v26.07h-2zM641 260.23h1v26.07h-1zM646 260.23h1v26.07h-1zM659 260.23h1v26.07h-1zM854 260.23h1v26.07h-1zM938 260.23h1v26.07h-1zM963 260.23h2v26.07h-2zM996 260.23h1v26.07h-1zM497 286.3h2v26.07h-2zM552 286.3h1v26.07h-1zM565 286.3h1v26.07h-1zM610 286.3h1v26.07h-1zM627 286.3h1v26.07h-1zM632 286.3h1v26.07h-1zM652 286.3h1v26.07h-1zM659 286.3h1v26.07h-1zM667 286.3h1v26.07h-1zM740 286.3h1v26.07h-1zM840 286.3h1v26.07h-1zM973 286.3h1v26.07h-1zM986 286.3h2v26.07h-2zM991 286.3h1v26.07h-1zM1001 286.3h2v26.07h-2zM1008 286.3h4v26.07h-4zM1014 286.3h1v26.07h-1zM1019 286.3h1v26.07h-1zM1023 286.3h1v26.07h-1zM1025 286.3h1v26.07h-1zM496 312.38h1v26.07h-1zM510 312.38h1v26.07h-1zM542 312.38h1v26.07h-1zM553 312.38h1v26.07h-1zM558 312.38h1v26.07h-1zM575 312.38h1v26.07h-1zM604 312.38h1v26.07h-1zM621 312.38h1v26.07h-1zM650 312.38h1v26.07h-1zM655 312.38h2v26.07h-2zM659 312.38h1v26.07h-1zM849 312.38h1v26.07h-1zM867 312.38h1v26.07h-1zM945 312.38h1v26.07h-1zM955 312.38h1v26.07h-1zM979 312.38h1v26.07h-1zM990 312.38h3v26.07h-3zM1018 312.38h1v26.07h-1zM1023 312.38h1v26.07h-1zM1029 312.38h1v26.07h-1zM559 338.45h1v26.07h-1zM570 338.45h1v26.07h-1zM577 338.45h1v26.07h-1zM582 338.45h1v26.07h-1zM604 338.45h1v26.07h-1zM609 338.45h1v26.07h-1zM619 338.45h1v26.07h-1zM621 338.45h1v26.07h-1zM625 338.45h1v26.07h-1zM627 338.45h1v26.07h-1zM633 338.45h1v26.07h-1zM653 338.45h2v26.07h-2zM881 338.45h1v26.07h-1zM918 338.45h1v26.07h-1zM920 338.45h1v26.07h-1zM932 338.45h1v26.07h-1zM946 338.45h1v26.07h-1zM961 338.45h2v26.07h-2zM965 338.45h1v26.07h-1zM971 338.45h1v26.07h-1zM976 338.45h1v26.07h-1zM500 364.52h1v26.07h-1zM555 364.52h1v26.07h-1zM559 364.52h1v26.07h-1zM584 364.52h1v26.07h-1zM594 364.52h1v26.07h-1zM598 364.52h1v26.07h-1zM628 364.52h3v26.07h-3zM640 364.52h1v26.07h-1zM648 364.52h1v26.07h-1zM651 364.52h1v26.07h-1zM879 364.52h1v26.07h-1zM898 364.52h1v26.07h-1zM934 364.52h1v26.07h-1zM936 364.52h1v26.07h-1zM947 364.52h1v26.07h-1zM949 364.52h1v26.07h-1zM969 364.52h1v26.07h-1zM992 364.52h1v26.07h-1zM994 364.52h1v26.07h-1zM997 364.52h1v26.07h-1zM1012 364.52h1v26.07h-1zM1019 364.52h2v26.07h-2zM595 390.6h1v26.07h-1zM603 390.6h1v26.07h-1zM627 390.6h1v26.07h-1zM647 390.6h1v26.07h-1zM649 390.6h1v26.07h-1zM652 390.6h1v26.07h-1zM669 390.6h1v26.07h-1zM898 390.6h1v26.07h-1zM963 390.6h1v26.07h-1zM991 390.6h1v26.07h-1zM993 390.6h1v26.07h-1zM1003 390.6h1v26.07h-1zM525 416.67h1v26.07h-1zM594 416.67h1v26.07h-1zM600 416.67h1v26.07h-1zM602 416.67h1v26.07h-1zM605 416.67h1v26.07h-1zM612 416.67h1v26.07h-1zM631 416.67h2v26.07h-2zM641 416.67h1v26.07h-1zM665 416.67h1v26.07h-1zM875 416.67h1v26.07h-1zM894 416.67h1v26.07h-1zM935 416.67h1v26.07h-1zM983 416.67h1v26.07h-1zM992 416.67h2v26.07h-2zM996 416.67h1v26.07h-1zM1003 416.67h1v26.07h-1zM1007 416.67h1v26.07h-1zM1009 416.67h1v26.07h-1zM586 442.75h1v26.07h-1zM613 442.75h1v26.07h-1zM626 442.75h1v26.07h-1zM629 442.75h1v26.07h-1zM631 442.75h1v26.07h-1zM634 442.75h1v26.07h-1zM663 442.75h1v26.07h-1zM925 442.75h1v26.07h-1zM938 442.75h1v26.07h-1zM946 442.75h1v26.07h-1zM949 442.75h1v26.07h-1zM987 442.75h1v26.07h-1zM517 468.82h1v26.07h-1zM556 468.82h1v26.07h-1zM584 468.82h2v26.07h-2zM621 468.82h1v26.07h-1zM912 468.82h1v26.07h-1zM917 468.82h1v26.07h-1zM919 468.82h1v26.07h-1zM979 468.82h2v26.07h-2zM982 468.82h1v26.07h-1zM998 468.82h1v26.07h-1zM1008 468.82h1v26.07h-1zM513 494.9h1v26.07h-1zM516 494.9h1v26.07h-1zM563 494.9h1v26.07h-1zM570 494.9h1v26.07h-1zM573 494.9h1v26.07h-1zM585 494.9h1v26.07h-1zM588 494.9h1v26.07h-1zM592 494.9h2v26.07h-2zM602 494.9h1v26.07h-1zM614 494.9h1v26.07h-1zM625 494.9h2v26.07h-2zM860 494.9h1v26.07h-1zM894 494.9h1v26.07h-1zM902 494.9h1v26.07h-1zM904 494.9h1v26.07h-1zM974 494.9h1v26.07h-1zM994 494.9h1v26.07h-1zM1007 494.9h1v26.07h-1zM507 520.97h1v26.07h-1zM530 520.97h1v26.07h-1zM534 520.97h1v26.07h-1zM571 520.97h1v26.07h-1zM582 520.97h1v26.07h-1zM597 520.97h1v26.07h-1zM605 520.97h1v26.07h-1zM619 520.97h1v26.07h-1zM623 520.97h1v26.07h-1zM625 520.97h1v26.07h-1zM634 520.97h1v26.07h-1zM876 520.97h1v26.07h-1zM915 520.97h1v26.07h-1zM922 520.97h1v26.07h-1zM947 520.97h1v26.07h-1zM953 520.97h1v26.07h-1zM956 520.97h1v26.07h-1zM972 520.97h1v26.07h-1zM991 520.97h1v26.07h-1zM996 520.97h1v26.07h-1zM530 547.05h1v26.07h-1zM551 547.05h1v26.07h-1zM611 547.05h2v26.07h-2zM628 547.05h1v26.07h-1zM633 547.05h1v26.07h-1zM650 547.05h1v26.07h-1zM657 547.05h2v26.07h-2zM663 547.05h1v26.07h-1zM665 547.05h1v26.07h-1zM854 547.05h1v26.07h-1zM863 547.05h1v26.07h-1zM886 547.05h1v26.07h-1zM888 547.05h1v26.07h-1zM939 547.05h1v26.07h-1zM947 547.05h1v26.07h-1zM983 547.05h1v26.07h-1zM985 547.05h1v26.07h-1zM1001 547.05h2v26.07h-2zM1007 547.05h1v26.07h-1zM1022 547.05h1v26.07h-1zM1026 547.05h1v26.07h-1zM548 573.12h2v26.07h-2zM557 573.12h1v26.07h-1zM575 573.12h1v26.07h-1zM596 573.12h1v26.07h-1zM603 573.12h1v26.07h-1zM610 573.12h1v26.07h-1zM620 573.12h1v26.07h-1zM640 573.12h1v26.07h-1zM893 573.12h1v26.07h-1zM968 573.12h1v26.07h-1zM979 573.12h1v26.07h-1zM996 573.12h1v26.07h-1zM1001 573.12h1v26.07h-1zM1007 573.12h1v26.07h-1zM1023 573.12h1v26.07h-1zM1026 573.12h1v26.07h-1zM513 599.2h1v26.07h-1zM582 599.2h1v26.07h-1zM584 599.2h1v26.07h-1zM589 599.2h1v26.07h-1zM635 599.2h1v26.07h-1zM643 599.2h1v26.07h-1zM651 599.2h1v26.07h-1zM658 599.2h1v26.07h-1zM875 599.2h1v26.07h-1zM919 599.2h1v26.07h-1zM933 599.2h1v26.07h-1zM972 599.2h1v26.07h-1zM977 599.2h1v26.07h-1zM983 599.2h1v26.07h-1zM990 599.2h2v26.07h-2zM997 599.2h1v26.07h-1zM999 599.2h2v26.07h-2zM1005 599.2h1v26.07h-1zM423 625.27h1v26.07h-1zM525 625.27h1v26.07h-1zM564 625.27h1v26.07h-1zM582 625.27h1v26.07h-1zM586 625.27h1v26.07h-1zM588 625.27h2v26.07h-2zM591 625.27h1v26.07h-1zM600 625.27h1v26.07h-1zM602 625.27h2v26.07h-2zM606 625.27h1v26.07h-1zM614 625.27h1v26.07h-1zM938 625.27h1v26.07h-1zM941 625.27h2v26.07h-2zM945 625.27h1v26.07h-1zM954 625.27h1v26.07h-1zM956 625.27h2v26.07h-2zM961 625.27h2v26.07h-2zM964 625.27h1v26.07h-1zM981 625.27h2v26.07h-2zM994 625.27h1v26.07h-1zM561 651.35h1v26.07h-1zM575 651.35h2v26.07h-2zM592 651.35h1v26.07h-1zM600 651.35h1v26.07h-1zM643 651.35h1v26.07h-1zM653 651.35h2v26.07h-2zM661 651.35h1v26.07h-1zM912 651.35h1v26.07h-1zM919 651.35h1v26.07h-1zM926 651.35h2v26.07h-2zM945 651.35h1v26.07h-1zM956 651.35h1v26.07h-1zM965 651.35h1v26.07h-1zM967 651.35h1v26.07h-1zM497 677.42h1v26.07h-1zM535 677.42h1v26.07h-1zM581 677.42h1v26.07h-1zM588 677.42h1v26.07h-1zM605 677.42h1v26.07h-1zM623 677.42h1v26.07h-1zM627 677.42h1v26.07h-1zM633 677.42h1v26.07h-1zM641 677.42h1v26.07h-1zM650 677.42h1v26.07h-1zM662 677.42h1v26.07h-1zM901 677.42h1v26.07h-1zM927 677.42h1v26.07h-1zM932 677.42h1v26.07h-1zM934 677.42h1v26.07h-1zM939 677.42h1v26.07h-1zM947 677.42h1v26.07h-1zM950 677.42h1v26.07h-1zM984 677.42h1v26.07h-1zM994 677.42h1v26.07h-1zM1003 677.42h1v26.07h-1zM1005 677.42h1v26.07h-1zM1013 677.42h1v26.07h-1z"/><path fill="#d9c" d="M541 182.0h1v26.07h-1zM831 182.0h1v26.07h-1zM931 182.0h1v26.07h-1zM419 234.15h1v26.07h-1zM525 234.15h1v26.07h-1zM570 286.3h1v26.07h-1zM742 312.38h1v26.07h-1zM802 312.38h1v26.07h-1zM810 338.45h1v26.07h-1zM896 390.6h1v26.07h-1zM455 416.67h1v26.07h-1zM415 442.75h1v26.07h-1zM557 442.75h1v26.07h-1zM559 442.75h1v26.07h-1zM446 468.82h1v26.07h-1zM846 494.9h1v26.07h-1zM847 520.97h1v26.07h-1zM356 599.2h1v26.07h-1zM623 625.27h1v26.07h-1zM918 625.27h1v26.07h-1z"/><path fill="#cbe" d="M543 182.0h1v26.07h-1zM352 208.07h1v26.07h-1zM459 208.07h1v26.07h-1zM612 208.07h1v26.07h-1zM481 234.15h1v26.07h-1zM537 234.15h1v26.07h-1zM549 234.15h1v26.07h-1zM711 234.15h1v26.07h-1zM775 234.15h1v26.07h-1zM806 234.15h1v26.07h-1zM815 260.23h1v26.07h-1zM412 286.3h1v26.07h-1zM515 286.3h1v26.07h-1zM553 286.3h1v26.07h-1zM907 286.3h1v26.07h-1zM310 312.38h1v26.07h-1zM465 312.38h1v26.07h-1zM811 312.38h1v26.07h-1zM837 312.38h1v26.07h-1zM971 312.38h1v26.07h-1zM516 338.45h1v26.07h-1zM538 338.45h1v26.07h-1zM374 364.52h1v26.07h-1zM450 364.52h1v26.07h-1zM836 364.52h1v26.07h-1zM370 390.6h1v26.07h-1zM465 390.6h1v26.07h-1zM510 390.6h1v26.07h-1zM592 390.6h1v26.07h-1zM620 390.6h1v26.07h-1zM770 390.6h1v26.07h-1zM897 390.6h1v26.07h-1zM954 390.6h1v26.07h-1zM350 416.67h1v26.07h-1zM791 416.67h1v26.07h-1zM910 416.67h1v26.07h-1zM426 442.75h1v26.07h-1zM969 442.75h1v26.07h-1zM534 494.9h1v26.07h-1zM882 494.9h2v26.07h-2zM786 520.97h1v26.07h-1zM823 520.97h1v26.07h-1zM858 520.97h1v26.07h-1zM371 547.05h1v26.07h-1zM720 599.2h1v26.07h-1zM989 599.2h1v26.07h-1zM358 651.35h1v26.07h-1zM498 651.35h1v26.07h-1zM469 677.42h1v26.07h-1zM895 677.42h1v26.07h-1z"/><path fill="#cae" d="M548 182.0h1v26.07h-1zM485 312.38h1v26.07h-1zM599 312.38h1v26.07h-1zM721 312.38h1v26.07h-1zM563 390.6h1v26.07h-1zM848 494.9h1v26.07h-1zM846 520.97h1v26.07h-1zM719 677.42h1v26.07h-1z"/><path fill="#95b" d="M549 182.0h1v26.07h-1zM867 208.07h1v26.07h-1zM398 234.15h1v26.07h-1zM448 234.15h1v26.07h-1zM698 234.15h1v26.07h-1zM320 260.23h1v26.07h-1zM424 286.3h1v26.07h-1zM884 286.3h1v26.07h-1zM932 286.3h1v26.07h-1zM353 312.38h1v26.07h-1zM524 312.38h1v26.07h-1zM796 312.38h1v26.07h-1zM769 338.45h1v26.07h-1zM778 338.45h1v26.07h-1zM852 338.45h1v26.07h-1zM884 364.52h1v26.07h-1zM557 390.6h1v26.07h-1zM716 390.6h1v26.07h-1zM429 442.75h1v26.07h-1zM414 468.82h1v26.07h-1zM509 468.82h1v26.07h-1zM776 468.82h1v26.07h-1zM478 494.9h1v26.07h-1zM812 494.9h1v26.07h-1zM852 494.9h1v26.07h-1zM342 520.97h1v26.07h-1zM957 520.97h1v26.07h-1zM473 547.05h1v26.07h-1zM533 547.05h1v26.07h-1zM593 547.05h1v26.07h-1zM865 547.05h1v26.07h-1zM935 547.05h1v26.07h-1zM718 573.12h1v26.07h-1zM826 651.35h1v26.07h-1zM754 677.42h1v26.07h-1z"/><path fill="#85b" d="M550 182.0h1v26.07h-1zM529 364.52h1v26.07h-1zM389 651.35h1v26.07h-1z"/><path fill="#f55" d="M553 182.0h1v26.07h-1zM562 182.0h1v26.07h-1zM591 182.0h1v26.07h-1zM594 182.0h1v26.07h-1zM608 182.0h1v26.07h-1zM611 182.0h1v26.07h-1zM613 182.0h1v26.07h-1zM636 182.0h1v26.07h-1zM639 182.0h1v26.07h-1zM770 182.0h1v26.07h-1zM864 182.0h1v26.07h-1zM880 182.0h1v26.07h-1zM889 182.0h1v26.07h-1zM908 182.0h1v26.07h-1zM929 182.0h1v26.07h-1zM932 182.0h1v26.07h-1zM1012 182.0h1v26.07h-1zM486 208.07h1v26.07h-1zM492 208.07h1v26.07h-1zM542 208.07h1v26.07h-1zM575 208.07h2v26.07h-2zM605 208.07h1v26.07h-1zM626 208.07h1v26.07h-1zM634 208.07h1v26.07h-1zM638 208.07h1v26.07h-1zM641 208.07h1v26.07h-1zM653 208.07h1v26.07h-1zM834 208.07h1v26.07h-1zM932 208.07h1v26.07h-1zM937 208.07h2v26.07h-2zM963 208.07h1v26.07h-1zM966 208.07h1v26.07h-1zM979 208.07h1v26.07h-1zM1004 208.07h1v26.07h-1zM503 234.15h1v26.07h-1zM514 234.15h1v26.07h-1zM532 234.15h1v26.07h-1zM569 234.15h1v26.07h-1zM574 234.15h1v26.07h-1zM596 234.15h1v26.07h-1zM861 234.15h1v26.07h-1zM895 234.15h1v26.07h-1zM903 234.15h1v26.07h-1zM926 234.15h1v26.07h-1zM936 234.15h1v26.07h-1zM477 260.23h1v26.07h-1zM544 260.23h1v26.07h-1zM594 260.23h1v26.07h-1zM631 260.23h1v26.07h-1zM799 260.23h1v26.07h-1zM853 260.23h1v26.07h-1zM870 260.23h1v26.07h-1zM905 260.23h1v26.07h-1zM934 260.23h1v26.07h-1zM1022 260.23h1v26.07h-1zM571 286.3h1v26.07h-1zM591 286.3h1v26.07h-1zM742 286.3h1v26.07h-1zM897 286.3h1v26.07h-1zM913 286.3h1v26.07h-1zM923 286.3h1v26.07h-1zM952 286.3h1v26.07h-1zM990 286.3h1v26.07h-1zM417 312.38h1v26.07h-1zM438 312.38h1v26.07h-1zM505 312.38h1v26.07h-1zM551 312.38h1v26.07h-1zM562 312.38h1v26.07h-1zM568 312.38h1v26.07h-1zM577 312.38h1v26.07h-1zM605 312.38h1v26.07h-1zM615 312.38h2v26.07h-2zM632 312.38h1v26.07h-1zM847 312.38h2v26.07h-2zM951 312.38h1v26.07h-1zM966 312.38h1v26.07h-1zM1022 312.38h1v26.07h-1zM495 338.45h1v26.07h-1zM498 338.45h1v26.07h-1zM555 338.45h1v26.07h-1zM558 338.45h1v26.07h-1zM562 338.45h1v26.07h-1zM590 338.45h1v26.07h-1zM868 338.45h1v26.07h-1zM889 338.45h1v26.07h-1zM899 338.45h1v26.07h-1zM919 338.45h1v26.07h-1zM1030 338.45h1v26.07h-1zM473 364.52h1v26.07h-1zM535 364.52h1v26.07h-1zM549 364.52h1v26.07h-1zM554 364.52h1v26.07h-1zM557 364.52h1v26.07h-1zM647 364.52h1v26.07h-1zM888 364.52h1v26.07h-1zM926 364.52h1v26.07h-1zM930 364.52h1v26.07h-1zM932 364.52h1v26.07h-1zM950 364.52h1v26.07h-1zM954 364.52h1v26.07h-1zM960 364.52h1v26.07h-1zM968 364.52h1v26.07h-1zM970 364.52h1v26.07h-1zM584 390.6h1v26.07h-1zM601 390.6h1v26.07h-1zM616 390.6h1v26.07h-1zM622 390.6h1v26.07h-1zM886 390.6h1v26.07h-1zM948 390.6h1v26.07h-1zM998 390.6h1v26.07h-1zM355 416.67h1v26.07h-1zM511 416.67h1v26.07h-1zM542 416.67h1v26.07h-1zM544 416.67h1v26.07h-1zM561 416.67h1v26.07h-1zM607 416.67h1v26.07h-1zM609 416.67h1v26.07h-1zM618 416.67h1v26.07h-1zM642 416.67h1v26.07h-1zM911 416.67h1v26.07h-1zM975 416.67h1v26.07h-1zM997 416.67h1v26.07h-1zM1010 416.67h1v26.07h-1zM517 442.75h1v26.07h-1zM581 442.75h1v26.07h-1zM584 442.75h1v26.07h-1zM863 442.75h1v26.07h-1zM874 442.75h1v26.07h-1zM942 442.75h1v26.07h-1zM974 442.75h1v26.07h-1zM983 442.75h1v26.07h-1zM548 468.82h1v26.07h-1zM579 468.82h1v26.07h-1zM583 468.82h1v26.07h-1zM594 468.82h1v26.07h-1zM601 468.82h1v26.07h-1zM627 468.82h1v26.07h-1zM659 468.82h1v26.07h-1zM848 468.82h1v26.07h-1zM916 468.82h1v26.07h-1zM525 494.9h1v26.07h-1zM579 494.9h1v26.07h-1zM582 494.9h1v26.07h-1zM587 494.9h1v26.07h-1zM632 494.9h1v26.07h-1zM635 494.9h1v26.07h-1zM638 494.9h1v26.07h-1zM861 494.9h1v26.07h-1zM898 494.9h1v26.07h-1zM918 494.9h1v26.07h-1zM934 494.9h1v26.07h-1zM937 494.9h1v26.07h-1zM953 494.9h1v26.07h-1zM973 494.9h1v26.07h-1zM977 494.9h1v26.07h-1zM518 520.97h1v26.07h-1zM536 520.97h2v26.07h-2zM600 520.97h1v26.07h-1zM618 520.97h1v26.07h-1zM624 520.97h1v26.07h-1zM839 520.97h1v26.07h-1zM879 520.97h1v26.07h-1zM899 520.97h1v26.07h-1zM925 520.97h2v26.07h-2zM930 520.97h1v26.07h-1zM941 520.97h1v26.07h-1zM366 547.05h1v26.07h-1zM461 547.05h1v26.07h-1zM502 547.05h1v26.07h-1zM560 547.05h1v26.07h-1zM581 547.05h1v26.07h-1zM619 547.05h1v26.07h-1zM784 547.05h1v26.07h-1zM813 547.05h1v26.07h-1zM921 547.05h1v26.07h-1zM957 547.05h1v26.07h-1zM977 547.05h1v26.07h-1zM1017 547.05h1v26.07h-1zM1028 547.05h1v26.07h-1zM453 573.12h1v26.07h-1zM523 573.12h1v26.07h-1zM545 573.12h1v26.07h-1zM565 573.12h1v26.07h-1zM571 573.12h1v26.07h-1zM586 573.12h1v26.07h-1zM590 573.12h1v26.07h-1zM622 573.12h1v26.07h-1zM629 573.12h1v26.07h-1zM633 573.12h1v26.07h-1zM665 573.12h1v26.07h-1zM928 573.12h1v26.07h-1zM939 573.12h1v26.07h-1zM977 573.12h1v26.07h-1zM989 573.12h1v26.07h-1zM997 573.12h1v26.07h-1zM1000 573.12h1v26.07h-1zM465 599.2h1v26.07h-1zM537 599.2h1v26.07h-1zM547 599.2h2v26.07h-2zM555 599.2h1v26.07h-1zM587 599.2h1v26.07h-1zM615 599.2h1v26.07h-1zM893 599.2h1v26.07h-1zM923 599.2h1v26.07h-1zM966 599.2h1v26.07h-1zM1014 599.2h1v26.07h-1zM422 625.27h1v26.07h-1zM471 625.27h1v26.07h-1zM516 625.27h1v26.07h-1zM520 625.27h1v26.07h-1zM568 625.27h1v26.07h-1zM580 625.27h1v26.07h-1zM587 625.27h1v26.07h-1zM593 625.27h1v26.07h-1zM605 625.27h1v26.07h-1zM607 625.27h1v26.07h-1zM651 625.27h1v26.07h-1zM790 625.27h1v26.07h-1zM926 625.27h1v26.07h-1zM932 625.27h1v26.07h-1zM937 625.27h1v26.07h-1zM955 625.27h1v26.07h-1zM959 625.27h1v26.07h-1zM972 625.27h1v26.07h-1zM974 625.27h1v26.07h-1zM990 625.27h1v26.07h-1zM415 651.35h1v26.07h-1zM521 651.35h1v26.07h-1zM554 651.35h1v26.07h-1zM558 651.35h1v26.07h-1zM566 651.35h1v26.07h-1zM571 651.35h1v26.07h-1zM625 651.35h1v26.07h-1zM847 651.35h1v26.07h-1zM896 651.35h1v26.07h-1zM908 651.35h1v26.07h-1zM913 651.35h1v26.07h-1zM980 651.35h1v26.07h-1zM417 677.42h1v26.07h-1zM544 677.42h1v26.07h-1zM596 677.42h1v26.07h-1zM601 677.42h1v26.07h-1zM606 677.42h1v26.07h-1zM612 677.42h1v26.07h-1zM615 677.42h1v26.07h-1zM628 677.42h1v26.07h-1zM646 677.42h1v26.07h-1zM790 677.42h1v26.07h-1zM886 677.42h1v26.07h-1zM949 677.42h1v26.07h-1zM952 677.42h1v26.07h-1zM954 677.42h1v26.07h-1zM967 677.42h1v26.07h-1zM971 677.42h1v26.07h-1z"/><path fill="#708" d="M560 182.0h1v26.07h-1zM729 182.0h1v26.07h-1zM832 182.0h1v26.07h-1zM462 208.07h1v26.07h-1zM509 208.07h1v26.07h-1zM872 234.15h1v26.07h-1zM429 260.23h1v26.07h-1zM511 260.23h1v26.07h-1zM522 260.23h1v26.07h-1zM451 286.3h1v26.07h-1zM531 286.3h1v26.07h-1zM720 286.3h1v26.07h-1zM776 286.3h1v26.07h-1zM834 286.3h1v26.07h-1zM910 286.3h1v26.07h-1zM872 312.38h1v26.07h-1zM749 338.45h1v26.07h-1zM825 364.52h1v26.07h-1zM939 364.52h1v26.07h-1zM691 416.67h1v26.07h-1zM442 442.75h1v26.07h-1zM863 494.9h1v26.07h-1zM511 520.97h1v26.07h-1zM500 547.05h1v26.07h-1zM720 547.05h1v26.07h-1zM908 547.05h1v26.07h-1zM966 547.05h1v26.07h-1zM451 573.12h1v26.07h-1zM482 599.2h1v26.07h-1zM509 599.2h1v26.07h-1zM611 599.2h1v26.07h-1zM382 625.27h1v26.07h-1zM369 651.35h1v26.07h-1zM569 651.35h1v26.07h-1zM928 677.42h1v26.07h-1z"/><path fill="#a9e" d="M561 182.0h1v26.07h-1zM811 182.0h1v26.07h-1zM867 182.0h1v26.07h-1zM938 182.0h1v26.07h-1zM399 208.07h1v26.07h-1zM505 208.07h1v26.07h-1zM764 208.07h1v26.07h-1zM791 208.07h1v26.07h-1zM885 208.07h1v26.07h-1zM470 234.15h1v26.07h-1zM855 234.15h1v26.07h-1zM415 260.23h1v26.07h-1zM492 260.23h1v26.07h-1zM543 260.23h1v26.07h-1zM563 260.23h1v26.07h-1zM940 260.23h1v26.07h-1zM960 260.23h1v26.07h-1zM456 286.3h1v26.07h-1zM736 286.3h1v26.07h-1zM337 312.38h1v26.07h-1zM387 312.38h1v26.07h-1zM475 312.38h1v26.07h-1zM800 312.38h1v26.07h-1zM356 338.45h1v26.07h-1zM436 338.45h1v26.07h-1zM895 338.45h1v26.07h-1zM414 364.52h1v26.07h-1zM421 364.52h1v26.07h-1zM427 364.52h1v26.07h-1zM718 364.52h1v26.07h-1zM793 364.52h1v26.07h-1zM799 364.52h1v26.07h-1zM854 364.52h1v26.07h-1zM352 390.6h1v26.07h-1zM403 390.6h1v26.07h-1zM624 390.6h1v26.07h-1zM726 390.6h1v26.07h-1zM301 416.67h1v26.07h-1zM416 416.67h1v26.07h-1zM828 416.67h1v26.07h-1zM359 442.75h1v26.07h-1zM444 442.75h1v26.07h-1zM897 442.75h1v26.07h-1zM921 442.75h1v26.07h-1zM960 442.75h1v26.07h-1zM396 468.82h1v26.07h-1zM695 468.82h1v26.07h-1zM915 468.82h1v26.07h-1zM443 494.9h1v26.07h-1zM458 494.9h1v26.07h-1zM477 494.9h1v26.07h-1zM773 494.9h1v26.07h-1zM862 494.9h1v26.07h-1zM884 494.9h1v26.07h-1zM470 520.97h1v26.07h-1zM528 520.97h1v26.07h-1zM576 520.97h1v26.07h-1zM435 547.05h1v26.07h-1zM592 547.05h1v26.07h-1zM730 547.05h1v26.07h-1zM781 547.05h1v26.07h-1zM808 547.05h1v26.07h-1zM929 547.05h1v26.07h-1zM410 573.12h1v26.07h-1zM416 573.12h1v26.07h-1zM450 573.12h1v26.07h-1zM540 573.12h1v26.07h-1zM782 573.12h1v26.07h-1zM920 573.12h1v26.07h-1zM414 599.2h1v26.07h-1zM431 599.2h1v26.07h-1zM529 599.2h1v26.07h-1zM827 599.2h1v26.07h-1zM392 625.27h1v26.07h-1zM714 625.27h1v26.07h-1zM818 625.27h1v26.07h-1zM406 651.35h1v26.07h-1zM445 651.35h1v26.07h-1zM472 651.35h1v26.07h-1zM522 651.35h1v26.07h-1zM677 651.35h1v26.07h-1zM714 651.35h1v26.07h-1zM784 651.35h1v26.07h-1zM839 651.35h1v26.07h-1zM394 677.42h1v26.07h-1zM743 677.42h1v26.07h-1zM903 677.42h1v26.07h-1z"/><path fill="#faa" d="M563 182.0h1v26.07h-1zM598 182.0h1v26.07h-1zM840 182.0h1v26.07h-1zM436 208.07h1v26.07h-1zM445 208.07h1v26.07h-1zM533 208.07h1v26.07h-1zM547 208.07h1v26.07h-1zM620 208.07h1v26.07h-1zM857 208.07h1v26.07h-1zM917 208.07h1v26.07h-1zM920 208.07h1v26.07h-1zM945 208.07h1v26.07h-1zM971 208.07h1v26.07h-1zM987 208.07h1v26.07h-1zM1007 208.07h1v26.07h-1zM440 234.15h1v26.07h-1zM452 234.15h1v26.07h-1zM511 234.15h1v26.07h-1zM522 234.15h1v26.07h-1zM533 234.15h2v26.07h-2zM567 234.15h1v26.07h-1zM774 234.15h1v26.07h-1zM794 234.15h1v26.07h-1zM860 234.15h1v26.07h-1zM874 234.15h1v26.07h-1zM406 260.23h1v26.07h-1zM436 260.23h1v26.07h-1zM565 260.23h1v26.07h-1zM575 260.23h1v26.07h-1zM821 260.23h1v26.07h-1zM839 260.23h1v26.07h-1zM892 260.23h1v26.07h-1zM943 260.23h1v26.07h-1zM982 260.23h2v26.07h-2zM994 260.23h1v26.07h-1zM358 286.3h1v26.07h-1zM385 286.3h1v26.07h-1zM452 286.3h1v26.07h-1zM467 286.3h1v26.07h-1zM472 286.3h1v26.07h-1zM636 286.3h1v26.07h-1zM658 286.3h1v26.07h-1zM713 286.3h1v26.07h-1zM881 286.3h1v26.07h-1zM929 286.3h1v26.07h-1zM965 286.3h1v26.07h-1zM1005 286.3h1v26.07h-1zM418 312.38h1v26.07h-1zM550 312.38h1v26.07h-1zM574 312.38h1v26.07h-1zM612 312.38h1v26.07h-1zM866 312.38h1v26.07h-1zM875 312.38h2v26.07h-2zM880 312.38h1v26.07h-1zM922 312.38h1v26.07h-1zM937 312.38h1v26.07h-1zM965 312.38h1v26.07h-1zM986 312.38h1v26.07h-1zM487 338.45h1v26.07h-1zM499 338.45h1v26.07h-1zM565 338.45h1v26.07h-1zM578 338.45h1v26.07h-1zM820 338.45h1v26.07h-1zM857 338.45h1v26.07h-1zM885 338.45h1v26.07h-1zM538 364.52h1v26.07h-1zM548 364.52h1v26.07h-1zM572 364.52h1v26.07h-1zM858 364.52h1v26.07h-1zM929 364.52h1v26.07h-1zM935 364.52h1v26.07h-1zM369 390.6h1v26.07h-1zM469 390.6h1v26.07h-1zM544 390.6h1v26.07h-1zM629 390.6h1v26.07h-1zM793 390.6h1v26.07h-1zM798 390.6h1v26.07h-1zM807 390.6h1v26.07h-1zM810 390.6h1v26.07h-1zM976 390.6h1v26.07h-1zM436 416.67h1v26.07h-1zM521 416.67h1v26.07h-1zM560 416.67h1v26.07h-1zM579 416.67h1v26.07h-1zM586 416.67h1v26.07h-1zM604 416.67h1v26.07h-1zM608 416.67h1v26.07h-1zM895 416.67h1v26.07h-1zM915 416.67h1v26.07h-1zM927 416.67h1v26.07h-1zM945 416.67h1v26.07h-1zM988 416.67h1v26.07h-1zM462 442.75h1v26.07h-1zM516 442.75h1v26.07h-1zM628 442.75h1v26.07h-1zM795 442.75h1v26.07h-1zM941 442.75h1v26.07h-1zM956 442.75h1v26.07h-1zM357 468.82h1v26.07h-1zM435 468.82h1v26.07h-1zM467 468.82h1v26.07h-1zM538 468.82h1v26.07h-1zM558 468.82h1v26.07h-1zM717 468.82h1v26.07h-1zM831 468.82h1v26.07h-1zM853 468.82h1v26.07h-1zM869 468.82h1v26.07h-1zM553 494.9h1v26.07h-1zM743 494.9h1v26.07h-1zM895 494.9h1v26.07h-1zM406 520.97h1v26.07h-1zM436 520.97h1v26.07h-1zM513 520.97h1v26.07h-1zM554 520.97h1v26.07h-1zM566 520.97h1v26.07h-1zM820 520.97h1v26.07h-1zM870 520.97h1v26.07h-1zM927 520.97h1v26.07h-1zM298 547.05h1v26.07h-1zM416 547.05h1v26.07h-1zM425 547.05h1v26.07h-1zM447 547.05h1v26.07h-1zM548 547.05h1v26.07h-1zM571 547.05h1v26.07h-1zM610 547.05h1v26.07h-1zM636 547.05h2v26.07h-2zM829 547.05h1v26.07h-1zM928 547.05h1v26.07h-1zM1000 547.05h1v26.07h-1zM516 573.12h1v26.07h-1zM544 573.12h1v26.07h-1zM558 573.12h1v26.07h-1zM560 573.12h1v26.07h-1zM611 573.12h1v26.07h-1zM466 599.2h1v26.07h-1zM597 599.2h1v26.07h-1zM605 599.2h1v26.07h-1zM634 599.2h1v26.07h-1zM762 599.2h1v26.07h-1zM790 599.2h1v26.07h-1zM837 599.2h1v26.07h-1zM903 599.2h1v26.07h-1zM937 599.2h1v26.07h-1zM958 599.2h1v26.07h-1zM421 625.27h1v26.07h-1zM427 625.27h1v26.07h-1zM446 625.27h1v26.07h-1zM528 625.27h1v26.07h-1zM550 625.27h1v26.07h-1zM583 625.27h1v26.07h-1zM590 625.27h1v26.07h-1zM592 625.27h1v26.07h-1zM619 625.27h1v26.07h-1zM632 625.27h1v26.07h-1zM866 625.27h1v26.07h-1zM903 625.27h1v26.07h-1zM917 625.27h1v26.07h-1zM929 625.27h1v26.07h-1zM940 625.27h1v26.07h-1zM465 651.35h1v26.07h-1zM520 651.35h1v26.07h-1zM809 651.35h1v26.07h-1zM864 651.35h1v26.07h-1zM897 651.35h1v26.07h-1zM438 677.42h1v26.07h-1zM450 677.42h1v26.07h-1zM464 677.42h1v26.07h-1zM498 677.42h1v26.07h-1zM509 677.42h1v26.07h-1zM575 677.42h1v26.07h-1zM590 677.42h1v26.07h-1zM603 677.42h1v26.07h-1zM818 677.42h1v26.07h-1zM966 677.42h1v26.07h-1z"/><path fill="#bae" d="M572 182.0h1v26.07h-1zM478 208.07h1v26.07h-1zM523 208.07h1v26.07h-1zM801 208.07h1v26.07h-1zM443 234.15h1v26.07h-1zM492 234.15h1v26.07h-1zM822 234.15h1v26.07h-1zM868 234.15h1v26.07h-1zM576 260.23h1v26.07h-1zM702 260.23h1v26.07h-1zM771 260.23h1v26.07h-1zM806 260.23h1v26.07h-1zM858 260.23h1v26.07h-1zM374 286.3h1v26.07h-1zM705 286.3h1v26.07h-1zM757 286.3h1v26.07h-1zM837 286.3h1v26.07h-1zM448 312.38h1v26.07h-1zM784 312.38h1v26.07h-1zM825 312.38h1v26.07h-1zM904 312.38h1v26.07h-1zM401 338.45h1v26.07h-1zM459 338.45h1v26.07h-1zM850 338.45h1v26.07h-1zM383 390.6h1v26.07h-1zM419 390.6h1v26.07h-1zM518 390.6h1v26.07h-1zM822 390.6h1v26.07h-1zM846 390.6h1v26.07h-1zM864 390.6h1v26.07h-1zM912 390.6h1v26.07h-1zM405 416.67h1v26.07h-1zM565 416.67h1v26.07h-1zM815 416.67h1v26.07h-1zM835 416.67h1v26.07h-1zM427 442.75h1v26.07h-1zM451 442.75h1v26.07h-1zM537 442.75h1v26.07h-1zM828 442.75h1v26.07h-1zM835 468.82h1v26.07h-1zM414 494.9h1v26.07h-1zM471 494.9h1v26.07h-1zM393 520.97h1v26.07h-1zM423 520.97h1v26.07h-1zM467 520.97h1v26.07h-1zM486 520.97h1v26.07h-1zM491 520.97h1v26.07h-1zM498 573.12h1v26.07h-1zM392 599.2h1v26.07h-1zM710 599.2h1v26.07h-1zM519 625.27h1v26.07h-1zM931 625.27h1v26.07h-1zM319 651.35h1v26.07h-1zM382 651.35h1v26.07h-1zM468 651.35h1v26.07h-1zM733 651.35h1v26.07h-1zM388 677.42h1v26.07h-1z"/><path fill="#a7c" d="M573 182.0h1v26.07h-1zM853 182.0h1v26.07h-1zM898 182.0h1v26.07h-1zM924 182.0h1v26.07h-1zM957 182.0h1v26.07h-1zM628 208.07h1v26.07h-1zM751 208.07h1v26.07h-1zM303 234.15h1v26.07h-1zM472 234.15h1v26.07h-1zM380 260.23h1v26.07h-1zM434 260.23h1v26.07h-1zM674 260.23h1v26.07h-1zM375 286.3h1v26.07h-1zM777 286.3h1v26.07h-1zM321 312.38h1v26.07h-1zM346 312.38h1v26.07h-1zM409 312.38h1v26.07h-1zM853 312.38h1v26.07h-1zM889 312.38h1v26.07h-1zM366 338.45h1v26.07h-1zM780 338.45h1v26.07h-1zM507 364.52h1v26.07h-1zM887 364.52h1v26.07h-1zM551 390.6h1v26.07h-1zM578 390.6h1v26.07h-1zM769 416.67h1v26.07h-1zM378 442.75h1v26.07h-1zM469 442.75h1v26.07h-1zM491 442.75h1v26.07h-1zM535 468.82h1v26.07h-1zM867 468.82h1v26.07h-1zM346 494.9h1v26.07h-1zM842 494.9h1v26.07h-1zM314 547.05h1v26.07h-1zM399 547.05h1v26.07h-1zM449 547.05h1v26.07h-1zM556 547.05h1v26.07h-1zM803 547.05h1v26.07h-1zM900 547.05h1v26.07h-1zM448 573.12h1v26.07h-1zM526 573.12h1v26.07h-1zM730 573.12h1v26.07h-1zM347 599.2h1v26.07h-1zM679 599.2h1v26.07h-1zM985 599.2h1v26.07h-1zM330 625.27h1v26.07h-1zM397 625.27h1v26.07h-1zM473 651.35h1v26.07h-1z"/><path fill="#b59" d="M578 182.0h1v26.07h-1zM884 182.0h1v26.07h-1zM398 208.07h1v26.07h-1zM482 208.07h1v26.07h-1zM878 208.07h1v26.07h-1zM544 234.15h1v26.07h-1zM779 234.15h1v26.07h-1zM887 234.15h1v26.07h-1zM779 260.23h1v26.07h-1zM807 260.23h1v26.07h-1zM294 286.3h1v26.07h-1zM332 286.3h1v26.07h-1zM855 286.3h1v26.07h-1zM369 312.38h1v26.07h-1zM573 312.38h1v26.07h-1zM754 312.38h1v26.07h-1zM941 312.38h1v26.07h-1zM454 338.45h1v26.07h-1zM534 338.45h1v26.07h-1zM825 338.45h1v26.07h-1zM860 338.45h1v26.07h-1zM972 338.45h1v26.07h-1zM507 390.6h1v26.07h-1zM541 390.6h1v26.07h-1zM913 416.67h1v26.07h-1zM527 468.82h1v26.07h-1zM988 468.82h1v26.07h-1zM644 547.05h1v26.07h-1zM772 547.05h1v26.07h-1zM598 573.12h1v26.07h-1zM849 573.12h1v26.07h-1zM383 599.2h1v26.07h-1zM970 599.2h1v26.07h-1zM598 625.27h1v26.07h-1zM802 651.35h1v26.07h-1zM903 651.35h1v26.07h-1zM427 677.42h1v26.07h-1z"/><path fill="#e12" d="M579 182.0h1v26.07h-1zM893 182.0h1v26.07h-1zM572 312.38h1v26.07h-1zM969 312.38h1v26.07h-1zM840 390.6h1v26.07h-1zM871 442.75h1v26.07h-1zM945 442.75h1v26.07h-1zM920 468.82h1v26.07h-1zM987 468.82h1v26.07h-1zM594 494.9h1v26.07h-1zM965 494.9h1v26.07h-1zM510 547.05h1v26.07h-1zM855 547.05h1v26.07h-1zM880 547.05h1v26.07h-1zM632 599.2h1v26.07h-1zM853 599.2h1v26.07h-1zM1025 677.42h1v26.07h-1z"/><path fill="#d79" d="M580 182.0h1v26.07h-1zM766 182.0h1v26.07h-1zM439 208.07h1v26.07h-1zM760 208.07h1v26.07h-1zM550 234.15h1v26.07h-1zM633 234.15h1v26.07h-1zM787 234.15h1v26.07h-1zM804 234.15h1v26.07h-1zM401 260.23h1v26.07h-1zM868 260.23h1v26.07h-1zM824 286.3h1v26.07h-1zM901 286.3h1v26.07h-1zM480 312.38h1v26.07h-1zM826 312.38h1v26.07h-1zM902 312.38h1v26.07h-1zM997 312.38h1v26.07h-1zM824 364.52h1v26.07h-1zM988 390.6h1v26.07h-1zM883 416.67h1v26.07h-1zM926 416.67h1v26.07h-1zM812 468.82h1v26.07h-1zM492 494.9h1v26.07h-1zM578 494.9h1v26.07h-1zM533 520.97h1v26.07h-1zM854 520.97h1v26.07h-1zM874 520.97h1v26.07h-1zM347 547.05h1v26.07h-1zM487 547.05h1v26.07h-1zM492 547.05h1v26.07h-1zM596 547.05h1v26.07h-1zM623 547.05h1v26.07h-1zM652 547.05h1v26.07h-1zM672 547.05h1v26.07h-1zM883 547.05h1v26.07h-1zM1008 547.05h1v26.07h-1zM607 573.12h1v26.07h-1zM470 599.2h1v26.07h-1zM717 599.2h1v26.07h-1zM864 599.2h1v26.07h-1zM964 599.2h1v26.07h-1zM571 625.27h1v26.07h-1zM781 625.27h1v26.07h-1zM446 651.35h1v26.07h-1zM604 651.35h1v26.07h-1zM761 651.35h1v26.07h-1zM831 651.35h1v26.07h-1zM610 677.42h1v26.07h-1zM620 677.42h1v26.07h-1z"/><path fill="#ecd" d="M585 182.0h1v26.07h-1zM772 182.0h1v26.07h-1zM415 208.07h1v26.07h-1zM570 208.07h1v26.07h-1zM900 208.07h1v26.07h-1zM508 260.23h1v26.07h-1zM529 260.23h1v26.07h-1zM350 286.3h1v26.07h-1zM983 286.3h1v26.07h-1zM367 312.38h1v26.07h-1zM737 312.38h1v26.07h-1zM924 312.38h1v26.07h-1zM428 338.45h1v26.07h-1zM597 338.45h1v26.07h-1zM833 338.45h1v26.07h-1zM471 364.52h1v26.07h-1zM504 364.52h1v26.07h-1zM537 364.52h1v26.07h-1zM605 364.52h1v26.07h-1zM616 364.52h1v26.07h-1zM531 390.6h1v26.07h-1zM806 390.6h1v26.07h-1zM869 390.6h1v26.07h-1zM949 390.6h1v26.07h-1zM429 416.67h1v26.07h-1zM793 442.75h1v26.07h-1zM902 442.75h1v26.07h-1zM884 468.82h1v26.07h-1zM537 494.9h1v26.07h-1zM824 494.9h1v26.07h-1zM448 520.97h1v26.07h-1zM733 520.97h1v26.07h-1zM816 520.97h1v26.07h-1zM368 547.05h1v26.07h-1zM397 547.05h1v26.07h-1zM558 547.05h1v26.07h-1zM838 547.05h1v26.07h-1zM482 573.12h1v26.07h-1zM625 573.12h1v26.07h-1zM827 573.12h1v26.07h-1zM419 599.2h1v26.07h-1zM558 599.2h1v26.07h-1zM788 599.2h1v26.07h-1zM860 599.2h1v26.07h-1zM876 599.2h1v26.07h-1zM475 625.27h1v26.07h-1zM495 625.27h1v26.07h-1zM859 625.27h1v26.07h-1zM916 625.27h1v26.07h-1zM850 651.35h1v26.07h-1zM866 651.35h1v26.07h-1zM886 651.35h1v26.07h-1zM952 651.35h1v26.07h-1zM456 677.42h1v26.07h-1zM867 677.42h1v26.07h-1z"/><path fill="#b48" d="M602 182.0h1v26.07h-1zM437 234.15h1v26.07h-1zM517 234.15h1v26.07h-1zM636 234.15h1v26.07h-1zM845 260.23h1v26.07h-1zM808 312.38h2v26.07h-2zM528 364.52h1v26.07h-1zM719 390.6h1v26.07h-1zM739 390.6h1v26.07h-1zM798 442.75h1v26.07h-1zM448 468.82h1v26.07h-1zM750 520.97h1v26.07h-1zM669 547.05h1v26.07h-1zM692 547.05h1v26.07h-1zM789 547.05h1v26.07h-1zM686 573.12h1v26.07h-1zM357 599.2h1v26.07h-1zM748 651.35h1v26.07h-1z"/><path fill="#d35" d="M603 182.0h1v26.07h-1zM944 182.0h1v26.07h-1zM596 208.07h1v26.07h-1zM703 208.07h1v26.07h-1zM495 234.15h2v26.07h-2zM556 234.15h1v26.07h-1zM641 234.15h1v26.07h-1zM515 260.23h1v26.07h-1zM958 260.23h1v26.07h-1zM566 286.3h1v26.07h-1zM867 286.3h1v26.07h-1zM902 286.3h1v26.07h-1zM905 286.3h1v26.07h-1zM472 312.38h1v26.07h-1zM596 338.45h1v26.07h-1zM405 364.52h1v26.07h-1zM626 364.52h1v26.07h-1zM938 364.52h1v26.07h-1zM944 364.52h1v26.07h-1zM641 390.6h1v26.07h-1zM461 416.67h1v26.07h-1zM485 416.67h1v26.07h-1zM534 416.67h1v26.07h-1zM448 442.75h1v26.07h-1zM516 468.82h1v26.07h-1zM806 494.9h1v26.07h-1zM815 494.9h1v26.07h-1zM595 547.05h1v26.07h-1zM815 547.05h1v26.07h-1zM392 573.12h1v26.07h-1zM924 573.12h1v26.07h-1zM501 599.2h1v26.07h-1zM885 625.27h1v26.07h-1z"/><path fill="#c36" d="M605 182.0h1v26.07h-1zM760 182.0h1v26.07h-1zM427 208.07h1v26.07h-1zM897 208.07h1v26.07h-1zM524 234.15h1v26.07h-1zM769 234.15h1v26.07h-1zM865 234.15h1v26.07h-1zM949 234.15h1v26.07h-1zM510 260.23h1v26.07h-1zM498 312.38h1v26.07h-1zM882 312.38h1v26.07h-1zM866 338.45h1v26.07h-1zM461 364.52h1v26.07h-1zM524 468.82h1v26.07h-1zM935 468.82h1v26.07h-1zM845 494.9h1v26.07h-1zM510 520.97h1v26.07h-1zM897 520.97h1v26.07h-1zM940 520.97h1v26.07h-1zM327 547.05h1v26.07h-1zM404 547.05h1v26.07h-1zM855 573.12h1v26.07h-1zM475 599.2h1v26.07h-1zM539 599.2h1v26.07h-1zM851 599.2h1v26.07h-1zM868 599.2h1v26.07h-1zM868 625.27h1v26.07h-1zM493 651.35h1v26.07h-1z"/><path fill="#e78" d="M606 182.0h1v26.07h-1zM959 182.0h1v26.07h-1zM500 208.07h1v26.07h-1zM582 208.07h1v26.07h-1zM948 208.07h1v26.07h-1zM736 260.23h1v26.07h-1zM957 260.23h1v26.07h-1zM744 286.3h1v26.07h-1zM317 312.38h1v26.07h-1zM334 364.52h1v26.07h-1zM957 364.52h1v26.07h-1zM621 390.6h1v26.07h-1zM549 416.67h1v26.07h-1zM841 416.67h1v26.07h-1zM956 416.67h1v26.07h-1zM977 416.67h1v26.07h-1zM508 442.75h1v26.07h-1zM346 468.82h1v26.07h-1zM542 468.82h1v26.07h-1zM811 468.82h1v26.07h-1zM827 468.82h1v26.07h-1zM508 494.9h1v26.07h-1zM811 494.9h1v26.07h-1zM569 520.97h1v26.07h-1zM845 547.05h1v26.07h-1zM884 547.05h1v26.07h-1zM831 573.12h1v26.07h-1zM919 573.12h1v26.07h-1zM832 599.2h1v26.07h-1zM908 599.2h1v26.07h-1zM529 625.27h1v26.07h-1zM547 625.27h1v26.07h-1zM475 651.35h1v26.07h-1zM860 651.35h1v26.07h-1z"/><path fill="#b5a" d="M615 182.0h1v26.07h-1zM877 208.07h1v26.07h-1zM906 442.75h1v26.07h-1zM915 651.35h1v26.07h-1z"/><path fill="#e23" d="M628 182.0h1v26.07h-1zM824 182.0h1v26.07h-1zM510 234.15h1v26.07h-1zM911 234.15h1v26.07h-1zM590 312.38h1v26.07h-1zM927 312.38h1v26.07h-1zM938 390.6h1v26.07h-1zM947 390.6h1v26.07h-1zM994 416.67h1v26.07h-1zM468 442.75h1v26.07h-1zM927 442.75h1v26.07h-1zM561 494.9h1v26.07h-1zM612 494.9h1v26.07h-1zM623 494.9h1v26.07h-1zM947 494.9h1v26.07h-1zM786 547.05h1v26.07h-1zM488 599.2h1v26.07h-1zM623 599.2h1v26.07h-1zM909 651.35h1v26.07h-1zM619 677.42h1v26.07h-1z"/><path fill="#61a" d="M637 182.0h1v26.07h-1zM333 208.07h1v26.07h-1zM942 234.15h1v26.07h-1zM433 260.23h1v26.07h-1zM499 286.3h1v26.07h-1zM982 286.3h1v26.07h-1zM475 364.52h1v26.07h-1zM636 364.52h1v26.07h-1zM877 364.52h1v26.07h-1zM891 364.52h1v26.07h-1zM558 390.6h1v26.07h-1zM944 390.6h1v26.07h-1zM398 416.67h1v26.07h-1zM915 442.75h1v26.07h-1zM952 468.82h1v26.07h-1zM972 468.82h1v26.07h-1zM344 494.9h1v26.07h-1zM595 494.9h1v26.07h-1zM624 494.9h1v26.07h-1zM924 520.97h1v26.07h-1zM415 547.05h1v26.07h-1zM887 547.05h1v26.07h-1zM987 573.12h1v26.07h-1zM393 599.2h1v26.07h-1zM565 599.2h1v26.07h-1zM398 625.27h1v26.07h-1zM980 625.27h1v26.07h-1zM438 651.35h1v26.07h-1z"/><path fill="#30c" d="M672 182.0h1v26.07h-1zM793 182.0h1v26.07h-1zM793 208.07h1v26.07h-1zM672 234.15h1v26.07h-1zM822 286.3h1v26.07h-1zM672 338.45h1v26.07h-1zM672 364.52h1v26.07h-1zM672 390.6h1v26.07h-1zM748 390.6h1v26.07h-1zM672 416.67h1v26.07h-1zM672 442.75h1v26.07h-1zM672 468.82h1v26.07h-1zM332 547.05h1v26.07h-1zM499 547.05h1v26.07h-1zM672 573.12h1v26.07h-1zM672 625.27h1v26.07h-1zM672 651.35h1v26.07h-1zM672 677.42h1v26.07h-1z"/><path fill="#e89" d="M703 182.0h1v26.07h-1zM619 208.07h1v26.07h-1zM947 234.15h1v26.07h-1zM420 260.23h1v26.07h-1zM444 260.23h1v26.07h-1zM462 260.23h1v26.07h-1zM568 260.23h1v26.07h-1zM620 260.23h1v26.07h-1zM873 260.23h1v26.07h-1zM440 286.3h1v26.07h-1zM469 286.3h1v26.07h-1zM604 286.3h1v26.07h-1zM638 286.3h1v26.07h-1zM778 312.38h1v26.07h-1zM618 338.45h1v26.07h-1zM900 338.45h1v26.07h-1zM474 364.52h1v26.07h-1zM338 390.6h1v26.07h-1zM487 390.6h1v26.07h-1zM449 416.67h1v26.07h-1zM480 416.67h1v26.07h-1zM518 416.67h1v26.07h-1zM844 416.67h1v26.07h-1zM363 442.75h1v26.07h-1zM739 442.75h1v26.07h-1zM920 442.75h1v26.07h-1zM544 468.82h1v26.07h-1zM587 468.82h1v26.07h-1zM851 468.82h1v26.07h-1zM833 494.9h1v26.07h-1zM893 520.97h1v26.07h-1zM938 547.05h1v26.07h-1zM437 573.12h1v26.07h-1zM883 573.12h1v26.07h-1zM984 573.12h1v26.07h-1zM1008 573.12h1v26.07h-1zM532 599.2h1v26.07h-1zM550 599.2h1v26.07h-1zM644 599.2h1v26.07h-1zM784 599.2h1v26.07h-1zM947 599.2h1v26.07h-1zM467 625.27h1v26.07h-1zM524 625.27h1v26.07h-1zM572 625.27h1v26.07h-1zM530 651.35h1v26.07h-1zM917 651.35h1v26.07h-1zM444 677.42h1v26.07h-1zM449 677.42h1v26.07h-1zM587 677.42h1v26.07h-1z"/><path fill="#21e" d="M719 182.0h1v26.07h-1zM739 208.07h1v26.07h-1zM363 312.38h1v26.07h-1zM468 312.38h1v26.07h-1zM893 312.38h1v26.07h-1zM399 338.45h1v26.07h-1zM777 338.45h1v26.07h-1zM339 390.6h1v26.07h-1zM443 390.6h1v26.07h-1zM784 390.6h1v26.07h-1zM299 416.67h1v26.07h-1zM361 416.67h1v26.07h-1zM372 416.67h1v26.07h-1zM450 416.67h1v26.07h-1zM379 442.75h1v26.07h-1zM692 442.75h1v26.07h-1zM757 442.75h1v26.07h-1zM439 468.82h1v26.07h-1zM737 520.97h1v26.07h-1zM755 520.97h1v26.07h-1zM328 547.05h1v26.07h-1zM472 547.05h1v26.07h-1zM757 573.12h1v26.07h-1zM301 599.2h1v26.07h-1z"/><path fill="#84a" d="M720 182.0h1v26.07h-1zM502 260.23h1v26.07h-1zM825 260.23h1v26.07h-1zM449 286.3h1v26.07h-1zM863 390.6h1v26.07h-1zM832 416.67h1v26.07h-1zM525 442.75h1v26.07h-1zM535 494.9h1v26.07h-1zM509 520.97h1v26.07h-1zM736 520.97h1v26.07h-1zM691 547.05h1v26.07h-1z"/><path fill="#98e" d="M731 182.0h1v26.07h-1zM745 182.0h1v26.07h-1zM764 182.0h1v26.07h-1zM618 208.07h1v26.07h-1zM828 208.07h1v26.07h-1zM836 208.07h1v26.07h-1zM927 208.07h1v26.07h-1zM716 234.15h1v26.07h-1zM353 260.23h1v26.07h-1zM371 260.23h1v26.07h-1zM778 260.23h1v26.07h-1zM389 286.3h1v26.07h-1zM450 286.3h1v26.07h-1zM303 312.38h1v26.07h-1zM446 312.38h1v26.07h-1zM484 312.38h1v26.07h-1zM768 312.38h1v26.07h-1zM814 312.38h1v26.07h-1zM843 312.38h1v26.07h-1zM759 338.45h1v26.07h-1zM398 364.52h1v26.07h-1zM421 390.6h1v26.07h-1zM453 390.6h1v26.07h-1zM550 390.6h1v26.07h-1zM617 416.67h1v26.07h-1zM797 416.67h1v26.07h-1zM544 442.75h1v26.07h-1zM550 442.75h1v26.07h-1zM763 442.75h1v26.07h-1zM401 468.82h1v26.07h-1zM796 468.82h1v26.07h-1zM845 468.82h1v26.07h-1zM484 494.9h1v26.07h-1zM409 547.05h1v26.07h-1zM941 547.05h1v26.07h-1zM404 573.12h1v26.07h-1zM763 573.12h1v26.07h-1zM801 573.12h1v26.07h-1zM821 573.12h1v26.07h-1zM573 599.2h1v26.07h-1zM457 625.27h1v26.07h-1zM444 651.35h1v26.07h-1zM449 651.35h1v26.07h-1zM518 651.35h1v26.07h-1zM620 651.35h1v26.07h-1zM817 651.35h1v26.07h-1zM850 677.42h1v26.07h-1z"/><path fill="#99e" d="M739 182.0h1v26.07h-1zM719 286.3h1v26.07h-1zM924 286.3h1v26.07h-1zM951 286.3h1v26.07h-1zM939 312.38h1v26.07h-1zM929 390.6h1v26.07h-1zM825 442.75h1v26.07h-1zM936 442.75h1v26.07h-1zM900 494.9h1v26.07h-1zM420 520.97h1v26.07h-1zM812 520.97h1v26.07h-1zM292 547.05h1v26.07h-1zM922 573.12h1v26.07h-1zM902 599.2h1v26.07h-1zM873 625.27h1v26.07h-1z"/><path fill="#a6a" d="M744 182.0h1v26.07h-1zM920 182.0h1v26.07h-1zM341 208.07h1v26.07h-1zM488 208.07h1v26.07h-1zM724 208.07h1v26.07h-1zM390 234.15h1v26.07h-1zM583 260.23h1v26.07h-1zM985 260.23h1v26.07h-1zM305 286.3h1v26.07h-1zM425 286.3h1v26.07h-1zM628 286.3h1v26.07h-1zM804 312.38h1v26.07h-1zM870 312.38h1v26.07h-1zM425 338.45h1v26.07h-1zM905 338.45h1v26.07h-1zM786 364.52h1v26.07h-1zM326 390.6h1v26.07h-1zM426 390.6h1v26.07h-1zM385 442.75h1v26.07h-1zM405 442.75h1v26.07h-1zM686 442.75h1v26.07h-1zM889 468.82h1v26.07h-1zM971 494.9h1v26.07h-1zM506 520.97h1v26.07h-1zM936 520.97h1v26.07h-1zM694 547.05h1v26.07h-1zM724 547.05h1v26.07h-1zM895 547.05h1v26.07h-1zM721 573.12h1v26.07h-1zM866 573.12h1v26.07h-1zM441 599.2h1v26.07h-1zM443 599.2h1v26.07h-1zM554 599.2h1v26.07h-1zM626 599.2h1v26.07h-1zM762 625.27h1v26.07h-1zM891 651.35h1v26.07h-1z"/><path fill="#62b" d="M754 182.0h1v26.07h-1zM543 208.07h1v26.07h-1zM463 234.15h1v26.07h-1zM326 260.23h1v26.07h-1zM392 260.23h1v26.07h-1zM484 260.23h1v26.07h-1zM559 260.23h1v26.07h-1zM711 260.23h1v26.07h-1zM886 260.23h1v26.07h-1zM945 260.23h1v26.07h-1zM418 286.3h1v26.07h-1zM967 286.3h1v26.07h-1zM886 312.38h1v26.07h-1zM954 312.38h1v26.07h-1zM478 338.45h1v26.07h-1zM816 338.45h1v26.07h-1zM859 338.45h1v26.07h-1zM900 390.6h1v26.07h-1zM940 442.75h1v26.07h-1zM417 494.9h1v26.07h-1zM792 520.97h1v26.07h-1zM313 547.05h1v26.07h-1zM970 547.05h1v26.07h-1zM915 573.12h1v26.07h-1zM513 677.42h1v26.07h-1zM906 677.42h1v26.07h-1z"/><path fill="#53e" d="M759 182.0h1v26.07h-1zM443 208.07h1v26.07h-1zM768 208.07h1v26.07h-1zM835 234.15h1v26.07h-1zM470 286.3h1v26.07h-1zM813 286.3h1v26.07h-1zM920 286.3h1v26.07h-1zM361 312.38h1v26.07h-1zM352 364.52h1v26.07h-1zM423 390.6h1v26.07h-1zM746 390.6h1v26.07h-1zM833 416.67h1v26.07h-1zM855 494.9h1v26.07h-1zM559 547.05h1v26.07h-1zM858 677.42h1v26.07h-1zM898 677.42h1v26.07h-1z"/><path fill="#a5a" d="M767 182.0h1v26.07h-1zM740 208.07h1v26.07h-1zM604 234.15h1v26.07h-1zM431 286.3h1v26.07h-1zM435 312.38h2v26.07h-2zM718 312.38h1v26.07h-1zM807 312.38h1v26.07h-1zM859 364.52h1v26.07h-1zM709 442.75h1v26.07h-1zM436 468.82h1v26.07h-1zM435 520.97h1v26.07h-1zM955 547.05h1v26.07h-1zM743 599.2h1v26.07h-1zM917 599.2h1v26.07h-1zM522 625.27h1v26.07h-1zM693 625.27h1v26.07h-1zM801 651.35h1v26.07h-1zM807 651.35h1v26.07h-1z"/><path fill="#cce" d="M776 182.0h1v26.07h-1zM534 677.42h1v26.07h-1z"/><path fill="#dbd" d="M786 182.0h1v26.07h-1zM842 182.0h1v26.07h-1zM871 208.07h1v26.07h-1zM515 234.15h1v26.07h-1zM898 260.23h1v26.07h-1zM913 260.23h1v26.07h-1zM319 286.3h1v26.07h-1zM694 286.3h1v26.07h-1zM455 312.38h1v26.07h-1zM797 312.38h1v26.07h-1zM900 312.38h1v26.07h-1zM934 312.38h1v26.07h-1zM791 338.45h1v26.07h-1zM795 338.45h1v26.07h-1zM875 338.45h1v26.07h-1zM303 390.6h1v26.07h-1zM510 416.67h1v26.07h-1zM882 416.67h1v26.07h-1zM485 442.75h1v26.07h-1zM594 442.75h1v26.07h-1zM736 442.75h1v26.07h-1zM810 442.75h1v26.07h-1zM909 442.75h1v26.07h-1zM485 468.82h1v26.07h-1zM519 468.82h1v26.07h-1zM886 468.82h1v26.07h-1zM857 494.9h1v26.07h-1zM519 547.05h1v26.07h-1zM807 547.05h1v26.07h-1zM949 547.05h1v26.07h-1zM979 547.05h1v26.07h-1zM359 573.12h1v26.07h-1zM563 573.12h1v26.07h-1zM864 573.12h1v26.07h-1zM506 599.2h1v26.07h-1zM552 599.2h1v26.07h-1zM499 625.27h1v26.07h-1zM570 625.27h1v26.07h-1zM793 625.27h1v26.07h-1zM410 651.35h1v26.07h-1zM436 651.35h1v26.07h-1zM533 651.35h1v26.07h-1zM416 677.42h1v26.07h-1z"/><path fill="#807" d="M787 182.0h1v26.07h-1zM854 182.0h1v26.07h-1zM449 208.07h1v26.07h-1zM531 208.07h1v26.07h-1zM948 234.15h1v26.07h-1zM389 260.23h1v26.07h-1zM491 260.23h1v26.07h-1zM901 260.23h1v26.07h-1zM469 312.38h1v26.07h-1zM502 312.38h1v26.07h-1zM509 312.38h1v26.07h-1zM600 312.38h1v26.07h-1zM785 312.38h1v26.07h-1zM881 312.38h1v26.07h-1zM642 338.45h1v26.07h-1zM389 364.52h1v26.07h-1zM540 364.52h1v26.07h-1zM823 364.52h1v26.07h-1zM890 364.52h1v26.07h-1zM776 416.67h1v26.07h-1zM320 442.75h1v26.07h-1zM540 442.75h1v26.07h-1zM580 442.75h1v26.07h-1zM854 442.75h1v26.07h-1zM861 442.75h1v26.07h-1zM959 442.75h1v26.07h-1zM977 442.75h1v26.07h-1zM540 468.82h1v26.07h-1zM451 494.9h1v26.07h-1zM522 494.9h1v26.07h-1zM729 520.97h1v26.07h-1zM631 547.05h1v26.07h-1zM767 547.05h1v26.07h-1zM881 547.05h1v26.07h-1zM997 547.05h1v26.07h-1zM382 599.2h1v26.07h-1zM660 599.2h1v26.07h-1zM852 599.2h1v26.07h-1zM331 625.27h1v26.07h-1zM440 625.27h1v26.07h-1zM977 625.27h1v26.07h-1zM442 677.42h1v26.07h-1zM520 677.42h1v26.07h-1z"/><path fill="#b15" d="M791 182.0h1v26.07h-1zM914 182.0h1v26.07h-1zM635 234.15h1v26.07h-1zM820 234.15h1v26.07h-1zM625 286.3h1v26.07h-1zM735 286.3h1v26.07h-1zM755 286.3h1v26.07h-1zM873 286.3h1v26.07h-1zM751 312.38h1v26.07h-1zM810 312.38h1v26.07h-1zM822 312.38h1v26.07h-1zM933 312.38h1v26.07h-1zM982 312.38h1v26.07h-1zM690 338.45h1v26.07h-1zM441 390.6h1v26.07h-1zM829 390.6h1v26.07h-1zM972 416.67h1v26.07h-1zM445 442.75h1v26.07h-1zM530 442.75h1v26.07h-1zM985 442.75h1v26.07h-1zM430 468.82h1v26.07h-1zM490 468.82h1v26.07h-1zM528 468.82h1v26.07h-1zM625 468.82h1v26.07h-1zM851 494.9h1v26.07h-1zM336 547.05h1v26.07h-1zM761 573.12h1v26.07h-1zM615 651.35h2v26.07h-2zM764 651.35h1v26.07h-1zM770 651.35h1v26.07h-1zM786 651.35h1v26.07h-1zM982 651.35h1v26.07h-1zM401 677.42h1v26.07h-1z"/><path fill="#d68" d="M794 182.0h1v26.07h-1zM489 208.07h1v26.07h-1zM501 208.07h1v26.07h-1zM901 208.07h1v26.07h-1zM582 260.23h1v26.07h-1zM497 312.38h1v26.07h-1zM958 312.38h1v26.07h-1zM482 364.52h1v26.07h-1zM986 416.67h1v26.07h-1zM357 442.75h1v26.07h-1zM571 442.75h1v26.07h-1zM450 494.9h1v26.07h-1zM503 520.97h1v26.07h-1zM331 547.05h1v26.07h-1zM349 547.05h1v26.07h-1zM380 547.05h1v26.07h-1zM708 547.05h1v26.07h-1zM851 547.05h1v26.07h-1zM909 547.05h1v26.07h-1zM869 573.12h1v26.07h-1zM881 599.2h1v26.07h-1zM920 599.2h1v26.07h-1zM928 599.2h1v26.07h-1zM514 625.27h1v26.07h-1zM531 625.27h1v26.07h-1zM897 625.27h1v26.07h-1zM910 651.35h1v26.07h-1zM522 677.42h1v26.07h-1z"/><path fill="#818" d="M805 182.0h1v26.07h-1zM402 234.15h1v26.07h-1zM930 234.15h1v26.07h-1zM986 234.15h1v26.07h-1zM540 260.23h1v26.07h-1zM429 286.3h1v26.07h-1zM825 286.3h1v26.07h-1zM631 312.38h1v26.07h-1zM910 338.45h1v26.07h-1zM834 364.52h1v26.07h-1zM852 364.52h1v26.07h-1zM451 416.67h1v26.07h-1zM591 416.67h1v26.07h-1zM937 416.67h1v26.07h-1zM729 442.75h1v26.07h-1zM420 494.9h1v26.07h-1zM440 520.97h1v26.07h-1zM892 573.12h1v26.07h-1zM380 599.2h1v26.07h-1zM727 599.2h1v26.07h-1zM540 625.27h1v26.07h-1zM402 651.35h1v26.07h-1z"/><path fill="#e9b" d="M809 182.0h1v26.07h-1zM924 208.07h1v26.07h-1zM896 312.38h1v26.07h-1zM848 599.2h1v26.07h-1zM548 625.27h1v26.07h-1zM938 677.42h1v26.07h-1z"/><path fill="#d24" d="M813 182.0h1v26.07h-1zM457 208.07h1v26.07h-1zM488 234.15h1v26.07h-1zM432 260.23h1v26.07h-1zM634 260.23h1v26.07h-1zM880 286.3h1v26.07h-1zM603 364.52h1v26.07h-1zM654 416.67h1v26.07h-1zM450 442.75h1v26.07h-1zM510 468.82h1v26.07h-1zM833 468.82h1v26.07h-1zM891 468.82h1v26.07h-1zM878 494.9h1v26.07h-1zM432 520.97h1v26.07h-1zM503 599.2h1v26.07h-1zM579 599.2h1v26.07h-1zM1027 599.2h1v26.07h-1zM563 625.27h1v26.07h-1z"/><path fill="#50b" d="M815 182.0h1v26.07h-1zM414 208.07h1v26.07h-1zM454 208.07h1v26.07h-1zM377 234.15h1v26.07h-1zM597 260.23h1v26.07h-1zM439 286.3h1v26.07h-1zM835 286.3h1v26.07h-1zM741 312.38h1v26.07h-1zM820 494.9h1v26.07h-1zM497 520.97h1v26.07h-1zM514 599.2h1v26.07h-1zM592 599.2h1v26.07h-1zM998 599.2h1v26.07h-1z"/><path fill="#d69" d="M825 182.0h1v26.07h-1zM961 547.05h1v26.07h-1zM562 573.12h1v26.07h-1zM569 677.42h1v26.07h-1z"/><path fill="#d57" d="M826 182.0h1v26.07h-1zM997 182.0h1v26.07h-1zM503 208.07h1v26.07h-1zM813 234.15h1v26.07h-1zM866 260.23h1v26.07h-1zM361 286.3h1v26.07h-1zM491 286.3h1v26.07h-1zM791 286.3h1v26.07h-1zM786 312.38h1v26.07h-1zM463 364.52h1v26.07h-1zM620 364.52h1v26.07h-1zM831 364.52h1v26.07h-1zM882 390.6h1v26.07h-1zM884 390.6h1v26.07h-1zM542 442.75h1v26.07h-1zM554 468.82h1v26.07h-1zM390 494.9h1v26.07h-1zM856 494.9h1v26.07h-1zM606 547.05h1v26.07h-1zM899 547.05h1v26.07h-1zM539 573.12h1v26.07h-1zM851 573.12h1v26.07h-1zM562 599.2h1v26.07h-1zM628 599.2h1v26.07h-1zM901 599.2h1v26.07h-1zM886 625.27h1v26.07h-1zM832 651.35h1v26.07h-1z"/><path fill="#64d" d="M838 182.0h1v26.07h-1zM894 208.07h1v26.07h-1zM941 208.07h1v26.07h-1zM418 234.15h1v26.07h-1zM478 234.15h1v26.07h-1zM527 234.15h1v26.07h-1zM599 260.23h1v26.07h-1zM393 286.3h1v26.07h-1zM681 286.3h1v26.07h-1zM536 312.38h1v26.07h-1zM588 312.38h1v26.07h-1zM786 338.45h1v26.07h-1zM739 364.52h1v26.07h-1zM766 364.52h1v26.07h-1zM553 416.67h1v26.07h-1zM761 416.67h1v26.07h-1zM862 416.67h1v26.07h-1zM481 468.82h1v26.07h-1zM433 494.9h1v26.07h-1zM816 494.9h1v26.07h-1zM920 520.97h1v26.07h-1zM653 547.05h1v26.07h-1zM728 547.05h1v26.07h-1zM764 547.05h1v26.07h-1zM830 547.05h1v26.07h-1zM927 547.05h1v26.07h-1zM980 547.05h1v26.07h-1zM817 573.12h1v26.07h-1zM437 599.2h1v26.07h-1zM472 625.27h1v26.07h-1zM496 625.27h1v26.07h-1zM526 651.35h1v26.07h-1zM724 677.42h1v26.07h-1z"/><path fill="#938" d="M843 182.0h1v26.07h-1zM589 547.05h1v26.07h-1zM825 651.35h1v26.07h-1zM382 677.42h1v26.07h-1z"/><path fill="#41c" d="M844 182.0h1v26.07h-1zM399 286.3h1v26.07h-1zM543 286.3h1v26.07h-1zM403 312.38h1v26.07h-1zM672 312.38h1v26.07h-1zM770 338.45h1v26.07h-1zM817 338.45h1v26.07h-1zM813 364.52h1v26.07h-1zM817 364.52h1v26.07h-1zM904 390.6h1v26.07h-1zM397 416.67h1v26.07h-1zM775 416.67h1v26.07h-1zM931 416.67h1v26.07h-1zM463 442.75h1v26.07h-1zM308 494.9h1v26.07h-1zM672 520.97h1v26.07h-1zM824 547.05h1v26.07h-1z"/><path fill="#d67" d="M851 182.0h1v26.07h-1zM591 208.07h1v26.07h-1zM571 260.23h1v26.07h-1zM410 390.6h1v26.07h-1zM495 390.6h1v26.07h-1zM420 573.12h1v26.07h-1zM928 625.27h1v26.07h-1z"/><path fill="#b05" d="M855 182.0h1v26.07h-1zM869 182.0h1v26.07h-1zM448 208.07h1v26.07h-1zM494 208.07h1v26.07h-1zM766 208.07h1v26.07h-1zM817 208.07h1v26.07h-1zM703 286.3h1v26.07h-1zM753 286.3h1v26.07h-1zM782 286.3h1v26.07h-1zM514 442.75h1v26.07h-1zM579 442.75h1v26.07h-1zM849 494.9h1v26.07h-1zM410 547.05h1v26.07h-1zM703 547.05h1v26.07h-1zM942 547.05h1v26.07h-1zM637 573.12h1v26.07h-1zM463 599.2h1v26.07h-1zM925 599.2h1v26.07h-1zM875 625.27h1v26.07h-1zM379 651.35h1v26.07h-1z"/><path fill="#b04" d="M858 182.0h1v26.07h-1zM904 182.0h1v26.07h-1zM820 208.07h1v26.07h-1zM377 260.23h1v26.07h-1zM408 286.3h1v26.07h-1zM434 312.38h1v26.07h-1zM643 338.45h1v26.07h-1zM523 416.67h1v26.07h-1zM554 442.75h1v26.07h-1zM594 547.05h1v26.07h-1zM974 547.05h1v26.07h-1zM998 547.05h1v26.07h-1zM474 599.2h1v26.07h-1zM517 625.27h1v26.07h-1zM543 677.42h1v26.07h-1zM989 677.42h1v26.07h-1z"/><path fill="#65f" d="M862 182.0h1v26.07h-1zM931 208.07h1v26.07h-1zM423 286.3h1v26.07h-1zM428 312.38h1v26.07h-1zM408 494.9h1v26.07h-1zM408 547.05h1v26.07h-1zM936 547.05h1v26.07h-1zM537 651.35h1v26.07h-1zM824 677.42h1v26.07h-1z"/><path fill="#83a" d="M866 182.0h1v26.07h-1zM577 208.07h1v26.07h-1zM861 208.07h1v26.07h-1zM876 208.07h1v26.07h-1zM542 260.23h1v26.07h-1zM867 260.23h1v26.07h-1zM628 312.38h1v26.07h-1zM700 312.38h1v26.07h-1zM561 338.45h1v26.07h-1zM925 338.45h1v26.07h-1zM934 338.45h1v26.07h-1zM767 390.6h1v26.07h-1zM870 416.67h1v26.07h-1zM853 442.75h1v26.07h-1zM505 494.9h1v26.07h-1zM541 494.9h1v26.07h-1zM807 494.9h1v26.07h-1zM881 520.97h1v26.07h-1zM545 547.05h1v26.07h-1zM354 599.2h1v26.07h-1zM505 599.2h1v26.07h-1zM577 625.27h1v26.07h-1zM486 651.35h1v26.07h-1zM634 651.35h1v26.07h-1zM622 677.42h1v26.07h-1z"/><path fill="#bbe" d="M871 182.0h1v26.07h-1zM759 208.07h1v26.07h-1zM412 234.15h1v26.07h-1zM721 234.15h1v26.07h-1zM329 286.3h1v26.07h-1zM788 338.45h1v26.07h-1zM503 468.82h1v26.07h-1zM793 573.12h1v26.07h-1z"/><path fill="#c8b" d="M885 182.0h1v26.07h-1zM548 208.07h1v26.07h-1zM459 260.23h1v26.07h-1zM493 260.23h1v26.07h-1zM927 260.23h1v26.07h-1zM806 312.38h1v26.07h-1zM503 338.45h1v26.07h-1zM826 364.52h1v26.07h-1zM570 390.6h1v26.07h-1zM781 416.67h1v26.07h-1zM392 468.82h1v26.07h-1zM396 520.97h1v26.07h-1zM877 520.97h1v26.07h-1zM392 547.05h1v26.07h-1zM483 547.05h1v26.07h-1zM532 547.05h1v26.07h-1zM614 547.05h1v26.07h-1zM768 547.05h1v26.07h-1zM433 573.12h1v26.07h-1zM789 573.12h1v26.07h-1zM965 573.12h1v26.07h-1zM507 651.35h1v26.07h-1zM881 677.42h1v26.07h-1z"/><path fill="#b7c" d="M886 182.0h1v26.07h-1zM797 208.07h1v26.07h-1zM873 208.07h1v26.07h-1zM837 260.23h1v26.07h-1zM743 286.3h1v26.07h-1zM706 312.38h1v26.07h-1zM523 390.6h1v26.07h-1zM819 390.6h1v26.07h-1zM536 442.75h1v26.07h-1zM689 494.9h1v26.07h-1zM865 494.9h1v26.07h-1zM805 547.05h1v26.07h-1zM779 573.12h1v26.07h-1zM541 625.27h1v26.07h-1zM800 651.35h1v26.07h-1z"/><path fill="#906" d="M888 182.0h1v26.07h-1zM538 208.07h1v26.07h-1zM821 208.07h1v26.07h-1zM745 260.23h1v26.07h-1zM763 260.23h1v26.07h-1zM373 286.3h1v26.07h-1zM438 286.3h1v26.07h-1zM478 286.3h1v26.07h-1zM558 286.3h1v26.07h-1zM687 286.3h1v26.07h-1zM964 286.3h1v26.07h-1zM513 312.38h1v26.07h-1zM327 338.45h1v26.07h-1zM533 338.45h1v26.07h-1zM894 338.45h1v26.07h-1zM906 338.45h1v26.07h-1zM498 364.52h1v26.07h-1zM424 390.6h1v26.07h-1zM725 390.6h1v26.07h-1zM478 416.67h1v26.07h-1zM868 416.67h1v26.07h-1zM903 416.67h1v26.07h-1zM912 416.67h1v26.07h-1zM513 442.75h1v26.07h-1zM604 442.75h1v26.07h-1zM807 442.75h1v26.07h-1zM821 442.75h1v26.07h-1zM999 442.75h1v26.07h-1zM769 468.82h1v26.07h-1zM458 520.97h1v26.07h-1zM874 547.05h1v26.07h-1zM926 547.05h1v26.07h-1zM993 547.05h1v26.07h-1zM638 573.12h1v26.07h-1zM578 599.2h1v26.07h-1zM812 651.35h1v26.07h-1zM613 677.42h1v26.07h-1zM988 677.42h1v26.07h-1z"/><path fill="#f23" d="M891 182.0h1v26.07h-1zM887 312.38h1v26.07h-1zM958 364.52h1v26.07h-1zM942 573.12h1v26.07h-1z"/><path fill="#94a" d="M903 182.0h1v26.07h-1zM722 234.15h1v26.07h-1zM859 234.15h1v26.07h-1zM393 260.23h1v26.07h-1zM398 338.45h1v26.07h-1zM807 338.45h1v26.07h-1zM433 364.52h1v26.07h-1zM516 390.6h1v26.07h-1zM298 416.67h1v26.07h-1zM362 416.67h1v26.07h-1zM727 442.75h1v26.07h-1zM986 442.75h1v26.07h-1zM418 494.9h1v26.07h-1zM453 494.9h1v26.07h-1zM491 494.9h1v26.07h-1zM731 494.9h1v26.07h-1zM451 520.97h1v26.07h-1zM682 547.05h1v26.07h-1zM711 547.05h1v26.07h-1zM819 547.05h1v26.07h-1zM547 573.12h1v26.07h-1zM596 599.2h1v26.07h-1zM767 599.2h1v26.07h-1zM845 625.27h1v26.07h-1zM874 625.27h1v26.07h-1zM700 651.35h1v26.07h-1zM981 677.42h1v26.07h-1z"/><path fill="#51c" d="M909 182.0h1v26.07h-1zM922 208.07h1v26.07h-1zM408 234.15h1v26.07h-1zM490 286.3h1v26.07h-1zM559 286.3h1v26.07h-1zM368 312.38h1v26.07h-1zM878 312.38h1v26.07h-1zM523 338.45h1v26.07h-1zM826 338.45h1v26.07h-1zM755 364.52h1v26.07h-1zM617 390.6h1v26.07h-1zM472 416.67h1v26.07h-1zM590 494.9h1v26.07h-1zM891 494.9h1v26.07h-1zM570 547.05h1v26.07h-1zM853 547.05h1v26.07h-1zM394 625.27h1v26.07h-1zM401 651.35h1v26.07h-1zM532 651.35h1v26.07h-1zM437 677.42h1v26.07h-1z"/><path fill="#c24" d="M916 182.0h1v26.07h-1zM597 234.15h1v26.07h-1zM985 234.15h1v26.07h-1zM577 573.12h1v26.07h-1z"/><path fill="#c14" d="M922 182.0h1v26.07h-1zM992 182.0h1v26.07h-1zM617 234.15h1v26.07h-1zM882 234.15h1v26.07h-1zM898 234.15h1v26.07h-1zM372 312.38h1v26.07h-1zM539 364.52h1v26.07h-1zM817 442.75h1v26.07h-1zM773 547.05h1v26.07h-1zM528 599.2h1v26.07h-1zM916 599.2h1v26.07h-1zM597 625.27h1v26.07h-1zM619 651.35h1v26.07h-1z"/><path fill="#a7d" d="M923 182.0h1v26.07h-1zM551 234.15h1v26.07h-1zM961 286.3h1v26.07h-1zM607 338.45h1v26.07h-1zM877 390.6h1v26.07h-1zM870 442.75h1v26.07h-1zM507 547.05h1v26.07h-1zM758 651.35h1v26.07h-1zM368 677.42h1v26.07h-1z"/><path fill="#d9b" d="M956 182.0h1v26.07h-1zM961 182.0h1v26.07h-1zM929 208.07h1v26.07h-1zM994 208.07h1v26.07h-1zM461 234.15h1v26.07h-1zM579 234.15h1v26.07h-1zM784 234.15h1v26.07h-1zM931 234.15h1v26.07h-1zM509 260.23h1v26.07h-1zM819 260.23h1v26.07h-1zM988 260.23h1v26.07h-1zM466 286.3h1v26.07h-1zM529 286.3h1v26.07h-1zM543 312.38h1v26.07h-1zM783 312.38h1v26.07h-1zM967 312.38h1v26.07h-1zM879 338.45h1v26.07h-1zM487 364.52h1v26.07h-1zM804 364.52h1v26.07h-1zM530 390.6h1v26.07h-1zM579 390.6h1v26.07h-1zM908 390.6h1v26.07h-1zM570 416.67h1v26.07h-1zM553 468.82h1v26.07h-1zM775 468.82h1v26.07h-1zM878 468.82h1v26.07h-1zM874 494.9h1v26.07h-1zM543 520.97h1v26.07h-1zM767 520.97h1v26.07h-1zM824 520.97h1v26.07h-1zM459 547.05h1v26.07h-1zM608 547.05h1v26.07h-1zM690 547.05h1v26.07h-1zM791 547.05h1v26.07h-1zM869 547.05h1v26.07h-1zM344 573.12h1v26.07h-1zM856 625.27h1v26.07h-1zM958 625.27h1v26.07h-1zM367 651.35h1v26.07h-1zM400 651.35h1v26.07h-1zM789 651.35h1v26.07h-1zM808 651.35h1v26.07h-1zM459 677.42h1v26.07h-1zM873 677.42h1v26.07h-1z"/><path fill="#e45" d="M960 182.0h1v26.07h-1zM588 208.07h1v26.07h-1zM923 208.07h1v26.07h-1zM566 260.23h1v26.07h-1zM590 260.23h1v26.07h-1zM924 260.23h1v26.07h-1zM355 286.3h1v26.07h-1zM383 286.3h1v26.07h-1zM468 286.3h1v26.07h-1zM857 286.3h1v26.07h-1zM887 286.3h1v26.07h-1zM532 312.38h1v26.07h-1zM773 312.38h1v26.07h-1zM840 312.38h1v26.07h-1zM923 312.38h1v26.07h-1zM943 312.38h1v26.07h-1zM588 338.45h1v26.07h-1zM835 338.45h1v26.07h-1zM519 364.52h1v26.07h-1zM991 364.52h1v26.07h-1zM474 390.6h1v26.07h-1zM588 390.6h1v26.07h-1zM623 390.6h1v26.07h-1zM446 416.67h1v26.07h-1zM476 416.67h1v26.07h-1zM597 416.67h1v26.07h-1zM572 468.82h1v26.07h-1zM829 468.82h1v26.07h-1zM565 494.9h1v26.07h-1zM443 547.05h1v26.07h-1zM583 547.05h1v26.07h-1zM898 547.05h1v26.07h-1zM555 573.12h1v26.07h-1zM588 573.12h1v26.07h-1zM773 573.12h1v26.07h-1zM813 573.12h1v26.07h-1zM426 599.2h1v26.07h-1zM601 599.2h1v26.07h-1zM839 599.2h1v26.07h-1zM927 599.2h1v26.07h-1zM943 599.2h1v26.07h-1zM818 651.35h1v26.07h-1zM876 651.35h1v26.07h-1zM882 651.35h1v26.07h-1zM949 651.35h1v26.07h-1zM953 651.35h1v26.07h-1zM470 677.42h1v26.07h-1zM546 677.42h1v26.07h-1z"/><path fill="#d02" d="M967 182.0h1v26.07h-1zM1014 182.0h1v26.07h-1zM889 208.07h1v26.07h-1zM929 234.15h1v26.07h-1zM661 260.23h1v26.07h-1zM561 390.6h1v26.07h-1zM412 416.67h1v26.07h-1zM552 416.67h1v26.07h-1zM552 442.75h1v26.07h-1zM853 573.12h1v26.07h-1z"/><path fill="#75d" d="M968 182.0h1v26.07h-1zM854 208.07h1v26.07h-1zM371 234.15h1v26.07h-1zM505 234.15h1v26.07h-1zM832 234.15h1v26.07h-1zM909 234.15h1v26.07h-1zM482 260.23h1v26.07h-1zM864 260.23h1v26.07h-1zM396 286.3h1v26.07h-1zM408 312.38h1v26.07h-1zM486 312.38h1v26.07h-1zM422 338.45h1v26.07h-1zM758 338.45h1v26.07h-1zM856 338.45h1v26.07h-1zM862 338.45h1v26.07h-1zM528 390.6h1v26.07h-1zM331 416.67h1v26.07h-1zM696 416.67h1v26.07h-1zM834 416.67h1v26.07h-1zM905 416.67h1v26.07h-1zM761 442.75h1v26.07h-1zM834 442.75h1v26.07h-1zM901 442.75h1v26.07h-1zM732 468.82h1v26.07h-1zM512 494.9h1v26.07h-1zM519 494.9h1v26.07h-1zM797 494.9h1v26.07h-1zM391 520.97h1v26.07h-1zM808 520.97h1v26.07h-1zM530 599.2h1v26.07h-1zM552 625.27h1v26.07h-1zM471 651.35h1v26.07h-1zM465 677.42h1v26.07h-1zM794 677.42h1v26.07h-1zM840 677.42h1v26.07h-1z"/><path fill="#d13" d="M994 182.0h1v26.07h-1zM599 208.07h1v26.07h-1zM630 234.15h1v26.07h-1zM880 260.23h1v26.07h-1zM949 260.23h1v26.07h-1zM490 312.38h1v26.07h-1zM632 338.45h1v26.07h-1zM766 390.6h1v26.07h-1zM958 442.75h1v26.07h-1zM1023 442.75h1v26.07h-1zM530 468.82h1v26.07h-1zM610 520.97h1v26.07h-1zM958 520.97h1v26.07h-1zM909 625.27h1v26.07h-1z"/><path fill="#927" d="M995 182.0h1v26.07h-1zM600 208.07h1v26.07h-1zM939 260.23h1v26.07h-1zM631 338.45h1v26.07h-1zM939 416.67h1v26.07h-1zM560 442.75h1v26.07h-1zM531 520.97h1v26.07h-1zM814 599.2h1v26.07h-1zM560 651.35h1v26.07h-1z"/><path fill="#84b" d="M1013 182.0h1v26.07h-1zM796 208.07h1v26.07h-1zM822 208.07h1v26.07h-1zM318 312.38h1v26.07h-1zM541 338.45h1v26.07h-1zM799 390.6h1v26.07h-1zM528 416.67h1v26.07h-1zM764 416.67h1v26.07h-1zM863 416.67h1v26.07h-1zM916 442.75h1v26.07h-1zM816 468.82h1v26.07h-1zM348 547.05h1v26.07h-1zM445 547.05h1v26.07h-1zM913 547.05h1v26.07h-1zM475 573.12h1v26.07h-1zM967 573.12h1v26.07h-1zM576 599.2h1v26.07h-1zM815 599.2h1v26.07h-1zM817 599.2h1v26.07h-1zM899 599.2h1v26.07h-1zM383 677.42h1v26.07h-1zM523 677.42h1v26.07h-1z"/><path fill="#84c" d="M320 208.07h1v26.07h-1zM331 390.6h1v26.07h-1zM371 442.75h1v26.07h-1zM814 442.75h1v26.07h-1zM451 468.82h1v26.07h-1zM756 573.12h1v26.07h-1z"/><path fill="#54e" d="M321 208.07h1v26.07h-1zM461 208.07h1v26.07h-1zM477 208.07h1v26.07h-1zM800 208.07h1v26.07h-1zM399 234.15h1v26.07h-1zM552 234.15h1v26.07h-1zM565 234.15h1v26.07h-1zM904 234.15h1v26.07h-1zM695 260.23h1v26.07h-1zM750 286.3h1v26.07h-1zM764 286.3h1v26.07h-1zM336 312.38h1v26.07h-1zM818 312.38h1v26.07h-1zM855 312.38h1v26.07h-1zM432 338.45h1v26.07h-1zM752 338.45h1v26.07h-1zM761 338.45h1v26.07h-1zM802 364.52h1v26.07h-1zM546 390.6h1v26.07h-1zM905 390.6h1v26.07h-1zM519 416.67h1v26.07h-1zM512 468.82h1v26.07h-1zM786 468.82h1v26.07h-1zM954 494.9h1v26.07h-1zM376 520.97h1v26.07h-1zM723 520.97h1v26.07h-1zM826 520.97h1v26.07h-1zM838 520.97h1v26.07h-1zM554 547.05h1v26.07h-1zM710 547.05h1v26.07h-1zM455 573.12h1v26.07h-1zM465 573.12h1v26.07h-1zM806 573.12h1v26.07h-1zM826 573.12h1v26.07h-1zM943 573.12h1v26.07h-1zM819 599.2h1v26.07h-1zM911 599.2h1v26.07h-1zM481 625.27h1v26.07h-1zM490 625.27h1v26.07h-1zM833 625.27h1v26.07h-1zM376 651.35h1v26.07h-1zM443 651.35h1v26.07h-1zM450 651.35h1v26.07h-1zM479 651.35h1v26.07h-1zM838 651.35h1v26.07h-1zM419 677.42h1v26.07h-1zM761 677.42h1v26.07h-1zM780 677.42h2v26.07h-2z"/><path fill="#73c" d="M334 208.07h1v26.07h-1zM788 234.15h1v26.07h-1zM692 416.67h1v26.07h-1zM904 442.75h1v26.07h-1z"/><path fill="#a4a" d="M336 208.07h1v26.07h-1zM952 208.07h1v26.07h-1zM772 286.3h1v26.07h-1zM675 416.67h1v26.07h-1zM555 547.05h1v26.07h-1zM396 651.35h1v26.07h-1z"/><path fill="#e46" d="M344 208.07h1v26.07h-1zM763 286.3h1v26.07h-1zM447 416.67h1v26.07h-1zM728 520.97h1v26.07h-1zM627 625.27h1v26.07h-1zM488 651.35h1v26.07h-1z"/><path fill="#10f" d="M354 208.07h1v26.07h-1zM474 234.15h1v26.07h-1zM494 312.38h1v26.07h-1zM674 416.67h1v26.07h-1zM706 416.67h1v26.07h-1zM374 520.97h1v26.07h-1zM706 625.27h1v26.07h-1zM414 651.35h1v26.07h-1z"/><path fill="#a8c" d="M391 208.07h1v26.07h-1zM510 286.3h1v26.07h-1zM552 312.38h1v26.07h-1zM445 416.67h1v26.07h-1zM930 573.12h1v26.07h-1zM423 599.2h1v26.07h-1zM572 599.2h1v26.07h-1zM360 625.27h1v26.07h-1z"/><path fill="#fab" d="M397 208.07h1v26.07h-1zM608 286.3h1v26.07h-1zM463 547.05h1v26.07h-1zM537 677.42h1v26.07h-1z"/><path fill="#98d" d="M412 208.07h1v26.07h-1zM699 312.38h1v26.07h-1zM378 390.6h1v26.07h-1zM382 390.6h1v26.07h-1zM586 390.6h1v26.07h-1zM623 442.75h1v26.07h-1zM625 625.27h1v26.07h-1zM909 677.42h1v26.07h-1z"/><path fill="#b8d" d="M417 208.07h1v26.07h-1zM793 234.15h1v26.07h-1zM359 260.23h1v26.07h-1zM343 286.3h1v26.07h-1zM752 286.3h1v26.07h-1zM759 312.38h1v26.07h-1zM417 338.45h1v26.07h-1zM730 338.45h1v26.07h-1zM772 338.45h1v26.07h-1zM885 468.82h1v26.07h-1zM726 547.05h1v26.07h-1z"/><path fill="#dac" d="M428 208.07h1v26.07h-1zM672 208.07h1v26.07h-1zM813 208.07h1v26.07h-1zM896 208.07h1v26.07h-1zM934 208.07h1v26.07h-1zM359 234.15h1v26.07h-1zM765 234.15h1v26.07h-1zM840 234.15h1v26.07h-1zM430 260.23h1v26.07h-1zM539 260.23h1v26.07h-1zM299 286.3h1v26.07h-1zM481 286.3h1v26.07h-1zM600 286.3h1v26.07h-1zM989 286.3h1v26.07h-1zM478 312.38h1v26.07h-1zM583 312.38h1v26.07h-1zM891 312.38h1v26.07h-1zM858 338.45h1v26.07h-1zM541 364.52h1v26.07h-1zM588 364.52h1v26.07h-1zM416 390.6h1v26.07h-1zM565 390.6h1v26.07h-1zM808 390.6h1v26.07h-1zM509 416.67h1v26.07h-1zM773 416.67h1v26.07h-1zM902 416.67h1v26.07h-1zM511 442.75h1v26.07h-1zM756 442.75h1v26.07h-1zM760 442.75h1v26.07h-1zM788 442.75h1v26.07h-1zM610 468.82h1v26.07h-1zM333 494.9h1v26.07h-1zM450 520.97h1v26.07h-1zM889 520.97h1v26.07h-1zM912 520.97h1v26.07h-1zM293 547.05h1v26.07h-1zM453 547.05h1v26.07h-1zM795 573.12h1v26.07h-1zM360 599.2h1v26.07h-1zM361 625.27h1v26.07h-1zM854 651.35h1v26.07h-1zM860 677.42h1v26.07h-1zM871 677.42h1v26.07h-1zM876 677.42h1v26.07h-1z"/><path fill="#b7a" d="M429 208.07h1v26.07h-1zM735 234.15h1v26.07h-1zM737 338.45h1v26.07h-1zM773 390.6h1v26.07h-1zM951 390.6h1v26.07h-1zM548 442.75h1v26.07h-1zM759 573.12h1v26.07h-1z"/><path fill="#c58" d="M441 208.07h1v26.07h-1zM535 208.07h1v26.07h-1zM580 208.07h1v26.07h-1zM756 234.15h1v26.07h-1zM940 286.3h1v26.07h-1zM430 312.38h1v26.07h-1zM766 312.38h1v26.07h-1zM508 364.52h1v26.07h-1zM510 364.52h1v26.07h-1zM889 364.52h1v26.07h-1zM752 390.6h1v26.07h-1zM926 390.6h1v26.07h-1zM430 416.67h1v26.07h-1zM462 416.67h1v26.07h-1zM427 468.82h1v26.07h-1zM437 468.82h1v26.07h-1zM782 468.82h1v26.07h-1zM482 547.05h1v26.07h-1zM901 573.12h1v26.07h-1zM777 599.2h1v26.07h-1zM869 599.2h1v26.07h-1zM890 599.2h1v26.07h-1zM842 625.27h1v26.07h-1zM459 651.35h1v26.07h-1zM759 677.42h1v26.07h-1z"/><path fill="#a48" d="M455 208.07h1v26.07h-1zM562 234.15h1v26.07h-1zM863 286.3h1v26.07h-1zM946 390.6h1v26.07h-1zM886 494.9h1v26.07h-1zM422 547.05h1v26.07h-1zM534 547.05h1v26.07h-1zM946 599.2h1v26.07h-1z"/><path fill="#a15" d="M456 208.07h1v26.07h-1zM751 286.3h1v26.07h-1zM596 468.82h1v26.07h-1zM885 494.9h1v26.07h-1z"/><path fill="#74b" d="M463 208.07h1v26.07h-1z"/><path fill="#c9d" d="M468 208.07h1v26.07h-1zM809 208.07h1v26.07h-1zM898 208.07h1v26.07h-1zM435 234.15h1v26.07h-1zM486 260.23h1v26.07h-1zM922 260.23h1v26.07h-1zM321 286.3h1v26.07h-1zM848 286.3h1v26.07h-1zM556 312.38h1v26.07h-1zM741 338.45h1v26.07h-1zM546 416.67h1v26.07h-1zM938 416.67h1v26.07h-1zM492 468.82h1v26.07h-1zM545 520.97h1v26.07h-1zM867 520.97h1v26.07h-1zM748 547.05h1v26.07h-1zM452 599.2h1v26.07h-1zM557 651.35h1v26.07h-1z"/><path fill="#94b" d="M469 208.07h1v26.07h-1zM489 364.52h1v26.07h-1zM529 390.6h1v26.07h-1zM923 390.6h1v26.07h-1zM429 494.9h1v26.07h-1zM471 520.97h1v26.07h-1zM469 547.05h1v26.07h-1zM823 651.35h1v26.07h-1z"/><path fill="#43e" d="M479 208.07h1v26.07h-1zM417 234.15h1v26.07h-1zM773 234.15h1v26.07h-1zM844 260.23h1v26.07h-1zM370 286.3h1v26.07h-1zM388 286.3h1v26.07h-1zM541 286.3h1v26.07h-1zM893 286.3h1v26.07h-1zM374 312.38h1v26.07h-1zM911 312.38h1v26.07h-1zM328 338.45h1v26.07h-1zM846 338.45h1v26.07h-1zM735 364.52h1v26.07h-1zM764 364.52h1v26.07h-1zM755 416.67h1v26.07h-1zM430 442.75h1v26.07h-1zM753 442.75h1v26.07h-1zM869 442.75h1v26.07h-1zM330 468.82h1v26.07h-1zM352 468.82h1v26.07h-1zM361 494.9h1v26.07h-1zM430 547.05h1v26.07h-1zM503 547.05h1v26.07h-1zM483 573.12h1v26.07h-1zM503 573.12h1v26.07h-1zM882 573.12h1v26.07h-1zM773 599.2h1v26.07h-1zM399 651.35h1v26.07h-1zM432 651.35h1v26.07h-1zM570 651.35h1v26.07h-1zM403 677.42h1v26.07h-1zM755 677.42h1v26.07h-1zM911 677.42h1v26.07h-1z"/><path fill="#74d" d="M481 208.07h1v26.07h-1zM329 234.15h1v26.07h-1zM717 312.38h1v26.07h-1zM419 364.52h1v26.07h-1zM774 599.2h1v26.07h-1zM541 677.42h1v26.07h-1zM856 677.42h1v26.07h-1z"/><path fill="#f56" d="M497 208.07h1v26.07h-1zM481 364.52h1v26.07h-1zM822 442.75h1v26.07h-1zM918 677.42h1v26.07h-1z"/><path fill="#a7b" d="M508 208.07h1v26.07h-1zM521 338.45h1v26.07h-1zM342 364.52h1v26.07h-1zM443 442.75h1v26.07h-1zM462 520.97h1v26.07h-1zM483 599.2h1v26.07h-1zM602 651.35h1v26.07h-1z"/><path fill="#77e" d="M511 208.07h1v26.07h-1zM854 338.45h1v26.07h-1zM854 494.9h1v26.07h-1zM450 547.05h1v26.07h-1zM723 547.05h1v26.07h-1zM747 547.05h1v26.07h-1zM920 547.05h1v26.07h-1zM776 573.12h1v26.07h-1zM439 625.27h1v26.07h-1zM843 625.27h1v26.07h-1z"/><path fill="#41b" d="M517 208.07h1v26.07h-1zM802 390.6h1v26.07h-1zM808 494.9h1v26.07h-1z"/><path fill="#d45" d="M519 208.07h1v26.07h-1zM595 208.07h1v26.07h-1z"/><path fill="#b8c" d="M520 208.07h1v26.07h-1zM904 208.07h1v26.07h-1zM949 208.07h1v26.07h-1zM469 234.15h1v26.07h-1zM493 234.15h1v26.07h-1zM438 260.23h1v26.07h-1zM473 260.23h1v26.07h-1zM555 260.23h1v26.07h-1zM672 260.23h1v26.07h-1zM324 286.3h1v26.07h-1zM381 286.3h1v26.07h-1zM405 286.3h1v26.07h-1zM521 286.3h1v26.07h-1zM747 286.3h1v26.07h-1zM759 286.3h1v26.07h-1zM813 312.38h1v26.07h-1zM981 312.38h1v26.07h-1zM529 338.45h1v26.07h-1zM599 338.45h1v26.07h-1zM360 390.6h1v26.07h-1zM362 390.6h1v26.07h-1zM447 390.6h1v26.07h-1zM705 390.6h1v26.07h-1zM792 390.6h1v26.07h-1zM848 390.6h1v26.07h-1zM321 442.75h1v26.07h-1zM943 442.75h1v26.07h-1zM857 468.82h1v26.07h-1zM791 520.97h1v26.07h-1zM379 547.05h1v26.07h-1zM567 547.05h1v26.07h-1zM706 547.05h1v26.07h-1zM454 573.12h1v26.07h-1zM530 573.12h1v26.07h-1zM492 599.2h1v26.07h-1zM731 625.27h1v26.07h-1z"/><path fill="#829" d="M522 208.07h1v26.07h-1zM482 234.15h1v26.07h-1zM890 234.15h1v26.07h-1zM460 260.23h1v26.07h-1zM587 286.3h1v26.07h-1zM785 286.3h1v26.07h-1zM912 286.3h1v26.07h-1zM785 338.45h1v26.07h-1zM493 416.67h1v26.07h-1zM522 416.67h1v26.07h-1zM582 416.67h1v26.07h-1zM861 416.67h1v26.07h-1zM482 442.75h1v26.07h-1zM861 468.82h1v26.07h-1zM473 494.9h1v26.07h-1zM507 494.9h1v26.07h-1zM331 520.97h1v26.07h-1zM843 520.97h1v26.07h-1zM389 547.05h1v26.07h-1zM531 547.05h1v26.07h-1zM796 573.12h1v26.07h-1zM834 573.12h1v26.07h-1zM888 573.12h1v26.07h-1zM387 599.2h1v26.07h-1zM823 625.27h1v26.07h-1zM544 651.35h1v26.07h-1zM698 651.35h1v26.07h-1zM542 677.42h1v26.07h-1zM843 677.42h1v26.07h-1z"/><path fill="#21f" d="M532 208.07h1v26.07h-1zM352 260.23h1v26.07h-1zM777 260.23h1v26.07h-1zM784 416.67h1v26.07h-1zM898 468.82h1v26.07h-1zM439 547.05h1v26.07h-1zM788 573.12h1v26.07h-1zM793 599.2h1v26.07h-1zM822 651.35h1v26.07h-1z"/><path fill="#a27" d="M553 208.07h1v26.07h-1zM864 208.07h1v26.07h-1zM438 234.15h1v26.07h-1zM871 234.15h1v26.07h-1zM901 234.15h1v26.07h-1zM968 234.15h1v26.07h-1zM376 260.23h1v26.07h-1zM914 260.23h1v26.07h-1zM455 286.3h1v26.07h-1zM495 286.3h1v26.07h-1zM836 286.3h1v26.07h-1zM832 338.45h1v26.07h-1zM713 364.52h1v26.07h-1zM425 390.6h1v26.07h-1zM904 416.67h1v26.07h-1zM1024 442.75h1v26.07h-1zM348 468.82h1v26.07h-1zM765 468.82h1v26.07h-1zM542 494.9h1v26.07h-1zM400 520.97h1v26.07h-1zM718 520.97h1v26.07h-1zM376 547.05h1v26.07h-1zM511 547.05h1v26.07h-1zM770 573.12h1v26.07h-1zM580 599.2h1v26.07h-1zM899 625.27h1v26.07h-1zM513 651.35h1v26.07h-1zM708 651.35h1v26.07h-1zM872 677.42h1v26.07h-1z"/><path fill="#c48" d="M554 208.07h1v26.07h-1zM977 260.23h1v26.07h-1zM756 364.52h1v26.07h-1zM995 547.05h1v26.07h-1zM531 651.35h1v26.07h-1z"/><path fill="#e55" d="M555 208.07h1v26.07h-1zM572 260.23h1v26.07h-1zM923 260.23h1v26.07h-1zM944 312.38h1v26.07h-1zM848 338.45h1v26.07h-1zM885 416.67h1v26.07h-1zM916 494.9h1v26.07h-1zM615 625.27h2v26.07h-2zM877 651.35h1v26.07h-1z"/><path fill="#e57" d="M589 208.07h1v26.07h-1zM569 338.45h1v26.07h-1zM589 338.45h1v26.07h-1zM959 390.6h1v26.07h-1zM839 547.05h1v26.07h-1zM504 573.12h1v26.07h-1zM629 599.2h1v26.07h-1zM389 625.27h1v26.07h-1zM489 651.35h1v26.07h-1z"/><path fill="#e35" d="M592 208.07h1v26.07h-1zM508 234.15h1v26.07h-1zM795 260.23h1v26.07h-1zM512 286.3h1v26.07h-1zM907 312.38h1v26.07h-1zM960 312.38h1v26.07h-1zM592 573.12h1v26.07h-1zM563 599.2h1v26.07h-1zM835 625.27h1v26.07h-1z"/><path fill="#b58" d="M721 208.07h1v26.07h-1zM428 468.82h1v26.07h-1zM562 494.9h1v26.07h-1z"/><path fill="#63d" d="M744 208.07h1v26.07h-1zM507 312.38h1v26.07h-1zM507 677.42h1v26.07h-1z"/><path fill="#63b" d="M745 208.07h1v26.07h-1zM816 234.15h1v26.07h-1zM337 442.75h1v26.07h-1zM778 547.05h1v26.07h-1zM879 651.35h1v26.07h-1z"/><path fill="#30d" d="M748 208.07h1v26.07h-1zM804 573.12h1v26.07h-1z"/><path fill="#55e" d="M773 208.07h1v26.07h-1zM435 260.23h1v26.07h-1zM772 260.23h1v26.07h-1zM354 286.3h1v26.07h-1zM456 390.6h1v26.07h-1zM885 390.6h1v26.07h-1zM479 625.27h1v26.07h-1z"/><path fill="#20d" d="M786 208.07h1v26.07h-1zM361 260.23h1v26.07h-1zM871 260.23h1v26.07h-1zM461 286.3h1v26.07h-1zM470 312.38h1v26.07h-1zM842 390.6h1v26.07h-1zM833 547.05h1v26.07h-1zM421 599.2h1v26.07h-1zM813 651.35h1v26.07h-1zM421 677.42h1v26.07h-1zM929 677.42h1v26.07h-1z"/><path fill="#928" d="M816 208.07h1v26.07h-1zM640 234.15h1v26.07h-1zM484 286.3h1v26.07h-1zM304 312.38h1v26.07h-1zM464 416.67h1v26.07h-1zM458 442.75h1v26.07h-1zM740 442.75h1v26.07h-1zM961 442.75h1v26.07h-1zM504 468.82h1v26.07h-1zM890 468.82h1v26.07h-1zM611 520.97h1v26.07h-1zM393 547.05h1v26.07h-1zM413 599.2h1v26.07h-1zM378 625.27h1v26.07h-1zM404 625.27h1v26.07h-1zM338 677.42h1v26.07h-1zM609 677.42h1v26.07h-1z"/><path fill="#a6b" d="M819 208.07h1v26.07h-1zM903 208.07h1v26.07h-1zM363 260.23h1v26.07h-1zM458 260.23h1v26.07h-1zM349 286.3h1v26.07h-1zM588 286.3h1v26.07h-1zM598 286.3h1v26.07h-1zM890 312.38h1v26.07h-1zM557 338.45h1v26.07h-1zM571 364.52h1v26.07h-1zM596 364.52h1v26.07h-1zM820 364.52h1v26.07h-1zM540 390.6h1v26.07h-1zM569 390.6h1v26.07h-1zM536 416.67h1v26.07h-1zM601 416.67h1v26.07h-1zM433 468.82h1v26.07h-1zM595 468.82h1v26.07h-1zM911 468.82h1v26.07h-1zM395 520.97h1v26.07h-1zM398 520.97h1v26.07h-1zM974 520.97h1v26.07h-1zM965 547.05h1v26.07h-1zM585 573.12h1v26.07h-1zM899 573.12h1v26.07h-1zM436 599.2h1v26.07h-1zM453 599.2h1v26.07h-1zM508 599.2h1v26.07h-1zM808 599.2h1v26.07h-1zM922 625.27h1v26.07h-1zM398 651.35h1v26.07h-1zM933 677.42h1v26.07h-1z"/><path fill="#a39" d="M823 208.07h1v26.07h-1zM810 286.3h1v26.07h-1zM861 286.3h1v26.07h-1zM489 312.38h1v26.07h-1zM877 416.67h1v26.07h-1zM834 599.2h1v26.07h-1z"/><path fill="#ebc" d="M845 208.07h1v26.07h-1zM535 234.15h1v26.07h-1zM581 234.15h1v26.07h-1zM425 260.23h1v26.07h-1zM558 260.23h1v26.07h-1zM926 260.23h1v26.07h-1zM356 286.3h1v26.07h-1zM504 286.3h1v26.07h-1zM594 286.3h1v26.07h-1zM892 286.3h1v26.07h-1zM393 312.38h2v26.07h-2zM533 312.38h1v26.07h-1zM772 312.38h1v26.07h-1zM851 312.38h1v26.07h-1zM877 312.38h1v26.07h-1zM404 338.45h1v26.07h-1zM456 364.52h1v26.07h-1zM874 364.52h1v26.07h-1zM388 390.6h1v26.07h-1zM481 390.6h1v26.07h-1zM520 390.6h1v26.07h-1zM581 390.6h1v26.07h-1zM705 416.67h1v26.07h-1zM797 442.75h1v26.07h-1zM857 442.75h1v26.07h-1zM877 442.75h1v26.07h-1zM762 468.82h1v26.07h-1zM903 468.82h1v26.07h-1zM407 494.9h1v26.07h-1zM831 494.9h1v26.07h-1zM570 520.97h1v26.07h-1zM308 547.05h1v26.07h-1zM398 547.05h1v26.07h-1zM488 547.05h1v26.07h-1zM572 547.05h1v26.07h-1zM751 547.05h1v26.07h-1zM779 547.05h1v26.07h-1zM897 547.05h1v26.07h-1zM956 547.05h1v26.07h-1zM570 573.12h1v26.07h-1zM816 573.12h1v26.07h-1zM868 573.12h1v26.07h-1zM885 573.12h1v26.07h-1zM394 599.2h1v26.07h-1zM598 599.2h1v26.07h-1zM433 625.27h1v26.07h-1zM911 625.27h1v26.07h-1zM583 677.42h1v26.07h-1zM807 677.42h1v26.07h-1z"/><path fill="#e88" d="M849 208.07h1v26.07h-1zM571 234.15h1v26.07h-1zM838 312.38h1v26.07h-1zM423 338.45h1v26.07h-1zM434 390.6h1v26.07h-1zM512 390.6h1v26.07h-1z"/><path fill="#eab" d="M859 208.07h1v26.07h-1zM485 234.15h1v26.07h-1zM506 234.15h1v26.07h-1zM531 234.15h1v26.07h-1zM605 234.15h1v26.07h-1zM768 234.15h1v26.07h-1zM873 234.15h1v26.07h-1zM479 260.23h1v26.07h-1zM504 260.23h1v26.07h-1zM816 260.23h1v26.07h-1zM885 260.23h1v26.07h-1zM317 286.3h1v26.07h-1zM1016 286.3h1v26.07h-1zM419 312.38h1v26.07h-1zM885 312.38h1v26.07h-1zM449 338.45h1v26.07h-1zM604 364.52h1v26.07h-1zM805 390.6h1v26.07h-1zM337 416.67h1v26.07h-1zM471 416.67h1v26.07h-1zM928 416.67h1v26.07h-1zM789 442.75h1v26.07h-1zM843 442.75h1v26.07h-1zM924 442.75h1v26.07h-1zM922 468.82h1v26.07h-1zM835 494.9h1v26.07h-1zM383 547.05h1v26.07h-1zM407 547.05h1v26.07h-1zM518 547.05h1v26.07h-1zM852 547.05h1v26.07h-1zM1014 547.05h1v26.07h-1zM409 573.12h1v26.07h-1zM452 573.12h1v26.07h-1zM938 573.12h1v26.07h-1zM980 573.12h1v26.07h-1zM531 599.2h1v26.07h-1zM541 599.2h1v26.07h-1zM424 625.27h1v26.07h-1zM485 625.27h1v26.07h-1zM506 625.27h1v26.07h-1zM559 625.27h1v26.07h-1zM581 625.27h1v26.07h-1zM417 651.35h1v26.07h-1zM885 651.35h1v26.07h-1zM898 651.35h1v26.07h-1zM391 677.42h1v26.07h-1zM817 677.42h1v26.07h-1zM827 677.42h1v26.07h-1zM926 677.42h1v26.07h-1zM936 677.42h1v26.07h-1z"/><path fill="#d46" d="M883 208.07h1v26.07h-1zM353 234.15h1v26.07h-1zM739 260.23h1v26.07h-1zM868 286.3h1v26.07h-1zM969 286.3h1v26.07h-1zM401 312.38h1v26.07h-1zM461 338.45h1v26.07h-1zM766 338.45h1v26.07h-1zM962 547.05h1v26.07h-1zM897 573.12h1v26.07h-1zM566 599.2h1v26.07h-1zM599 599.2h1v26.07h-1zM613 599.2h1v26.07h-1zM857 625.27h1v26.07h-1zM534 651.35h1v26.07h-1zM446 677.42h1v26.07h-1zM621 677.42h1v26.07h-1zM816 677.42h1v26.07h-1zM944 677.42h1v26.07h-1z"/><path fill="#66e" d="M886 208.07h1v26.07h-1zM298 234.15h1v26.07h-1zM338 286.3h1v26.07h-1zM811 364.52h1v26.07h-1zM849 364.52h1v26.07h-1zM313 416.67h1v26.07h-1zM353 494.9h1v26.07h-1zM552 494.9h1v26.07h-1zM802 520.97h1v26.07h-1zM554 573.12h1v26.07h-1zM745 573.12h1v26.07h-1zM318 599.2h1v26.07h-1z"/><path fill="#839" d="M908 208.07h1v26.07h-1zM329 468.82h1v26.07h-1zM783 494.9h1v26.07h-1zM975 547.05h1v26.07h-1zM778 651.35h1v26.07h-1z"/><path fill="#b8b" d="M959 208.07h1v26.07h-1zM946 234.15h1v26.07h-1zM562 625.27h1v26.07h-1zM841 677.42h1v26.07h-1z"/><path fill="#dcf" d="M960 208.07h1v26.07h-1zM824 312.38h1v26.07h-1zM931 573.12h1v26.07h-1zM428 625.27h1v26.07h-1z"/><path fill="#b6a" d="M961 208.07h1v26.07h-1zM869 234.15h1v26.07h-1zM453 286.3h1v26.07h-1zM773 286.3h1v26.07h-1zM963 286.3h1v26.07h-1zM362 312.38h1v26.07h-1zM750 312.38h1v26.07h-1zM440 390.6h1v26.07h-1zM1029 416.67h1v26.07h-1zM403 442.75h1v26.07h-1zM912 442.75h1v26.07h-1zM438 468.82h1v26.07h-1zM536 494.9h1v26.07h-1zM741 494.9h1v26.07h-1zM474 573.12h1v26.07h-1zM302 599.2h1v26.07h-1zM308 599.2h1v26.07h-1zM742 599.2h1v26.07h-1zM892 625.27h1v26.07h-1zM388 651.35h1v26.07h-1zM640 677.42h1v26.07h-1z"/><path fill="#95a" d="M978 208.07h1v26.07h-1zM916 234.15h1v26.07h-1zM601 312.38h1v26.07h-1zM949 338.45h1v26.07h-1zM550 364.52h1v26.07h-1zM526 468.82h1v26.07h-1zM989 468.82h1v26.07h-1zM905 547.05h1v26.07h-1zM905 573.12h1v26.07h-1zM365 651.35h1v26.07h-1zM960 651.35h1v26.07h-1z"/><path fill="#32d" d="M292 234.15h1v26.07h-1z"/><path fill="#42e" d="M328 234.15h1v26.07h-1zM541 260.23h1v26.07h-1zM864 442.75h1v26.07h-1zM726 494.9h1v26.07h-1zM759 651.35h1v26.07h-1zM793 677.42h1v26.07h-1z"/><path fill="#cbf" d="M381 234.15h1v26.07h-1zM766 260.23h1v26.07h-1zM337 286.3h1v26.07h-1zM873 364.52h1v26.07h-1zM887 442.75h1v26.07h-1zM822 573.12h1v26.07h-1zM782 599.2h1v26.07h-1zM904 677.42h1v26.07h-1z"/><path fill="#a59" d="M385 234.15h1v26.07h-1zM497 260.23h1v26.07h-1zM715 260.23h1v26.07h-1zM831 286.3h1v26.07h-1zM390 312.38h1v26.07h-1zM465 416.67h1v26.07h-1zM486 468.82h1v26.07h-1zM710 468.82h1v26.07h-1zM448 625.27h1v26.07h-1zM692 677.42h1v26.07h-1z"/><path fill="#86c" d="M446 234.15h1v26.07h-1zM831 312.38h1v26.07h-1zM838 338.45h1v26.07h-1zM841 338.45h1v26.07h-1zM962 364.52h1v26.07h-1zM529 520.97h1v26.07h-1zM449 573.12h1v26.07h-1zM521 625.27h1v26.07h-1z"/><path fill="#d25" d="M499 234.15h1v26.07h-1zM902 234.15h1v26.07h-1zM494 260.23h1v26.07h-1zM441 286.3h1v26.07h-1zM715 286.3h1v26.07h-1zM922 416.67h1v26.07h-1zM403 494.9h1v26.07h-1zM795 547.05h1v26.07h-1zM967 547.05h1v26.07h-1zM887 651.35h1v26.07h-1zM568 677.42h1v26.07h-1z"/><path fill="#a49" d="M502 234.15h1v26.07h-1zM404 260.23h1v26.07h-1zM857 364.52h1v26.07h-1zM411 390.6h1v26.07h-1zM973 390.6h1v26.07h-1zM957 442.75h1v26.07h-1zM493 494.9h1v26.07h-1zM518 494.9h1v26.07h-1zM560 494.9h1v26.07h-1zM400 547.05h1v26.07h-1zM754 547.05h1v26.07h-1z"/><path fill="#b6b" d="M507 234.15h1v26.07h-1zM527 338.45h1v26.07h-1zM838 468.82h1v26.07h-1z"/><path fill="#d9a" d="M528 234.15h1v26.07h-1zM833 312.38h1v26.07h-1zM326 494.9h1v26.07h-1zM832 494.9h1v26.07h-1zM372 547.05h1v26.07h-1zM893 547.05h1v26.07h-1z"/><path fill="#fbc" d="M543 234.15h1v26.07h-1zM434 286.3h1v26.07h-1zM517 312.38h1v26.07h-1zM483 338.45h1v26.07h-1zM855 416.67h1v26.07h-1zM875 468.82h1v26.07h-1zM770 547.05h1v26.07h-1z"/><path fill="#e44" d="M548 234.15h1v26.07h-1zM523 547.05h1v26.07h-1zM880 599.2h1v26.07h-1z"/><path fill="#e67" d="M554 234.15h1v26.07h-1zM842 260.23h1v26.07h-1zM976 260.23h1v26.07h-1zM989 260.23h1v26.07h-1zM548 286.3h1v26.07h-1zM609 286.3h1v26.07h-1zM872 338.45h1v26.07h-1zM939 338.45h1v26.07h-1zM483 364.52h1v26.07h-1zM582 364.52h1v26.07h-1zM815 390.6h1v26.07h-1zM974 390.6h1v26.07h-1zM555 442.75h1v26.07h-1zM569 442.75h1v26.07h-1zM588 442.75h1v26.07h-1zM620 468.82h1v26.07h-1zM842 468.82h1v26.07h-1zM901 468.82h1v26.07h-1zM870 494.9h1v26.07h-1zM978 520.97h1v26.07h-1zM922 547.05h1v26.07h-1zM530 625.27h1v26.07h-1zM927 625.27h1v26.07h-1zM930 625.27h1v26.07h-1zM452 651.35h1v26.07h-1zM849 651.35h1v26.07h-1zM560 677.42h1v26.07h-1zM930 677.42h1v26.07h-1z"/><path fill="#a9f" d="M557 234.15h1v26.07h-1zM537 260.23h1v26.07h-1zM817 260.23h1v26.07h-1zM494 390.6h1v26.07h-1zM779 599.2h1v26.07h-1z"/><path fill="#e24" d="M559 234.15h1v26.07h-1zM643 286.3h1v26.07h-1zM559 416.67h1v26.07h-1zM370 547.05h1v26.07h-1z"/><path fill="#edd" d="M560 234.15h1v26.07h-1zM948 312.38h1v26.07h-1zM928 338.45h1v26.07h-1zM907 416.67h1v26.07h-1zM440 651.35h1v26.07h-1z"/><path fill="#b26" d="M586 234.15h1v26.07h-1zM618 234.15h1v26.07h-1zM399 260.23h1v26.07h-1zM524 260.23h1v26.07h-1zM769 260.23h1v26.07h-1zM961 260.23h1v26.07h-1zM518 338.45h1v26.07h-1zM488 390.6h1v26.07h-1zM553 390.6h1v26.07h-1zM869 416.67h1v26.07h-1zM894 442.75h1v26.07h-1zM973 442.75h1v26.07h-1zM865 520.97h1v26.07h-1zM508 547.05h1v26.07h-1zM835 547.05h1v26.07h-1zM573 573.12h1v26.07h-1zM950 573.12h1v26.07h-1z"/><path fill="#b38" d="M587 234.15h1v26.07h-1zM407 286.3h1v26.07h-1zM890 286.3h1v26.07h-1zM736 390.6h1v26.07h-1zM890 390.6h1v26.07h-1zM540 416.67h1v26.07h-1z"/><path fill="#75e" d="M629 234.15h1v26.07h-1zM483 468.82h1v26.07h-1zM749 468.82h1v26.07h-1zM774 494.9h1v26.07h-1zM824 651.35h1v26.07h-1z"/><path fill="#f12" d="M632 234.15h1v26.07h-1zM637 364.52h1v26.07h-1zM965 364.52h1v26.07h-1zM597 442.75h1v26.07h-1zM887 468.82h1v26.07h-1z"/><path fill="#b9e" d="M781 234.15h1v26.07h-1zM301 286.3h1v26.07h-1zM953 312.38h1v26.07h-1zM753 390.6h1v26.07h-1zM779 416.67h1v26.07h-1zM757 547.05h1v26.07h-1zM674 651.35h1v26.07h-1z"/><path fill="#dde" d="M796 234.15h1v26.07h-1zM541 547.05h1v26.07h-1zM520 573.12h1v26.07h-1zM439 651.35h1v26.07h-1zM451 651.35h1v26.07h-1z"/><path fill="#f45" d="M811 234.15h1v26.07h-1zM822 338.45h1v26.07h-1zM503 416.67h1v26.07h-1zM517 416.67h1v26.07h-1zM770 416.67h1v26.07h-1zM858 494.9h1v26.07h-1zM594 599.2h1v26.07h-1zM417 625.27h1v26.07h-1zM450 625.27h1v26.07h-1zM971 651.35h1v26.07h-1zM539 677.42h1v26.07h-1z"/><path fill="#fcd" d="M817 234.15h1v26.07h-1zM483 494.9h1v26.07h-1zM931 677.42h1v26.07h-1z"/><path fill="#d8b" d="M839 234.15h1v26.07h-1zM943 364.52h1v26.07h-1zM820 390.6h1v26.07h-1zM1005 390.6h1v26.07h-1zM734 468.82h1v26.07h-1zM668 547.05h1v26.07h-1zM861 599.2h1v26.07h-1zM463 625.27h1v26.07h-1zM555 677.42h1v26.07h-1z"/><path fill="#c26" d="M906 234.15h1v26.07h-1zM894 312.38h1v26.07h-1zM481 338.45h1v26.07h-1zM467 364.52h1v26.07h-1zM537 416.67h1v26.07h-1zM532 442.75h1v26.07h-1zM768 442.75h1v26.07h-1zM463 573.12h1v26.07h-1zM973 677.42h1v26.07h-1z"/><path fill="#31d" d="M918 234.15h1v26.07h-1zM319 260.23h1v26.07h-1zM501 286.3h1v26.07h-1zM490 338.45h1v26.07h-1zM390 364.52h1v26.07h-1zM439 390.6h1v26.07h-1zM844 442.75h1v26.07h-1zM470 494.9h1v26.07h-1zM692 520.97h1v26.07h-1zM804 520.97h1v26.07h-1zM717 573.12h1v26.07h-1zM728 599.2h1v26.07h-1zM390 625.27h1v26.07h-1zM701 651.35h1v26.07h-1zM441 677.42h1v26.07h-1zM920 677.42h1v26.07h-1z"/><path fill="#d36" d="M969 234.15h1v26.07h-1zM815 338.45h1v26.07h-1zM748 416.67h1v26.07h-1zM719 520.97h1v26.07h-1zM607 547.05h1v26.07h-1z"/><path fill="#c15" d="M978 234.15h1v26.07h-1zM603 286.3h1v26.07h-1zM681 312.38h1v26.07h-1zM354 364.52h1v26.07h-1zM817 416.67h1v26.07h-1zM539 468.82h1v26.07h-1zM820 468.82h1v26.07h-1zM568 494.9h1v26.07h-1zM452 547.05h1v26.07h-1zM477 599.2h1v26.07h-1zM855 599.2h1v26.07h-1zM893 625.27h1v26.07h-1zM499 651.35h1v26.07h-1z"/><path fill="#61b" d="M327 260.23h1v26.07h-1zM830 364.52h1v26.07h-1zM407 442.75h1v26.07h-1zM884 520.97h1v26.07h-1zM423 547.05h1v26.07h-1zM444 547.05h1v26.07h-1zM507 625.27h1v26.07h-1zM568 651.35h1v26.07h-1zM865 677.42h1v26.07h-1zM935 677.42h1v26.07h-1z"/><path fill="#a5b" d="M356 260.23h1v26.07h-1zM780 547.05h1v26.07h-1zM435 625.27h1v26.07h-1zM705 625.27h1v26.07h-1z"/><path fill="#31e" d="M381 260.23h1v26.07h-1zM699 260.23h1v26.07h-1zM539 286.3h1v26.07h-1zM842 312.38h1v26.07h-1zM370 338.45h1v26.07h-1zM330 390.6h1v26.07h-1z"/><path fill="#939" d="M413 260.23h1v26.07h-1zM371 286.3h1v26.07h-1zM865 286.3h1v26.07h-1zM740 312.38h1v26.07h-1zM827 312.38h1v26.07h-1zM367 338.45h1v26.07h-1zM507 338.45h1v26.07h-1zM783 390.6h1v26.07h-1zM578 442.75h1v26.07h-1zM431 468.82h1v26.07h-1zM921 468.82h1v26.07h-1zM979 520.97h1v26.07h-1zM544 547.05h1v26.07h-1zM879 547.05h1v26.07h-1zM524 573.12h1v26.07h-1zM518 599.2h1v26.07h-1zM538 599.2h1v26.07h-1zM571 599.2h1v26.07h-1zM338 625.27h1v26.07h-1zM890 625.27h1v26.07h-1zM433 651.35h1v26.07h-1zM487 651.35h1v26.07h-1zM783 651.35h1v26.07h-1zM398 677.42h1v26.07h-1zM518 677.42h1v26.07h-1z"/><path fill="#ebb" d="M428 260.23h1v26.07h-1zM354 494.9h1v26.07h-1zM778 520.97h1v26.07h-1zM429 547.05h1v26.07h-1z"/><path fill="#917" d="M498 260.23h1v26.07h-1zM462 286.3h1v26.07h-1zM602 286.3h1v26.07h-1zM722 286.3h1v26.07h-1zM917 286.3h1v26.07h-1zM928 286.3h1v26.07h-1zM462 312.38h1v26.07h-1zM580 312.38h1v26.07h-1zM502 364.52h1v26.07h-1zM324 390.6h1v26.07h-1zM961 390.6h1v26.07h-1zM754 416.67h1v26.07h-1zM825 416.67h1v26.07h-1zM769 442.75h1v26.07h-1zM393 468.82h1v26.07h-1zM407 468.82h1v26.07h-1zM540 494.9h1v26.07h-1zM364 520.97h1v26.07h-1zM801 520.97h1v26.07h-1zM939 520.97h1v26.07h-1zM731 547.05h1v26.07h-1zM834 547.05h1v26.07h-1zM890 651.35h1v26.07h-1z"/><path fill="#76d" d="M500 260.23h1v26.07h-1zM580 286.3h1v26.07h-1zM440 364.52h1v26.07h-1zM460 364.52h1v26.07h-1zM552 390.6h1v26.07h-1zM351 468.82h1v26.07h-1zM809 494.9h1v26.07h-1zM747 520.97h1v26.07h-1zM802 547.05h1v26.07h-1zM910 599.2h1v26.07h-1zM411 625.27h1v26.07h-1zM371 651.35h1v26.07h-1zM699 651.35h1v26.07h-1z"/><path fill="#c68" d="M535 260.23h1v26.07h-1zM551 260.23h1v26.07h-1zM809 416.67h1v26.07h-1zM946 416.67h1v26.07h-1zM589 468.82h1v26.07h-1zM739 494.9h1v26.07h-1zM800 494.9h1v26.07h-1zM1026 677.42h1v26.07h-1z"/><path fill="#d47" d="M569 260.23h1v26.07h-1zM909 338.45h1v26.07h-1zM549 494.9h1v26.07h-1z"/><path fill="#f67" d="M581 260.23h1v26.07h-1zM969 260.23h1v26.07h-1zM860 390.6h1v26.07h-1zM550 547.05h1v26.07h-1zM826 547.05h1v26.07h-1z"/><path fill="#edf" d="M592 260.23h1v26.07h-1zM394 520.97h1v26.07h-1zM523 520.97h1v26.07h-1zM875 520.97h1v26.07h-1zM913 520.97h1v26.07h-1zM508 651.35h1v26.07h-1z"/><path fill="#719" d="M662 260.23h1v26.07h-1zM382 286.3h1v26.07h-1zM402 312.38h1v26.07h-1zM349 390.6h1v26.07h-1zM836 390.6h1v26.07h-1zM587 442.75h1v26.07h-1zM469 468.82h1v26.07h-1zM789 494.9h1v26.07h-1zM964 494.9h1v26.07h-1zM584 547.05h1v26.07h-1zM613 573.12h1v26.07h-1z"/><path fill="#83b" d="M700 260.23h1v26.07h-1zM371 338.45h1v26.07h-1zM429 338.45h1v26.07h-1zM300 416.67h1v26.07h-1zM852 520.97h1v26.07h-1zM587 547.05h1v26.07h-1zM569 599.2h1v26.07h-1zM957 599.2h1v26.07h-1zM718 677.42h1v26.07h-1z"/><path fill="#64c" d="M712 260.23h1v26.07h-1zM434 573.12h1v26.07h-1zM711 573.12h1v26.07h-1z"/><path fill="#a37" d="M780 260.23h1v26.07h-1zM495 520.97h1v26.07h-1z"/><path fill="#62c" d="M801 260.23h1v26.07h-1zM789 468.82h1v26.07h-1z"/><path fill="#87f" d="M808 260.23h1v26.07h-1zM448 286.3h1v26.07h-1zM548 338.45h1v26.07h-1zM708 338.45h1v26.07h-1zM317 599.2h1v26.07h-1zM887 599.2h1v26.07h-1z"/><path fill="#c03" d="M851 260.23h1v26.07h-1zM561 286.3h1v26.07h-1zM501 312.38h1v26.07h-1zM579 312.38h1v26.07h-1zM902 338.45h1v26.07h-1zM612 364.52h1v26.07h-1zM882 520.97h1v26.07h-1zM419 547.05h1v26.07h-1zM441 547.05h1v26.07h-1zM844 547.05h1v26.07h-1zM889 547.05h1v26.07h-1zM659 599.2h1v26.07h-1zM956 599.2h1v26.07h-1zM871 625.27h1v26.07h-1zM978 625.27h1v26.07h-1zM815 677.42h1v26.07h-1zM985 677.42h1v26.07h-1z"/><path fill="#dad" d="M856 260.23h1v26.07h-1zM894 260.23h1v26.07h-1zM334 312.38h1v26.07h-1zM789 312.38h1v26.07h-1zM898 312.38h1v26.07h-1zM401 416.67h1v26.07h-1zM497 494.9h1v26.07h-1zM468 547.05h1v26.07h-1zM459 625.27h1v26.07h-1z"/><path fill="#b36" d="M879 260.23h1v26.07h-1zM917 573.12h1v26.07h-1z"/><path fill="#eac" d="M891 260.23h1v26.07h-1zM548 390.6h1v26.07h-1zM432 468.82h1v26.07h-1zM548 494.9h1v26.07h-1zM294 547.05h1v26.07h-1zM579 677.42h1v26.07h-1z"/><path fill="#eaa" d="M369 286.3h1v26.07h-1zM717 364.52h1v26.07h-1zM589 416.67h1v26.07h-1zM873 468.82h1v26.07h-1zM896 547.05h1v26.07h-1zM479 599.2h1v26.07h-1zM711 599.2h1v26.07h-1zM448 677.42h1v26.07h-1z"/><path fill="#31c" d="M390 286.3h1v26.07h-1z"/><path fill="#e33" d="M394 286.3h1v26.07h-1zM519 390.6h1v26.07h-1zM543 651.35h1v26.07h-1z"/><path fill="#76f" d="M454 286.3h1v26.07h-1zM377 494.9h1v26.07h-1zM891 547.05h1v26.07h-1zM842 599.2h1v26.07h-1zM559 677.42h1v26.07h-1z"/><path fill="#11e" d="M463 286.3h1v26.07h-1zM730 494.9h1v26.07h-1zM343 599.2h1v26.07h-1z"/><path fill="#c9c" d="M601 286.3h1v26.07h-1zM728 286.3h1v26.07h-1zM843 286.3h1v26.07h-1zM909 286.3h1v26.07h-1zM458 312.38h1v26.07h-1zM791 312.38h1v26.07h-1zM463 338.45h1v26.07h-1zM513 338.45h1v26.07h-1zM416 364.52h1v26.07h-1zM964 364.52h1v26.07h-1zM399 390.6h1v26.07h-1zM464 390.6h1v26.07h-1zM761 390.6h1v26.07h-1zM952 390.6h1v26.07h-1zM364 416.67h1v26.07h-1zM573 442.75h1v26.07h-1zM846 442.75h1v26.07h-1zM411 468.82h1v26.07h-1zM397 494.9h1v26.07h-1zM550 494.9h1v26.07h-1zM566 494.9h1v26.07h-1zM844 494.9h1v26.07h-1zM888 494.9h1v26.07h-1zM769 520.97h1v26.07h-1zM909 520.97h1v26.07h-1zM945 520.97h1v26.07h-1zM309 547.05h1v26.07h-1zM755 547.05h1v26.07h-1zM790 573.12h1v26.07h-1zM874 573.12h1v26.07h-1zM481 599.2h1v26.07h-1zM489 599.2h1v26.07h-1zM533 599.2h1v26.07h-1zM859 599.2h1v26.07h-1zM512 651.35h1v26.07h-1zM836 651.35h1v26.07h-1zM888 651.35h1v26.07h-1zM558 677.42h1v26.07h-1z"/><path fill="#b16" d="M624 286.3h1v26.07h-1zM894 286.3h1v26.07h-1zM399 599.2h1v26.07h-1z"/><path fill="#43d" d="M679 286.3h1v26.07h-1zM528 338.45h1v26.07h-1zM851 416.67h1v26.07h-1zM394 442.75h1v26.07h-1zM374 494.9h1v26.07h-1zM712 573.12h1v26.07h-1z"/><path fill="#fef" d="M817 286.3h1v26.07h-1zM744 573.12h1v26.07h-1z"/><path fill="#fde" d="M844 286.3h1v26.07h-1zM858 312.38h1v26.07h-1zM849 390.6h1v26.07h-1zM817 494.9h1v26.07h-1zM457 651.35h1v26.07h-1z"/><path fill="#c7b" d="M847 286.3h1v26.07h-1zM796 364.52h1v26.07h-1zM463 416.67h1v26.07h-1zM914 494.9h1v26.07h-1zM543 573.12h1v26.07h-1zM601 625.27h1v26.07h-1zM814 625.27h1v26.07h-1z"/><path fill="#98f" d="M849 286.3h1v26.07h-1zM902 468.82h1v26.07h-1zM887 494.9h1v26.07h-1zM750 547.05h1v26.07h-1zM782 625.27h1v26.07h-1zM913 625.27h1v26.07h-1z"/><path fill="#b25" d="M877 286.3h1v26.07h-1zM990 547.05h1v26.07h-1z"/><path fill="#baf" d="M904 286.3h1v26.07h-1zM858 468.82h1v26.07h-1zM557 547.05h1v26.07h-1zM925 547.05h1v26.07h-1zM835 573.12h1v26.07h-1zM614 677.42h1v26.07h-1z"/><path fill="#bad" d="M918 286.3h1v26.07h-1zM481 442.75h1v26.07h-1zM937 573.12h1v26.07h-1z"/><path fill="#86e" d="M927 286.3h1v26.07h-1zM447 338.45h1v26.07h-1zM359 677.42h1v26.07h-1z"/><path fill="#b14" d="M954 286.3h1v26.07h-1zM840 573.12h1v26.07h-1zM503 651.35h1v26.07h-1z"/><path fill="#949" d="M955 286.3h1v26.07h-1zM338 442.75h1v26.07h-1z"/><path fill="#ece" d="M996 286.3h1v26.07h-1zM806 547.05h1v26.07h-1z"/><path fill="#d23" d="M1003 286.3h1v26.07h-1zM969 390.6h1v26.07h-1zM969 494.9h1v26.07h-1z"/><path fill="#f9a" d="M481 312.38h1v26.07h-1zM454 494.9h1v26.07h-1zM891 520.97h1v26.07h-1z"/><path fill="#aae" d="M528 312.38h1v26.07h-1zM494 338.45h1v26.07h-1zM501 390.6h1v26.07h-1zM920 390.6h1v26.07h-1zM908 416.67h1v26.07h-1zM386 442.75h1v26.07h-1zM905 494.9h1v26.07h-1zM909 494.9h1v26.07h-1zM840 599.2h1v26.07h-1zM412 625.27h1v26.07h-1zM426 625.27h1v26.07h-1zM864 677.42h1v26.07h-1z"/><path fill="#32f" d="M539 312.38h1v26.07h-1zM461 390.6h1v26.07h-1zM512 547.05h1v26.07h-1z"/><path fill="#cbd" d="M591 312.38h1v26.07h-1zM339 573.12h1v26.07h-1zM911 573.12h1v26.07h-1zM815 625.27h1v26.07h-1z"/><path fill="#c46" d="M593 312.38h1v26.07h-1zM653 416.67h1v26.07h-1zM879 494.9h1v26.07h-1z"/><path fill="#d03" d="M630 312.38h1v26.07h-1z"/><path fill="#65d" d="M710 312.38h1v26.07h-1zM363 390.6h1v26.07h-1zM454 547.05h1v26.07h-1z"/><path fill="#828" d="M736 312.38h1v26.07h-1zM948 416.67h1v26.07h-1zM591 442.75h1v26.07h-1z"/><path fill="#44e" d="M835 312.38h1v26.07h-1zM951 573.12h1v26.07h-1zM441 651.35h1v26.07h-1zM853 677.42h1v26.07h-1z"/><path fill="#42c" d="M909 312.38h1v26.07h-1zM397 520.97h1v26.07h-1zM454 599.2h1v26.07h-1zM441 625.27h1v26.07h-1z"/><path fill="#b27" d="M932 312.38h1v26.07h-1zM569 494.9h1v26.07h-1z"/><path fill="#f34" d="M996 312.38h1v26.07h-1zM976 416.67h1v26.07h-1zM545 494.9h1v26.07h-1zM815 573.12h1v26.07h-1zM497 651.35h1v26.07h-1zM980 677.42h1v26.07h-1z"/><path fill="#c9b" d="M394 338.45h1v26.07h-1zM812 573.12h1v26.07h-1z"/><path fill="#a17" d="M489 338.45h1v26.07h-1zM549 338.45h1v26.07h-1zM469 494.9h1v26.07h-1z"/><path fill="#e77" d="M571 338.45h1v26.07h-1zM551 364.52h1v26.07h-1zM843 416.67h1v26.07h-1zM474 494.9h1v26.07h-1zM299 547.05h1v26.07h-1zM551 573.12h1v26.07h-1z"/><path fill="#e11" d="M608 338.45h1v26.07h-1zM878 364.52h1v26.07h-1zM599 573.12h1v26.07h-1z"/><path fill="#dcd" d="M853 338.45h1v26.07h-1zM439 364.52h1v26.07h-1zM512 599.2h1v26.07h-1zM560 625.27h1v26.07h-1zM377 651.35h1v26.07h-1z"/><path fill="#f78" d="M869 338.45h1v26.07h-1z"/><path fill="#53c" d="M871 338.45h1v26.07h-1zM332 520.97h1v26.07h-1zM552 677.42h1v26.07h-1z"/><path fill="#73a" d="M886 338.45h1v26.07h-1z"/><path fill="#729" d="M420 364.52h1v26.07h-1zM451 364.52h1v26.07h-1zM740 547.05h1v26.07h-1zM451 599.2h1v26.07h-1zM400 625.27h1v26.07h-1zM540 651.35h1v26.07h-1zM500 677.42h1v26.07h-1z"/><path fill="#817" d="M611 364.52h1v26.07h-1z"/><path fill="#88e" d="M749 364.52h1v26.07h-1zM455 390.6h1v26.07h-1zM847 468.82h1v26.07h-1zM837 547.05h1v26.07h-1z"/><path fill="#54d" d="M772 364.52h1v26.07h-1zM810 494.9h1v26.07h-1zM810 573.12h1v26.07h-1z"/><path fill="#40c" d="M806 364.52h1v26.07h-1z"/><path fill="#82a" d="M1028 364.52h1v26.07h-1z"/><path fill="#dbc" d="M511 390.6h1v26.07h-1zM483 651.35h1v26.07h-1z"/><path fill="#e79" d="M539 390.6h1v26.07h-1zM614 599.2h1v26.07h-1z"/><path fill="#51a" d="M596 390.6h1v26.07h-1zM990 390.6h1v26.07h-1zM355 625.27h2v26.07h-2z"/><path fill="#eee" d="M614 390.6h1v26.07h-1zM372 651.35h1v26.07h-1z"/><path fill="#c59" d="M634 390.6h1v26.07h-1z"/><path fill="#97c" d="M704 390.6h1v26.07h-1zM738 390.6h1v26.07h-1zM333 416.67h1v26.07h-1zM405 468.82h1v26.07h-1zM891 677.42h1v26.07h-1z"/><path fill="#dbe" d="M916 390.6h1v26.07h-1zM543 416.67h1v26.07h-1zM862 520.97h1v26.07h-1zM394 573.12h1v26.07h-1z"/><path fill="#a6c" d="M922 390.6h1v26.07h-1zM356 442.75h1v26.07h-1zM479 468.82h1v26.07h-1zM772 651.35h1v26.07h-1z"/><path fill="#40b" d="M945 390.6h1v26.07h-1zM741 547.05h1v26.07h-1zM820 547.05h1v26.07h-1zM383 625.27h1v26.07h-1zM840 651.35h1v26.07h-1z"/><path fill="#41d" d="M408 416.67h1v26.07h-1zM788 468.82h1v26.07h-1zM428 494.9h1v26.07h-1z"/><path fill="#72b" d="M409 416.67h1v26.07h-1zM382 547.05h1v26.07h-1zM369 677.42h1v26.07h-1z"/><path fill="#85d" d="M547 416.67h1v26.07h-1zM334 494.9h1v26.07h-1zM734 520.97h1v26.07h-1zM900 677.42h1v26.07h-1z"/><path fill="#d14" d="M590 416.67h1v26.07h-1zM590 442.75h1v26.07h-1z"/><path fill="#b9c" d="M842 416.67h1v26.07h-1zM401 520.97h1v26.07h-1zM488 573.12h1v26.07h-1z"/><path fill="#c13" d="M940 416.67h1v26.07h-1z"/><path fill="#cac" d="M499 442.75h1v26.07h-1zM494 468.82h1v26.07h-1z"/><path fill="#b49" d="M500 442.75h1v26.07h-1zM923 625.27h1v26.07h-1zM738 677.42h1v26.07h-1z"/><path fill="#20e" d="M806 442.75h1v26.07h-1zM539 494.9h1v26.07h-1zM399 573.12h1v26.07h-1zM412 599.2h1v26.07h-1z"/><path fill="#d58" d="M930 442.75h1v26.07h-1zM923 573.12h1v26.07h-1z"/><path fill="#c6a" d="M475 468.82h1v26.07h-1zM818 547.05h1v26.07h-1z"/><path fill="#21d" d="M532 494.9h1v26.07h-1zM880 494.9h1v26.07h-1z"/><path fill="#a28" d="M442 520.97h1v26.07h-1z"/><path fill="#b47" d="M508 520.97h1v26.07h-1z"/><path fill="#22e" d="M795 520.97h1v26.07h-1z"/><path fill="#e8a" d="M856 520.97h1v26.07h-1z"/><path fill="#e66" d="M949 520.97h1v26.07h-1z"/><path fill="#b69" d="M950 520.97h1v26.07h-1zM913 573.12h1v26.07h-1zM981 651.35h1v26.07h-1z"/><path fill="#e13" d="M599 547.05h1v26.07h-1zM532 625.27h1v26.07h-1z"/><path fill="#52b" d="M923 547.05h1v26.07h-1zM772 599.2h1v26.07h-1z"/><path fill="#916" d="M912 573.12h1v26.07h-1z"/><path fill="#97e" d="M359 599.2h1v26.07h-1z"/><path fill="#96d" d="M487 599.2h1v26.07h-1z"/><path fill="#93a" d="M595 599.2h1v26.07h-1zM823 599.2h1v26.07h-1z"/><path fill="#e68" d="M944 599.2h1v26.07h-1z"/><path fill="#e22" d="M969 599.2h1v26.07h-1z"/><path fill="#e02" d="M822 625.27h1v26.07h-1z"/><path fill="#a8e" d="M394 651.35h1v26.07h-1zM455 651.35h1v26.07h-1z"/><path fill="#c57" d="M523 651.35h1v26.07h-1z"/><path fill="#c79" d="M541 651.35h1v26.07h-1z"/><path fill="#dab" d="M880 651.35h1v26.07h-1zM492 677.42h1v26.07h-1z"/><path fill="#d34" d="M452 677.42h1v26.07h-1zM639 677.42h1v26.07h-1z"/><path fill="#808" d="M986 677.42h1v26.07h-1z"/></g>
<text x="1041.7" y="204.9" font-size="16.3" text-anchor="start" font-weight="normal" fill="#000">Erho,2013</text>
<text x="1041.7" y="230.95" font-size="16.3" text-anchor="start" font-weight="normal" fill="#000">Cuzik,2011</text>
<text x="1041.7" y="257.0" font-size="16.3" text-anchor="start" font-weight="normal" fill="#000">Agell,2012</text>
<text x="1041.7" y="283.05" font-size="16.3" text-anchor="start" font-weight="normal" fill="#000">Cheville,2008</text>
<text x="1041.7" y="309.1" font-size="16.3" text-anchor="start" font-weight="normal" fill="#000">Long,2011</text>
<text x="1041.7" y="335.15" font-size="16.3" text-anchor="start" font-weight="normal" fill="#000">Glinsky,2005</text>
<text x="1041.7" y="361.2" font-size="16.3" text-anchor="start" font-weight="normal" fill="#000">Klien,2014</text>
<text x="1041.7" y="387.25" font-size="16.3" text-anchor="start" font-weight="normal" fill="#000">Lapointe,2004</text>
<text x="1041.7" y="413.3" font-size="16.3" text-anchor="start" font-weight="normal" fill="#000">Larkin,2012</text>
<text x="1041.7" y="439.35" font-size="16.3" text-anchor="start" font-weight="normal" fill="#000">Long,2014</text>
<text x="1041.7" y="465.4" font-size="16.3" text-anchor="start" font-weight="normal" fill="#000">Nakagawa,2008</text>
<text x="1041.7" y="491.45" font-size="16.3" text-anchor="start" font-weight="normal" fill="#000">Penney,2011</text>
<text x="1041.7" y="517.5" font-size="16.3" text-anchor="start" font-weight="normal" fill="#000">Ramaswamy,2003</text>
<text x="1041.7" y="543.55" font-size="16.3" text-anchor="start" font-weight="normal" fill="#000">Saal,2007</text>
<text x="1041.7" y="569.6" font-size="16.3" text-anchor="start" font-weight="normal" fill="#000">Singh,202</text>
<text x="1041.7" y="595.65" font-size="16.3" text-anchor="start" font-weight="normal" fill="#000">Stephenson,2005</text>
<text x="1041.7" y="621.7" font-size="16.3" text-anchor="start" font-weight="normal" fill="#000">Talantov,2010</text>
<text x="1041.7" y="647.75" font-size="16.3" text-anchor="start" font-weight="normal" fill="#000">Varambally,2005</text>
<text x="1041.7" y="673.8" font-size="16.3" text-anchor="start" font-weight="normal" fill="#000">Wu,2013</text>
<text x="1041.7" y="699.85" font-size="16.3" text-anchor="start" font-weight="normal" fill="#000">Yu,2007</text>
<line x1="72.3" y1="1229.33" x2="663.7" y2="1229.33" stroke="#f0f0f0" stroke-width="1"/>
<line x1="72.3" y1="1111.18" x2="663.7" y2="1111.18" stroke="#f0f0f0" stroke-width="1"/>
<line x1="72.3" y1="993.03" x2="663.7" y2="993.03" stroke="#f0f0f0" stroke-width="1"/>
<line x1="72.3" y1="874.88" x2="663.7" y2="874.88" stroke="#f0f0f0" stroke-width="1"/>
<line x1="72.3" y1="1288.40" x2="663.7" y2="1288.40" stroke="#ebebeb" stroke-width="1.3"/>
<line x1="72.3" y1="1170.25" x2="663.7" y2="1170.25" stroke="#ebebeb" stroke-width="1.3"/>
<line x1="72.3" y1="1052.10" x2="663.7" y2="1052.10" stroke="#ebebeb" stroke-width="1.3"/>
<line x1="72.3" y1="933.95" x2="663.7" y2="933.95" stroke="#ebebeb" stroke-width="1.3"/>
<line x1="72.3" y1="815.80" x2="663.7" y2="815.80" stroke="#ebebeb" stroke-width="1.3"/>
<line x1="183.20" y1="802.5" x2="183.20" y2="1300.0" stroke="#ebebeb" stroke-width="1.3"/>
<line x1="368.10" y1="802.5" x2="368.10" y2="1300.0" stroke="#ebebeb" stroke-width="1.3"/>
<line x1="553.00" y1="802.5" x2="553.00" y2="1300.0" stroke="#ebebeb" stroke-width="1.3"/>
<line x1="148.45" y1="839.00" x2="148.45" y2="994.10" stroke="#333" stroke-width="1.2"/>
<line x1="148.45" y1="1119.40" x2="148.45" y2="1267.80" stroke="#333" stroke-width="1.2"/>
<path d="M113.70 994.10H183.20V1047.10L165.82 1057.60L183.20 1067.60V1119.40H113.70V1067.60L131.07 1057.60L113.70 1047.10Z" fill="#00008b" stroke="#333" stroke-width="1.2"/>
<line x1="131.07" y1="1057.60" x2="165.82" y2="1057.60" stroke="#333" stroke-width="2.4"/>
<line x1="217.95" y1="853.80" x2="217.95" y2="1013.40" stroke="#333" stroke-width="1.2"/>
<line x1="217.95" y1="1150.50" x2="217.95" y2="1277.40" stroke="#333" stroke-width="1.2"/>
<path d="M183.20 1013.40H252.70V1079.60L235.32 1091.20L252.70 1103.70V1150.50H183.20V1103.70L200.57 1091.20L183.20 1079.60Z" fill="#d9d9d9" stroke="#333" stroke-width="1.2"/>
<line x1="200.57" y1="1091.20" x2="235.32" y2="1091.20" stroke="#333" stroke-width="2.4"/>
<line x1="333.35" y1="860.70" x2="333.35" y2="927.90" stroke="#333" stroke-width="1.2"/>
<line x1="333.35" y1="1092.70" x2="333.35" y2="1260.60" stroke="#333" stroke-width="1.2"/>
<path d="M298.60 927.90H368.10V987.30L350.73 1009.50L368.10 1032.10V1092.70H298.60V1032.10L315.98 1009.50L298.60 987.30Z" fill="#00008b" stroke="#333" stroke-width="1.2"/>
<line x1="315.98" y1="1009.50" x2="350.73" y2="1009.50" stroke="#333" stroke-width="2.4"/>
<line x1="402.85" y1="837.50" x2="402.85" y2="970.50" stroke="#333" stroke-width="1.2"/>
<line x1="402.85" y1="1100.90" x2="402.85" y2="1274.80" stroke="#333" stroke-width="1.2"/>
<path d="M368.10 970.50H437.60V1012.70L420.23 1030.00L437.60 1046.50V1100.90H368.10V1046.50L385.48 1030.00L368.10 1012.70Z" fill="#d9d9d9" stroke="#333" stroke-width="1.2"/>
<line x1="385.48" y1="1030.00" x2="420.23" y2="1030.00" stroke="#333" stroke-width="2.4"/>
<line x1="518.25" y1="824.70" x2="518.25" y2="896.70" stroke="#333" stroke-width="1.2"/>
<line x1="518.25" y1="1060.00" x2="518.25" y2="1236.10" stroke="#333" stroke-width="1.2"/>
<path d="M483.50 896.70H553.00V960.70L535.62 986.80L553.00 1012.10V1060.00H483.50V1012.10L500.88 986.80L483.50 960.70Z" fill="#00008b" stroke="#333" stroke-width="1.2"/>
<line x1="500.88" y1="986.80" x2="535.62" y2="986.80" stroke="#333" stroke-width="2.4"/>
<line x1="587.75" y1="828.70" x2="587.75" y2="887.30" stroke="#333" stroke-width="1.2"/>
<line x1="587.75" y1="1031.30" x2="587.75" y2="1214.00" stroke="#333" stroke-width="1.2"/>
<path d="M553.00 887.30H622.50V923.30L605.12 948.10L622.50 973.50V1031.30H553.00V973.50L570.38 948.10L553.00 923.30Z" fill="#d9d9d9" stroke="#333" stroke-width="1.2"/>
<line x1="570.38" y1="948.10" x2="605.12" y2="948.10" stroke="#333" stroke-width="2.4"/>
<rect x="72.3" y="802.5" width="591.40" height="497.50" fill="none" stroke="#969696" stroke-width="1.3"/>
<line x1="68.10" y1="1288.40" x2="72.30" y2="1288.40" stroke="#222" stroke-width="1.3"/>
<text x="65.2" y="1294.9" font-size="18.3" text-anchor="end" font-weight="normal" fill="#4d4d4d">0.00</text>
<line x1="68.10" y1="1170.25" x2="72.30" y2="1170.25" stroke="#222" stroke-width="1.3"/>
<text x="65.2" y="1176.75" font-size="18.3" text-anchor="end" font-weight="normal" fill="#4d4d4d">0.25</text>
<line x1="68.10" y1="1052.10" x2="72.30" y2="1052.10" stroke="#222" stroke-width="1.3"/>
<text x="65.2" y="1058.6" font-size="18.3" text-anchor="end" font-weight="normal" fill="#4d4d4d">0.50</text>
<line x1="68.10" y1="933.95" x2="72.30" y2="933.95" stroke="#222" stroke-width="1.3"/>
<text x="65.2" y="940.45" font-size="18.3" text-anchor="end" font-weight="normal" fill="#4d4d4d">0.75</text>
<line x1="68.10" y1="815.80" x2="72.30" y2="815.80" stroke="#222" stroke-width="1.3"/>
<text x="65.2" y="822.3" font-size="18.3" text-anchor="end" font-weight="normal" fill="#4d4d4d">1.00</text>
<line x1="183.20" y1="1300.0" x2="183.20" y2="1304.20" stroke="#222" stroke-width="1.3"/>
<text x="183.2" y="1319.8" font-size="18.3" text-anchor="middle" font-weight="normal" fill="#4d4d4d">GG 1&amp;2</text>
<line x1="368.10" y1="1300.0" x2="368.10" y2="1304.20" stroke="#222" stroke-width="1.3"/>
<text x="368.1" y="1319.8" font-size="18.3" text-anchor="middle" font-weight="normal" fill="#4d4d4d">GG 3</text>
<line x1="553.00" y1="1300.0" x2="553.00" y2="1304.20" stroke="#222" stroke-width="1.3"/>
<text x="553.0" y="1319.8" font-size="18.3" text-anchor="middle" font-weight="normal" fill="#4d4d4d">GG 4&amp;5</text>
<text x="368.0" y="1339.9" font-size="18.0" text-anchor="middle" font-weight="normal" fill="#000">Gleason Grade Group</text>
<text transform="translate(19.9 1051.2) rotate(-90)" font-size="18" text-anchor="middle">Decipher Score</text>
<text x="129.2" y="845.9" font-size="22.8" text-anchor="start" font-weight="normal" fill="#000">P=0.0001</text>
<text x="319.0" y="846" font-size="22.8" text-anchor="start" font-weight="normal" fill="#000">P=0.1</text>
<text x="512.3000000000001" y="846" font-size="22.8" text-anchor="start" font-weight="normal" fill="#000">P=0.19</text>
<line x1="780.7" y1="1258.00" x2="1379.8" y2="1258.00" stroke="#f0f0f0" stroke-width="1"/>
<line x1="780.7" y1="1132.80" x2="1379.8" y2="1132.80" stroke="#f0f0f0" stroke-width="1"/>
<line x1="780.7" y1="1007.60" x2="1379.8" y2="1007.60" stroke="#f0f0f0" stroke-width="1"/>
<line x1="780.7" y1="882.40" x2="1379.8" y2="882.40" stroke="#f0f0f0" stroke-width="1"/>
<line x1="780.7" y1="1195.40" x2="1379.8" y2="1195.40" stroke="#ebebeb" stroke-width="1.3"/>
<line x1="780.7" y1="1070.20" x2="1379.8" y2="1070.20" stroke="#ebebeb" stroke-width="1.3"/>
<line x1="780.7" y1="945.00" x2="1379.8" y2="945.00" stroke="#ebebeb" stroke-width="1.3"/>
<line x1="780.7" y1="819.80" x2="1379.8" y2="819.80" stroke="#ebebeb" stroke-width="1.3"/>
<line x1="892.80" y1="802.0" x2="892.80" y2="1299.5" stroke="#ebebeb" stroke-width="1.3"/>
<line x1="1080.30" y1="802.0" x2="1080.30" y2="1299.5" stroke="#ebebeb" stroke-width="1.3"/>
<line x1="1267.80" y1="802.0" x2="1267.80" y2="1299.5" stroke="#ebebeb" stroke-width="1.3"/>
<line x1="857.60" y1="907.20" x2="857.60" y2="1071.30" stroke="#333" stroke-width="1.2"/>
<line x1="857.60" y1="1185.10" x2="857.60" y2="1276.80" stroke="#333" stroke-width="1.2"/>
<path d="M822.40 1071.30H892.80V1125.10L875.20 1134.30L892.80 1143.50V1185.10H822.40V1143.50L840.00 1134.30L822.40 1125.10Z" fill="#00008b" stroke="#333" stroke-width="1.2"/>
<line x1="840.00" y1="1134.30" x2="875.20" y2="1134.30" stroke="#333" stroke-width="2.4"/>
<line x1="928.00" y1="908.60" x2="928.00" y2="1059.30" stroke="#333" stroke-width="1.2"/>
<line x1="928.00" y1="1182.10" x2="928.00" y2="1275.60" stroke="#333" stroke-width="1.2"/>
<path d="M892.80 1059.30H963.20V1121.60L945.60 1132.00L963.20 1142.90V1182.10H892.80V1142.90L910.40 1132.00L892.80 1121.60Z" fill="#d9d9d9" stroke="#333" stroke-width="1.2"/>
<line x1="910.40" y1="1132.00" x2="945.60" y2="1132.00" stroke="#333" stroke-width="2.4"/>
<line x1="1045.10" y1="867.60" x2="1045.10" y2="1001.10" stroke="#333" stroke-width="1.2"/>
<line x1="1045.10" y1="1126.20" x2="1045.10" y2="1223.90" stroke="#333" stroke-width="1.2"/>
<path d="M1009.90 1001.10H1080.30V1049.60L1062.70 1066.20L1080.30 1083.50V1126.20H1009.90V1083.50L1027.50 1066.20L1009.90 1049.60Z" fill="#00008b" stroke="#333" stroke-width="1.2"/>
<line x1="1027.50" y1="1066.20" x2="1062.70" y2="1066.20" stroke="#333" stroke-width="2.4"/>
<line x1="1115.50" y1="861.60" x2="1115.50" y2="993.30" stroke="#333" stroke-width="1.2"/>
<line x1="1115.50" y1="1119.10" x2="1115.50" y2="1248.70" stroke="#333" stroke-width="1.2"/>
<path d="M1080.30 993.30H1150.70V1041.90L1133.10 1057.80L1150.70 1074.00V1119.10H1080.30V1074.00L1097.90 1057.80L1080.30 1041.90Z" fill="#d9d9d9" stroke="#333" stroke-width="1.2"/>
<line x1="1097.90" y1="1057.80" x2="1133.10" y2="1057.80" stroke="#333" stroke-width="2.4"/>
<line x1="1232.60" y1="835.60" x2="1232.60" y2="948.70" stroke="#333" stroke-width="1.2"/>
<line x1="1232.60" y1="1111.30" x2="1232.60" y2="1239.70" stroke="#333" stroke-width="1.2"/>
<path d="M1197.40 948.70H1267.80V1009.00L1250.20 1035.10L1267.80 1061.40V1111.30H1197.40V1061.40L1215.00 1035.10L1197.40 1009.00Z" fill="#00008b" stroke="#333" stroke-width="1.2"/>
<line x1="1215.00" y1="1035.10" x2="1250.20" y2="1035.10" stroke="#333" stroke-width="2.4"/>
<line x1="1303.00" y1="824.20" x2="1303.00" y2="907.20" stroke="#333" stroke-width="1.2"/>
<line x1="1303.00" y1="1044.90" x2="1303.00" y2="1198.60" stroke="#333" stroke-width="1.2"/>
<path d="M1267.80 907.20H1338.20V958.40L1320.60 982.40L1338.20 1006.50V1044.90H1267.80V1006.50L1285.40 982.40L1267.80 958.40Z" fill="#d9d9d9" stroke="#333" stroke-width="1.2"/>
<line x1="1285.40" y1="982.40" x2="1320.60" y2="982.40" stroke="#333" stroke-width="2.4"/>
<rect x="780.7" y="802.0" width="599.10" height="497.50" fill="none" stroke="#969696" stroke-width="1.3"/>
<line x1="776.50" y1="1195.40" x2="780.70" y2="1195.40" stroke="#222" stroke-width="1.3"/>
<text x="774.0" y="1201.9" font-size="18.3" text-anchor="end" font-weight="normal" fill="#4d4d4d">0.25</text>
<line x1="776.50" y1="1070.20" x2="780.70" y2="1070.20" stroke="#222" stroke-width="1.3"/>
<text x="774.0" y="1076.7" font-size="18.3" text-anchor="end" font-weight="normal" fill="#4d4d4d">0.50</text>
<line x1="776.50" y1="945.00" x2="780.70" y2="945.00" stroke="#222" stroke-width="1.3"/>
<text x="774.0" y="951.5" font-size="18.3" text-anchor="end" font-weight="normal" fill="#4d4d4d">0.75</text>
<line x1="776.50" y1="819.80" x2="780.70" y2="819.80" stroke="#222" stroke-width="1.3"/>
<text x="774.0" y="826.3" font-size="18.3" text-anchor="end" font-weight="normal" fill="#4d4d4d">1.00</text>
<line x1="892.80" y1="1299.5" x2="892.80" y2="1303.70" stroke="#222" stroke-width="1.3"/>
<text x="892.8" y="1319.8" font-size="18.3" text-anchor="middle" font-weight="normal" fill="#4d4d4d">GG 1&amp;2</text>
<line x1="1080.30" y1="1299.5" x2="1080.30" y2="1303.70" stroke="#222" stroke-width="1.3"/>
<text x="1080.3" y="1319.8" font-size="18.3" text-anchor="middle" font-weight="normal" fill="#4d4d4d">GG 3</text>
<line x1="1267.80" y1="1299.5" x2="1267.80" y2="1303.70" stroke="#222" stroke-width="1.3"/>
<text x="1267.8" y="1319.8" font-size="18.3" text-anchor="middle" font-weight="normal" fill="#4d4d4d">GG 4&amp;5</text>
<text x="1080.25" y="1339.9" font-size="18.0" text-anchor="middle" font-weight="normal" fill="#000">Gleason Grade Group</text>
<text transform="translate(727.8 1050.3) rotate(-90)" font-size="18" text-anchor="middle">Average Genomic Risk</text>
<text x="826.1" y="843.1" font-size="22.8" text-anchor="start" font-weight="normal" fill="#000">P=0.37</text>
<text x="1015.4000000000001" y="843.1" font-size="22.8" text-anchor="start" font-weight="normal" fill="#000">P=0.44</text>
<text x="1208.3" y="843.1" font-size="22.8" text-anchor="start" font-weight="normal" fill="#000">P=0.001</text>
<rect x="1398.5" y="882.5" width="110" height="121" fill="#fff" stroke="#a8a8a8" stroke-width="1"/>
<text x="1427.6" y="911.4" font-size="23.2" text-anchor="start" font-weight="normal" fill="#000">Race</text>
<rect x="1404.2" y="936.3" width="18.5" height="19.9" fill="#a6a6a6"/>
<text x="1429.1" y="955.4" font-size="23.2" text-anchor="start" font-weight="normal" fill="#000">EAM</text>
<rect x="1404.2" y="977.6" width="18.5" height="20.1" fill="#003399"/>
<text x="1430" y="993.9" font-size="23.2" text-anchor="start" font-weight="normal" fill="#000">AAM</text>
</svg>
</body></html>
